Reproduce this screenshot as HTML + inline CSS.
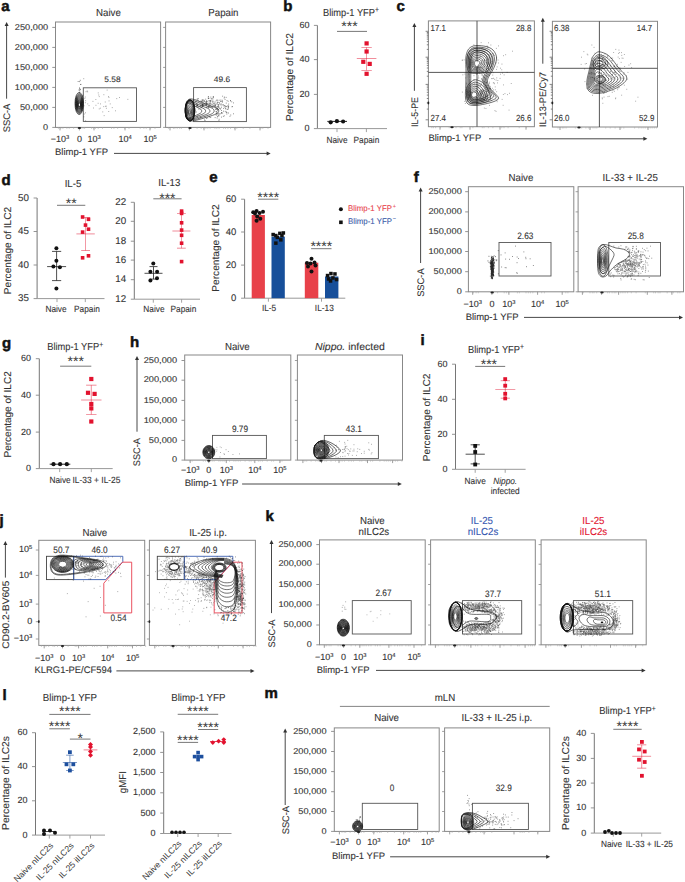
<!DOCTYPE html>
<html><head><meta charset="utf-8"><style>
html,body{margin:0;padding:0;background:#fff;}
svg{display:block;}
text{font-family:"Liberation Sans",sans-serif;text-rendering:geometricPrecision;paint-order:stroke;}
</style></head><body>
<svg width="685" height="882" viewBox="0 0 685 882">
<rect width="685" height="882" fill="#fff"/>
<text x="1.3" y="10.8" font-size="15" font-weight="bold" fill="#111" stroke="#111" stroke-width="0.5">a</text>
<text x="108.4" y="15.9" font-size="10.2" text-anchor="middle" fill="#333" stroke="#333" stroke-width="0.1" textLength="24.8" lengthAdjust="spacingAndGlyphs">Naive</text>
<text x="223.4" y="15.7" font-size="10.2" text-anchor="middle" fill="#333" stroke="#333" stroke-width="0.1" textLength="30.2" lengthAdjust="spacingAndGlyphs">Papain</text>
<rect x="55.5" y="22.0" width="105.1" height="105.4" stroke="#888" stroke-width="1" fill="none"/>
<rect x="165.6" y="22.0" width="105.0" height="105.4" stroke="#888" stroke-width="1" fill="none"/>
<line x1="52.3" y1="27.4" x2="55.5" y2="27.4" stroke="#888" stroke-width="0.9"/>
<text x="48.2" y="29.6" font-size="8.4" text-anchor="end" fill="#333" stroke="#333" stroke-width="0.1" textLength="33.4" lengthAdjust="spacingAndGlyphs">250,000</text>
<line x1="52.3" y1="47.4" x2="55.5" y2="47.4" stroke="#888" stroke-width="0.9"/>
<text x="48.2" y="49.6" font-size="8.4" text-anchor="end" fill="#333" stroke="#333" stroke-width="0.1" textLength="33.4" lengthAdjust="spacingAndGlyphs">200,000</text>
<line x1="52.3" y1="67.4" x2="55.5" y2="67.4" stroke="#888" stroke-width="0.9"/>
<text x="48.2" y="69.6" font-size="8.4" text-anchor="end" fill="#333" stroke="#333" stroke-width="0.1" textLength="33.4" lengthAdjust="spacingAndGlyphs">150,000</text>
<line x1="52.3" y1="87.4" x2="55.5" y2="87.4" stroke="#888" stroke-width="0.9"/>
<text x="48.2" y="89.6" font-size="8.4" text-anchor="end" fill="#333" stroke="#333" stroke-width="0.1" textLength="33.4" lengthAdjust="spacingAndGlyphs">100,000</text>
<line x1="52.3" y1="107.4" x2="55.5" y2="107.4" stroke="#888" stroke-width="0.9"/>
<text x="48.2" y="109.6" font-size="8.4" text-anchor="end" fill="#333" stroke="#333" stroke-width="0.1" textLength="28.3" lengthAdjust="spacingAndGlyphs">50,000</text>
<line x1="52.3" y1="127.4" x2="55.5" y2="127.4" stroke="#888" stroke-width="0.9"/>
<text x="48.2" y="129.6" font-size="8.4" text-anchor="end" fill="#333" stroke="#333" stroke-width="0.1" textLength="5.1" lengthAdjust="spacingAndGlyphs">0</text>
<line x1="163.1" y1="27.4" x2="165.6" y2="27.4" stroke="#888" stroke-width="0.8"/>
<line x1="163.1" y1="47.4" x2="165.6" y2="47.4" stroke="#888" stroke-width="0.8"/>
<line x1="163.1" y1="67.4" x2="165.6" y2="67.4" stroke="#888" stroke-width="0.8"/>
<line x1="163.1" y1="87.4" x2="165.6" y2="87.4" stroke="#888" stroke-width="0.8"/>
<line x1="163.1" y1="107.4" x2="165.6" y2="107.4" stroke="#888" stroke-width="0.8"/>
<line x1="163.1" y1="127.4" x2="165.6" y2="127.4" stroke="#888" stroke-width="0.8"/>
<line x1="60.0" y1="127.4" x2="60.0" y2="130.4" stroke="#888" stroke-width="0.8"/>
<line x1="79.4" y1="127.4" x2="79.4" y2="130.4" stroke="#888" stroke-width="0.8"/>
<line x1="94.0" y1="127.4" x2="94.0" y2="130.4" stroke="#888" stroke-width="0.8"/>
<line x1="125.0" y1="127.4" x2="125.0" y2="130.4" stroke="#888" stroke-width="0.8"/>
<line x1="150.0" y1="127.4" x2="150.0" y2="130.4" stroke="#888" stroke-width="0.8"/>
<line x1="58.4" y1="127.4" x2="58.4" y2="128.9" stroke="#aaa" stroke-width="0.6"/>
<line x1="60.8" y1="127.4" x2="60.8" y2="128.9" stroke="#aaa" stroke-width="0.6"/>
<line x1="62.9" y1="127.4" x2="62.9" y2="128.9" stroke="#aaa" stroke-width="0.6"/>
<line x1="66.9" y1="127.4" x2="66.9" y2="128.9" stroke="#aaa" stroke-width="0.6"/>
<line x1="69.2" y1="127.4" x2="69.2" y2="128.9" stroke="#aaa" stroke-width="0.6"/>
<line x1="73.6" y1="127.4" x2="73.6" y2="128.9" stroke="#aaa" stroke-width="0.6"/>
<line x1="78.4" y1="127.4" x2="78.4" y2="128.9" stroke="#aaa" stroke-width="0.6"/>
<line x1="80.9" y1="127.4" x2="80.9" y2="128.9" stroke="#aaa" stroke-width="0.6"/>
<line x1="83.0" y1="127.4" x2="83.0" y2="128.9" stroke="#aaa" stroke-width="0.6"/>
<line x1="84.6" y1="127.4" x2="84.6" y2="128.9" stroke="#aaa" stroke-width="0.6"/>
<line x1="91.6" y1="127.4" x2="91.6" y2="128.9" stroke="#aaa" stroke-width="0.6"/>
<line x1="93.7" y1="127.4" x2="93.7" y2="128.9" stroke="#aaa" stroke-width="0.6"/>
<line x1="95.5" y1="127.4" x2="95.5" y2="128.9" stroke="#aaa" stroke-width="0.6"/>
<line x1="98.2" y1="127.4" x2="98.2" y2="128.9" stroke="#aaa" stroke-width="0.6"/>
<line x1="102.5" y1="127.4" x2="102.5" y2="128.9" stroke="#aaa" stroke-width="0.6"/>
<line x1="111.5" y1="127.4" x2="111.5" y2="128.9" stroke="#aaa" stroke-width="0.6"/>
<line x1="113.9" y1="127.4" x2="113.9" y2="128.9" stroke="#aaa" stroke-width="0.6"/>
<line x1="117.6" y1="127.4" x2="117.6" y2="128.9" stroke="#aaa" stroke-width="0.6"/>
<line x1="124.8" y1="127.4" x2="124.8" y2="128.9" stroke="#aaa" stroke-width="0.6"/>
<line x1="129.0" y1="127.4" x2="129.0" y2="128.9" stroke="#aaa" stroke-width="0.6"/>
<line x1="140.2" y1="127.4" x2="140.2" y2="128.9" stroke="#aaa" stroke-width="0.6"/>
<line x1="143.9" y1="127.4" x2="143.9" y2="128.9" stroke="#aaa" stroke-width="0.6"/>
<line x1="146.2" y1="127.4" x2="146.2" y2="128.9" stroke="#aaa" stroke-width="0.6"/>
<line x1="150.6" y1="127.4" x2="150.6" y2="128.9" stroke="#aaa" stroke-width="0.6"/>
<line x1="155.0" y1="127.4" x2="155.0" y2="128.9" stroke="#aaa" stroke-width="0.6"/>
<line x1="170.0" y1="127.4" x2="170.0" y2="130.4" stroke="#888" stroke-width="0.8"/>
<line x1="189.4" y1="127.4" x2="189.4" y2="130.4" stroke="#888" stroke-width="0.8"/>
<line x1="204.0" y1="127.4" x2="204.0" y2="130.4" stroke="#888" stroke-width="0.8"/>
<line x1="235.0" y1="127.4" x2="235.0" y2="130.4" stroke="#888" stroke-width="0.8"/>
<line x1="260.0" y1="127.4" x2="260.0" y2="130.4" stroke="#888" stroke-width="0.8"/>
<line x1="168.4" y1="127.4" x2="168.4" y2="128.9" stroke="#aaa" stroke-width="0.6"/>
<line x1="173.4" y1="127.4" x2="173.4" y2="128.9" stroke="#aaa" stroke-width="0.6"/>
<line x1="174.9" y1="127.4" x2="174.9" y2="128.9" stroke="#aaa" stroke-width="0.6"/>
<line x1="177.2" y1="127.4" x2="177.2" y2="128.9" stroke="#aaa" stroke-width="0.6"/>
<line x1="179.7" y1="127.4" x2="179.7" y2="128.9" stroke="#aaa" stroke-width="0.6"/>
<line x1="181.4" y1="127.4" x2="181.4" y2="128.9" stroke="#aaa" stroke-width="0.6"/>
<line x1="190.7" y1="127.4" x2="190.7" y2="128.9" stroke="#aaa" stroke-width="0.6"/>
<line x1="197.1" y1="127.4" x2="197.1" y2="128.9" stroke="#aaa" stroke-width="0.6"/>
<line x1="201.2" y1="127.4" x2="201.2" y2="128.9" stroke="#aaa" stroke-width="0.6"/>
<line x1="203.6" y1="127.4" x2="203.6" y2="128.9" stroke="#aaa" stroke-width="0.6"/>
<line x1="205.9" y1="127.4" x2="205.9" y2="128.9" stroke="#aaa" stroke-width="0.6"/>
<line x1="207.8" y1="127.4" x2="207.8" y2="128.9" stroke="#aaa" stroke-width="0.6"/>
<line x1="210.1" y1="127.4" x2="210.1" y2="128.9" stroke="#aaa" stroke-width="0.6"/>
<line x1="214.9" y1="127.4" x2="214.9" y2="128.9" stroke="#aaa" stroke-width="0.6"/>
<line x1="216.8" y1="127.4" x2="216.8" y2="128.9" stroke="#aaa" stroke-width="0.6"/>
<line x1="219.1" y1="127.4" x2="219.1" y2="128.9" stroke="#aaa" stroke-width="0.6"/>
<line x1="223.6" y1="127.4" x2="223.6" y2="128.9" stroke="#aaa" stroke-width="0.6"/>
<line x1="225.5" y1="127.4" x2="225.5" y2="128.9" stroke="#aaa" stroke-width="0.6"/>
<line x1="227.9" y1="127.4" x2="227.9" y2="128.9" stroke="#aaa" stroke-width="0.6"/>
<line x1="230.5" y1="127.4" x2="230.5" y2="128.9" stroke="#aaa" stroke-width="0.6"/>
<line x1="234.6" y1="127.4" x2="234.6" y2="128.9" stroke="#aaa" stroke-width="0.6"/>
<line x1="236.8" y1="127.4" x2="236.8" y2="128.9" stroke="#aaa" stroke-width="0.6"/>
<line x1="243.2" y1="127.4" x2="243.2" y2="128.9" stroke="#aaa" stroke-width="0.6"/>
<line x1="249.9" y1="127.4" x2="249.9" y2="128.9" stroke="#aaa" stroke-width="0.6"/>
<line x1="260.9" y1="127.4" x2="260.9" y2="128.9" stroke="#aaa" stroke-width="0.6"/>
<line x1="262.8" y1="127.4" x2="262.8" y2="128.9" stroke="#aaa" stroke-width="0.6"/>
<line x1="268.0" y1="127.4" x2="268.0" y2="128.9" stroke="#aaa" stroke-width="0.6"/>
<text x="60.0" y="142.4" font-size="9" text-anchor="middle" fill="#333" stroke="#333" stroke-width="0.1">−10<tspan font-size="5.8" dy="-3.3">3</tspan></text>
<text x="79.4" y="142.4" font-size="9" text-anchor="middle" fill="#333" stroke="#333" stroke-width="0.1">0</text>
<text x="94.0" y="142.4" font-size="9" text-anchor="middle" fill="#333" stroke="#333" stroke-width="0.1">10<tspan font-size="5.8" dy="-3.3">3</tspan></text>
<text x="125.0" y="142.4" font-size="9" text-anchor="middle" fill="#333" stroke="#333" stroke-width="0.1">10<tspan font-size="5.8" dy="-3.3">4</tspan></text>
<text x="150.0" y="142.4" font-size="9" text-anchor="middle" fill="#333" stroke="#333" stroke-width="0.1">10<tspan font-size="5.8" dy="-3.3">5</tspan></text>
<text x="55.0" y="154.6" font-size="9.5" text-anchor="start" fill="#333" stroke="#333" stroke-width="0.1" textLength="53" lengthAdjust="spacingAndGlyphs">Blimp-1 YFP</text>
<line x1="114.0" y1="153.4" x2="267.6" y2="153.4" stroke="#333" stroke-width="0.9"/>
<path d="M266.6,151.4 L270.6,153.4 L266.6,155.4 Z" fill="#333"/>
<text transform="translate(6.7,118.0) rotate(-90)" x="0" y="3.4" font-size="9.5" text-anchor="middle" fill="#333" stroke="#333" stroke-width="0.1" textLength="28.6" lengthAdjust="spacingAndGlyphs">SSC-A</text>
<line x1="6.6" y1="25.0" x2="6.6" y2="98.7" stroke="#333" stroke-width="0.9"/>
<path d="M4.6,26.0 L6.6,22.0 L8.6,26.0 Z" fill="#333"/>
<rect x="83.3" y="87.8" width="53.2" height="33.6" stroke="#555" stroke-width="0.9" fill="none"/>
<rect x="193.6" y="87.6" width="52.8" height="34.0" stroke="#555" stroke-width="0.9" fill="none"/>
<text x="112.4" y="82.0" font-size="8.0" text-anchor="middle" fill="#333" stroke="#333" stroke-width="0.1" textLength="16.3" lengthAdjust="spacingAndGlyphs">5.58</text>
<text x="222.0" y="82.0" font-size="8.0" text-anchor="middle" fill="#333" stroke="#333" stroke-width="0.1" textLength="16.3" lengthAdjust="spacingAndGlyphs">49.6</text>
<text x="283.3" y="10.8" font-size="15" font-weight="bold" fill="#111" stroke="#111" stroke-width="0.5">b</text>
<text x="351.0" y="15.8" font-size="10.2" text-anchor="middle" fill="#333" stroke="#333" stroke-width="0.1" textLength="56" lengthAdjust="spacingAndGlyphs">Blimp-1 YFP<tspan font-size="7.5" dy="-3.6">+</tspan></text>
<line x1="317.4" y1="25.4" x2="317.4" y2="128.6" stroke="#666" stroke-width="0.9"/>
<line x1="317.4" y1="128.6" x2="387.0" y2="128.6" stroke="#999" stroke-width="1"/>
<line x1="313.9" y1="25.4" x2="317.4" y2="25.4" stroke="#888" stroke-width="0.9"/>
<text x="309.6" y="27.8" font-size="9" text-anchor="end" fill="#333" stroke="#333" stroke-width="0.1">60</text>
<line x1="313.9" y1="59.6" x2="317.4" y2="59.6" stroke="#888" stroke-width="0.9"/>
<text x="309.6" y="62.0" font-size="9" text-anchor="end" fill="#333" stroke="#333" stroke-width="0.1">40</text>
<line x1="313.9" y1="94.4" x2="317.4" y2="94.4" stroke="#888" stroke-width="0.9"/>
<text x="309.6" y="96.8" font-size="9" text-anchor="end" fill="#333" stroke="#333" stroke-width="0.1">20</text>
<line x1="313.9" y1="128.6" x2="317.4" y2="128.6" stroke="#888" stroke-width="0.9"/>
<text x="309.6" y="131.0" font-size="9" text-anchor="end" fill="#333" stroke="#333" stroke-width="0.1">0</text>
<line x1="337.0" y1="128.6" x2="337.0" y2="132.1" stroke="#999" stroke-width="0.9"/>
<line x1="366.4" y1="128.6" x2="366.4" y2="132.1" stroke="#999" stroke-width="0.9"/>
<text transform="translate(289.0,77.0) rotate(-90)" x="0" y="3.6" font-size="10" text-anchor="middle" fill="#333" stroke="#333" stroke-width="0.1" textLength="88" lengthAdjust="spacingAndGlyphs">Percentage of ILC2</text>
<text x="337.0" y="143.4" font-size="9.0" text-anchor="middle" fill="#333" stroke="#333" stroke-width="0.1" textLength="21.2" lengthAdjust="spacingAndGlyphs">Naive</text>
<text x="366.4" y="143.4" font-size="9.0" text-anchor="middle" fill="#333" stroke="#333" stroke-width="0.1" textLength="25.8" lengthAdjust="spacingAndGlyphs">Papain</text>
<line x1="337.0" y1="31.4" x2="367.0" y2="31.4" stroke="#555" stroke-width="0.8"/>
<text x="349.5" y="30.9" font-size="14" text-anchor="middle" fill="#333">***</text>
<line x1="327.3" y1="121.4" x2="347.0" y2="121.4" stroke="#111" stroke-width="0.9"/>
<circle cx="330.7" cy="122.3" r="2.1" fill="#111"/>
<circle cx="336.9" cy="121.2" r="2.1" fill="#111"/>
<circle cx="343.1" cy="121.5" r="2.1" fill="#111"/>
<line x1="356.8" y1="58.5" x2="376.4" y2="58.5" stroke="#e2122e" stroke-width="0.8" opacity="0.6"/>
<line x1="366.6" y1="47.4" x2="366.6" y2="70.4" stroke="#e2122e" stroke-width="0.8" opacity="0.6"/>
<line x1="361.4" y1="47.4" x2="371.8" y2="47.4" stroke="#e2122e" stroke-width="0.8" opacity="0.6"/>
<line x1="361.4" y1="70.4" x2="371.8" y2="70.4" stroke="#e2122e" stroke-width="0.8" opacity="0.6"/>
<rect x="364.5" y="41.3" width="4.2" height="4.2" fill="#e2122e"/>
<rect x="364.5" y="49.4" width="4.2" height="4.2" fill="#e2122e"/>
<rect x="361.2" y="59.7" width="4.2" height="4.2" fill="#e2122e"/>
<rect x="367.6" y="61.8" width="4.2" height="4.2" fill="#e2122e"/>
<rect x="364.5" y="71.7" width="4.2" height="4.2" fill="#e2122e"/>
<text x="396.5" y="10.8" font-size="15" font-weight="bold" fill="#111" stroke="#111" stroke-width="0.5">c</text>
<rect x="428.4" y="20.9" width="106.0" height="105.8" stroke="#888" stroke-width="1" fill="none"/>
<rect x="552.4" y="21.3" width="105.1" height="105.7" stroke="#888" stroke-width="1" fill="none"/>
<line x1="477.0" y1="20.9" x2="477.0" y2="126.7" stroke="#444" stroke-width="0.9"/>
<line x1="428.4" y1="72.4" x2="534.4" y2="72.4" stroke="#444" stroke-width="0.9"/>
<line x1="599.4" y1="21.3" x2="599.4" y2="127.0" stroke="#444" stroke-width="0.9"/>
<line x1="552.4" y1="68.3" x2="657.5" y2="68.3" stroke="#444" stroke-width="0.9"/>
<path d="M425.6 119.8H428.4M425.6 84.4H428.4M425.6 57.2H428.4M425.6 31.3H428.4M426.8 109.1H428.4M426.8 102.9H428.4M426.8 98.5H428.4M426.8 95.1H428.4M426.8 92.3H428.4M426.8 89.9H428.4M426.8 87.8H428.4M426.8 86.0H428.4M426.8 76.2H428.4M426.8 71.4H428.4M426.8 68.0H428.4M426.8 65.4H428.4M426.8 63.2H428.4M426.8 61.4H428.4M426.8 59.8H428.4M426.8 58.4H428.4M426.8 49.4H428.4M426.8 44.8H428.4M426.8 41.6H428.4M426.8 39.1H428.4M426.8 37.0H428.4M426.8 35.3H428.4M426.8 33.8H428.4M426.8 32.5H428.4" stroke="#666" stroke-width="0.8"/>
<path d="M549.6 119.8H552.4M549.6 84.4H552.4M549.6 57.2H552.4M549.6 31.3H552.4M550.8 109.1H552.4M550.8 102.9H552.4M550.8 98.5H552.4M550.8 95.1H552.4M550.8 92.3H552.4M550.8 89.9H552.4M550.8 87.8H552.4M550.8 86.0H552.4M550.8 76.2H552.4M550.8 71.4H552.4M550.8 68.0H552.4M550.8 65.4H552.4M550.8 63.2H552.4M550.8 61.4H552.4M550.8 59.8H552.4M550.8 58.4H552.4M550.8 49.4H552.4M550.8 44.8H552.4M550.8 41.6H552.4M550.8 39.1H552.4M550.8 37.0H552.4M550.8 35.3H552.4M550.8 33.8H552.4M550.8 32.5H552.4" stroke="#666" stroke-width="0.8"/>
<line x1="440.0" y1="126.7" x2="440.0" y2="129.7" stroke="#888" stroke-width="0.8"/>
<line x1="470.0" y1="126.7" x2="470.0" y2="129.7" stroke="#888" stroke-width="0.8"/>
<line x1="500.0" y1="126.7" x2="500.0" y2="129.7" stroke="#888" stroke-width="0.8"/>
<line x1="526.0" y1="126.7" x2="526.0" y2="129.7" stroke="#888" stroke-width="0.8"/>
<line x1="431.8" y1="126.7" x2="431.8" y2="128.2" stroke="#aaa" stroke-width="0.6"/>
<line x1="433.4" y1="126.7" x2="433.4" y2="128.2" stroke="#aaa" stroke-width="0.6"/>
<line x1="435.6" y1="126.7" x2="435.6" y2="128.2" stroke="#aaa" stroke-width="0.6"/>
<line x1="440.5" y1="126.7" x2="440.5" y2="128.2" stroke="#aaa" stroke-width="0.6"/>
<line x1="449.2" y1="126.7" x2="449.2" y2="128.2" stroke="#aaa" stroke-width="0.6"/>
<line x1="456.0" y1="126.7" x2="456.0" y2="128.2" stroke="#aaa" stroke-width="0.6"/>
<line x1="460.2" y1="126.7" x2="460.2" y2="128.2" stroke="#aaa" stroke-width="0.6"/>
<line x1="461.9" y1="126.7" x2="461.9" y2="128.2" stroke="#aaa" stroke-width="0.6"/>
<line x1="472.9" y1="126.7" x2="472.9" y2="128.2" stroke="#aaa" stroke-width="0.6"/>
<line x1="482.3" y1="126.7" x2="482.3" y2="128.2" stroke="#aaa" stroke-width="0.6"/>
<line x1="484.0" y1="126.7" x2="484.0" y2="128.2" stroke="#aaa" stroke-width="0.6"/>
<line x1="488.4" y1="126.7" x2="488.4" y2="128.2" stroke="#aaa" stroke-width="0.6"/>
<line x1="492.9" y1="126.7" x2="492.9" y2="128.2" stroke="#aaa" stroke-width="0.6"/>
<line x1="501.8" y1="126.7" x2="501.8" y2="128.2" stroke="#aaa" stroke-width="0.6"/>
<line x1="504.0" y1="126.7" x2="504.0" y2="128.2" stroke="#aaa" stroke-width="0.6"/>
<line x1="508.1" y1="126.7" x2="508.1" y2="128.2" stroke="#aaa" stroke-width="0.6"/>
<line x1="519.2" y1="126.7" x2="519.2" y2="128.2" stroke="#aaa" stroke-width="0.6"/>
<line x1="526.3" y1="126.7" x2="526.3" y2="128.2" stroke="#aaa" stroke-width="0.6"/>
<line x1="560.0" y1="127.0" x2="560.0" y2="130.0" stroke="#888" stroke-width="0.8"/>
<line x1="590.0" y1="127.0" x2="590.0" y2="130.0" stroke="#888" stroke-width="0.8"/>
<line x1="620.0" y1="127.0" x2="620.0" y2="130.0" stroke="#888" stroke-width="0.8"/>
<line x1="648.0" y1="127.0" x2="648.0" y2="130.0" stroke="#888" stroke-width="0.8"/>
<line x1="558.0" y1="127.0" x2="558.0" y2="128.5" stroke="#aaa" stroke-width="0.6"/>
<line x1="562.3" y1="127.0" x2="562.3" y2="128.5" stroke="#aaa" stroke-width="0.6"/>
<line x1="563.9" y1="127.0" x2="563.9" y2="128.5" stroke="#aaa" stroke-width="0.6"/>
<line x1="566.1" y1="127.0" x2="566.1" y2="128.5" stroke="#aaa" stroke-width="0.6"/>
<line x1="575.3" y1="127.0" x2="575.3" y2="128.5" stroke="#aaa" stroke-width="0.6"/>
<line x1="581.7" y1="127.0" x2="581.7" y2="128.5" stroke="#aaa" stroke-width="0.6"/>
<line x1="585.9" y1="127.0" x2="585.9" y2="128.5" stroke="#aaa" stroke-width="0.6"/>
<line x1="588.4" y1="127.0" x2="588.4" y2="128.5" stroke="#aaa" stroke-width="0.6"/>
<line x1="590.4" y1="127.0" x2="590.4" y2="128.5" stroke="#aaa" stroke-width="0.6"/>
<line x1="593.0" y1="127.0" x2="593.0" y2="128.5" stroke="#aaa" stroke-width="0.6"/>
<line x1="595.0" y1="127.0" x2="595.0" y2="128.5" stroke="#aaa" stroke-width="0.6"/>
<line x1="596.8" y1="127.0" x2="596.8" y2="128.5" stroke="#aaa" stroke-width="0.6"/>
<line x1="605.7" y1="127.0" x2="605.7" y2="128.5" stroke="#aaa" stroke-width="0.6"/>
<line x1="610.2" y1="127.0" x2="610.2" y2="128.5" stroke="#aaa" stroke-width="0.6"/>
<line x1="615.1" y1="127.0" x2="615.1" y2="128.5" stroke="#aaa" stroke-width="0.6"/>
<line x1="621.1" y1="127.0" x2="621.1" y2="128.5" stroke="#aaa" stroke-width="0.6"/>
<line x1="623.8" y1="127.0" x2="623.8" y2="128.5" stroke="#aaa" stroke-width="0.6"/>
<line x1="634.6" y1="127.0" x2="634.6" y2="128.5" stroke="#aaa" stroke-width="0.6"/>
<line x1="638.8" y1="127.0" x2="638.8" y2="128.5" stroke="#aaa" stroke-width="0.6"/>
<line x1="641.2" y1="127.0" x2="641.2" y2="128.5" stroke="#aaa" stroke-width="0.6"/>
<line x1="643.1" y1="127.0" x2="643.1" y2="128.5" stroke="#aaa" stroke-width="0.6"/>
<line x1="645.2" y1="127.0" x2="645.2" y2="128.5" stroke="#aaa" stroke-width="0.6"/>
<line x1="647.6" y1="127.0" x2="647.6" y2="128.5" stroke="#aaa" stroke-width="0.6"/>
<line x1="650.2" y1="127.0" x2="650.2" y2="128.5" stroke="#aaa" stroke-width="0.6"/>
<line x1="652.2" y1="127.0" x2="652.2" y2="128.5" stroke="#aaa" stroke-width="0.6"/>
<line x1="654.3" y1="127.0" x2="654.3" y2="128.5" stroke="#aaa" stroke-width="0.6"/>
<line x1="656.4" y1="127.0" x2="656.4" y2="128.5" stroke="#aaa" stroke-width="0.6"/>
<text x="430.5" y="30.6" font-size="8.8" text-anchor="start" fill="#333" stroke="#333" stroke-width="0.1" textLength="15.4" lengthAdjust="spacingAndGlyphs">17.1</text>
<text x="531.3" y="30.6" font-size="8.8" text-anchor="end" fill="#333" stroke="#333" stroke-width="0.1" textLength="15.4" lengthAdjust="spacingAndGlyphs">28.8</text>
<text x="430.5" y="120.8" font-size="8.8" text-anchor="start" fill="#333" stroke="#333" stroke-width="0.1" textLength="15.4" lengthAdjust="spacingAndGlyphs">27.4</text>
<text x="531.3" y="120.8" font-size="8.8" text-anchor="end" fill="#333" stroke="#333" stroke-width="0.1" textLength="15.4" lengthAdjust="spacingAndGlyphs">26.6</text>
<text x="554.0" y="30.6" font-size="8.8" text-anchor="start" fill="#333" stroke="#333" stroke-width="0.1" textLength="15.4" lengthAdjust="spacingAndGlyphs">6.38</text>
<text x="652.2" y="30.6" font-size="8.8" text-anchor="end" fill="#333" stroke="#333" stroke-width="0.1" textLength="15.4" lengthAdjust="spacingAndGlyphs">14.7</text>
<text x="554.0" y="120.8" font-size="8.8" text-anchor="start" fill="#333" stroke="#333" stroke-width="0.1" textLength="15.4" lengthAdjust="spacingAndGlyphs">26.0</text>
<text x="654.3" y="120.8" font-size="8.8" text-anchor="end" fill="#333" stroke="#333" stroke-width="0.1" textLength="15.4" lengthAdjust="spacingAndGlyphs">52.9</text>
<text transform="translate(414.4,112.0) rotate(-90)" x="0" y="3.4" font-size="9.5" text-anchor="middle" fill="#333" stroke="#333" stroke-width="0.1" textLength="30" lengthAdjust="spacingAndGlyphs">IL-5-PE</text>
<line x1="414.4" y1="26.0" x2="414.4" y2="90.8" stroke="#333" stroke-width="0.9"/>
<path d="M412.4,27.0 L414.4,23.0 L416.4,27.0 Z" fill="#333"/>
<text transform="translate(542.8,99.6) rotate(-90)" x="0" y="3.4" font-size="9.5" text-anchor="middle" fill="#333" stroke="#333" stroke-width="0.1" textLength="55" lengthAdjust="spacingAndGlyphs">IL-13-PE/Cy7</text>
<line x1="542.8" y1="20.7" x2="542.8" y2="63.7" stroke="#333" stroke-width="0.9"/>
<path d="M540.8,21.7 L542.8,17.7 L544.8,21.7 Z" fill="#333"/>
<text x="428.4" y="140.8" font-size="9.5" text-anchor="start" fill="#333" stroke="#333" stroke-width="0.1" textLength="52.8" lengthAdjust="spacingAndGlyphs">Blimp-1 YFP</text>
<line x1="489.0" y1="138.8" x2="644.4" y2="138.8" stroke="#333" stroke-width="0.9"/>
<path d="M643.4,136.8 L647.4,138.8 L643.4,140.8 Z" fill="#333"/>
<text x="1.5" y="184.8" font-size="15" font-weight="bold" fill="#111" stroke="#111" stroke-width="0.5">d</text>
<text x="73.0" y="187.4" font-size="10.2" text-anchor="middle" fill="#333" stroke="#333" stroke-width="0.1" textLength="16.7" lengthAdjust="spacingAndGlyphs">IL-5</text>
<text x="169.3" y="185.9" font-size="10.2" text-anchor="middle" fill="#333" stroke="#333" stroke-width="0.1" textLength="22.1" lengthAdjust="spacingAndGlyphs">IL-13</text>
<line x1="37.1" y1="198.0" x2="37.1" y2="298.6" stroke="#666" stroke-width="0.9"/>
<line x1="37.1" y1="298.6" x2="104.5" y2="298.6" stroke="#999" stroke-width="1"/>
<line x1="33.6" y1="198.0" x2="37.1" y2="198.0" stroke="#888" stroke-width="0.9"/>
<text x="28.9" y="200.7" font-size="9.8" text-anchor="end" fill="#333" stroke="#333" stroke-width="0.1">50</text>
<line x1="33.6" y1="231.5" x2="37.1" y2="231.5" stroke="#888" stroke-width="0.9"/>
<text x="28.9" y="234.2" font-size="9.8" text-anchor="end" fill="#333" stroke="#333" stroke-width="0.1">45</text>
<line x1="33.6" y1="265.0" x2="37.1" y2="265.0" stroke="#888" stroke-width="0.9"/>
<text x="28.9" y="267.7" font-size="9.8" text-anchor="end" fill="#333" stroke="#333" stroke-width="0.1">40</text>
<line x1="33.6" y1="298.6" x2="37.1" y2="298.6" stroke="#888" stroke-width="0.9"/>
<text x="28.9" y="301.3" font-size="9.8" text-anchor="end" fill="#333" stroke="#333" stroke-width="0.1">35</text>
<line x1="57.0" y1="298.6" x2="57.0" y2="302.1" stroke="#999" stroke-width="0.9"/>
<line x1="85.3" y1="298.6" x2="85.3" y2="302.1" stroke="#999" stroke-width="0.9"/>
<line x1="134.3" y1="202.3" x2="134.3" y2="299.2" stroke="#666" stroke-width="0.9"/>
<line x1="134.3" y1="299.2" x2="200.0" y2="299.2" stroke="#999" stroke-width="1"/>
<line x1="130.8" y1="202.3" x2="134.3" y2="202.3" stroke="#888" stroke-width="0.9"/>
<text x="126.1" y="205.0" font-size="9.8" text-anchor="end" fill="#333" stroke="#333" stroke-width="0.1">22</text>
<line x1="130.8" y1="221.3" x2="134.3" y2="221.3" stroke="#888" stroke-width="0.9"/>
<text x="126.1" y="224.0" font-size="9.8" text-anchor="end" fill="#333" stroke="#333" stroke-width="0.1">20</text>
<line x1="130.8" y1="241.2" x2="134.3" y2="241.2" stroke="#888" stroke-width="0.9"/>
<text x="126.1" y="243.9" font-size="9.8" text-anchor="end" fill="#333" stroke="#333" stroke-width="0.1">18</text>
<line x1="130.8" y1="260.1" x2="134.3" y2="260.1" stroke="#888" stroke-width="0.9"/>
<text x="126.1" y="262.8" font-size="9.8" text-anchor="end" fill="#333" stroke="#333" stroke-width="0.1">16</text>
<line x1="130.8" y1="279.7" x2="134.3" y2="279.7" stroke="#888" stroke-width="0.9"/>
<text x="126.1" y="282.4" font-size="9.8" text-anchor="end" fill="#333" stroke="#333" stroke-width="0.1">14</text>
<line x1="130.8" y1="299.2" x2="134.3" y2="299.2" stroke="#888" stroke-width="0.9"/>
<text x="126.1" y="301.9" font-size="9.8" text-anchor="end" fill="#333" stroke="#333" stroke-width="0.1">12</text>
<line x1="153.3" y1="299.2" x2="153.3" y2="302.7" stroke="#999" stroke-width="0.9"/>
<line x1="181.6" y1="299.2" x2="181.6" y2="302.7" stroke="#999" stroke-width="0.9"/>
<text transform="translate(7.3,250.5) rotate(-90)" x="0" y="3.6" font-size="10" text-anchor="middle" fill="#333" stroke="#333" stroke-width="0.1" textLength="87.5" lengthAdjust="spacingAndGlyphs">Percentage of ILC2</text>
<text x="56.0" y="311.6" font-size="9.0" text-anchor="middle" fill="#333" stroke="#333" stroke-width="0.1" textLength="21.2" lengthAdjust="spacingAndGlyphs">Naive</text>
<text x="87.0" y="311.6" font-size="9.0" text-anchor="middle" fill="#333" stroke="#333" stroke-width="0.1" textLength="25.8" lengthAdjust="spacingAndGlyphs">Papain</text>
<text x="153.9" y="312.4" font-size="9.0" text-anchor="middle" fill="#333" stroke="#333" stroke-width="0.1" textLength="21.2" lengthAdjust="spacingAndGlyphs">Naive</text>
<text x="183.4" y="312.4" font-size="9.0" text-anchor="middle" fill="#333" stroke="#333" stroke-width="0.1" textLength="25.8" lengthAdjust="spacingAndGlyphs">Papain</text>
<line x1="57.0" y1="205.3" x2="85.3" y2="205.3" stroke="#555" stroke-width="0.8"/>
<text x="71.2" y="208.2" font-size="14" text-anchor="middle" fill="#333">**</text>
<line x1="153.3" y1="198.8" x2="181.6" y2="198.8" stroke="#555" stroke-width="0.8"/>
<text x="167.4" y="202.6" font-size="14" text-anchor="middle" fill="#333">***</text>
<line x1="47.1" y1="266.6" x2="66.1" y2="266.6" stroke="#222" stroke-width="0.8"/>
<line x1="56.6" y1="251.4" x2="56.6" y2="280.6" stroke="#222" stroke-width="0.8"/>
<line x1="52.0" y1="251.4" x2="61.2" y2="251.4" stroke="#222" stroke-width="0.8"/>
<line x1="52.0" y1="280.6" x2="61.2" y2="280.6" stroke="#222" stroke-width="0.8"/>
<circle cx="56.4" cy="248.2" r="2.0" fill="#111"/>
<circle cx="56.4" cy="260.7" r="2.0" fill="#111"/>
<circle cx="53.4" cy="266.6" r="2.0" fill="#111"/>
<circle cx="59.9" cy="267.2" r="2.0" fill="#111"/>
<circle cx="56.4" cy="288.5" r="2.0" fill="#111"/>
<line x1="76.4" y1="233.9" x2="94.8" y2="233.9" stroke="#e2122e" stroke-width="0.8" opacity="0.6"/>
<line x1="85.6" y1="217.5" x2="85.6" y2="250.5" stroke="#e2122e" stroke-width="0.8" opacity="0.6"/>
<line x1="81.2" y1="217.5" x2="90.0" y2="217.5" stroke="#e2122e" stroke-width="0.8" opacity="0.6"/>
<line x1="81.2" y1="250.5" x2="90.0" y2="250.5" stroke="#e2122e" stroke-width="0.8" opacity="0.6"/>
<rect x="80.8" y="215.2" width="3.6" height="3.6" fill="#e2122e"/>
<rect x="86.7" y="217.5" width="3.6" height="3.6" fill="#e2122e"/>
<rect x="83.7" y="223.3" width="3.6" height="3.6" fill="#e2122e"/>
<rect x="86.7" y="227.4" width="3.6" height="3.6" fill="#e2122e"/>
<rect x="80.8" y="230.3" width="3.6" height="3.6" fill="#e2122e"/>
<rect x="86.7" y="254.0" width="3.6" height="3.6" fill="#e2122e"/>
<rect x="80.8" y="256.0" width="3.6" height="3.6" fill="#e2122e"/>
<line x1="144.5" y1="273.3" x2="162.5" y2="273.3" stroke="#222" stroke-width="0.8"/>
<line x1="153.5" y1="266.6" x2="153.5" y2="279.1" stroke="#222" stroke-width="0.8"/>
<line x1="149.5" y1="266.6" x2="157.5" y2="266.6" stroke="#222" stroke-width="0.8"/>
<line x1="149.5" y1="279.1" x2="157.5" y2="279.1" stroke="#222" stroke-width="0.8"/>
<circle cx="153.3" cy="263.6" r="2.0" fill="#111"/>
<circle cx="150.4" cy="271.8" r="2.0" fill="#111"/>
<circle cx="157.1" cy="271.8" r="2.0" fill="#111"/>
<circle cx="157.0" cy="278.2" r="2.0" fill="#111"/>
<circle cx="150.4" cy="280.6" r="2.0" fill="#111"/>
<line x1="172.4" y1="231.0" x2="190.4" y2="231.0" stroke="#e2122e" stroke-width="0.8" opacity="0.6"/>
<line x1="181.4" y1="213.4" x2="181.4" y2="248.2" stroke="#e2122e" stroke-width="0.8" opacity="0.6"/>
<line x1="177.0" y1="213.4" x2="185.8" y2="213.4" stroke="#e2122e" stroke-width="0.8" opacity="0.6"/>
<line x1="177.0" y1="248.2" x2="185.8" y2="248.2" stroke="#e2122e" stroke-width="0.8" opacity="0.6"/>
<rect x="179.8" y="209.3" width="3.6" height="3.6" fill="#e2122e"/>
<rect x="179.8" y="211.6" width="3.6" height="3.6" fill="#e2122e"/>
<rect x="179.8" y="221.0" width="3.6" height="3.6" fill="#e2122e"/>
<rect x="179.8" y="228.3" width="3.6" height="3.6" fill="#e2122e"/>
<rect x="179.8" y="233.5" width="3.6" height="3.6" fill="#e2122e"/>
<rect x="179.8" y="241.4" width="3.6" height="3.6" fill="#e2122e"/>
<rect x="179.8" y="259.8" width="3.6" height="3.6" fill="#e2122e"/>
<text x="209.3" y="181.6" font-size="15" font-weight="bold" fill="#111" stroke="#111" stroke-width="0.5">e</text>
<line x1="244.6" y1="199.2" x2="244.6" y2="298.2" stroke="#666" stroke-width="0.9"/>
<line x1="244.6" y1="298.2" x2="345.3" y2="298.2" stroke="#999" stroke-width="1"/>
<line x1="241.1" y1="199.2" x2="244.6" y2="199.2" stroke="#888" stroke-width="0.9"/>
<text x="236.4" y="201.8" font-size="9.5" text-anchor="end" fill="#333" stroke="#333" stroke-width="0.1">60</text>
<line x1="241.1" y1="232.0" x2="244.6" y2="232.0" stroke="#888" stroke-width="0.9"/>
<text x="236.4" y="234.6" font-size="9.5" text-anchor="end" fill="#333" stroke="#333" stroke-width="0.1">40</text>
<line x1="241.1" y1="265.1" x2="244.6" y2="265.1" stroke="#888" stroke-width="0.9"/>
<text x="236.4" y="267.7" font-size="9.5" text-anchor="end" fill="#333" stroke="#333" stroke-width="0.1">20</text>
<line x1="241.1" y1="298.2" x2="244.6" y2="298.2" stroke="#888" stroke-width="0.9"/>
<text x="236.4" y="300.8" font-size="9.5" text-anchor="end" fill="#333" stroke="#333" stroke-width="0.1">0</text>
<line x1="268.4" y1="298.2" x2="268.4" y2="301.7" stroke="#999" stroke-width="0.9"/>
<line x1="321.5" y1="298.2" x2="321.5" y2="301.7" stroke="#999" stroke-width="0.9"/>
<text transform="translate(215.1,248.0) rotate(-90)" x="0" y="3.6" font-size="10" text-anchor="middle" fill="#333" stroke="#333" stroke-width="0.1" textLength="87.3" lengthAdjust="spacingAndGlyphs">Percentage of ILC2</text>
<text x="269.1" y="310.7" font-size="9.0" text-anchor="middle" fill="#333" stroke="#333" stroke-width="0.1" textLength="14.3" lengthAdjust="spacingAndGlyphs">IL-5</text>
<text x="324.3" y="310.7" font-size="9.0" text-anchor="middle" fill="#333" stroke="#333" stroke-width="0.1" textLength="18.9" lengthAdjust="spacingAndGlyphs">IL-13</text>
<rect x="251.7" y="215" width="13.2" height="83.2" fill="#e8414a"/>
<rect x="271.5" y="236.6" width="13.3" height="61.6" fill="#174f9a"/>
<rect x="304.8" y="262.7" width="13.5" height="35.5" fill="#e8414a"/>
<rect x="325.0" y="276.5" width="13.4" height="21.7" fill="#174f9a"/>
<circle cx="253.2" cy="212.3" r="2.0" fill="#111"/>
<circle cx="256.6" cy="211.0" r="2.0" fill="#111"/>
<circle cx="259.6" cy="213.0" r="2.0" fill="#111"/>
<circle cx="263.0" cy="211.8" r="2.0" fill="#111"/>
<circle cx="257.2" cy="216.5" r="2.0" fill="#111"/>
<circle cx="260.3" cy="218.7" r="2.0" fill="#111"/>
<circle cx="256.6" cy="220.8" r="2.0" fill="#111"/>
<circle cx="255.0" cy="213.5" r="2.0" fill="#111"/>
<rect x="271.4" y="232.8" width="3.5" height="3.5" fill="#111"/>
<rect x="274.1" y="233.8" width="3.5" height="3.5" fill="#111"/>
<rect x="278.1" y="231.6" width="3.5" height="3.5" fill="#111"/>
<rect x="281.6" y="231.2" width="3.5" height="3.5" fill="#111"/>
<rect x="275.6" y="235.6" width="3.5" height="3.5" fill="#111"/>
<rect x="279.1" y="238.1" width="3.5" height="3.5" fill="#111"/>
<rect x="274.1" y="241.4" width="3.5" height="3.5" fill="#111"/>
<rect x="280.2" y="233.8" width="3.5" height="3.5" fill="#111"/>
<circle cx="307.0" cy="263.0" r="2.0" fill="#111"/>
<circle cx="310.5" cy="263.5" r="2.0" fill="#111"/>
<circle cx="314.5" cy="262.5" r="2.0" fill="#111"/>
<circle cx="311.5" cy="258.8" r="2.0" fill="#111"/>
<circle cx="315.5" cy="265.5" r="2.0" fill="#111"/>
<circle cx="308.0" cy="266.5" r="2.0" fill="#111"/>
<circle cx="311.5" cy="271.5" r="2.0" fill="#111"/>
<rect x="325.8" y="273.8" width="3.5" height="3.5" fill="#111"/>
<rect x="329.2" y="271.8" width="3.5" height="3.5" fill="#111"/>
<rect x="333.2" y="272.2" width="3.5" height="3.5" fill="#111"/>
<rect x="326.8" y="277.2" width="3.5" height="3.5" fill="#111"/>
<rect x="331.2" y="276.2" width="3.5" height="3.5" fill="#111"/>
<rect x="334.8" y="277.8" width="3.5" height="3.5" fill="#111"/>
<rect x="328.8" y="279.2" width="3.5" height="3.5" fill="#111"/>
<line x1="258.1" y1="199.2" x2="278.3" y2="199.2" stroke="#555" stroke-width="0.8"/>
<text x="268.2" y="201.5" font-size="14" text-anchor="middle" fill="#333">****</text>
<line x1="311.1" y1="248.7" x2="331.5" y2="248.7" stroke="#555" stroke-width="0.8"/>
<text x="321.3" y="251.0" font-size="14" text-anchor="middle" fill="#333">****</text>
<circle cx="340.9" cy="209.2" r="2.0" fill="#111"/>
<rect x="339.1" y="220.5" width="3.6" height="3.6" fill="#111"/>
<text x="348.1" y="211.4" font-size="8.3" text-anchor="start" fill="#e8414a" stroke="#e8414a" stroke-width="0.1" textLength="43.8" lengthAdjust="spacingAndGlyphs">Blimp-1 YFP</text>
<text x="392.8" y="207.5" font-size="5.5" text-anchor="start" fill="#e8414a" stroke="#e8414a" stroke-width="0.1">+</text>
<text x="348.1" y="224.3" font-size="8.3" text-anchor="start" fill="#3a5ba8" stroke="#3a5ba8" stroke-width="0.1" textLength="43.8" lengthAdjust="spacingAndGlyphs">Blimp-1 YFP</text>
<text x="392.8" y="220.4" font-size="5.5" text-anchor="start" fill="#3a5ba8" stroke="#3a5ba8" stroke-width="0.1">−</text>
<text x="413.8" y="182.0" font-size="15" font-weight="bold" fill="#111" stroke="#111" stroke-width="0.5">f</text>
<text x="520.9" y="181.1" font-size="10.2" text-anchor="middle" fill="#333" stroke="#333" stroke-width="0.1" textLength="24.8" lengthAdjust="spacingAndGlyphs">Naive</text>
<text x="630.2" y="181.1" font-size="10.2" text-anchor="middle" fill="#333" stroke="#333" stroke-width="0.1" textLength="55.2" lengthAdjust="spacingAndGlyphs">IL-33 + IL-25</text>
<rect x="468.4" y="186.7" width="105.4" height="105.1" stroke="#888" stroke-width="1" fill="none"/>
<rect x="578.1" y="186.7" width="105.4" height="105.1" stroke="#888" stroke-width="1" fill="none"/>
<line x1="465.2" y1="191.7" x2="468.4" y2="191.7" stroke="#888" stroke-width="0.9"/>
<text x="461.8" y="193.9" font-size="8.4" text-anchor="end" fill="#333" stroke="#333" stroke-width="0.1" textLength="33.4" lengthAdjust="spacingAndGlyphs">250,000</text>
<line x1="465.2" y1="211.9" x2="468.4" y2="211.9" stroke="#888" stroke-width="0.9"/>
<text x="461.8" y="214.1" font-size="8.4" text-anchor="end" fill="#333" stroke="#333" stroke-width="0.1" textLength="33.4" lengthAdjust="spacingAndGlyphs">200,000</text>
<line x1="465.2" y1="231.6" x2="468.4" y2="231.6" stroke="#888" stroke-width="0.9"/>
<text x="461.8" y="233.8" font-size="8.4" text-anchor="end" fill="#333" stroke="#333" stroke-width="0.1" textLength="33.4" lengthAdjust="spacingAndGlyphs">150,000</text>
<line x1="465.2" y1="251.5" x2="468.4" y2="251.5" stroke="#888" stroke-width="0.9"/>
<text x="461.8" y="253.7" font-size="8.4" text-anchor="end" fill="#333" stroke="#333" stroke-width="0.1" textLength="33.4" lengthAdjust="spacingAndGlyphs">100,000</text>
<line x1="465.2" y1="271.7" x2="468.4" y2="271.7" stroke="#888" stroke-width="0.9"/>
<text x="461.8" y="273.9" font-size="8.4" text-anchor="end" fill="#333" stroke="#333" stroke-width="0.1" textLength="28.3" lengthAdjust="spacingAndGlyphs">50,000</text>
<line x1="465.2" y1="291.8" x2="468.4" y2="291.8" stroke="#888" stroke-width="0.9"/>
<text x="461.8" y="294.0" font-size="8.4" text-anchor="end" fill="#333" stroke="#333" stroke-width="0.1" textLength="5.1" lengthAdjust="spacingAndGlyphs">0</text>
<line x1="575.6" y1="191.7" x2="578.1" y2="191.7" stroke="#888" stroke-width="0.8"/>
<line x1="575.6" y1="211.9" x2="578.1" y2="211.9" stroke="#888" stroke-width="0.8"/>
<line x1="575.6" y1="231.6" x2="578.1" y2="231.6" stroke="#888" stroke-width="0.8"/>
<line x1="575.6" y1="251.5" x2="578.1" y2="251.5" stroke="#888" stroke-width="0.8"/>
<line x1="575.6" y1="271.7" x2="578.1" y2="271.7" stroke="#888" stroke-width="0.8"/>
<line x1="575.6" y1="291.8" x2="578.1" y2="291.8" stroke="#888" stroke-width="0.8"/>
<line x1="472.7" y1="291.8" x2="472.7" y2="294.8" stroke="#888" stroke-width="0.8"/>
<line x1="491.9" y1="291.8" x2="491.9" y2="294.8" stroke="#888" stroke-width="0.8"/>
<line x1="508.9" y1="291.8" x2="508.9" y2="294.8" stroke="#888" stroke-width="0.8"/>
<line x1="537.6" y1="291.8" x2="537.6" y2="294.8" stroke="#888" stroke-width="0.8"/>
<line x1="562.2" y1="291.8" x2="562.2" y2="294.8" stroke="#888" stroke-width="0.8"/>
<line x1="473.4" y1="291.8" x2="473.4" y2="293.3" stroke="#aaa" stroke-width="0.6"/>
<line x1="476.1" y1="291.8" x2="476.1" y2="293.3" stroke="#aaa" stroke-width="0.6"/>
<line x1="478.3" y1="291.8" x2="478.3" y2="293.3" stroke="#aaa" stroke-width="0.6"/>
<line x1="491.1" y1="291.8" x2="491.1" y2="293.3" stroke="#aaa" stroke-width="0.6"/>
<line x1="493.0" y1="291.8" x2="493.0" y2="293.3" stroke="#aaa" stroke-width="0.6"/>
<line x1="497.6" y1="291.8" x2="497.6" y2="293.3" stroke="#aaa" stroke-width="0.6"/>
<line x1="504.2" y1="291.8" x2="504.2" y2="293.3" stroke="#aaa" stroke-width="0.6"/>
<line x1="506.4" y1="291.8" x2="506.4" y2="293.3" stroke="#aaa" stroke-width="0.6"/>
<line x1="508.5" y1="291.8" x2="508.5" y2="293.3" stroke="#aaa" stroke-width="0.6"/>
<line x1="517.4" y1="291.8" x2="517.4" y2="293.3" stroke="#aaa" stroke-width="0.6"/>
<line x1="519.4" y1="291.8" x2="519.4" y2="293.3" stroke="#aaa" stroke-width="0.6"/>
<line x1="526.0" y1="291.8" x2="526.0" y2="293.3" stroke="#aaa" stroke-width="0.6"/>
<line x1="528.3" y1="291.8" x2="528.3" y2="293.3" stroke="#aaa" stroke-width="0.6"/>
<line x1="530.4" y1="291.8" x2="530.4" y2="293.3" stroke="#aaa" stroke-width="0.6"/>
<line x1="532.8" y1="291.8" x2="532.8" y2="293.3" stroke="#aaa" stroke-width="0.6"/>
<line x1="541.7" y1="291.8" x2="541.7" y2="293.3" stroke="#aaa" stroke-width="0.6"/>
<line x1="544.4" y1="291.8" x2="544.4" y2="293.3" stroke="#aaa" stroke-width="0.6"/>
<line x1="565.8" y1="291.8" x2="565.8" y2="293.3" stroke="#aaa" stroke-width="0.6"/>
<line x1="567.9" y1="291.8" x2="567.9" y2="293.3" stroke="#aaa" stroke-width="0.6"/>
<line x1="582.4" y1="291.8" x2="582.4" y2="294.8" stroke="#888" stroke-width="0.8"/>
<line x1="601.6" y1="291.8" x2="601.6" y2="294.8" stroke="#888" stroke-width="0.8"/>
<line x1="618.6" y1="291.8" x2="618.6" y2="294.8" stroke="#888" stroke-width="0.8"/>
<line x1="647.3" y1="291.8" x2="647.3" y2="294.8" stroke="#888" stroke-width="0.8"/>
<line x1="671.9" y1="291.8" x2="671.9" y2="294.8" stroke="#888" stroke-width="0.8"/>
<line x1="583.3" y1="291.8" x2="583.3" y2="293.3" stroke="#aaa" stroke-width="0.6"/>
<line x1="590.0" y1="291.8" x2="590.0" y2="293.3" stroke="#aaa" stroke-width="0.6"/>
<line x1="592.3" y1="291.8" x2="592.3" y2="293.3" stroke="#aaa" stroke-width="0.6"/>
<line x1="594.0" y1="291.8" x2="594.0" y2="293.3" stroke="#aaa" stroke-width="0.6"/>
<line x1="596.7" y1="291.8" x2="596.7" y2="293.3" stroke="#aaa" stroke-width="0.6"/>
<line x1="600.9" y1="291.8" x2="600.9" y2="293.3" stroke="#aaa" stroke-width="0.6"/>
<line x1="607.6" y1="291.8" x2="607.6" y2="293.3" stroke="#aaa" stroke-width="0.6"/>
<line x1="609.4" y1="291.8" x2="609.4" y2="293.3" stroke="#aaa" stroke-width="0.6"/>
<line x1="612.1" y1="291.8" x2="612.1" y2="293.3" stroke="#aaa" stroke-width="0.6"/>
<line x1="614.2" y1="291.8" x2="614.2" y2="293.3" stroke="#aaa" stroke-width="0.6"/>
<line x1="615.9" y1="291.8" x2="615.9" y2="293.3" stroke="#aaa" stroke-width="0.6"/>
<line x1="620.8" y1="291.8" x2="620.8" y2="293.3" stroke="#aaa" stroke-width="0.6"/>
<line x1="622.9" y1="291.8" x2="622.9" y2="293.3" stroke="#aaa" stroke-width="0.6"/>
<line x1="625.1" y1="291.8" x2="625.1" y2="293.3" stroke="#aaa" stroke-width="0.6"/>
<line x1="627.6" y1="291.8" x2="627.6" y2="293.3" stroke="#aaa" stroke-width="0.6"/>
<line x1="631.3" y1="291.8" x2="631.3" y2="293.3" stroke="#aaa" stroke-width="0.6"/>
<line x1="636.1" y1="291.8" x2="636.1" y2="293.3" stroke="#aaa" stroke-width="0.6"/>
<line x1="645.3" y1="291.8" x2="645.3" y2="293.3" stroke="#aaa" stroke-width="0.6"/>
<line x1="653.7" y1="291.8" x2="653.7" y2="293.3" stroke="#aaa" stroke-width="0.6"/>
<line x1="655.5" y1="291.8" x2="655.5" y2="293.3" stroke="#aaa" stroke-width="0.6"/>
<line x1="658.1" y1="291.8" x2="658.1" y2="293.3" stroke="#aaa" stroke-width="0.6"/>
<line x1="660.0" y1="291.8" x2="660.0" y2="293.3" stroke="#aaa" stroke-width="0.6"/>
<line x1="667.2" y1="291.8" x2="667.2" y2="293.3" stroke="#aaa" stroke-width="0.6"/>
<line x1="671.6" y1="291.8" x2="671.6" y2="293.3" stroke="#aaa" stroke-width="0.6"/>
<line x1="673.4" y1="291.8" x2="673.4" y2="293.3" stroke="#aaa" stroke-width="0.6"/>
<line x1="677.8" y1="291.8" x2="677.8" y2="293.3" stroke="#aaa" stroke-width="0.6"/>
<line x1="679.9" y1="291.8" x2="679.9" y2="293.3" stroke="#aaa" stroke-width="0.6"/>
<text x="472.7" y="306.9" font-size="9" text-anchor="middle" fill="#333" stroke="#333" stroke-width="0.1">−10<tspan font-size="5.8" dy="-3.3">3</tspan></text>
<text x="491.9" y="306.9" font-size="9" text-anchor="middle" fill="#333" stroke="#333" stroke-width="0.1">0</text>
<text x="508.9" y="306.9" font-size="9" text-anchor="middle" fill="#333" stroke="#333" stroke-width="0.1">10<tspan font-size="5.8" dy="-3.3">3</tspan></text>
<text x="537.6" y="306.9" font-size="9" text-anchor="middle" fill="#333" stroke="#333" stroke-width="0.1">10<tspan font-size="5.8" dy="-3.3">4</tspan></text>
<text x="562.2" y="306.9" font-size="9" text-anchor="middle" fill="#333" stroke="#333" stroke-width="0.1">10<tspan font-size="5.8" dy="-3.3">5</tspan></text>
<text x="465.7" y="319.6" font-size="9.5" text-anchor="start" fill="#333" stroke="#333" stroke-width="0.1" textLength="53" lengthAdjust="spacingAndGlyphs">Blimp-1 YFP</text>
<line x1="524.0" y1="317.4" x2="680.0" y2="317.4" stroke="#333" stroke-width="0.9"/>
<path d="M679.0,315.4 L683.0,317.4 L679.0,319.4 Z" fill="#333"/>
<text transform="translate(420.6,282.6) rotate(-90)" x="0" y="3.4" font-size="9.5" text-anchor="middle" fill="#333" stroke="#333" stroke-width="0.1" textLength="28.5" lengthAdjust="spacingAndGlyphs">SSC-A</text>
<line x1="420.6" y1="190.4" x2="420.6" y2="263.0" stroke="#333" stroke-width="0.9"/>
<path d="M418.6,191.4 L420.6,187.4 L422.6,191.4 Z" fill="#333"/>
<rect x="499.0" y="242.5" width="52.0" height="33.5" stroke="#555" stroke-width="0.9" fill="none"/>
<rect x="608.8" y="242.5" width="51.7" height="33.5" stroke="#555" stroke-width="0.9" fill="none"/>
<text x="525.3" y="239.3" font-size="9.2" text-anchor="middle" fill="#333" stroke="#333" stroke-width="0.1" textLength="16.1" lengthAdjust="spacingAndGlyphs">2.63</text>
<text x="635.7" y="239.1" font-size="9.2" text-anchor="middle" fill="#333" stroke="#333" stroke-width="0.1" textLength="16.1" lengthAdjust="spacingAndGlyphs">25.8</text>
<text x="2.0" y="347.8" font-size="15" font-weight="bold" fill="#111" stroke="#111" stroke-width="0.5">g</text>
<text x="75.2" y="350.4" font-size="10.2" text-anchor="middle" fill="#333" stroke="#333" stroke-width="0.1" textLength="56" lengthAdjust="spacingAndGlyphs">Blimp-1 YFP<tspan font-size="7.5" dy="-3.6">+</tspan></text>
<line x1="39.3" y1="358.7" x2="39.3" y2="468.6" stroke="#666" stroke-width="0.9"/>
<line x1="39.3" y1="468.6" x2="112.7" y2="468.6" stroke="#999" stroke-width="1"/>
<line x1="35.8" y1="358.7" x2="39.3" y2="358.7" stroke="#888" stroke-width="0.9"/>
<text x="31.0" y="361.1" font-size="9" text-anchor="end" fill="#333" stroke="#333" stroke-width="0.1">60</text>
<line x1="35.8" y1="395.2" x2="39.3" y2="395.2" stroke="#888" stroke-width="0.9"/>
<text x="31.0" y="397.6" font-size="9" text-anchor="end" fill="#333" stroke="#333" stroke-width="0.1">40</text>
<line x1="35.8" y1="432.1" x2="39.3" y2="432.1" stroke="#888" stroke-width="0.9"/>
<text x="31.0" y="434.5" font-size="9" text-anchor="end" fill="#333" stroke="#333" stroke-width="0.1">20</text>
<line x1="35.8" y1="468.6" x2="39.3" y2="468.6" stroke="#888" stroke-width="0.9"/>
<text x="31.0" y="471.0" font-size="9" text-anchor="end" fill="#333" stroke="#333" stroke-width="0.1">0</text>
<line x1="59.7" y1="468.6" x2="59.7" y2="472.1" stroke="#999" stroke-width="0.9"/>
<line x1="91.3" y1="468.6" x2="91.3" y2="472.1" stroke="#999" stroke-width="0.9"/>
<text transform="translate(7.7,414.4) rotate(-90)" x="0" y="3.6" font-size="10" text-anchor="middle" fill="#333" stroke="#333" stroke-width="0.1" textLength="86.2" lengthAdjust="spacingAndGlyphs">Percentage of ILC2</text>
<text x="60.1" y="483.1" font-size="9.0" text-anchor="middle" fill="#333" stroke="#333" stroke-width="0.1" textLength="21.2" lengthAdjust="spacingAndGlyphs">Naive</text>
<text x="96.5" y="483.1" font-size="9" text-anchor="middle" fill="#333" stroke="#333" stroke-width="0.1" textLength="48" lengthAdjust="spacingAndGlyphs">IL-33 + IL-25</text>
<line x1="60.1" y1="366.2" x2="91.3" y2="366.2" stroke="#555" stroke-width="0.8"/>
<text x="75.7" y="365.7" font-size="14" text-anchor="middle" fill="#333">***</text>
<line x1="49.7" y1="464.2" x2="70.3" y2="464.2" stroke="#111" stroke-width="0.9"/>
<circle cx="53.5" cy="464.2" r="2.1" fill="#111"/>
<circle cx="60.1" cy="464.2" r="2.1" fill="#111"/>
<circle cx="66.8" cy="464.2" r="2.1" fill="#111"/>
<line x1="81.1" y1="400.0" x2="101.5" y2="400.0" stroke="#e2122e" stroke-width="0.8" opacity="0.6"/>
<line x1="91.3" y1="385.2" x2="91.3" y2="414.4" stroke="#e2122e" stroke-width="0.8" opacity="0.6"/>
<line x1="86.1" y1="385.2" x2="96.5" y2="385.2" stroke="#e2122e" stroke-width="0.8" opacity="0.6"/>
<line x1="86.1" y1="414.4" x2="96.5" y2="414.4" stroke="#e2122e" stroke-width="0.8" opacity="0.6"/>
<rect x="89.2" y="376.9" width="4.2" height="4.2" fill="#e2122e"/>
<rect x="85.9" y="390.7" width="4.2" height="4.2" fill="#e2122e"/>
<rect x="92.5" y="391.8" width="4.2" height="4.2" fill="#e2122e"/>
<rect x="89.2" y="401.9" width="4.2" height="4.2" fill="#e2122e"/>
<rect x="89.2" y="406.3" width="4.2" height="4.2" fill="#e2122e"/>
<rect x="89.2" y="419.4" width="4.2" height="4.2" fill="#e2122e"/>
<text x="130.0" y="347.0" font-size="15" font-weight="bold" fill="#111" stroke="#111" stroke-width="0.5">h</text>
<text x="237.3" y="350.0" font-size="10.2" text-anchor="middle" fill="#333" stroke="#333" stroke-width="0.1" textLength="24.8" lengthAdjust="spacingAndGlyphs">Naive</text>
<text x="349.9" y="349.5" font-size="10.2" text-anchor="middle" fill="#333" stroke="#333" stroke-width="0.1" textLength="70" lengthAdjust="spacingAndGlyphs"><tspan font-style="italic">Nippo.</tspan> infected</text>
<rect x="184.7" y="355.0" width="106.1" height="105.1" stroke="#888" stroke-width="1" fill="none"/>
<rect x="297.4" y="355.0" width="105.1" height="105.1" stroke="#888" stroke-width="1" fill="none"/>
<line x1="181.5" y1="360.5" x2="184.7" y2="360.5" stroke="#888" stroke-width="0.9"/>
<text x="177.1" y="362.7" font-size="8.4" text-anchor="end" fill="#333" stroke="#333" stroke-width="0.1" textLength="33.4" lengthAdjust="spacingAndGlyphs">250,000</text>
<line x1="181.5" y1="380.2" x2="184.7" y2="380.2" stroke="#888" stroke-width="0.9"/>
<text x="177.1" y="382.4" font-size="8.4" text-anchor="end" fill="#333" stroke="#333" stroke-width="0.1" textLength="33.4" lengthAdjust="spacingAndGlyphs">200,000</text>
<line x1="181.5" y1="400.4" x2="184.7" y2="400.4" stroke="#888" stroke-width="0.9"/>
<text x="177.1" y="402.6" font-size="8.4" text-anchor="end" fill="#333" stroke="#333" stroke-width="0.1" textLength="33.4" lengthAdjust="spacingAndGlyphs">150,000</text>
<line x1="181.5" y1="420.3" x2="184.7" y2="420.3" stroke="#888" stroke-width="0.9"/>
<text x="177.1" y="422.5" font-size="8.4" text-anchor="end" fill="#333" stroke="#333" stroke-width="0.1" textLength="33.4" lengthAdjust="spacingAndGlyphs">100,000</text>
<line x1="181.5" y1="440.4" x2="184.7" y2="440.4" stroke="#888" stroke-width="0.9"/>
<text x="177.1" y="442.6" font-size="8.4" text-anchor="end" fill="#333" stroke="#333" stroke-width="0.1" textLength="28.3" lengthAdjust="spacingAndGlyphs">50,000</text>
<line x1="181.5" y1="460.1" x2="184.7" y2="460.1" stroke="#888" stroke-width="0.9"/>
<text x="177.1" y="462.3" font-size="8.4" text-anchor="end" fill="#333" stroke="#333" stroke-width="0.1" textLength="5.1" lengthAdjust="spacingAndGlyphs">0</text>
<line x1="294.9" y1="360.5" x2="297.4" y2="360.5" stroke="#888" stroke-width="0.8"/>
<line x1="294.9" y1="380.2" x2="297.4" y2="380.2" stroke="#888" stroke-width="0.8"/>
<line x1="294.9" y1="400.4" x2="297.4" y2="400.4" stroke="#888" stroke-width="0.8"/>
<line x1="294.9" y1="420.3" x2="297.4" y2="420.3" stroke="#888" stroke-width="0.8"/>
<line x1="294.9" y1="440.4" x2="297.4" y2="440.4" stroke="#888" stroke-width="0.8"/>
<line x1="294.9" y1="460.1" x2="297.4" y2="460.1" stroke="#888" stroke-width="0.8"/>
<line x1="190.2" y1="460.1" x2="190.2" y2="463.1" stroke="#888" stroke-width="0.8"/>
<line x1="208.8" y1="460.1" x2="208.8" y2="463.1" stroke="#888" stroke-width="0.8"/>
<line x1="226.3" y1="460.1" x2="226.3" y2="463.1" stroke="#888" stroke-width="0.8"/>
<line x1="254.8" y1="460.1" x2="254.8" y2="463.1" stroke="#888" stroke-width="0.8"/>
<line x1="279.9" y1="460.1" x2="279.9" y2="463.1" stroke="#888" stroke-width="0.8"/>
<line x1="189.7" y1="460.1" x2="189.7" y2="461.6" stroke="#aaa" stroke-width="0.6"/>
<line x1="192.1" y1="460.1" x2="192.1" y2="461.6" stroke="#aaa" stroke-width="0.6"/>
<line x1="203.3" y1="460.1" x2="203.3" y2="461.6" stroke="#aaa" stroke-width="0.6"/>
<line x1="205.5" y1="460.1" x2="205.5" y2="461.6" stroke="#aaa" stroke-width="0.6"/>
<line x1="209.5" y1="460.1" x2="209.5" y2="461.6" stroke="#aaa" stroke-width="0.6"/>
<line x1="212.2" y1="460.1" x2="212.2" y2="461.6" stroke="#aaa" stroke-width="0.6"/>
<line x1="214.1" y1="460.1" x2="214.1" y2="461.6" stroke="#aaa" stroke-width="0.6"/>
<line x1="218.9" y1="460.1" x2="218.9" y2="461.6" stroke="#aaa" stroke-width="0.6"/>
<line x1="220.8" y1="460.1" x2="220.8" y2="461.6" stroke="#aaa" stroke-width="0.6"/>
<line x1="222.9" y1="460.1" x2="222.9" y2="461.6" stroke="#aaa" stroke-width="0.6"/>
<line x1="224.8" y1="460.1" x2="224.8" y2="461.6" stroke="#aaa" stroke-width="0.6"/>
<line x1="229.5" y1="460.1" x2="229.5" y2="461.6" stroke="#aaa" stroke-width="0.6"/>
<line x1="233.9" y1="460.1" x2="233.9" y2="461.6" stroke="#aaa" stroke-width="0.6"/>
<line x1="235.9" y1="460.1" x2="235.9" y2="461.6" stroke="#aaa" stroke-width="0.6"/>
<line x1="238.2" y1="460.1" x2="238.2" y2="461.6" stroke="#aaa" stroke-width="0.6"/>
<line x1="240.3" y1="460.1" x2="240.3" y2="461.6" stroke="#aaa" stroke-width="0.6"/>
<line x1="245.1" y1="460.1" x2="245.1" y2="461.6" stroke="#aaa" stroke-width="0.6"/>
<line x1="249.2" y1="460.1" x2="249.2" y2="461.6" stroke="#aaa" stroke-width="0.6"/>
<line x1="251.1" y1="460.1" x2="251.1" y2="461.6" stroke="#aaa" stroke-width="0.6"/>
<line x1="254.1" y1="460.1" x2="254.1" y2="461.6" stroke="#aaa" stroke-width="0.6"/>
<line x1="258.4" y1="460.1" x2="258.4" y2="461.6" stroke="#aaa" stroke-width="0.6"/>
<line x1="260.1" y1="460.1" x2="260.1" y2="461.6" stroke="#aaa" stroke-width="0.6"/>
<line x1="262.4" y1="460.1" x2="262.4" y2="461.6" stroke="#aaa" stroke-width="0.6"/>
<line x1="267.2" y1="460.1" x2="267.2" y2="461.6" stroke="#aaa" stroke-width="0.6"/>
<line x1="271.6" y1="460.1" x2="271.6" y2="461.6" stroke="#aaa" stroke-width="0.6"/>
<line x1="273.6" y1="460.1" x2="273.6" y2="461.6" stroke="#aaa" stroke-width="0.6"/>
<line x1="280.5" y1="460.1" x2="280.5" y2="461.6" stroke="#aaa" stroke-width="0.6"/>
<line x1="282.0" y1="460.1" x2="282.0" y2="461.6" stroke="#aaa" stroke-width="0.6"/>
<line x1="302.9" y1="460.1" x2="302.9" y2="463.1" stroke="#888" stroke-width="0.8"/>
<line x1="321.5" y1="460.1" x2="321.5" y2="463.1" stroke="#888" stroke-width="0.8"/>
<line x1="339.0" y1="460.1" x2="339.0" y2="463.1" stroke="#888" stroke-width="0.8"/>
<line x1="367.5" y1="460.1" x2="367.5" y2="463.1" stroke="#888" stroke-width="0.8"/>
<line x1="392.6" y1="460.1" x2="392.6" y2="463.1" stroke="#888" stroke-width="0.8"/>
<line x1="304.9" y1="460.1" x2="304.9" y2="461.6" stroke="#aaa" stroke-width="0.6"/>
<line x1="306.7" y1="460.1" x2="306.7" y2="461.6" stroke="#aaa" stroke-width="0.6"/>
<line x1="311.1" y1="460.1" x2="311.1" y2="461.6" stroke="#aaa" stroke-width="0.6"/>
<line x1="315.7" y1="460.1" x2="315.7" y2="461.6" stroke="#aaa" stroke-width="0.6"/>
<line x1="318.1" y1="460.1" x2="318.1" y2="461.6" stroke="#aaa" stroke-width="0.6"/>
<line x1="320.0" y1="460.1" x2="320.0" y2="461.6" stroke="#aaa" stroke-width="0.6"/>
<line x1="324.9" y1="460.1" x2="324.9" y2="461.6" stroke="#aaa" stroke-width="0.6"/>
<line x1="326.6" y1="460.1" x2="326.6" y2="461.6" stroke="#aaa" stroke-width="0.6"/>
<line x1="331.0" y1="460.1" x2="331.0" y2="461.6" stroke="#aaa" stroke-width="0.6"/>
<line x1="335.5" y1="460.1" x2="335.5" y2="461.6" stroke="#aaa" stroke-width="0.6"/>
<line x1="339.8" y1="460.1" x2="339.8" y2="461.6" stroke="#aaa" stroke-width="0.6"/>
<line x1="342.1" y1="460.1" x2="342.1" y2="461.6" stroke="#aaa" stroke-width="0.6"/>
<line x1="344.5" y1="460.1" x2="344.5" y2="461.6" stroke="#aaa" stroke-width="0.6"/>
<line x1="348.8" y1="460.1" x2="348.8" y2="461.6" stroke="#aaa" stroke-width="0.6"/>
<line x1="351.4" y1="460.1" x2="351.4" y2="461.6" stroke="#aaa" stroke-width="0.6"/>
<line x1="353.5" y1="460.1" x2="353.5" y2="461.6" stroke="#aaa" stroke-width="0.6"/>
<line x1="359.8" y1="460.1" x2="359.8" y2="461.6" stroke="#aaa" stroke-width="0.6"/>
<line x1="361.8" y1="460.1" x2="361.8" y2="461.6" stroke="#aaa" stroke-width="0.6"/>
<line x1="366.1" y1="460.1" x2="366.1" y2="461.6" stroke="#aaa" stroke-width="0.6"/>
<line x1="370.5" y1="460.1" x2="370.5" y2="461.6" stroke="#aaa" stroke-width="0.6"/>
<line x1="372.6" y1="460.1" x2="372.6" y2="461.6" stroke="#aaa" stroke-width="0.6"/>
<line x1="379.9" y1="460.1" x2="379.9" y2="461.6" stroke="#aaa" stroke-width="0.6"/>
<line x1="384.2" y1="460.1" x2="384.2" y2="461.6" stroke="#aaa" stroke-width="0.6"/>
<line x1="386.3" y1="460.1" x2="386.3" y2="461.6" stroke="#aaa" stroke-width="0.6"/>
<line x1="388.3" y1="460.1" x2="388.3" y2="461.6" stroke="#aaa" stroke-width="0.6"/>
<line x1="390.3" y1="460.1" x2="390.3" y2="461.6" stroke="#aaa" stroke-width="0.6"/>
<line x1="392.6" y1="460.1" x2="392.6" y2="461.6" stroke="#aaa" stroke-width="0.6"/>
<line x1="395.4" y1="460.1" x2="395.4" y2="461.6" stroke="#aaa" stroke-width="0.6"/>
<line x1="397.6" y1="460.1" x2="397.6" y2="461.6" stroke="#aaa" stroke-width="0.6"/>
<line x1="401.9" y1="460.1" x2="401.9" y2="461.6" stroke="#aaa" stroke-width="0.6"/>
<text x="190.2" y="473.4" font-size="9" text-anchor="middle" fill="#333" stroke="#333" stroke-width="0.1">−10<tspan font-size="5.8" dy="-3.3">3</tspan></text>
<text x="208.8" y="473.4" font-size="9" text-anchor="middle" fill="#333" stroke="#333" stroke-width="0.1">0</text>
<text x="226.3" y="473.4" font-size="9" text-anchor="middle" fill="#333" stroke="#333" stroke-width="0.1">10<tspan font-size="5.8" dy="-3.3">3</tspan></text>
<text x="254.8" y="473.4" font-size="9" text-anchor="middle" fill="#333" stroke="#333" stroke-width="0.1">10<tspan font-size="5.8" dy="-3.3">4</tspan></text>
<text x="279.9" y="473.4" font-size="9" text-anchor="middle" fill="#333" stroke="#333" stroke-width="0.1">10<tspan font-size="5.8" dy="-3.3">5</tspan></text>
<text x="184.7" y="485.7" font-size="9.5" text-anchor="start" fill="#333" stroke="#333" stroke-width="0.1" textLength="53.7" lengthAdjust="spacingAndGlyphs">Blimp-1 YFP</text>
<line x1="242.1" y1="484.0" x2="398.8" y2="484.0" stroke="#333" stroke-width="0.9"/>
<path d="M397.8,482.0 L401.8,484.0 L397.8,486.0 Z" fill="#333"/>
<text transform="translate(137.0,452.2) rotate(-90)" x="0" y="3.4" font-size="9.5" text-anchor="middle" fill="#333" stroke="#333" stroke-width="0.1" textLength="28.1" lengthAdjust="spacingAndGlyphs">SSC-A</text>
<line x1="137.0" y1="359.0" x2="137.0" y2="431.7" stroke="#333" stroke-width="0.9"/>
<path d="M135.0,360.0 L137.0,356.0 L139.0,360.0 Z" fill="#333"/>
<rect x="212.5" y="435.4" width="53.9" height="23.2" stroke="#555" stroke-width="0.9" fill="none"/>
<rect x="324.3" y="435.4" width="54.1" height="23.2" stroke="#555" stroke-width="0.9" fill="none"/>
<text x="240.0" y="432.0" font-size="9.2" text-anchor="middle" fill="#333" stroke="#333" stroke-width="0.1" textLength="16.1" lengthAdjust="spacingAndGlyphs">9.79</text>
<text x="353.9" y="431.8" font-size="9.2" text-anchor="middle" fill="#333" stroke="#333" stroke-width="0.1" textLength="16.1" lengthAdjust="spacingAndGlyphs">43.1</text>
<text x="420.5" y="345.2" font-size="15" font-weight="bold" fill="#111" stroke="#111" stroke-width="0.5">i</text>
<text x="496.0" y="353.0" font-size="10.2" text-anchor="middle" fill="#333" stroke="#333" stroke-width="0.1" textLength="56" lengthAdjust="spacingAndGlyphs">Blimp-1 YFP<tspan font-size="7.5" dy="-3.6">+</tspan></text>
<line x1="455.5" y1="364.2" x2="455.5" y2="469.3" stroke="#666" stroke-width="0.9"/>
<line x1="455.5" y1="469.3" x2="525.6" y2="469.3" stroke="#999" stroke-width="1"/>
<line x1="452.0" y1="364.2" x2="455.5" y2="364.2" stroke="#888" stroke-width="0.9"/>
<text x="447.4" y="366.6" font-size="9" text-anchor="end" fill="#333" stroke="#333" stroke-width="0.1">60</text>
<line x1="452.0" y1="399.3" x2="455.5" y2="399.3" stroke="#888" stroke-width="0.9"/>
<text x="447.4" y="401.7" font-size="9" text-anchor="end" fill="#333" stroke="#333" stroke-width="0.1">40</text>
<line x1="452.0" y1="434.3" x2="455.5" y2="434.3" stroke="#888" stroke-width="0.9"/>
<text x="447.4" y="436.7" font-size="9" text-anchor="end" fill="#333" stroke="#333" stroke-width="0.1">20</text>
<line x1="452.0" y1="469.3" x2="455.5" y2="469.3" stroke="#888" stroke-width="0.9"/>
<text x="447.4" y="471.7" font-size="9" text-anchor="end" fill="#333" stroke="#333" stroke-width="0.1">0</text>
<line x1="475.2" y1="469.3" x2="475.2" y2="472.8" stroke="#999" stroke-width="0.9"/>
<line x1="505.2" y1="469.3" x2="505.2" y2="472.8" stroke="#999" stroke-width="0.9"/>
<text transform="translate(426.4,417.4) rotate(-90)" x="0" y="3.6" font-size="10" text-anchor="middle" fill="#333" stroke="#333" stroke-width="0.1" textLength="87.6" lengthAdjust="spacingAndGlyphs">Percentage of ILC2</text>
<text x="475.2" y="484.0" font-size="9.0" text-anchor="middle" fill="#333" stroke="#333" stroke-width="0.1" textLength="21.2" lengthAdjust="spacingAndGlyphs">Naive</text>
<text x="505.2" y="484.0" font-size="9" text-anchor="middle" fill="#333" stroke="#333" stroke-width="0.1" font-style="italic" textLength="23.9" lengthAdjust="spacingAndGlyphs">Nippo.</text>
<text x="505.2" y="493.6" font-size="9.0" text-anchor="middle" fill="#333" stroke="#333" stroke-width="0.1" textLength="29.0" lengthAdjust="spacingAndGlyphs">infected</text>
<line x1="475.2" y1="366.4" x2="505.2" y2="366.4" stroke="#555" stroke-width="0.8"/>
<text x="488.9" y="368.9" font-size="14" text-anchor="middle" fill="#333">***</text>
<line x1="465.6" y1="454.2" x2="484.8" y2="454.2" stroke="#222" stroke-width="0.8"/>
<line x1="475.2" y1="444.8" x2="475.2" y2="463.9" stroke="#222" stroke-width="0.8"/>
<line x1="470.6" y1="444.8" x2="479.8" y2="444.8" stroke="#222" stroke-width="0.8"/>
<line x1="470.6" y1="463.9" x2="479.8" y2="463.9" stroke="#222" stroke-width="0.8"/>
<rect x="473.3" y="444.0" width="3.8" height="3.8" fill="#111"/>
<rect x="473.3" y="450.1" width="3.8" height="3.8" fill="#111"/>
<rect x="473.3" y="462.6" width="3.8" height="3.8" fill="#111"/>
<line x1="495.3" y1="389.4" x2="515.3" y2="389.4" stroke="#e2122e" stroke-width="0.8" opacity="0.6"/>
<line x1="505.3" y1="380.7" x2="505.3" y2="398.2" stroke="#e2122e" stroke-width="0.8" opacity="0.6"/>
<line x1="500.7" y1="380.7" x2="509.9" y2="380.7" stroke="#e2122e" stroke-width="0.8" opacity="0.6"/>
<line x1="500.7" y1="398.2" x2="509.9" y2="398.2" stroke="#e2122e" stroke-width="0.8" opacity="0.6"/>
<rect x="503.3" y="377.2" width="3.8" height="3.8" fill="#e2122e"/>
<rect x="503.3" y="383.8" width="3.8" height="3.8" fill="#e2122e"/>
<rect x="503.3" y="391.9" width="3.8" height="3.8" fill="#e2122e"/>
<rect x="503.3" y="396.5" width="3.8" height="3.8" fill="#e2122e"/>
<text x="-0.5" y="524.8" font-size="15" font-weight="bold" fill="#111" stroke="#111" stroke-width="0.5">j</text>
<text x="94.8" y="536.0" font-size="10.2" text-anchor="middle" fill="#333" stroke="#333" stroke-width="0.1" textLength="24.8" lengthAdjust="spacingAndGlyphs">Naive</text>
<text x="208.0" y="536.0" font-size="10.2" text-anchor="middle" fill="#333" stroke="#333" stroke-width="0.1" textLength="37.7" lengthAdjust="spacingAndGlyphs">IL-25 i.p.</text>
<rect x="38.8" y="540.3" width="105.9" height="105.1" stroke="#888" stroke-width="1" fill="none"/>
<rect x="149.4" y="540.3" width="106.0" height="105.1" stroke="#888" stroke-width="1" fill="none"/>
<line x1="35.8" y1="550.0" x2="38.8" y2="550.0" stroke="#888" stroke-width="0.8"/>
<line x1="35.8" y1="575.4" x2="38.8" y2="575.4" stroke="#888" stroke-width="0.8"/>
<line x1="35.8" y1="604.1" x2="38.8" y2="604.1" stroke="#888" stroke-width="0.8"/>
<line x1="35.8" y1="621.7" x2="38.8" y2="621.7" stroke="#888" stroke-width="0.8"/>
<line x1="35.8" y1="639.0" x2="38.8" y2="639.0" stroke="#888" stroke-width="0.8"/>
<line x1="146.9" y1="550.0" x2="149.4" y2="550.0" stroke="#888" stroke-width="0.8"/>
<line x1="146.9" y1="575.4" x2="149.4" y2="575.4" stroke="#888" stroke-width="0.8"/>
<line x1="146.9" y1="604.1" x2="149.4" y2="604.1" stroke="#888" stroke-width="0.8"/>
<line x1="146.9" y1="621.7" x2="149.4" y2="621.7" stroke="#888" stroke-width="0.8"/>
<line x1="146.9" y1="639.0" x2="149.4" y2="639.0" stroke="#888" stroke-width="0.8"/>
<text x="32.3" y="552.4" font-size="9" text-anchor="end" fill="#333" stroke="#333" stroke-width="0.1">10<tspan font-size="5.8" dy="-3.3">5</tspan></text>
<text x="32.3" y="577.8" font-size="9" text-anchor="end" fill="#333" stroke="#333" stroke-width="0.1">10<tspan font-size="5.8" dy="-3.3">4</tspan></text>
<text x="32.3" y="606.5" font-size="9" text-anchor="end" fill="#333" stroke="#333" stroke-width="0.1">10<tspan font-size="5.8" dy="-3.3">3</tspan></text>
<text x="32.3" y="624.1" font-size="9" text-anchor="end" fill="#333" stroke="#333" stroke-width="0.1">0</text>
<text x="32.3" y="641.4" font-size="9" text-anchor="end" fill="#333" stroke="#333" stroke-width="0.1">−10<tspan font-size="5.8" dy="-3.3">3</tspan></text>
<line x1="44.2" y1="645.4" x2="44.2" y2="648.4" stroke="#888" stroke-width="0.8"/>
<line x1="62.5" y1="645.4" x2="62.5" y2="648.4" stroke="#888" stroke-width="0.8"/>
<line x1="78.6" y1="645.4" x2="78.6" y2="648.4" stroke="#888" stroke-width="0.8"/>
<line x1="107.7" y1="645.4" x2="107.7" y2="648.4" stroke="#888" stroke-width="0.8"/>
<line x1="132.5" y1="645.4" x2="132.5" y2="648.4" stroke="#888" stroke-width="0.8"/>
<line x1="41.4" y1="645.4" x2="41.4" y2="646.9" stroke="#aaa" stroke-width="0.6"/>
<line x1="46.0" y1="645.4" x2="46.0" y2="646.9" stroke="#aaa" stroke-width="0.6"/>
<line x1="48.7" y1="645.4" x2="48.7" y2="646.9" stroke="#aaa" stroke-width="0.6"/>
<line x1="53.0" y1="645.4" x2="53.0" y2="646.9" stroke="#aaa" stroke-width="0.6"/>
<line x1="54.6" y1="645.4" x2="54.6" y2="646.9" stroke="#aaa" stroke-width="0.6"/>
<line x1="57.5" y1="645.4" x2="57.5" y2="646.9" stroke="#aaa" stroke-width="0.6"/>
<line x1="61.5" y1="645.4" x2="61.5" y2="646.9" stroke="#aaa" stroke-width="0.6"/>
<line x1="68.1" y1="645.4" x2="68.1" y2="646.9" stroke="#aaa" stroke-width="0.6"/>
<line x1="75.2" y1="645.4" x2="75.2" y2="646.9" stroke="#aaa" stroke-width="0.6"/>
<line x1="76.8" y1="645.4" x2="76.8" y2="646.9" stroke="#aaa" stroke-width="0.6"/>
<line x1="81.3" y1="645.4" x2="81.3" y2="646.9" stroke="#aaa" stroke-width="0.6"/>
<line x1="83.5" y1="645.4" x2="83.5" y2="646.9" stroke="#aaa" stroke-width="0.6"/>
<line x1="86.1" y1="645.4" x2="86.1" y2="646.9" stroke="#aaa" stroke-width="0.6"/>
<line x1="92.5" y1="645.4" x2="92.5" y2="646.9" stroke="#aaa" stroke-width="0.6"/>
<line x1="94.5" y1="645.4" x2="94.5" y2="646.9" stroke="#aaa" stroke-width="0.6"/>
<line x1="97.0" y1="645.4" x2="97.0" y2="646.9" stroke="#aaa" stroke-width="0.6"/>
<line x1="101.0" y1="645.4" x2="101.0" y2="646.9" stroke="#aaa" stroke-width="0.6"/>
<line x1="109.8" y1="645.4" x2="109.8" y2="646.9" stroke="#aaa" stroke-width="0.6"/>
<line x1="111.9" y1="645.4" x2="111.9" y2="646.9" stroke="#aaa" stroke-width="0.6"/>
<line x1="114.6" y1="645.4" x2="114.6" y2="646.9" stroke="#aaa" stroke-width="0.6"/>
<line x1="116.4" y1="645.4" x2="116.4" y2="646.9" stroke="#aaa" stroke-width="0.6"/>
<line x1="123.3" y1="645.4" x2="123.3" y2="646.9" stroke="#aaa" stroke-width="0.6"/>
<line x1="125.7" y1="645.4" x2="125.7" y2="646.9" stroke="#aaa" stroke-width="0.6"/>
<line x1="127.7" y1="645.4" x2="127.7" y2="646.9" stroke="#aaa" stroke-width="0.6"/>
<line x1="130.0" y1="645.4" x2="130.0" y2="646.9" stroke="#aaa" stroke-width="0.6"/>
<line x1="131.8" y1="645.4" x2="131.8" y2="646.9" stroke="#aaa" stroke-width="0.6"/>
<line x1="136.5" y1="645.4" x2="136.5" y2="646.9" stroke="#aaa" stroke-width="0.6"/>
<line x1="140.8" y1="645.4" x2="140.8" y2="646.9" stroke="#aaa" stroke-width="0.6"/>
<line x1="145.6" y1="645.4" x2="145.6" y2="646.9" stroke="#aaa" stroke-width="0.6"/>
<line x1="154.8" y1="645.4" x2="154.8" y2="648.4" stroke="#888" stroke-width="0.8"/>
<line x1="173.1" y1="645.4" x2="173.1" y2="648.4" stroke="#888" stroke-width="0.8"/>
<line x1="189.2" y1="645.4" x2="189.2" y2="648.4" stroke="#888" stroke-width="0.8"/>
<line x1="218.3" y1="645.4" x2="218.3" y2="648.4" stroke="#888" stroke-width="0.8"/>
<line x1="243.1" y1="645.4" x2="243.1" y2="648.4" stroke="#888" stroke-width="0.8"/>
<line x1="156.4" y1="645.4" x2="156.4" y2="646.9" stroke="#aaa" stroke-width="0.6"/>
<line x1="158.7" y1="645.4" x2="158.7" y2="646.9" stroke="#aaa" stroke-width="0.6"/>
<line x1="163.7" y1="645.4" x2="163.7" y2="646.9" stroke="#aaa" stroke-width="0.6"/>
<line x1="165.9" y1="645.4" x2="165.9" y2="646.9" stroke="#aaa" stroke-width="0.6"/>
<line x1="170.4" y1="645.4" x2="170.4" y2="646.9" stroke="#aaa" stroke-width="0.6"/>
<line x1="174.2" y1="645.4" x2="174.2" y2="646.9" stroke="#aaa" stroke-width="0.6"/>
<line x1="176.3" y1="645.4" x2="176.3" y2="646.9" stroke="#aaa" stroke-width="0.6"/>
<line x1="181.1" y1="645.4" x2="181.1" y2="646.9" stroke="#aaa" stroke-width="0.6"/>
<line x1="182.8" y1="645.4" x2="182.8" y2="646.9" stroke="#aaa" stroke-width="0.6"/>
<line x1="185.5" y1="645.4" x2="185.5" y2="646.9" stroke="#aaa" stroke-width="0.6"/>
<line x1="187.4" y1="645.4" x2="187.4" y2="646.9" stroke="#aaa" stroke-width="0.6"/>
<line x1="191.7" y1="645.4" x2="191.7" y2="646.9" stroke="#aaa" stroke-width="0.6"/>
<line x1="196.5" y1="645.4" x2="196.5" y2="646.9" stroke="#aaa" stroke-width="0.6"/>
<line x1="200.7" y1="645.4" x2="200.7" y2="646.9" stroke="#aaa" stroke-width="0.6"/>
<line x1="207.3" y1="645.4" x2="207.3" y2="646.9" stroke="#aaa" stroke-width="0.6"/>
<line x1="211.7" y1="645.4" x2="211.7" y2="646.9" stroke="#aaa" stroke-width="0.6"/>
<line x1="214.2" y1="645.4" x2="214.2" y2="646.9" stroke="#aaa" stroke-width="0.6"/>
<line x1="222.8" y1="645.4" x2="222.8" y2="646.9" stroke="#aaa" stroke-width="0.6"/>
<line x1="233.5" y1="645.4" x2="233.5" y2="646.9" stroke="#aaa" stroke-width="0.6"/>
<line x1="237.9" y1="645.4" x2="237.9" y2="646.9" stroke="#aaa" stroke-width="0.6"/>
<line x1="242.4" y1="645.4" x2="242.4" y2="646.9" stroke="#aaa" stroke-width="0.6"/>
<line x1="247.0" y1="645.4" x2="247.0" y2="646.9" stroke="#aaa" stroke-width="0.6"/>
<line x1="249.5" y1="645.4" x2="249.5" y2="646.9" stroke="#aaa" stroke-width="0.6"/>
<line x1="253.9" y1="645.4" x2="253.9" y2="646.9" stroke="#aaa" stroke-width="0.6"/>
<line x1="256.0" y1="645.4" x2="256.0" y2="646.9" stroke="#aaa" stroke-width="0.6"/>
<text x="44.2" y="660.8" font-size="9" text-anchor="middle" fill="#333" stroke="#333" stroke-width="0.1">−10<tspan font-size="5.8" dy="-3.3">3</tspan></text>
<text x="62.5" y="660.8" font-size="9" text-anchor="middle" fill="#333" stroke="#333" stroke-width="0.1">0</text>
<text x="78.6" y="660.8" font-size="9" text-anchor="middle" fill="#333" stroke="#333" stroke-width="0.1">10<tspan font-size="5.8" dy="-3.3">3</tspan></text>
<text x="107.7" y="660.8" font-size="9" text-anchor="middle" fill="#333" stroke="#333" stroke-width="0.1">10<tspan font-size="5.8" dy="-3.3">4</tspan></text>
<text x="132.5" y="660.8" font-size="9" text-anchor="middle" fill="#333" stroke="#333" stroke-width="0.1">10<tspan font-size="5.8" dy="-3.3">5</tspan></text>
<text x="34.5" y="673.3" font-size="9.5" text-anchor="start" fill="#333" stroke="#333" stroke-width="0.1" textLength="77.5" lengthAdjust="spacingAndGlyphs">KLRG1-PE/CF594</text>
<line x1="116.4" y1="670.9" x2="251.5" y2="670.9" stroke="#333" stroke-width="0.9"/>
<path d="M250.5,668.9 L254.5,670.9 L250.5,672.9 Z" fill="#333"/>
<text transform="translate(5.4,614.7) rotate(-90)" x="0" y="3.4" font-size="9.5" text-anchor="middle" fill="#333" stroke="#333" stroke-width="0.1" textLength="67.9" lengthAdjust="spacingAndGlyphs">CD90.2-BV605</text>
<line x1="5.4" y1="544.0" x2="5.4" y2="577.6" stroke="#333" stroke-width="0.9"/>
<path d="M3.4,545.0 L5.4,541.0 L7.4,545.0 Z" fill="#333"/>
<rect x="46.5" y="556.3" width="27.2" height="23.3" stroke="#444" stroke-width="0.9" fill="none"/>
<path d="M73.7,556.3 L122.8,556.3 L122.8,561.8 L105.7,579.6 L73.7,579.6 Z" stroke="#3c5fb0" stroke-width="0.9" fill="none"/>
<path d="M122.5,562.2 L131.7,562.2 L131.7,612.9 L103.8,612.9 L103.8,583.2 Z" stroke="#e8404f" stroke-width="0.9" fill="none"/>
<rect x="157.3" y="556.3" width="27.0" height="23.3" stroke="#444" stroke-width="0.9" fill="none"/>
<path d="M184.3,556.3 L232.8,556.3 L232.8,562.1 L216.4,579.6 L184.3,579.6 Z" stroke="#3c5fb0" stroke-width="0.9" fill="none"/>
<path d="M232.5,562.2 L242,562.2 L242,612.9 L214.2,612.9 L214.2,582.7 Z" stroke="#e8404f" stroke-width="0.9" fill="none"/>
<text x="61.4" y="552.9" font-size="9.2" text-anchor="middle" fill="#333" stroke="#333" stroke-width="0.1" textLength="16.1" lengthAdjust="spacingAndGlyphs">50.7</text>
<text x="99.5" y="552.9" font-size="9.2" text-anchor="middle" fill="#333" stroke="#333" stroke-width="0.1" textLength="16.1" lengthAdjust="spacingAndGlyphs">46.0</text>
<text x="118.5" y="621.3" font-size="9.2" text-anchor="middle" fill="#333" stroke="#333" stroke-width="0.1" textLength="16.1" lengthAdjust="spacingAndGlyphs">0.54</text>
<text x="172.0" y="552.9" font-size="9.2" text-anchor="middle" fill="#333" stroke="#333" stroke-width="0.1" textLength="16.1" lengthAdjust="spacingAndGlyphs">6.27</text>
<text x="209.3" y="552.5" font-size="9.2" text-anchor="middle" fill="#333" stroke="#333" stroke-width="0.1" textLength="16.1" lengthAdjust="spacingAndGlyphs">40.9</text>
<text x="228.7" y="621.3" font-size="9.2" text-anchor="middle" fill="#333" stroke="#333" stroke-width="0.1" textLength="16.1" lengthAdjust="spacingAndGlyphs">47.2</text>
<text x="265.5" y="520.5" font-size="15" font-weight="bold" fill="#111" stroke="#111" stroke-width="0.5">k</text>
<text x="372.3" y="523.6" font-size="10.2" text-anchor="middle" fill="#333" stroke="#333" stroke-width="0.1" textLength="24.8" lengthAdjust="spacingAndGlyphs">Naive</text>
<text x="373.8" y="535.0" font-size="10.2" text-anchor="middle" fill="#333" stroke="#333" stroke-width="0.1" textLength="30.7" lengthAdjust="spacingAndGlyphs">nILC2s</text>
<text x="481.9" y="523.6" font-size="10.2" text-anchor="middle" fill="#3557b0" stroke="#3557b0" stroke-width="0.1" textLength="22.1" lengthAdjust="spacingAndGlyphs">IL-25</text>
<text x="483.0" y="535.0" font-size="10.2" text-anchor="middle" fill="#3557b0" stroke="#3557b0" stroke-width="0.1" textLength="30.7" lengthAdjust="spacingAndGlyphs">nILC2s</text>
<text x="593.4" y="523.6" font-size="10.2" text-anchor="middle" fill="#e2122e" stroke="#e2122e" stroke-width="0.1" textLength="22.1" lengthAdjust="spacingAndGlyphs">IL-25</text>
<text x="593.4" y="535.0" font-size="10.2" text-anchor="middle" fill="#e2122e" stroke="#e2122e" stroke-width="0.1" textLength="27.5" lengthAdjust="spacingAndGlyphs">iILC2s</text>
<rect x="319.5" y="539.9" width="105.7" height="104.9" stroke="#888" stroke-width="1" fill="none"/>
<rect x="430.6" y="539.9" width="104.7" height="104.9" stroke="#888" stroke-width="1" fill="none"/>
<rect x="541.1" y="539.9" width="105.1" height="104.9" stroke="#888" stroke-width="1" fill="none"/>
<line x1="316.3" y1="544.6" x2="319.5" y2="544.6" stroke="#888" stroke-width="0.9"/>
<text x="311.8" y="546.8" font-size="8.4" text-anchor="end" fill="#333" stroke="#333" stroke-width="0.1" textLength="33.4" lengthAdjust="spacingAndGlyphs">250,000</text>
<line x1="316.3" y1="564.2" x2="319.5" y2="564.2" stroke="#888" stroke-width="0.9"/>
<text x="311.8" y="566.4" font-size="8.4" text-anchor="end" fill="#333" stroke="#333" stroke-width="0.1" textLength="33.4" lengthAdjust="spacingAndGlyphs">200,000</text>
<line x1="316.3" y1="584.5" x2="319.5" y2="584.5" stroke="#888" stroke-width="0.9"/>
<text x="311.8" y="586.7" font-size="8.4" text-anchor="end" fill="#333" stroke="#333" stroke-width="0.1" textLength="33.4" lengthAdjust="spacingAndGlyphs">150,000</text>
<line x1="316.3" y1="604.9" x2="319.5" y2="604.9" stroke="#888" stroke-width="0.9"/>
<text x="311.8" y="607.1" font-size="8.4" text-anchor="end" fill="#333" stroke="#333" stroke-width="0.1" textLength="33.4" lengthAdjust="spacingAndGlyphs">100,000</text>
<line x1="316.3" y1="625.0" x2="319.5" y2="625.0" stroke="#888" stroke-width="0.9"/>
<text x="311.8" y="627.2" font-size="8.4" text-anchor="end" fill="#333" stroke="#333" stroke-width="0.1" textLength="28.3" lengthAdjust="spacingAndGlyphs">50,000</text>
<line x1="316.3" y1="644.8" x2="319.5" y2="644.8" stroke="#888" stroke-width="0.9"/>
<text x="311.8" y="647.0" font-size="8.4" text-anchor="end" fill="#333" stroke="#333" stroke-width="0.1" textLength="5.1" lengthAdjust="spacingAndGlyphs">0</text>
<line x1="428.1" y1="544.6" x2="430.6" y2="544.6" stroke="#888" stroke-width="0.8"/>
<line x1="428.1" y1="564.2" x2="430.6" y2="564.2" stroke="#888" stroke-width="0.8"/>
<line x1="428.1" y1="584.5" x2="430.6" y2="584.5" stroke="#888" stroke-width="0.8"/>
<line x1="428.1" y1="604.9" x2="430.6" y2="604.9" stroke="#888" stroke-width="0.8"/>
<line x1="428.1" y1="625.0" x2="430.6" y2="625.0" stroke="#888" stroke-width="0.8"/>
<line x1="428.1" y1="644.8" x2="430.6" y2="644.8" stroke="#888" stroke-width="0.8"/>
<line x1="538.6" y1="544.6" x2="541.1" y2="544.6" stroke="#888" stroke-width="0.8"/>
<line x1="538.6" y1="564.2" x2="541.1" y2="564.2" stroke="#888" stroke-width="0.8"/>
<line x1="538.6" y1="584.5" x2="541.1" y2="584.5" stroke="#888" stroke-width="0.8"/>
<line x1="538.6" y1="604.9" x2="541.1" y2="604.9" stroke="#888" stroke-width="0.8"/>
<line x1="538.6" y1="625.0" x2="541.1" y2="625.0" stroke="#888" stroke-width="0.8"/>
<line x1="538.6" y1="644.8" x2="541.1" y2="644.8" stroke="#888" stroke-width="0.8"/>
<line x1="324.3" y1="644.8" x2="324.3" y2="647.8" stroke="#888" stroke-width="0.8"/>
<line x1="343.6" y1="644.8" x2="343.6" y2="647.8" stroke="#888" stroke-width="0.8"/>
<line x1="359.8" y1="644.8" x2="359.8" y2="647.8" stroke="#888" stroke-width="0.8"/>
<line x1="388.9" y1="644.8" x2="388.9" y2="647.8" stroke="#888" stroke-width="0.8"/>
<line x1="414.0" y1="644.8" x2="414.0" y2="647.8" stroke="#888" stroke-width="0.8"/>
<line x1="325.0" y1="644.8" x2="325.0" y2="646.3" stroke="#aaa" stroke-width="0.6"/>
<line x1="326.7" y1="644.8" x2="326.7" y2="646.3" stroke="#aaa" stroke-width="0.6"/>
<line x1="329.1" y1="644.8" x2="329.1" y2="646.3" stroke="#aaa" stroke-width="0.6"/>
<line x1="331.0" y1="644.8" x2="331.0" y2="646.3" stroke="#aaa" stroke-width="0.6"/>
<line x1="338.1" y1="644.8" x2="338.1" y2="646.3" stroke="#aaa" stroke-width="0.6"/>
<line x1="340.4" y1="644.8" x2="340.4" y2="646.3" stroke="#aaa" stroke-width="0.6"/>
<line x1="344.6" y1="644.8" x2="344.6" y2="646.3" stroke="#aaa" stroke-width="0.6"/>
<line x1="351.1" y1="644.8" x2="351.1" y2="646.3" stroke="#aaa" stroke-width="0.6"/>
<line x1="355.5" y1="644.8" x2="355.5" y2="646.3" stroke="#aaa" stroke-width="0.6"/>
<line x1="359.9" y1="644.8" x2="359.9" y2="646.3" stroke="#aaa" stroke-width="0.6"/>
<line x1="362.1" y1="644.8" x2="362.1" y2="646.3" stroke="#aaa" stroke-width="0.6"/>
<line x1="364.0" y1="644.8" x2="364.0" y2="646.3" stroke="#aaa" stroke-width="0.6"/>
<line x1="366.2" y1="644.8" x2="366.2" y2="646.3" stroke="#aaa" stroke-width="0.6"/>
<line x1="368.7" y1="644.8" x2="368.7" y2="646.3" stroke="#aaa" stroke-width="0.6"/>
<line x1="371.0" y1="644.8" x2="371.0" y2="646.3" stroke="#aaa" stroke-width="0.6"/>
<line x1="375.3" y1="644.8" x2="375.3" y2="646.3" stroke="#aaa" stroke-width="0.6"/>
<line x1="377.5" y1="644.8" x2="377.5" y2="646.3" stroke="#aaa" stroke-width="0.6"/>
<line x1="380.1" y1="644.8" x2="380.1" y2="646.3" stroke="#aaa" stroke-width="0.6"/>
<line x1="391.0" y1="644.8" x2="391.0" y2="646.3" stroke="#aaa" stroke-width="0.6"/>
<line x1="394.8" y1="644.8" x2="394.8" y2="646.3" stroke="#aaa" stroke-width="0.6"/>
<line x1="397.5" y1="644.8" x2="397.5" y2="646.3" stroke="#aaa" stroke-width="0.6"/>
<line x1="399.8" y1="644.8" x2="399.8" y2="646.3" stroke="#aaa" stroke-width="0.6"/>
<line x1="402.0" y1="644.8" x2="402.0" y2="646.3" stroke="#aaa" stroke-width="0.6"/>
<line x1="405.9" y1="644.8" x2="405.9" y2="646.3" stroke="#aaa" stroke-width="0.6"/>
<line x1="408.3" y1="644.8" x2="408.3" y2="646.3" stroke="#aaa" stroke-width="0.6"/>
<line x1="410.1" y1="644.8" x2="410.1" y2="646.3" stroke="#aaa" stroke-width="0.6"/>
<line x1="421.6" y1="644.8" x2="421.6" y2="646.3" stroke="#aaa" stroke-width="0.6"/>
<line x1="435.4" y1="644.8" x2="435.4" y2="647.8" stroke="#888" stroke-width="0.8"/>
<line x1="454.7" y1="644.8" x2="454.7" y2="647.8" stroke="#888" stroke-width="0.8"/>
<line x1="470.9" y1="644.8" x2="470.9" y2="647.8" stroke="#888" stroke-width="0.8"/>
<line x1="500.0" y1="644.8" x2="500.0" y2="647.8" stroke="#888" stroke-width="0.8"/>
<line x1="525.1" y1="644.8" x2="525.1" y2="647.8" stroke="#888" stroke-width="0.8"/>
<line x1="435.9" y1="644.8" x2="435.9" y2="646.3" stroke="#aaa" stroke-width="0.6"/>
<line x1="438.2" y1="644.8" x2="438.2" y2="646.3" stroke="#aaa" stroke-width="0.6"/>
<line x1="444.6" y1="644.8" x2="444.6" y2="646.3" stroke="#aaa" stroke-width="0.6"/>
<line x1="447.0" y1="644.8" x2="447.0" y2="646.3" stroke="#aaa" stroke-width="0.6"/>
<line x1="449.3" y1="644.8" x2="449.3" y2="646.3" stroke="#aaa" stroke-width="0.6"/>
<line x1="455.5" y1="644.8" x2="455.5" y2="646.3" stroke="#aaa" stroke-width="0.6"/>
<line x1="457.4" y1="644.8" x2="457.4" y2="646.3" stroke="#aaa" stroke-width="0.6"/>
<line x1="460.1" y1="644.8" x2="460.1" y2="646.3" stroke="#aaa" stroke-width="0.6"/>
<line x1="464.1" y1="644.8" x2="464.1" y2="646.3" stroke="#aaa" stroke-width="0.6"/>
<line x1="466.7" y1="644.8" x2="466.7" y2="646.3" stroke="#aaa" stroke-width="0.6"/>
<line x1="468.4" y1="644.8" x2="468.4" y2="646.3" stroke="#aaa" stroke-width="0.6"/>
<line x1="470.7" y1="644.8" x2="470.7" y2="646.3" stroke="#aaa" stroke-width="0.6"/>
<line x1="475.5" y1="644.8" x2="475.5" y2="646.3" stroke="#aaa" stroke-width="0.6"/>
<line x1="477.7" y1="644.8" x2="477.7" y2="646.3" stroke="#aaa" stroke-width="0.6"/>
<line x1="481.8" y1="644.8" x2="481.8" y2="646.3" stroke="#aaa" stroke-width="0.6"/>
<line x1="488.5" y1="644.8" x2="488.5" y2="646.3" stroke="#aaa" stroke-width="0.6"/>
<line x1="493.0" y1="644.8" x2="493.0" y2="646.3" stroke="#aaa" stroke-width="0.6"/>
<line x1="495.3" y1="644.8" x2="495.3" y2="646.3" stroke="#aaa" stroke-width="0.6"/>
<line x1="503.9" y1="644.8" x2="503.9" y2="646.3" stroke="#aaa" stroke-width="0.6"/>
<line x1="511.0" y1="644.8" x2="511.0" y2="646.3" stroke="#aaa" stroke-width="0.6"/>
<line x1="517.5" y1="644.8" x2="517.5" y2="646.3" stroke="#aaa" stroke-width="0.6"/>
<line x1="519.2" y1="644.8" x2="519.2" y2="646.3" stroke="#aaa" stroke-width="0.6"/>
<line x1="528.4" y1="644.8" x2="528.4" y2="646.3" stroke="#aaa" stroke-width="0.6"/>
<line x1="530.6" y1="644.8" x2="530.6" y2="646.3" stroke="#aaa" stroke-width="0.6"/>
<line x1="532.4" y1="644.8" x2="532.4" y2="646.3" stroke="#aaa" stroke-width="0.6"/>
<line x1="534.6" y1="644.8" x2="534.6" y2="646.3" stroke="#aaa" stroke-width="0.6"/>
<line x1="545.9" y1="644.8" x2="545.9" y2="647.8" stroke="#888" stroke-width="0.8"/>
<line x1="565.2" y1="644.8" x2="565.2" y2="647.8" stroke="#888" stroke-width="0.8"/>
<line x1="581.4" y1="644.8" x2="581.4" y2="647.8" stroke="#888" stroke-width="0.8"/>
<line x1="610.5" y1="644.8" x2="610.5" y2="647.8" stroke="#888" stroke-width="0.8"/>
<line x1="635.6" y1="644.8" x2="635.6" y2="647.8" stroke="#888" stroke-width="0.8"/>
<line x1="548.7" y1="644.8" x2="548.7" y2="646.3" stroke="#aaa" stroke-width="0.6"/>
<line x1="550.7" y1="644.8" x2="550.7" y2="646.3" stroke="#aaa" stroke-width="0.6"/>
<line x1="557.7" y1="644.8" x2="557.7" y2="646.3" stroke="#aaa" stroke-width="0.6"/>
<line x1="559.8" y1="644.8" x2="559.8" y2="646.3" stroke="#aaa" stroke-width="0.6"/>
<line x1="561.5" y1="644.8" x2="561.5" y2="646.3" stroke="#aaa" stroke-width="0.6"/>
<line x1="566.3" y1="644.8" x2="566.3" y2="646.3" stroke="#aaa" stroke-width="0.6"/>
<line x1="568.6" y1="644.8" x2="568.6" y2="646.3" stroke="#aaa" stroke-width="0.6"/>
<line x1="583.8" y1="644.8" x2="583.8" y2="646.3" stroke="#aaa" stroke-width="0.6"/>
<line x1="590.0" y1="644.8" x2="590.0" y2="646.3" stroke="#aaa" stroke-width="0.6"/>
<line x1="594.6" y1="644.8" x2="594.6" y2="646.3" stroke="#aaa" stroke-width="0.6"/>
<line x1="596.5" y1="644.8" x2="596.5" y2="646.3" stroke="#aaa" stroke-width="0.6"/>
<line x1="614.2" y1="644.8" x2="614.2" y2="646.3" stroke="#aaa" stroke-width="0.6"/>
<line x1="616.4" y1="644.8" x2="616.4" y2="646.3" stroke="#aaa" stroke-width="0.6"/>
<line x1="623.4" y1="644.8" x2="623.4" y2="646.3" stroke="#aaa" stroke-width="0.6"/>
<line x1="625.2" y1="644.8" x2="625.2" y2="646.3" stroke="#aaa" stroke-width="0.6"/>
<line x1="627.9" y1="644.8" x2="627.9" y2="646.3" stroke="#aaa" stroke-width="0.6"/>
<line x1="629.8" y1="644.8" x2="629.8" y2="646.3" stroke="#aaa" stroke-width="0.6"/>
<line x1="631.7" y1="644.8" x2="631.7" y2="646.3" stroke="#aaa" stroke-width="0.6"/>
<line x1="636.4" y1="644.8" x2="636.4" y2="646.3" stroke="#aaa" stroke-width="0.6"/>
<line x1="642.7" y1="644.8" x2="642.7" y2="646.3" stroke="#aaa" stroke-width="0.6"/>
<text x="324.3" y="660.3" font-size="9" text-anchor="middle" fill="#333" stroke="#333" stroke-width="0.1">−10<tspan font-size="5.8" dy="-3.3">3</tspan></text>
<text x="343.6" y="660.3" font-size="9" text-anchor="middle" fill="#333" stroke="#333" stroke-width="0.1">0</text>
<text x="359.8" y="660.3" font-size="9" text-anchor="middle" fill="#333" stroke="#333" stroke-width="0.1">10<tspan font-size="5.8" dy="-3.3">3</tspan></text>
<text x="388.9" y="660.3" font-size="9" text-anchor="middle" fill="#333" stroke="#333" stroke-width="0.1">10<tspan font-size="5.8" dy="-3.3">4</tspan></text>
<text x="414.0" y="660.3" font-size="9" text-anchor="middle" fill="#333" stroke="#333" stroke-width="0.1">10<tspan font-size="5.8" dy="-3.3">5</tspan></text>
<text x="316.7" y="672.8" font-size="9.5" text-anchor="start" fill="#333" stroke="#333" stroke-width="0.1" textLength="52.8" lengthAdjust="spacingAndGlyphs">Blimp-1 YFP</text>
<line x1="376.0" y1="670.4" x2="642.6" y2="670.4" stroke="#333" stroke-width="0.9"/>
<path d="M641.6,668.4 L645.6,670.4 L641.6,672.4 Z" fill="#333"/>
<text transform="translate(271.5,633.6) rotate(-90)" x="0" y="3.4" font-size="9.5" text-anchor="middle" fill="#333" stroke="#333" stroke-width="0.1" textLength="28" lengthAdjust="spacingAndGlyphs">SSC-A</text>
<line x1="271.5" y1="542.9" x2="271.5" y2="613.1" stroke="#333" stroke-width="0.9"/>
<path d="M269.5,543.9 L271.5,539.9 L273.5,543.9 Z" fill="#333"/>
<rect x="352.3" y="600.6" width="58.9" height="33.4" stroke="#555" stroke-width="0.9" fill="none"/>
<rect x="462.5" y="600.6" width="59.2" height="33.4" stroke="#555" stroke-width="0.9" fill="none"/>
<rect x="573.4" y="600.6" width="59.3" height="33.4" stroke="#555" stroke-width="0.9" fill="none"/>
<text x="383.5" y="595.9" font-size="9.2" text-anchor="middle" fill="#333" stroke="#333" stroke-width="0.1" textLength="16.1" lengthAdjust="spacingAndGlyphs">2.67</text>
<text x="493.1" y="596.5" font-size="9.2" text-anchor="middle" fill="#333" stroke="#333" stroke-width="0.1" textLength="16.1" lengthAdjust="spacingAndGlyphs">37.7</text>
<text x="602.9" y="596.5" font-size="9.2" text-anchor="middle" fill="#333" stroke="#333" stroke-width="0.1" textLength="16.1" lengthAdjust="spacingAndGlyphs">51.1</text>
<text x="2.5" y="699.5" font-size="15" font-weight="bold" fill="#111" stroke="#111" stroke-width="0.5">l</text>
<text x="69.9" y="701.4" font-size="10.2" text-anchor="middle" fill="#333" stroke="#333" stroke-width="0.1" textLength="54.2" lengthAdjust="spacingAndGlyphs">Blimp-1 YFP</text>
<line x1="35.5" y1="732.7" x2="35.5" y2="835.1" stroke="#666" stroke-width="0.9"/>
<line x1="35.5" y1="835.1" x2="105.0" y2="835.1" stroke="#999" stroke-width="1"/>
<line x1="32.0" y1="732.7" x2="35.5" y2="732.7" stroke="#888" stroke-width="0.9"/>
<text x="27.5" y="735.1" font-size="9" text-anchor="end" fill="#333" stroke="#333" stroke-width="0.1">60</text>
<line x1="32.0" y1="766.6" x2="35.5" y2="766.6" stroke="#888" stroke-width="0.9"/>
<text x="27.5" y="769.0" font-size="9" text-anchor="end" fill="#333" stroke="#333" stroke-width="0.1">40</text>
<line x1="32.0" y1="800.8" x2="35.5" y2="800.8" stroke="#888" stroke-width="0.9"/>
<text x="27.5" y="803.2" font-size="9" text-anchor="end" fill="#333" stroke="#333" stroke-width="0.1">20</text>
<line x1="32.0" y1="835.1" x2="35.5" y2="835.1" stroke="#888" stroke-width="0.9"/>
<text x="27.5" y="837.5" font-size="9" text-anchor="end" fill="#333" stroke="#333" stroke-width="0.1">0</text>
<line x1="49.3" y1="835.1" x2="49.3" y2="838.6" stroke="#999" stroke-width="0.9"/>
<line x1="69.9" y1="835.1" x2="69.9" y2="838.6" stroke="#999" stroke-width="0.9"/>
<line x1="90.5" y1="835.1" x2="90.5" y2="838.6" stroke="#999" stroke-width="0.9"/>
<text transform="translate(5.0,783.0) rotate(-90)" x="0" y="3.6" font-size="10" text-anchor="middle" fill="#333" stroke="#333" stroke-width="0.1" textLength="94" lengthAdjust="spacingAndGlyphs">Percentage of ILC2s</text>
<text transform="translate(51.6,844.0) rotate(-45)" x="0" y="3" font-size="8.6" text-anchor="end" fill="#333">Naive nILC2s</text>
<text transform="translate(72.2,844.0) rotate(-45)" x="0" y="3" font-size="8.6" text-anchor="end" fill="#333">IL-25 nILC2s</text>
<text transform="translate(92.8,844.0) rotate(-45)" x="0" y="3" font-size="8.6" text-anchor="end" fill="#333">IL-25 iILC2s</text>
<line x1="49.3" y1="714.4" x2="90.5" y2="714.4" stroke="#555" stroke-width="0.8"/>
<text x="69.9" y="716.2" font-size="14" text-anchor="middle" fill="#333">****</text>
<line x1="49.3" y1="728.8" x2="69.9" y2="728.8" stroke="#555" stroke-width="0.8"/>
<text x="59.6" y="730.6" font-size="14" text-anchor="middle" fill="#333">****</text>
<line x1="69.9" y1="739.1" x2="90.5" y2="739.1" stroke="#555" stroke-width="0.8"/>
<text x="80.2" y="742.8" font-size="14" text-anchor="middle" fill="#333">*</text>
<line x1="42.4" y1="831.5" x2="56.1" y2="831.5" stroke="#111" stroke-width="0.8"/>
<circle cx="44.0" cy="830.5" r="2.0" fill="#111"/>
<circle cx="50.0" cy="830.5" r="2.0" fill="#111"/>
<circle cx="44.0" cy="834.0" r="2.0" fill="#111"/>
<circle cx="55.0" cy="832.8" r="2.0" fill="#111"/>
<line x1="62.8" y1="762.5" x2="77.0" y2="762.5" stroke="#1d4f9e" stroke-width="0.8" opacity="0.7"/>
<line x1="69.9" y1="755.2" x2="69.9" y2="770.5" stroke="#1d4f9e" stroke-width="0.8" opacity="0.7"/>
<line x1="66.1" y1="755.2" x2="73.7" y2="755.2" stroke="#1d4f9e" stroke-width="0.8" opacity="0.7"/>
<line x1="66.1" y1="770.5" x2="73.7" y2="770.5" stroke="#1d4f9e" stroke-width="0.8" opacity="0.7"/>
<rect x="68.0" y="750.3" width="3.8" height="3.8" fill="#1d4f9e"/>
<rect x="64.6" y="762.4" width="3.8" height="3.8" fill="#1d4f9e"/>
<rect x="71.4" y="762.4" width="3.8" height="3.8" fill="#1d4f9e"/>
<rect x="68.0" y="768.6" width="3.8" height="3.8" fill="#1d4f9e"/>
<line x1="83.6" y1="749.9" x2="97.4" y2="749.9" stroke="#f08090" stroke-width="1.0"/>
<path d="M90.5,742.1 L93.0,744.6 L90.5,747.1 L88.0,744.6Z" fill="#e2122e"/>
<path d="M90.5,744.6 L93.0,747.1 L90.5,749.6 L88.0,747.1Z" fill="#e2122e"/>
<path d="M90.5,749.0 L93.0,751.5 L90.5,754.0 L88.0,751.5Z" fill="#e2122e"/>
<path d="M90.5,752.7 L93.0,755.2 L90.5,757.7 L88.0,755.2Z" fill="#e2122e"/>
<text x="198.3" y="701.3" font-size="10.2" text-anchor="middle" fill="#333" stroke="#333" stroke-width="0.1" textLength="54.2" lengthAdjust="spacingAndGlyphs">Blimp-1 YFP</text>
<line x1="163.7" y1="731.9" x2="163.7" y2="833.5" stroke="#666" stroke-width="0.9"/>
<line x1="163.7" y1="833.5" x2="231.5" y2="833.5" stroke="#999" stroke-width="1"/>
<line x1="160.2" y1="731.9" x2="163.7" y2="731.9" stroke="#888" stroke-width="0.9"/>
<text x="155.5" y="734.3" font-size="9" text-anchor="end" fill="#333" stroke="#333" stroke-width="0.1">2,500</text>
<line x1="160.2" y1="752.4" x2="163.7" y2="752.4" stroke="#888" stroke-width="0.9"/>
<text x="155.5" y="754.8" font-size="9" text-anchor="end" fill="#333" stroke="#333" stroke-width="0.1">2,000</text>
<line x1="160.2" y1="772.5" x2="163.7" y2="772.5" stroke="#888" stroke-width="0.9"/>
<text x="155.5" y="774.9" font-size="9" text-anchor="end" fill="#333" stroke="#333" stroke-width="0.1">1,500</text>
<line x1="160.2" y1="792.8" x2="163.7" y2="792.8" stroke="#888" stroke-width="0.9"/>
<text x="155.5" y="795.2" font-size="9" text-anchor="end" fill="#333" stroke="#333" stroke-width="0.1">1,000</text>
<line x1="160.2" y1="813.1" x2="163.7" y2="813.1" stroke="#888" stroke-width="0.9"/>
<text x="155.5" y="815.5" font-size="9" text-anchor="end" fill="#333" stroke="#333" stroke-width="0.1">500</text>
<line x1="160.2" y1="833.5" x2="163.7" y2="833.5" stroke="#888" stroke-width="0.9"/>
<text x="155.5" y="835.9" font-size="9" text-anchor="end" fill="#333" stroke="#333" stroke-width="0.1">0</text>
<line x1="177.7" y1="833.5" x2="177.7" y2="837.0" stroke="#999" stroke-width="0.9"/>
<line x1="198.1" y1="833.5" x2="198.1" y2="837.0" stroke="#999" stroke-width="0.9"/>
<line x1="218.2" y1="833.5" x2="218.2" y2="837.0" stroke="#999" stroke-width="0.9"/>
<text transform="translate(122.8,782.2) rotate(-90)" x="0" y="3.6" font-size="10" text-anchor="middle" fill="#333" stroke="#333" stroke-width="0.1" textLength="22.2" lengthAdjust="spacingAndGlyphs">gMFI</text>
<text transform="translate(180.0,842.0) rotate(-45)" x="0" y="3" font-size="8.6" text-anchor="end" fill="#333">Naive nILC2s</text>
<text transform="translate(200.4,842.0) rotate(-45)" x="0" y="3" font-size="8.6" text-anchor="end" fill="#333">IL-25 nILC2s</text>
<text transform="translate(220.5,842.0) rotate(-45)" x="0" y="3" font-size="8.6" text-anchor="end" fill="#333">IL-25 iILC2s</text>
<line x1="177.7" y1="714.3" x2="218.2" y2="714.3" stroke="#555" stroke-width="0.8"/>
<text x="197.9" y="716.1" font-size="14" text-anchor="middle" fill="#333">****</text>
<line x1="177.7" y1="742.4" x2="198.1" y2="742.4" stroke="#555" stroke-width="0.8"/>
<text x="187.9" y="745.3" font-size="14" text-anchor="middle" fill="#333">****</text>
<line x1="198.1" y1="729.5" x2="218.2" y2="729.5" stroke="#555" stroke-width="0.8"/>
<text x="208.1" y="731.5" font-size="14" text-anchor="middle" fill="#333">****</text>
<circle cx="172.0" cy="832.3" r="1.8" fill="#111"/>
<circle cx="176.0" cy="832.3" r="1.8" fill="#111"/>
<circle cx="180.0" cy="832.3" r="1.8" fill="#111"/>
<circle cx="184.0" cy="832.3" r="1.8" fill="#111"/>
<rect x="196.3" y="750.8" width="3.6" height="3.6" fill="#1d4f9e"/>
<rect x="192.8" y="754.8" width="3.6" height="3.6" fill="#1d4f9e"/>
<rect x="199.8" y="754.8" width="3.6" height="3.6" fill="#1d4f9e"/>
<rect x="196.3" y="757.8" width="3.6" height="3.6" fill="#1d4f9e"/>
<rect x="196.3" y="754.8" width="3.6" height="3.6" fill="#1d4f9e"/>
<path d="M212.8,740.2 L215.2,742.6 L212.8,745.0 L210.4,742.6Z" fill="#e2122e"/>
<path d="M218.6,738.8 L221.0,741.2 L218.6,743.6 L216.2,741.2Z" fill="#e2122e"/>
<path d="M223.8,737.2 L226.2,739.6 L223.8,742.0 L221.4,739.6Z" fill="#e2122e"/>
<path d="M223.8,740.2 L226.2,742.6 L223.8,745.0 L221.4,742.6Z" fill="#e2122e"/>
<line x1="210.0" y1="741.5" x2="226.0" y2="741.5" stroke="#e2122e" stroke-width="0.8"/>
<text x="264.5" y="698.2" font-size="15" font-weight="bold" fill="#111" stroke="#111" stroke-width="0.5">m</text>
<text x="445.0" y="701.2" font-size="10.2" text-anchor="middle" fill="#333" stroke="#333" stroke-width="0.1" textLength="20.5" lengthAdjust="spacingAndGlyphs">mLN</text>
<line x1="339.9" y1="706.4" x2="549.7" y2="706.4" stroke="#777" stroke-width="0.9"/>
<text x="386.6" y="720.9" font-size="10.2" text-anchor="middle" fill="#333" stroke="#333" stroke-width="0.1" textLength="24.8" lengthAdjust="spacingAndGlyphs">Naive</text>
<text x="496.9" y="720.9" font-size="10.2" text-anchor="middle" fill="#333" stroke="#333" stroke-width="0.1" textLength="70.8" lengthAdjust="spacingAndGlyphs">IL-33 + IL-25 i.p.</text>
<rect x="334.3" y="727.9" width="104.9" height="103.5" stroke="#888" stroke-width="1" fill="none"/>
<rect x="444.6" y="727.9" width="105.1" height="103.5" stroke="#888" stroke-width="1" fill="none"/>
<line x1="331.1" y1="731.4" x2="334.3" y2="731.4" stroke="#888" stroke-width="0.9"/>
<text x="326.6" y="733.6" font-size="8.4" text-anchor="end" fill="#333" stroke="#333" stroke-width="0.1" textLength="33.4" lengthAdjust="spacingAndGlyphs">250,000</text>
<line x1="331.1" y1="751.5" x2="334.3" y2="751.5" stroke="#888" stroke-width="0.9"/>
<text x="326.6" y="753.7" font-size="8.4" text-anchor="end" fill="#333" stroke="#333" stroke-width="0.1" textLength="33.4" lengthAdjust="spacingAndGlyphs">200,000</text>
<line x1="331.1" y1="771.6" x2="334.3" y2="771.6" stroke="#888" stroke-width="0.9"/>
<text x="326.6" y="773.8" font-size="8.4" text-anchor="end" fill="#333" stroke="#333" stroke-width="0.1" textLength="33.4" lengthAdjust="spacingAndGlyphs">150,000</text>
<line x1="331.1" y1="791.7" x2="334.3" y2="791.7" stroke="#888" stroke-width="0.9"/>
<text x="326.6" y="793.9" font-size="8.4" text-anchor="end" fill="#333" stroke="#333" stroke-width="0.1" textLength="33.4" lengthAdjust="spacingAndGlyphs">100,000</text>
<line x1="331.1" y1="811.5" x2="334.3" y2="811.5" stroke="#888" stroke-width="0.9"/>
<text x="326.6" y="813.7" font-size="8.4" text-anchor="end" fill="#333" stroke="#333" stroke-width="0.1" textLength="28.3" lengthAdjust="spacingAndGlyphs">50,000</text>
<line x1="331.1" y1="831.4" x2="334.3" y2="831.4" stroke="#888" stroke-width="0.9"/>
<text x="326.6" y="833.6" font-size="8.4" text-anchor="end" fill="#333" stroke="#333" stroke-width="0.1" textLength="5.1" lengthAdjust="spacingAndGlyphs">0</text>
<line x1="442.1" y1="731.4" x2="444.6" y2="731.4" stroke="#888" stroke-width="0.8"/>
<line x1="442.1" y1="751.5" x2="444.6" y2="751.5" stroke="#888" stroke-width="0.8"/>
<line x1="442.1" y1="771.6" x2="444.6" y2="771.6" stroke="#888" stroke-width="0.8"/>
<line x1="442.1" y1="791.7" x2="444.6" y2="791.7" stroke="#888" stroke-width="0.8"/>
<line x1="442.1" y1="811.5" x2="444.6" y2="811.5" stroke="#888" stroke-width="0.8"/>
<line x1="442.1" y1="831.4" x2="444.6" y2="831.4" stroke="#888" stroke-width="0.8"/>
<line x1="339.4" y1="831.4" x2="339.4" y2="834.4" stroke="#888" stroke-width="0.8"/>
<line x1="358.6" y1="831.4" x2="358.6" y2="834.4" stroke="#888" stroke-width="0.8"/>
<line x1="373.8" y1="831.4" x2="373.8" y2="834.4" stroke="#888" stroke-width="0.8"/>
<line x1="403.7" y1="831.4" x2="403.7" y2="834.4" stroke="#888" stroke-width="0.8"/>
<line x1="427.5" y1="831.4" x2="427.5" y2="834.4" stroke="#888" stroke-width="0.8"/>
<line x1="339.5" y1="831.4" x2="339.5" y2="832.9" stroke="#aaa" stroke-width="0.6"/>
<line x1="342.0" y1="831.4" x2="342.0" y2="832.9" stroke="#aaa" stroke-width="0.6"/>
<line x1="344.2" y1="831.4" x2="344.2" y2="832.9" stroke="#aaa" stroke-width="0.6"/>
<line x1="345.7" y1="831.4" x2="345.7" y2="832.9" stroke="#aaa" stroke-width="0.6"/>
<line x1="350.1" y1="831.4" x2="350.1" y2="832.9" stroke="#aaa" stroke-width="0.6"/>
<line x1="354.6" y1="831.4" x2="354.6" y2="832.9" stroke="#aaa" stroke-width="0.6"/>
<line x1="361.3" y1="831.4" x2="361.3" y2="832.9" stroke="#aaa" stroke-width="0.6"/>
<line x1="363.9" y1="831.4" x2="363.9" y2="832.9" stroke="#aaa" stroke-width="0.6"/>
<line x1="372.6" y1="831.4" x2="372.6" y2="832.9" stroke="#aaa" stroke-width="0.6"/>
<line x1="374.6" y1="831.4" x2="374.6" y2="832.9" stroke="#aaa" stroke-width="0.6"/>
<line x1="377.2" y1="831.4" x2="377.2" y2="832.9" stroke="#aaa" stroke-width="0.6"/>
<line x1="379.4" y1="831.4" x2="379.4" y2="832.9" stroke="#aaa" stroke-width="0.6"/>
<line x1="381.1" y1="831.4" x2="381.1" y2="832.9" stroke="#aaa" stroke-width="0.6"/>
<line x1="387.7" y1="831.4" x2="387.7" y2="832.9" stroke="#aaa" stroke-width="0.6"/>
<line x1="394.4" y1="831.4" x2="394.4" y2="832.9" stroke="#aaa" stroke-width="0.6"/>
<line x1="400.8" y1="831.4" x2="400.8" y2="832.9" stroke="#aaa" stroke-width="0.6"/>
<line x1="405.2" y1="831.4" x2="405.2" y2="832.9" stroke="#aaa" stroke-width="0.6"/>
<line x1="408.0" y1="831.4" x2="408.0" y2="832.9" stroke="#aaa" stroke-width="0.6"/>
<line x1="409.7" y1="831.4" x2="409.7" y2="832.9" stroke="#aaa" stroke-width="0.6"/>
<line x1="414.0" y1="831.4" x2="414.0" y2="832.9" stroke="#aaa" stroke-width="0.6"/>
<line x1="416.3" y1="831.4" x2="416.3" y2="832.9" stroke="#aaa" stroke-width="0.6"/>
<line x1="418.7" y1="831.4" x2="418.7" y2="832.9" stroke="#aaa" stroke-width="0.6"/>
<line x1="420.8" y1="831.4" x2="420.8" y2="832.9" stroke="#aaa" stroke-width="0.6"/>
<line x1="427.2" y1="831.4" x2="427.2" y2="832.9" stroke="#aaa" stroke-width="0.6"/>
<line x1="432.1" y1="831.4" x2="432.1" y2="832.9" stroke="#aaa" stroke-width="0.6"/>
<line x1="436.0" y1="831.4" x2="436.0" y2="832.9" stroke="#aaa" stroke-width="0.6"/>
<line x1="438.4" y1="831.4" x2="438.4" y2="832.9" stroke="#aaa" stroke-width="0.6"/>
<line x1="449.7" y1="831.4" x2="449.7" y2="834.4" stroke="#888" stroke-width="0.8"/>
<line x1="468.9" y1="831.4" x2="468.9" y2="834.4" stroke="#888" stroke-width="0.8"/>
<line x1="484.1" y1="831.4" x2="484.1" y2="834.4" stroke="#888" stroke-width="0.8"/>
<line x1="514.0" y1="831.4" x2="514.0" y2="834.4" stroke="#888" stroke-width="0.8"/>
<line x1="537.8" y1="831.4" x2="537.8" y2="834.4" stroke="#888" stroke-width="0.8"/>
<line x1="452.1" y1="831.4" x2="452.1" y2="832.9" stroke="#aaa" stroke-width="0.6"/>
<line x1="458.9" y1="831.4" x2="458.9" y2="832.9" stroke="#aaa" stroke-width="0.6"/>
<line x1="462.9" y1="831.4" x2="462.9" y2="832.9" stroke="#aaa" stroke-width="0.6"/>
<line x1="471.9" y1="831.4" x2="471.9" y2="832.9" stroke="#aaa" stroke-width="0.6"/>
<line x1="475.9" y1="831.4" x2="475.9" y2="832.9" stroke="#aaa" stroke-width="0.6"/>
<line x1="480.7" y1="831.4" x2="480.7" y2="832.9" stroke="#aaa" stroke-width="0.6"/>
<line x1="482.7" y1="831.4" x2="482.7" y2="832.9" stroke="#aaa" stroke-width="0.6"/>
<line x1="485.1" y1="831.4" x2="485.1" y2="832.9" stroke="#aaa" stroke-width="0.6"/>
<line x1="491.8" y1="831.4" x2="491.8" y2="832.9" stroke="#aaa" stroke-width="0.6"/>
<line x1="520.1" y1="831.4" x2="520.1" y2="832.9" stroke="#aaa" stroke-width="0.6"/>
<line x1="522.2" y1="831.4" x2="522.2" y2="832.9" stroke="#aaa" stroke-width="0.6"/>
<line x1="524.2" y1="831.4" x2="524.2" y2="832.9" stroke="#aaa" stroke-width="0.6"/>
<line x1="528.9" y1="831.4" x2="528.9" y2="832.9" stroke="#aaa" stroke-width="0.6"/>
<line x1="537.7" y1="831.4" x2="537.7" y2="832.9" stroke="#aaa" stroke-width="0.6"/>
<text x="339.4" y="845.4" font-size="9" text-anchor="middle" fill="#333" stroke="#333" stroke-width="0.1">−10<tspan font-size="5.8" dy="-3.3">3</tspan></text>
<text x="358.6" y="845.4" font-size="9" text-anchor="middle" fill="#333" stroke="#333" stroke-width="0.1">0</text>
<text x="373.8" y="845.4" font-size="9" text-anchor="middle" fill="#333" stroke="#333" stroke-width="0.1">10<tspan font-size="5.8" dy="-3.3">3</tspan></text>
<text x="403.7" y="845.4" font-size="9" text-anchor="middle" fill="#333" stroke="#333" stroke-width="0.1">10<tspan font-size="5.8" dy="-3.3">4</tspan></text>
<text x="427.5" y="845.4" font-size="9" text-anchor="middle" fill="#333" stroke="#333" stroke-width="0.1">10<tspan font-size="5.8" dy="-3.3">5</tspan></text>
<text x="332.0" y="859.4" font-size="9.5" text-anchor="start" fill="#333" stroke="#333" stroke-width="0.1" textLength="53" lengthAdjust="spacingAndGlyphs">Blimp-1 YFP</text>
<line x1="390.1" y1="856.8" x2="547.2" y2="856.8" stroke="#333" stroke-width="0.9"/>
<path d="M546.2,854.8 L550.2,856.8 L546.2,858.8 Z" fill="#333"/>
<text transform="translate(285.2,820.1) rotate(-90)" x="0" y="3.4" font-size="9.5" text-anchor="middle" fill="#333" stroke="#333" stroke-width="0.1" textLength="28.2" lengthAdjust="spacingAndGlyphs">SSC-A</text>
<line x1="285.2" y1="731.4" x2="285.2" y2="805.0" stroke="#333" stroke-width="0.9"/>
<path d="M283.2,732.4 L285.2,728.4 L287.2,732.4 Z" fill="#333"/>
<rect x="362.3" y="803.3" width="55.4" height="26.2" stroke="#555" stroke-width="0.9" fill="none"/>
<rect x="472.4" y="803.3" width="56.0" height="26.2" stroke="#555" stroke-width="0.9" fill="none"/>
<text x="392.0" y="790.9" font-size="9.2" text-anchor="middle" fill="#333" stroke="#333" stroke-width="0.1" textLength="4.6" lengthAdjust="spacingAndGlyphs">0</text>
<text x="503.7" y="790.8" font-size="9.2" text-anchor="middle" fill="#333" stroke="#333" stroke-width="0.1" textLength="16.1" lengthAdjust="spacingAndGlyphs">32.9</text>
<text x="627.5" y="714.3" font-size="10.2" text-anchor="middle" fill="#333" stroke="#333" stroke-width="0.1" textLength="56.4" lengthAdjust="spacingAndGlyphs">Blimp-1 YFP<tspan font-size="7.5" dy="-3.6">+</tspan></text>
<line x1="594.3" y1="733.4" x2="594.3" y2="833.1" stroke="#666" stroke-width="0.9"/>
<line x1="594.3" y1="833.1" x2="661.2" y2="833.1" stroke="#999" stroke-width="1"/>
<line x1="590.8" y1="733.4" x2="594.3" y2="733.4" stroke="#888" stroke-width="0.9"/>
<text x="586.2" y="735.8" font-size="9" text-anchor="end" fill="#333" stroke="#333" stroke-width="0.1">40</text>
<line x1="590.8" y1="758.4" x2="594.3" y2="758.4" stroke="#888" stroke-width="0.9"/>
<text x="586.2" y="760.8" font-size="9" text-anchor="end" fill="#333" stroke="#333" stroke-width="0.1">30</text>
<line x1="590.8" y1="783.1" x2="594.3" y2="783.1" stroke="#888" stroke-width="0.9"/>
<text x="586.2" y="785.5" font-size="9" text-anchor="end" fill="#333" stroke="#333" stroke-width="0.1">20</text>
<line x1="590.8" y1="807.9" x2="594.3" y2="807.9" stroke="#888" stroke-width="0.9"/>
<text x="586.2" y="810.3" font-size="9" text-anchor="end" fill="#333" stroke="#333" stroke-width="0.1">10</text>
<line x1="590.8" y1="833.1" x2="594.3" y2="833.1" stroke="#888" stroke-width="0.9"/>
<text x="586.2" y="835.5" font-size="9" text-anchor="end" fill="#333" stroke="#333" stroke-width="0.1">0</text>
<line x1="613.3" y1="833.1" x2="613.3" y2="836.6" stroke="#999" stroke-width="0.9"/>
<line x1="641.7" y1="833.1" x2="641.7" y2="836.6" stroke="#999" stroke-width="0.9"/>
<text transform="translate(565.6,783.1) rotate(-90)" x="0" y="3.6" font-size="10" text-anchor="middle" fill="#333" stroke="#333" stroke-width="0.1" textLength="94" lengthAdjust="spacingAndGlyphs">Percentage of ILC2s</text>
<text x="611.5" y="846.9" font-size="9.0" text-anchor="middle" fill="#333" stroke="#333" stroke-width="0.1" textLength="21.2" lengthAdjust="spacingAndGlyphs">Naive</text>
<text x="649.3" y="846.9" font-size="9.0" text-anchor="middle" fill="#333" stroke="#333" stroke-width="0.1" textLength="47.2" lengthAdjust="spacingAndGlyphs">IL-33 + IL-25</text>
<line x1="613.3" y1="729.3" x2="641.7" y2="729.3" stroke="#555" stroke-width="0.8"/>
<text x="627.5" y="730.6" font-size="14" text-anchor="middle" fill="#333">****</text>
<circle cx="605.0" cy="832.0" r="1.9" fill="#111"/>
<circle cx="608.8" cy="830.8" r="1.9" fill="#111"/>
<circle cx="612.0" cy="833.0" r="1.9" fill="#111"/>
<circle cx="616.0" cy="833.0" r="1.9" fill="#111"/>
<circle cx="620.0" cy="833.0" r="1.9" fill="#111"/>
<line x1="632.3" y1="756.3" x2="651.1" y2="756.3" stroke="#e2122e" stroke-width="0.8" opacity="0.6"/>
<line x1="641.7" y1="744.8" x2="641.7" y2="768.2" stroke="#e2122e" stroke-width="0.8" opacity="0.6"/>
<line x1="637.1" y1="744.8" x2="646.3" y2="744.8" stroke="#e2122e" stroke-width="0.8" opacity="0.6"/>
<line x1="637.1" y1="768.2" x2="646.3" y2="768.2" stroke="#e2122e" stroke-width="0.8" opacity="0.6"/>
<rect x="640.0" y="740.0" width="3.8" height="3.8" fill="#e2122e"/>
<rect x="637.1" y="747.5" width="3.8" height="3.8" fill="#e2122e"/>
<rect x="642.8" y="749.6" width="3.8" height="3.8" fill="#e2122e"/>
<rect x="637.1" y="757.8" width="3.8" height="3.8" fill="#e2122e"/>
<rect x="642.8" y="760.1" width="3.8" height="3.8" fill="#e2122e"/>
<rect x="640.0" y="773.9" width="3.8" height="3.8" fill="#e2122e"/>
<path d="M108.9 97.4h.1M102.7 111.9h.1M105.5 106.3h.1M115.4 110.8h.1M95.8 99.5h.1M127.8 99.4h.1M87.6 91.8h.1M98.1 103.3h.1M92.9 101.4h.1M100.3 108.2h.1M110.2 103.9h.1M87.7 103.9h.1M107.1 90.1h.1M93.5 108.0h.1M95.9 105.3h.1M98.2 92.9h.1M103.8 94.7h.1M119.5 97.5h.1M105.2 102.0h.1M108.4 96.6h.1M109.0 100.9h.1M112.2 107.6h.1M98.7 95.0h.1M106.2 106.2h.1M116.7 98.6h.1M103.7 106.6h.1M100.4 103.9h.1M99.2 96.6h.1M84.8 98.4h.1M104.1 115.6h.1M108.7 111.5h.1M106.3 108.3h.1M99.2 108.9h.1" stroke="#222" stroke-width="0.80" stroke-linecap="round" opacity="0.5"/>
<path d="M80.9 84.4h.1M79.7 90.9h.1M80.2 80.3h.1M79.6 89.8h.1M79.6 81.6h.1M79.4 87.9h.1M80.4 89.5h.1M79.5 92.8h.1M78.9 90.0h.1M80.4 84.5h.1M78.1 81.5h.1M79.7 88.6h.1" stroke="#222" stroke-width="0.80" stroke-linecap="round" opacity="0.7"/>
<path d="M87.1 91.0h.1M84.0 105.8h.1M83.7 78.7h.1M85.6 120.8h.1M86.0 91.7h.1M83.2 102.0h.1M89.0 105.6h.1M84.2 114.0h.1M83.8 116.8h.1M82.6 95.7h.1M85.4 112.8h.1M85.3 102.7h.1M82.8 95.2h.1M85.2 97.0h.1M85.6 100.7h.1" stroke="#222" stroke-width="0.70" stroke-linecap="round" opacity="0.6"/>
<path d="M83.4 103.5C83.4 104.9 83.3 106.4 83.1 107.7C82.9 109.0 82.5 110.3 82.2 111.3C81.8 112.3 81.3 113.1 80.8 113.7C80.3 114.2 79.7 114.5 79.2 114.5C78.7 114.5 78.1 114.2 77.6 113.7C77.1 113.1 76.6 112.3 76.2 111.3C75.9 110.3 75.5 109.0 75.3 107.7C75.1 106.4 75.0 104.9 75.0 103.5C75.0 102.1 75.1 100.6 75.3 99.3C75.5 98.0 75.9 96.7 76.2 95.7C76.6 94.7 77.1 93.9 77.6 93.3C78.1 92.8 78.7 92.5 79.2 92.5C79.7 92.5 80.3 92.8 80.8 93.3C81.3 93.9 81.8 94.7 82.2 95.7C82.5 96.7 82.9 98.0 83.1 99.3C83.3 100.6 83.4 102.1 83.4 103.5Z" stroke="#111" stroke-width="0.7" fill="none"/>
<path d="M83.0 103.6C83.0 104.9 82.9 106.2 82.7 107.4C82.5 108.6 82.2 109.7 81.9 110.6C81.5 111.5 81.1 112.2 80.7 112.7C80.2 113.2 79.7 113.5 79.2 113.5C78.7 113.5 78.2 113.2 77.8 112.7C77.3 112.2 76.9 111.5 76.6 110.6C76.2 109.7 75.9 108.6 75.7 107.4C75.6 106.2 75.5 104.9 75.5 103.6C75.5 102.4 75.6 101.0 75.7 99.9C75.9 98.7 76.2 97.5 76.6 96.7C76.9 95.8 77.3 95.0 77.8 94.5C78.2 94.0 78.7 93.8 79.2 93.8C79.7 93.8 80.2 94.0 80.7 94.5C81.1 95.0 81.5 95.8 81.9 96.7C82.2 97.5 82.5 98.7 82.7 99.9C82.9 101.0 83.0 102.4 83.0 103.6Z" stroke="#111" stroke-width="0.7" fill="none"/>
<path d="M82.6 103.7C82.6 104.9 82.5 106.1 82.4 107.1C82.2 108.2 81.9 109.2 81.6 110.0C81.3 110.8 80.9 111.5 80.5 111.9C80.1 112.4 79.7 112.6 79.2 112.6C78.8 112.6 78.3 112.4 77.9 111.9C77.5 111.5 77.2 110.8 76.8 110.0C76.5 109.2 76.3 108.2 76.1 107.1C75.9 106.1 75.9 104.9 75.9 103.7C75.9 102.6 75.9 101.4 76.1 100.3C76.3 99.3 76.5 98.3 76.8 97.5C77.2 96.7 77.5 96.0 77.9 95.5C78.3 95.1 78.8 94.9 79.2 94.9C79.7 94.9 80.1 95.1 80.5 95.5C80.9 96.0 81.3 96.7 81.6 97.5C81.9 98.3 82.2 99.3 82.4 100.3C82.5 101.4 82.6 102.6 82.6 103.7Z" stroke="#111" stroke-width="0.7" fill="none"/>
<path d="M82.3 103.8C82.3 104.8 82.2 105.9 82.1 106.9C81.9 107.8 81.7 108.7 81.4 109.4C81.1 110.2 80.8 110.8 80.4 111.2C80.1 111.5 79.6 111.8 79.3 111.8C78.9 111.8 78.5 111.5 78.1 111.2C77.7 110.8 77.4 110.2 77.1 109.4C76.8 108.7 76.6 107.8 76.5 106.9C76.3 105.9 76.2 104.8 76.2 103.8C76.2 102.8 76.3 101.7 76.5 100.8C76.6 99.9 76.8 98.9 77.1 98.2C77.4 97.5 77.7 96.9 78.1 96.5C78.5 96.1 78.9 95.9 79.3 95.9C79.6 95.9 80.1 96.1 80.4 96.5C80.8 96.9 81.1 97.5 81.4 98.2C81.7 98.9 81.9 99.9 82.1 100.8C82.2 101.7 82.3 102.8 82.3 103.8Z" stroke="#111" stroke-width="0.7" fill="none"/>
<path d="M82.0 103.9C82.0 104.8 81.9 105.8 81.7 106.6C81.6 107.4 81.4 108.3 81.2 108.9C80.9 109.5 80.6 110.1 80.3 110.4C80.0 110.8 79.6 111.0 79.3 111.0C78.9 111.0 78.6 110.8 78.2 110.4C77.9 110.1 77.6 109.5 77.4 108.9C77.1 108.3 76.9 107.4 76.8 106.6C76.7 105.8 76.6 104.8 76.6 103.9C76.6 103.0 76.7 102.1 76.8 101.2C76.9 100.4 77.1 99.6 77.4 99.0C77.6 98.3 77.9 97.8 78.2 97.5C78.6 97.1 78.9 96.9 79.3 96.9C79.6 96.9 80.0 97.1 80.3 97.5C80.6 97.8 80.9 98.3 81.2 99.0C81.4 99.6 81.6 100.4 81.7 101.2C81.9 102.1 82.0 103.0 82.0 103.9Z" stroke="#111" stroke-width="0.7" fill="none"/>
<path d="M81.6 104.0C81.6 104.8 81.6 105.7 81.5 106.4C81.3 107.1 81.2 107.8 80.9 108.4C80.7 108.9 80.5 109.4 80.2 109.7C79.9 110.0 79.6 110.2 79.3 110.2C79.0 110.2 78.7 110.0 78.4 109.7C78.1 109.4 77.8 108.9 77.6 108.4C77.4 107.8 77.2 107.1 77.1 106.4C77.0 105.7 76.9 104.8 76.9 104.0C76.9 103.2 77.0 102.4 77.1 101.7C77.2 101.0 77.4 100.2 77.6 99.7C77.8 99.1 78.1 98.7 78.4 98.4C78.7 98.1 79.0 97.9 79.3 97.9C79.6 97.9 79.9 98.1 80.2 98.4C80.5 98.7 80.7 99.1 80.9 99.7C81.2 100.2 81.3 101.0 81.5 101.7C81.6 102.4 81.6 103.2 81.6 104.0Z" stroke="#111" stroke-width="0.7" fill="none"/>
<path d="M81.3 104.1C81.3 104.8 81.3 105.5 81.2 106.1C81.1 106.8 80.9 107.4 80.7 107.8C80.5 108.3 80.3 108.7 80.1 109.0C79.8 109.2 79.6 109.4 79.3 109.4C79.0 109.4 78.8 109.2 78.5 109.0C78.3 108.7 78.1 108.3 77.9 107.8C77.7 107.4 77.5 106.8 77.4 106.1C77.3 105.5 77.3 104.8 77.3 104.1C77.3 103.5 77.3 102.7 77.4 102.1C77.5 101.5 77.7 100.9 77.9 100.4C78.1 99.9 78.3 99.5 78.5 99.3C78.8 99.0 79.0 98.9 79.3 98.9C79.6 98.9 79.8 99.0 80.1 99.3C80.3 99.5 80.5 99.9 80.7 100.4C80.9 100.9 81.1 101.5 81.2 102.1C81.3 102.7 81.3 103.5 81.3 104.1Z" stroke="#111" stroke-width="0.7" fill="none"/>
<path d="M81.0 104.2C81.0 104.8 81.0 105.4 80.9 105.9C80.8 106.4 80.7 106.9 80.5 107.3C80.4 107.7 80.2 108.1 80.0 108.3C79.8 108.5 79.5 108.6 79.3 108.6C79.1 108.6 78.9 108.5 78.7 108.3C78.5 108.1 78.3 107.7 78.1 107.3C78.0 106.9 77.8 106.4 77.8 105.9C77.7 105.4 77.6 104.8 77.6 104.2C77.6 103.7 77.7 103.1 77.8 102.5C77.8 102.0 78.0 101.5 78.1 101.1C78.3 100.7 78.5 100.4 78.7 100.1C78.9 99.9 79.1 99.8 79.3 99.8C79.5 99.8 79.8 99.9 80.0 100.1C80.2 100.4 80.4 100.7 80.5 101.1C80.7 101.5 80.8 102.0 80.9 102.5C81.0 103.1 81.0 103.7 81.0 104.2Z" stroke="#111" stroke-width="0.7" fill="none"/>
<path d="M80.7 104.3C80.7 104.8 80.7 105.3 80.6 105.7C80.5 106.1 80.4 106.5 80.3 106.8C80.2 107.2 80.0 107.4 79.9 107.6C79.7 107.8 79.5 107.9 79.3 107.9C79.2 107.9 79.0 107.8 78.8 107.6C78.7 107.4 78.5 107.2 78.4 106.8C78.2 106.5 78.1 106.1 78.1 105.7C78.0 105.3 78.0 104.8 78.0 104.3C78.0 103.9 78.0 103.4 78.1 102.9C78.1 102.5 78.2 102.1 78.4 101.8C78.5 101.5 78.7 101.2 78.8 101.0C79.0 100.8 79.2 100.7 79.3 100.7C79.5 100.7 79.7 100.8 79.9 101.0C80.0 101.2 80.2 101.5 80.3 101.8C80.4 102.1 80.5 102.5 80.6 102.9C80.7 103.4 80.7 103.9 80.7 104.3Z" stroke="#111" stroke-width="0.7" fill="none"/>
<path d="M80.4 104.4C80.4 104.8 80.4 105.1 80.3 105.4C80.3 105.8 80.2 106.1 80.1 106.3C80.0 106.6 79.9 106.8 79.8 106.9C79.6 107.1 79.5 107.1 79.4 107.1C79.2 107.1 79.1 107.1 79.0 106.9C78.8 106.8 78.7 106.6 78.6 106.3C78.5 106.1 78.4 105.8 78.4 105.4C78.3 105.1 78.3 104.8 78.3 104.4C78.3 104.1 78.3 103.7 78.4 103.4C78.4 103.0 78.5 102.7 78.6 102.5C78.7 102.2 78.8 102.0 79.0 101.9C79.1 101.7 79.2 101.7 79.4 101.7C79.5 101.7 79.6 101.7 79.8 101.9C79.9 102.0 80.0 102.2 80.1 102.5C80.2 102.7 80.3 103.0 80.3 103.4C80.4 103.7 80.4 104.1 80.4 104.4Z" stroke="#111" stroke-width="0.7" fill="none"/>
<path d="M80.1 104.5C80.1 104.7 80.1 105.0 80.0 105.2C80.0 105.4 79.9 105.7 79.9 105.8C79.8 106.0 79.7 106.2 79.6 106.3C79.6 106.4 79.5 106.4 79.4 106.4C79.3 106.4 79.2 106.4 79.1 106.3C79.0 106.2 78.9 106.0 78.8 105.8C78.8 105.7 78.7 105.4 78.7 105.2C78.7 105.0 78.6 104.7 78.6 104.5C78.6 104.2 78.7 104.0 78.7 103.8C78.7 103.5 78.8 103.3 78.8 103.1C78.9 103.0 79.0 102.8 79.1 102.7C79.2 102.6 79.3 102.6 79.4 102.6C79.5 102.6 79.6 102.6 79.6 102.7C79.7 102.8 79.8 103.0 79.9 103.1C79.9 103.3 80.0 103.5 80.0 103.8C80.1 104.0 80.1 104.2 80.1 104.5Z" stroke="#111" stroke-width="0.7" fill="none"/>
<path d="M79.8 104.6C79.8 104.7 79.8 104.9 79.8 105.0C79.7 105.1 79.7 105.3 79.7 105.4C79.6 105.5 79.6 105.5 79.5 105.6C79.5 105.6 79.4 105.7 79.4 105.7C79.3 105.7 79.3 105.6 79.2 105.6C79.2 105.5 79.1 105.5 79.1 105.4C79.0 105.3 79.0 105.1 79.0 105.0C79.0 104.9 79.0 104.7 79.0 104.6C79.0 104.4 79.0 104.3 79.0 104.2C79.0 104.0 79.0 103.9 79.1 103.8C79.1 103.7 79.2 103.6 79.2 103.6C79.3 103.5 79.3 103.5 79.4 103.5C79.4 103.5 79.5 103.5 79.5 103.6C79.6 103.6 79.6 103.7 79.7 103.8C79.7 103.9 79.7 104.0 79.8 104.2C79.8 104.3 79.8 104.4 79.8 104.6Z" stroke="#111" stroke-width="0.7" fill="none"/>
<ellipse cx="79.4" cy="104.7" rx="0.6" ry="1.2" fill="#fff"/>
<ellipse cx="79.4" cy="128.0" rx="1.7" ry="1.0" fill="#222"/>
<path d="M218.3 113.1h.1M209.2 106.6h.1M200.4 117.6h.1M228.5 106.9h.1M209.2 100.6h.1M215.7 109.2h.1M228.1 109.1h.1M225.2 111.4h.1M212.7 98.7h.1M230.4 100.9h.1M222.5 102.1h.1M207.1 103.8h.1M202.1 103.9h.1M226.5 112.1h.1M212.6 102.1h.1M212.8 100.1h.1M228.4 113.0h.1M227.3 109.5h.1M210.3 101.3h.1M197.1 99.1h.1M209.3 116.6h.1M226.2 103.1h.1M217.4 114.0h.1M221.2 104.0h.1M206.4 105.4h.1M221.7 113.3h.1M224.1 98.0h.1M216.3 114.0h.1M205.8 103.0h.1M206.4 118.5h.1M224.9 107.3h.1M216.3 108.7h.1M216.0 106.7h.1M210.7 100.5h.1M207.6 117.9h.1M219.4 108.4h.1M217.5 104.1h.1M216.0 109.4h.1M206.5 103.3h.1M204.0 101.6h.1M211.3 104.3h.1M225.3 108.5h.1M212.6 104.3h.1M210.1 101.1h.1M201.4 101.4h.1M217.6 106.6h.1M228.6 104.1h.1M221.5 112.8h.1M198.5 98.7h.1M227.0 100.6h.1M224.5 105.7h.1M210.1 104.7h.1M210.8 97.1h.1M204.0 100.6h.1M218.9 120.5h.1M196.8 105.6h.1M204.6 119.9h.1M219.7 103.6h.1M223.4 111.2h.1M197.7 104.8h.1M215.3 106.0h.1M215.9 104.5h.1M205.0 117.1h.1M217.6 110.6h.1M198.1 107.0h.1M222.2 100.3h.1M225.0 105.7h.1M218.0 107.2h.1M216.2 115.2h.1M210.0 117.4h.1M206.2 102.4h.1M221.1 101.6h.1M226.1 97.4h.1M219.1 119.3h.1M225.9 106.6h.1M208.0 106.2h.1M202.5 106.4h.1M212.1 107.1h.1M225.8 106.6h.1M203.3 105.3h.1M212.7 105.9h.1M221.4 112.6h.1M222.6 96.2h.1M219.0 115.8h.1M218.7 106.6h.1M214.4 106.7h.1M216.5 112.0h.1M210.6 103.1h.1M226.8 114.0h.1M222.6 113.0h.1M218.0 116.1h.1M206.1 102.4h.1M222.2 101.4h.1M218.5 104.6h.1M212.9 97.1h.1M221.1 105.0h.1M205.0 120.5h.1M218.1 105.9h.1M215.1 117.6h.1M219.2 102.5h.1M215.3 105.0h.1M220.7 108.4h.1M218.9 107.4h.1M216.2 109.0h.1M202.6 105.7h.1M208.9 106.6h.1M216.7 111.7h.1M218.0 106.8h.1M212.7 107.4h.1M208.2 97.0h.1M218.6 114.0h.1M213.3 101.9h.1M216.0 111.4h.1M228.1 101.3h.1M208.4 96.6h.1M207.0 103.6h.1M204.4 103.8h.1M232.0 106.8h.1M213.4 97.6h.1M218.0 102.4h.1M230.4 100.5h.1M208.2 98.4h.1M215.0 101.9h.1M213.3 105.7h.1M223.4 108.4h.1M205.0 101.6h.1M209.4 103.3h.1M207.0 101.4h.1M228.3 108.0h.1M208.9 98.3h.1M216.1 107.8h.1M201.7 101.5h.1M220.3 109.2h.1M202.7 105.8h.1M226.7 106.4h.1M228.2 107.7h.1M215.5 105.8h.1M200.2 102.2h.1M220.1 113.7h.1M219.7 114.1h.1M211.3 106.7h.1M223.8 105.9h.1M200.7 106.6h.1M206.8 101.6h.1M210.7 117.3h.1M223.3 116.4h.1M197.6 116.2h.1M214.0 106.1h.1M233.4 113.8h.1M221.4 107.2h.1M212.1 101.4h.1M232.3 106.5h.1M210.1 106.2h.1M206.2 103.3h.1M204.9 104.9h.1M216.2 100.7h.1M213.3 103.6h.1M229.9 116.3h.1M217.0 99.8h.1M208.9 100.9h.1M202.1 103.4h.1M214.1 104.1h.1M231.7 101.8h.1M217.4 108.5h.1M210.7 106.0h.1M226.9 112.7h.1M200.6 105.3h.1M216.2 113.3h.1M213.4 96.5h.1M218.5 109.4h.1M219.1 100.2h.1M214.8 103.9h.1M217.5 102.6h.1M230.7 115.0h.1M217.7 109.2h.1M203.4 105.3h.1M210.7 103.4h.1M214.6 105.6h.1M217.4 116.6h.1M221.4 110.5h.1M211.6 98.9h.1M210.7 100.5h.1M223.2 104.7h.1M216.8 103.2h.1M233.5 102.9h.1M218.4 115.3h.1M217.6 100.8h.1M220.6 101.4h.1M221.5 117.1h.1M220.0 104.7h.1M225.9 109.0h.1M201.5 105.9h.1M228.2 106.2h.1M215.2 105.9h.1M197.1 104.9h.1M217.6 109.2h.1M226.2 112.3h.1M224.2 115.8h.1M209.6 104.4h.1M217.1 118.0h.1M197.1 106.6h.1M228.6 106.2h.1M211.1 98.7h.1M222.8 104.9h.1M220.8 100.1h.1M225.0 99.4h.1M224.5 97.1h.1M227.8 105.8h.1" stroke="#222" stroke-width="0.70" stroke-linecap="round" opacity="0.75"/>
<path d="M202.7 100.0h.1M196.1 103.8h.1M196.6 104.3h.1M202.4 106.0h.1M194.5 110.7h.1M206.4 103.9h.1M208.7 105.9h.1M200.8 101.1h.1M208.2 104.3h.1M203.7 103.3h.1M202.2 104.9h.1M201.2 107.7h.1M195.3 101.8h.1M202.6 105.2h.1M206.3 107.5h.1M196.2 106.5h.1M203.7 99.9h.1M198.9 109.3h.1M206.3 101.6h.1M194.4 103.2h.1M218.5 105.2h.1M202.5 100.2h.1M196.3 112.0h.1M196.8 101.2h.1M209.0 103.2h.1M197.5 99.0h.1M202.6 104.5h.1M197.3 105.1h.1M206.6 100.4h.1M199.0 106.7h.1M208.0 107.2h.1M214.8 103.0h.1M208.4 98.4h.1M205.5 104.2h.1M199.2 101.7h.1M210.2 101.9h.1M204.2 101.0h.1M202.0 100.0h.1M203.0 102.3h.1M202.5 101.2h.1M208.3 107.7h.1M197.4 105.4h.1M206.1 104.2h.1M192.2 106.5h.1M206.3 104.9h.1M205.6 99.2h.1M207.8 103.2h.1M198.5 100.9h.1" stroke="#222" stroke-width="0.70" stroke-linecap="round" opacity="0.7"/>
<path d="M190.0 99.0C191.6 98.7 193.8 99.3 196.0 100.0C198.2 100.7 200.5 102.0 203.0 103.0C205.5 104.0 208.7 105.1 211.0 106.0C213.3 106.9 215.7 107.4 217.0 108.3C218.3 109.2 218.9 110.3 218.7 111.3C218.5 112.2 217.8 113.1 216.0 114.0C214.2 114.9 210.8 115.9 208.0 116.8C205.2 117.7 201.8 118.8 199.0 119.5C196.2 120.2 193.1 121.2 191.0 121.0C188.9 120.8 187.5 120.3 186.5 118.5C185.5 116.7 185.2 112.8 185.2 110.0C185.2 107.2 185.7 103.8 186.5 102.0C187.3 100.2 188.4 99.3 190.0 99.0Z" stroke="#111" stroke-width="0.6" fill="none"/>
<path d="M189.4 100.0C190.8 99.7 192.7 100.3 194.6 100.9C196.5 101.5 198.5 102.8 200.6 103.7C202.8 104.6 205.5 105.6 207.5 106.4C209.5 107.3 211.6 107.7 212.7 108.6C213.8 109.4 214.3 110.4 214.1 111.3C214.0 112.2 213.3 113.0 211.8 113.8C210.3 114.6 207.4 115.5 204.9 116.4C202.5 117.2 199.6 118.2 197.2 118.9C194.7 119.5 192.1 120.4 190.3 120.2C188.5 120.1 187.3 119.6 186.4 117.9C185.6 116.3 185.3 112.7 185.3 110.1C185.3 107.6 185.7 104.4 186.4 102.8C187.1 101.1 188.1 100.3 189.4 100.0Z" stroke="#111" stroke-width="0.6" fill="none"/>
<path d="M188.9 101.0C190.1 100.7 191.7 101.3 193.3 101.8C194.9 102.4 196.6 103.5 198.4 104.4C200.2 105.2 202.5 106.1 204.2 106.9C206.0 107.6 207.7 108.1 208.6 108.8C209.6 109.6 210.0 110.5 209.9 111.3C209.7 112.1 209.2 112.8 207.9 113.6C206.6 114.4 204.1 115.2 202.1 116.0C200.0 116.7 197.6 117.6 195.5 118.2C193.4 118.8 191.2 119.6 189.7 119.5C188.1 119.3 187.1 118.9 186.4 117.4C185.7 115.8 185.4 112.5 185.4 110.2C185.4 107.9 185.8 105.1 186.4 103.5C186.9 102.0 187.8 101.3 188.9 101.0Z" stroke="#111" stroke-width="0.6" fill="none"/>
<path d="M188.4 102.0C189.3 101.7 190.7 102.3 192.0 102.8C193.3 103.3 194.7 104.3 196.2 105.0C197.7 105.8 199.6 106.6 201.0 107.3C202.4 108.0 203.8 108.4 204.6 109.1C205.4 109.7 205.7 110.6 205.6 111.3C205.5 112.1 205.1 112.7 204.0 113.4C202.9 114.1 200.9 114.8 199.2 115.5C197.5 116.2 195.5 117.0 193.8 117.6C192.1 118.1 190.2 118.8 189.0 118.7C187.8 118.6 186.9 118.2 186.3 116.8C185.7 115.4 185.5 112.5 185.5 110.4C185.5 108.3 185.8 105.7 186.3 104.3C186.8 102.9 187.5 102.3 188.4 102.0Z" stroke="#111" stroke-width="0.6" fill="none"/>
<path d="M187.9 103.0C188.7 102.8 189.8 103.2 190.8 103.7C191.8 104.1 193.0 105.0 194.2 105.7C195.4 106.4 196.9 107.2 198.0 107.8C199.1 108.4 200.3 108.7 200.9 109.3C201.5 109.9 201.8 110.7 201.7 111.4C201.6 112.0 201.3 112.6 200.4 113.2C199.5 113.8 197.9 114.5 196.6 115.1C195.2 115.7 193.6 116.5 192.2 116.9C190.9 117.4 189.4 118.1 188.4 118.0C187.4 117.8 186.7 117.5 186.2 116.3C185.8 115.0 185.6 112.4 185.6 110.5C185.6 108.6 185.9 106.3 186.2 105.0C186.6 103.8 187.2 103.2 187.9 103.0Z" stroke="#111" stroke-width="0.6" fill="none"/>
<path d="M194.8 110.5C194.8 111.8 194.7 113.3 194.4 114.5C194.2 115.8 193.8 117.0 193.4 117.9C193.0 118.9 192.4 119.7 191.8 120.2C191.3 120.7 190.6 121.0 190.0 121.0C189.4 121.0 188.7 120.7 188.2 120.2C187.6 119.7 187.0 118.9 186.6 117.9C186.2 117.0 185.8 115.8 185.6 114.5C185.3 113.3 185.2 111.8 185.2 110.5C185.2 109.2 185.3 107.7 185.6 106.5C185.8 105.2 186.2 104.0 186.6 103.1C187.0 102.1 187.6 101.3 188.2 100.8C188.7 100.3 189.4 100.0 190.0 100.0C190.6 100.0 191.3 100.3 191.8 100.8C192.4 101.3 193.0 102.1 193.4 103.1C193.8 104.0 194.2 105.2 194.4 106.5C194.7 107.7 194.8 109.2 194.8 110.5Z" stroke="#111" stroke-width="0.6" fill="none"/>
<path d="M194.2 110.7C194.2 111.9 194.0 113.2 193.8 114.3C193.6 115.4 193.3 116.4 192.9 117.3C192.5 118.1 192.1 118.8 191.6 119.3C191.1 119.7 190.5 120.0 189.9 120.0C189.4 120.0 188.8 119.7 188.3 119.3C187.8 118.8 187.3 118.1 187.0 117.3C186.6 116.4 186.2 115.4 186.0 114.3C185.8 113.2 185.7 111.9 185.7 110.7C185.7 109.6 185.8 108.3 186.0 107.2C186.2 106.1 186.6 105.1 187.0 104.2C187.3 103.4 187.8 102.7 188.3 102.2C188.8 101.8 189.4 101.5 189.9 101.5C190.5 101.5 191.1 101.8 191.6 102.2C192.1 102.7 192.5 103.4 192.9 104.2C193.3 105.1 193.6 106.1 193.8 107.2C194.0 108.3 194.2 109.6 194.2 110.7Z" stroke="#111" stroke-width="0.6" fill="none"/>
<path d="M193.5 111.0C193.5 112.0 193.4 113.1 193.2 114.0C193.1 115.0 192.8 115.9 192.4 116.6C192.1 117.3 191.7 117.9 191.3 118.3C190.8 118.7 190.3 118.9 189.9 118.9C189.4 118.9 188.9 118.7 188.5 118.3C188.1 117.9 187.6 117.3 187.3 116.6C187.0 115.9 186.7 115.0 186.5 114.0C186.3 113.1 186.2 112.0 186.2 111.0C186.2 110.0 186.3 108.9 186.5 107.9C186.7 107.0 187.0 106.1 187.3 105.4C187.6 104.6 188.1 104.0 188.5 103.6C188.9 103.3 189.4 103.0 189.9 103.0C190.3 103.0 190.8 103.3 191.3 103.6C191.7 104.0 192.1 104.6 192.4 105.4C192.8 106.1 193.1 107.0 193.2 107.9C193.4 108.9 193.5 110.0 193.5 111.0Z" stroke="#111" stroke-width="0.6" fill="none"/>
<path d="M192.9 111.2C192.9 112.1 192.8 113.0 192.6 113.8C192.5 114.6 192.3 115.3 192.0 115.9C191.7 116.6 191.3 117.1 191.0 117.4C190.6 117.7 190.2 117.9 189.8 117.9C189.4 117.9 189.0 117.7 188.7 117.4C188.3 117.1 187.9 116.6 187.7 115.9C187.4 115.3 187.1 114.6 187.0 113.8C186.8 113.0 186.8 112.1 186.8 111.2C186.8 110.4 186.8 109.5 187.0 108.7C187.1 107.9 187.4 107.1 187.7 106.5C187.9 105.9 188.3 105.4 188.7 105.1C189.0 104.7 189.4 104.6 189.8 104.6C190.2 104.6 190.6 104.7 191.0 105.1C191.3 105.4 191.7 105.9 192.0 106.5C192.3 107.1 192.5 107.9 192.6 108.7C192.8 109.5 192.9 110.4 192.9 111.2Z" stroke="#111" stroke-width="0.6" fill="none"/>
<path d="M192.2 111.5C192.2 112.2 192.2 112.9 192.0 113.5C191.9 114.2 191.7 114.8 191.5 115.3C191.3 115.8 191.0 116.2 190.7 116.5C190.4 116.7 190.1 116.9 189.8 116.9C189.4 116.9 189.1 116.7 188.8 116.5C188.5 116.2 188.2 115.8 188.0 115.3C187.8 114.8 187.6 114.2 187.5 113.5C187.4 112.9 187.3 112.2 187.3 111.5C187.3 110.8 187.4 110.0 187.5 109.4C187.6 108.8 187.8 108.1 188.0 107.7C188.2 107.2 188.5 106.7 188.8 106.5C189.1 106.2 189.4 106.1 189.8 106.1C190.1 106.1 190.4 106.2 190.7 106.5C191.0 106.7 191.3 107.2 191.5 107.7C191.7 108.1 191.9 108.8 192.0 109.4C192.2 110.0 192.2 110.8 192.2 111.5Z" stroke="#111" stroke-width="0.6" fill="none"/>
<path d="M191.6 111.7C191.6 112.2 191.5 112.8 191.4 113.3C191.3 113.8 191.2 114.3 191.0 114.6C190.9 115.0 190.6 115.3 190.4 115.5C190.2 115.7 189.9 115.8 189.7 115.8C189.5 115.8 189.2 115.7 189.0 115.5C188.8 115.3 188.5 115.0 188.4 114.6C188.2 114.3 188.0 113.8 188.0 113.3C187.9 112.8 187.8 112.2 187.8 111.7C187.8 111.2 187.9 110.6 188.0 110.1C188.0 109.6 188.2 109.2 188.4 108.8C188.5 108.4 188.8 108.1 189.0 107.9C189.2 107.7 189.5 107.6 189.7 107.6C189.9 107.6 190.2 107.7 190.4 107.9C190.6 108.1 190.9 108.4 191.0 108.8C191.2 109.2 191.3 109.6 191.4 110.1C191.5 110.6 191.6 111.2 191.6 111.7Z" stroke="#111" stroke-width="0.6" fill="none"/>
<path d="M190.9 112.0C190.9 112.3 190.9 112.7 190.8 113.0C190.8 113.4 190.7 113.7 190.6 114.0C190.4 114.2 190.3 114.5 190.1 114.6C190.0 114.7 189.8 114.8 189.6 114.8C189.5 114.8 189.3 114.7 189.1 114.6C189.0 114.5 188.8 114.2 188.7 114.0C188.6 113.7 188.5 113.4 188.4 113.0C188.4 112.7 188.3 112.3 188.3 112.0C188.3 111.6 188.4 111.2 188.4 110.9C188.5 110.5 188.6 110.2 188.7 109.9C188.8 109.7 189.0 109.5 189.1 109.3C189.3 109.2 189.5 109.1 189.6 109.1C189.8 109.1 190.0 109.2 190.1 109.3C190.3 109.5 190.4 109.7 190.6 109.9C190.7 110.2 190.8 110.5 190.8 110.9C190.9 111.2 190.9 111.6 190.9 112.0Z" stroke="#111" stroke-width="0.6" fill="none"/>
<path d="M190.3 112.2C190.3 112.4 190.3 112.6 190.2 112.8C190.2 113.0 190.1 113.2 190.1 113.3C190.0 113.5 189.9 113.6 189.9 113.7C189.8 113.7 189.7 113.8 189.6 113.8C189.5 113.8 189.4 113.7 189.3 113.7C189.2 113.6 189.1 113.5 189.1 113.3C189.0 113.2 188.9 113.0 188.9 112.8C188.9 112.6 188.9 112.4 188.9 112.2C188.9 112.0 188.9 111.8 188.9 111.6C188.9 111.4 189.0 111.2 189.1 111.1C189.1 110.9 189.2 110.8 189.3 110.7C189.4 110.7 189.5 110.6 189.6 110.6C189.7 110.6 189.8 110.7 189.9 110.7C189.9 110.8 190.0 110.9 190.1 111.1C190.1 111.2 190.2 111.4 190.2 111.6C190.3 111.8 190.3 112.0 190.3 112.2Z" stroke="#111" stroke-width="0.6" fill="none"/>
<path d="M194.8 110.5C194.8 111.8 194.7 113.3 194.4 114.5C194.2 115.8 193.8 117.0 193.4 117.9C193.0 118.9 192.4 119.7 191.8 120.2C191.3 120.7 190.6 121.0 190.0 121.0C189.4 121.0 188.7 120.7 188.2 120.2C187.6 119.7 187.0 118.9 186.6 117.9C186.2 117.0 185.8 115.8 185.6 114.5C185.3 113.3 185.2 111.8 185.2 110.5C185.2 109.2 185.3 107.7 185.6 106.5C185.8 105.2 186.2 104.0 186.6 103.1C187.0 102.1 187.6 101.3 188.2 100.8C188.7 100.3 189.4 100.0 190.0 100.0C190.6 100.0 191.3 100.3 191.8 100.8C192.4 101.3 193.0 102.1 193.4 103.1C193.8 104.0 194.2 105.2 194.4 106.5C194.7 107.7 194.8 109.2 194.8 110.5Z" stroke="#111" stroke-width="0.9" fill="none"/>
<path d="M194.6 110.5C194.6 111.8 194.5 113.2 194.3 114.4C194.0 115.7 193.7 116.9 193.3 117.8C192.9 118.7 192.4 119.5 191.8 120.0C191.3 120.5 190.7 120.8 190.1 120.8C189.6 120.8 189.0 120.5 188.4 120.0C187.9 119.5 187.4 118.7 187.0 117.8C186.6 116.9 186.2 115.7 186.0 114.4C185.8 113.2 185.7 111.8 185.7 110.5C185.7 109.2 185.8 107.8 186.0 106.6C186.2 105.4 186.6 104.2 187.0 103.2C187.4 102.3 187.9 101.5 188.4 101.0C189.0 100.5 189.6 100.2 190.1 100.2C190.7 100.2 191.3 100.5 191.8 101.0C192.4 101.5 192.9 102.3 193.3 103.2C193.7 104.2 194.0 105.4 194.3 106.6C194.5 107.8 194.6 109.2 194.6 110.5Z" stroke="#111" stroke-width="0.9" fill="none"/>
<ellipse cx="190.0" cy="128.0" rx="1.7" ry="1.0" fill="#222"/>
<path d="M488.5 64.3h.1M478.6 66.1h.1M475.4 91.8h.1M482.8 91.6h.1M472.1 92.7h.1M485.7 88.0h.1M484.8 60.0h.1M500.5 68.2h.1M484.2 60.1h.1M488.5 69.0h.1M489.4 82.2h.1M477.7 50.6h.1M491.2 92.5h.1M494.4 55.4h.1M493.3 82.9h.1M489.4 83.7h.1M482.1 79.9h.1M497.1 66.9h.1M468.7 74.1h.1M488.4 42.8h.1M477.9 86.6h.1M484.2 77.7h.1M470.9 92.3h.1M507.1 72.4h.1M477.2 55.2h.1M496.7 77.9h.1M476.5 97.8h.1M495.2 86.9h.1M464.9 74.1h.1M493.5 54.0h.1M497.1 101.7h.1M498.4 63.0h.1M477.5 93.0h.1M497.9 98.1h.1M500.4 74.2h.1M481.1 42.6h.1M480.4 67.4h.1M493.8 82.7h.1M469.6 63.1h.1M477.4 91.4h.1M509.0 110.1h.1M503.1 105.3h.1M471.2 69.8h.1M477.3 70.8h.1M492.7 53.7h.1M502.1 99.4h.1M486.9 99.5h.1M489.7 65.9h.1M481.4 73.9h.1M493.4 78.3h.1M480.4 63.1h.1M476.7 50.1h.1M474.2 92.3h.1M486.7 72.9h.1M490.2 95.2h.1M493.4 89.9h.1M479.3 71.3h.1M476.7 74.3h.1M476.2 69.3h.1M483.9 72.1h.1M482.8 67.1h.1M501.7 69.8h.1M473.9 79.5h.1M472.9 56.7h.1M487.0 46.0h.1M498.4 45.9h.1M475.2 86.4h.1M462.2 60.3h.1M471.6 72.4h.1M462.3 92.1h.1M484.3 81.5h.1M484.2 51.9h.1M486.1 60.7h.1M482.2 72.2h.1M495.3 89.8h.1M473.9 75.7h.1M503.5 84.9h.1M477.2 73.8h.1M481.8 92.9h.1M486.4 82.8h.1M512.5 51.2h.1M473.8 44.8h.1M466.9 91.4h.1M489.5 105.4h.1M462.3 60.1h.1M503.3 94.5h.1M496.6 91.7h.1M486.4 75.8h.1M486.4 91.2h.1M484.0 81.8h.1M503.4 55.7h.1M477.0 86.2h.1M482.8 73.2h.1M511.2 83.5h.1M481.0 95.8h.1M478.0 78.1h.1M492.3 68.8h.1M491.9 61.7h.1M478.7 77.9h.1M491.0 100.3h.1M494.9 110.6h.1M491.4 78.6h.1M484.4 60.6h.1M505.6 54.7h.1M484.5 66.6h.1M481.4 78.5h.1M487.7 91.2h.1M484.1 64.5h.1M489.7 88.0h.1M475.2 48.6h.1M473.7 95.0h.1M498.0 60.0h.1M487.3 91.1h.1M501.9 64.1h.1M483.1 101.4h.1M472.3 84.1h.1M482.4 74.9h.1M478.0 67.4h.1M485.9 108.5h.1M494.4 83.7h.1M486.3 62.5h.1M483.2 98.3h.1M496.0 111.4h.1M489.1 75.6h.1M466.6 83.2h.1M465.3 103.5h.1M478.4 76.0h.1M469.8 67.1h.1M474.8 96.4h.1M489.0 54.8h.1M462.8 74.8h.1M480.2 56.0h.1M493.1 72.7h.1M487.3 65.4h.1M479.2 67.7h.1M466.8 87.3h.1M490.8 45.0h.1M487.2 96.8h.1M488.8 99.3h.1M482.8 76.0h.1M470.4 59.7h.1M464.1 59.9h.1M488.9 85.3h.1M500.0 78.4h.1M474.1 83.8h.1M484.3 108.1h.1M509.5 93.3h.1M472.4 66.5h.1M488.3 63.2h.1M492.3 88.3h.1M496.1 80.1h.1M475.4 60.8h.1M484.5 99.9h.1M504.9 93.6h.1M490.4 88.2h.1M495.9 99.3h.1M496.3 48.4h.1M497.4 82.9h.1M480.5 85.5h.1M489.5 75.0h.1M465.7 78.0h.1M492.7 75.1h.1M466.9 84.2h.1M494.6 79.3h.1M491.1 69.7h.1M478.1 85.4h.1M481.7 79.3h.1M487.6 46.8h.1M487.2 89.6h.1M477.5 71.7h.1M478.9 88.3h.1M502.4 73.1h.1M497.8 80.5h.1M483.5 70.9h.1M475.8 99.1h.1M496.6 57.9h.1M496.1 62.9h.1M467.9 97.6h.1M470.6 97.3h.1M488.4 92.2h.1M492.1 96.8h.1M490.2 86.4h.1M489.0 95.7h.1M481.3 94.3h.1M504.1 74.9h.1M491.3 66.8h.1M482.5 80.7h.1M481.9 60.1h.1M485.6 79.4h.1M489.9 88.8h.1M464.7 101.4h.1M483.9 62.1h.1M481.5 84.0h.1M496.4 69.4h.1M487.9 47.3h.1M488.0 74.0h.1M480.8 91.9h.1M507.5 94.6h.1M476.6 103.5h.1M482.0 75.3h.1M479.0 84.2h.1M492.6 78.6h.1M483.5 73.4h.1M481.2 93.5h.1M479.8 73.3h.1" stroke="#222" stroke-width="0.80" stroke-linecap="round" opacity="0.5"/>
<path d="M477.0 45.5C479.3 45.5 483.3 45.8 486.0 46.5C488.7 47.2 491.2 48.2 493.0 50.0C494.8 51.8 496.2 54.5 496.5 57.0C496.8 59.5 495.8 62.6 495.0 65.0C494.2 67.4 493.1 69.5 492.0 71.5C490.9 73.5 489.2 75.2 488.5 77.0C487.8 78.8 487.2 80.2 487.5 82.0C487.8 83.8 488.7 86.0 490.0 88.0C491.3 90.0 494.1 92.3 495.5 94.0C496.9 95.7 498.9 97.2 498.6 98.4C498.4 99.7 496.3 100.6 494.0 101.5C491.7 102.4 488.2 103.3 485.0 104.0C481.8 104.7 477.8 105.5 475.0 105.5C472.2 105.5 469.6 105.2 468.0 104.0C466.4 102.8 465.9 101.2 465.5 98.0C465.1 94.8 465.7 89.3 465.8 85.0C465.9 80.7 466.0 76.5 466.0 72.0C466.0 67.5 465.5 61.7 465.8 58.0C466.1 54.3 467.0 51.9 468.0 50.0C469.0 48.1 470.5 47.2 472.0 46.5C473.5 45.8 474.7 45.5 477.0 45.5Z" stroke="#111" stroke-width="0.6" fill="none"/>
<path d="M477.0 47.1C479.1 47.1 482.6 47.3 485.0 48.0C487.4 48.7 489.7 49.7 491.2 51.4C492.8 53.0 494.1 55.6 494.4 58.0C494.7 60.4 493.7 63.3 493.0 65.6C492.4 67.9 491.3 69.9 490.4 71.8C489.4 73.7 487.9 75.3 487.2 77.0C486.6 78.7 486.1 80.0 486.3 81.8C486.6 83.5 487.4 85.5 488.6 87.5C489.8 89.4 492.2 91.5 493.5 93.2C494.7 94.8 496.4 96.1 496.2 97.3C496.0 98.5 494.1 99.4 492.1 100.3C490.1 101.2 486.9 102.0 484.1 102.7C481.3 103.3 477.7 104.1 475.2 104.1C472.7 104.1 470.4 103.8 469.0 102.7C467.6 101.5 467.1 100.0 466.8 97.0C466.4 93.9 467.0 88.7 467.0 84.6C467.1 80.5 467.2 76.5 467.2 72.2C467.2 68.0 466.7 62.4 467.0 59.0C467.3 55.5 468.1 53.2 469.0 51.4C469.9 49.5 471.2 48.7 472.6 48.0C473.9 47.3 474.9 47.1 477.0 47.1Z" stroke="#111" stroke-width="0.6" fill="none"/>
<path d="M477.0 48.6C478.8 48.6 481.9 48.9 484.0 49.5C486.1 50.2 488.1 51.1 489.5 52.7C490.8 54.3 491.9 56.8 492.2 59.0C492.5 61.2 491.6 64.0 491.0 66.2C490.5 68.4 489.5 70.2 488.7 72.0C487.9 73.8 486.6 75.4 486.0 77.0C485.4 78.6 485.0 79.8 485.2 81.5C485.4 83.2 486.1 85.1 487.1 86.9C488.2 88.7 490.3 90.7 491.4 92.3C492.5 93.9 494.0 95.1 493.8 96.3C493.7 97.4 492.0 98.2 490.3 99.0C488.5 99.9 485.7 100.7 483.2 101.3C480.8 101.9 477.6 102.7 475.4 102.7C473.2 102.7 471.2 102.4 470.0 101.3C468.7 100.2 468.3 98.8 468.0 95.9C467.7 93.1 468.2 88.1 468.3 84.2C468.3 80.3 468.4 76.5 468.4 72.5C468.4 68.5 468.0 63.2 468.3 59.9C468.5 56.6 469.2 54.4 470.0 52.7C470.8 51.0 471.9 50.2 473.1 49.5C474.3 48.9 475.2 48.6 477.0 48.6Z" stroke="#111" stroke-width="0.6" fill="none"/>
<path d="M477.0 50.2C478.6 50.2 481.2 50.4 483.0 51.1C484.8 51.7 486.5 52.6 487.7 54.0C488.9 55.5 489.8 57.9 490.1 60.0C490.3 62.1 489.6 64.7 489.1 66.8C488.6 68.9 487.8 70.6 487.1 72.3C486.3 74.0 485.2 75.5 484.7 77.0C484.2 78.5 483.9 79.7 484.0 81.2C484.2 82.8 484.8 84.6 485.7 86.3C486.6 88.0 488.4 90.0 489.4 91.5C490.4 92.9 491.6 94.1 491.5 95.2C491.3 96.3 489.9 97.0 488.4 97.8C486.9 98.6 484.5 99.4 482.4 100.0C480.2 100.5 477.6 101.2 475.7 101.2C473.8 101.2 472.0 101.0 471.0 100.0C469.9 98.9 469.5 97.5 469.3 94.8C469.0 92.2 469.4 87.5 469.5 83.8C469.6 80.1 469.6 76.6 469.6 72.8C469.6 68.9 469.3 64.0 469.5 60.9C469.7 57.7 470.3 55.7 471.0 54.0C471.7 52.4 472.6 51.7 473.6 51.1C474.7 50.4 475.4 50.2 477.0 50.2Z" stroke="#111" stroke-width="0.6" fill="none"/>
<path d="M477.0 51.8C478.3 51.8 480.5 52.0 482.0 52.6C483.5 53.2 485.0 54.0 486.0 55.4C486.9 56.8 487.7 59.0 487.9 61.0C488.1 63.0 487.5 65.5 487.1 67.4C486.7 69.3 486.0 71.0 485.4 72.6C484.8 74.2 483.9 75.6 483.4 77.0C483.0 78.4 482.7 79.5 482.9 81.0C483.0 82.5 483.5 84.2 484.3 85.8C485.0 87.4 486.6 89.2 487.4 90.6C488.2 92.0 489.2 93.1 489.1 94.1C489.0 95.1 487.8 95.9 486.5 96.6C485.3 97.3 483.3 98.1 481.5 98.6C479.7 99.1 477.5 99.8 475.9 99.8C474.3 99.8 472.8 99.6 472.0 98.6C471.1 97.6 470.8 96.3 470.6 93.8C470.4 91.3 470.7 86.9 470.7 83.4C470.8 79.9 470.8 76.6 470.8 73.0C470.8 69.4 470.5 64.7 470.7 61.8C470.9 58.9 471.4 56.9 472.0 55.4C472.5 53.9 473.4 53.2 474.2 52.6C475.0 52.0 475.7 51.8 477.0 51.8Z" stroke="#111" stroke-width="0.6" fill="none"/>
<path d="M477.0 48.0C479.3 47.9 482.7 48.5 485.0 49.5C487.3 50.5 489.7 52.1 491.0 54.0C492.3 55.9 493.2 58.6 493.0 61.0C492.8 63.4 491.5 66.6 490.0 68.5C488.5 70.4 486.3 71.7 484.0 72.5C481.7 73.3 478.5 73.6 476.0 73.5C473.5 73.4 470.5 73.6 469.0 72.0C467.5 70.4 467.1 66.8 466.8 64.0C466.6 61.2 466.8 57.3 467.5 55.0C468.2 52.7 469.4 51.2 471.0 50.0C472.6 48.8 474.7 48.1 477.0 48.0Z" stroke="#111" stroke-width="0.6" fill="none"/>
<path d="M476.9 50.2C478.9 50.1 481.8 50.6 483.8 51.4C485.8 52.3 487.8 53.7 489.0 55.3C490.1 57.0 490.9 59.3 490.7 61.3C490.6 63.4 489.4 66.2 488.1 67.8C486.8 69.5 485.0 70.5 483.0 71.3C480.9 72.0 478.2 72.2 476.1 72.1C473.9 72.0 471.4 72.2 470.0 70.8C468.7 69.5 468.4 66.4 468.1 63.9C467.9 61.5 468.1 58.2 468.7 56.2C469.4 54.2 470.4 52.9 471.8 51.9C473.1 50.9 474.9 50.2 476.9 50.2Z" stroke="#111" stroke-width="0.6" fill="none"/>
<path d="M476.9 52.0C478.6 52.0 481.1 52.4 482.8 53.1C484.5 53.9 486.3 55.0 487.2 56.5C488.2 57.9 488.8 59.9 488.7 61.6C488.6 63.4 487.6 65.8 486.5 67.2C485.4 68.6 483.8 69.6 482.1 70.2C480.3 70.8 478.0 71.0 476.1 70.9C474.3 70.8 472.1 71.0 470.9 69.8C469.8 68.6 469.5 66.0 469.3 63.9C469.1 61.8 469.3 58.9 469.8 57.2C470.4 55.5 471.3 54.4 472.4 53.5C473.6 52.6 475.1 52.1 476.9 52.0Z" stroke="#111" stroke-width="0.6" fill="none"/>
<path d="M476.8 53.8C478.3 53.7 480.4 54.1 481.8 54.7C483.3 55.4 484.8 56.3 485.6 57.5C486.4 58.7 486.9 60.4 486.8 61.9C486.7 63.4 485.9 65.4 485.0 66.6C484.0 67.8 482.7 68.6 481.2 69.1C479.7 69.7 477.8 69.8 476.2 69.8C474.6 69.7 472.8 69.8 471.8 68.8C470.8 67.8 470.6 65.6 470.4 63.8C470.3 62.0 470.4 59.6 470.9 58.2C471.3 56.7 472.1 55.8 473.1 55.0C474.0 54.3 475.4 53.8 476.8 53.8Z" stroke="#111" stroke-width="0.6" fill="none"/>
<path d="M476.8 55.5C478.0 55.5 479.7 55.8 480.9 56.3C482.1 56.8 483.3 57.6 484.0 58.6C484.7 59.6 485.1 61.0 485.0 62.2C484.9 63.5 484.2 65.1 483.5 66.1C482.7 67.1 481.6 67.7 480.4 68.1C479.2 68.6 477.5 68.7 476.2 68.7C475.0 68.6 473.4 68.7 472.6 67.9C471.8 67.1 471.6 65.2 471.5 63.8C471.4 62.3 471.5 60.3 471.9 59.1C472.2 57.9 472.8 57.1 473.7 56.5C474.5 55.9 475.6 55.5 476.8 55.5Z" stroke="#111" stroke-width="0.6" fill="none"/>
<path d="M476.7 57.2C477.7 57.1 479.0 57.4 480.0 57.8C480.9 58.2 481.9 58.8 482.4 59.6C483.0 60.4 483.3 61.5 483.2 62.5C483.2 63.5 482.6 64.8 482.0 65.5C481.4 66.3 480.5 66.8 479.6 67.2C478.6 67.5 477.3 67.6 476.3 67.6C475.3 67.6 474.1 67.6 473.4 67.0C472.8 66.3 472.6 64.9 472.5 63.7C472.4 62.5 472.5 61.0 472.8 60.0C473.1 59.1 473.6 58.5 474.3 58.0C474.9 57.5 475.8 57.2 476.7 57.2Z" stroke="#111" stroke-width="0.6" fill="none"/>
<path d="M476.7 58.8C477.4 58.8 478.4 58.9 479.1 59.2C479.8 59.6 480.5 60.0 480.9 60.6C481.3 61.2 481.6 62.0 481.5 62.7C481.5 63.5 481.1 64.4 480.6 65.0C480.1 65.6 479.5 66.0 478.8 66.2C478.1 66.5 477.1 66.6 476.3 66.5C475.6 66.5 474.7 66.6 474.2 66.1C473.8 65.6 473.6 64.5 473.6 63.7C473.5 62.8 473.6 61.6 473.8 60.9C474.0 60.2 474.3 59.8 474.8 59.4C475.3 59.0 475.9 58.8 476.7 58.8Z" stroke="#111" stroke-width="0.6" fill="none"/>
<path d="M476.6 60.4C477.1 60.4 477.7 60.5 478.2 60.7C478.7 60.9 479.1 61.2 479.4 61.6C479.7 62.0 479.8 62.5 479.8 63.0C479.8 63.5 479.5 64.1 479.2 64.5C478.9 64.9 478.5 65.1 478.0 65.3C477.5 65.5 476.9 65.5 476.4 65.5C475.9 65.5 475.3 65.5 475.0 65.2C474.7 64.9 474.6 64.2 474.6 63.6C474.5 63.0 474.6 62.3 474.7 61.8C474.8 61.3 475.1 61.0 475.4 60.8C475.7 60.6 476.1 60.4 476.6 60.4Z" stroke="#111" stroke-width="0.6" fill="none"/>
<ellipse cx="476.8" cy="63.8" rx="1.3" ry="2.6" fill="#fff"/>
<path d="M474.0 80.0C476.2 79.2 479.0 80.5 481.0 81.5C483.0 82.5 484.6 84.1 486.0 86.0C487.4 87.9 488.8 90.8 489.5 93.0C490.2 95.2 490.9 97.9 490.0 99.5C489.1 101.1 486.5 101.8 484.0 102.5C481.5 103.2 477.6 104.1 475.0 104.0C472.4 103.9 469.9 103.5 468.5 102.0C467.1 100.5 466.7 97.7 466.5 95.0C466.3 92.3 466.2 88.5 467.5 86.0C468.8 83.5 471.8 80.8 474.0 80.0Z" stroke="#111" stroke-width="0.6" fill="none"/>
<path d="M473.9 82.3C475.8 81.7 478.1 82.8 479.8 83.6C481.5 84.4 482.9 85.8 484.1 87.4C485.3 89.0 486.4 91.4 487.0 93.3C487.6 95.2 488.2 97.5 487.4 98.8C486.7 100.1 484.5 100.7 482.4 101.3C480.3 102.0 476.9 102.7 474.8 102.6C472.6 102.5 470.5 102.2 469.3 100.9C468.1 99.6 467.7 97.3 467.6 95.0C467.4 92.7 467.4 89.5 468.4 87.4C469.5 85.3 472.0 83.0 473.9 82.3Z" stroke="#111" stroke-width="0.6" fill="none"/>
<path d="M473.9 84.4C475.5 83.8 477.4 84.7 478.8 85.4C480.2 86.1 481.4 87.3 482.4 88.6C483.4 90.0 484.4 92.0 484.9 93.6C485.3 95.2 485.9 97.1 485.2 98.2C484.6 99.3 482.7 99.8 481.0 100.3C479.2 100.9 476.4 101.4 474.6 101.4C472.7 101.3 471.0 101.0 470.0 100.0C468.9 98.9 468.6 96.9 468.5 95.0C468.4 93.1 468.4 90.4 469.2 88.6C470.1 86.8 472.3 84.9 473.9 84.4Z" stroke="#111" stroke-width="0.6" fill="none"/>
<path d="M473.8 86.3C475.1 85.8 476.7 86.6 477.9 87.1C479.0 87.7 480.0 88.6 480.8 89.8C481.6 90.9 482.4 92.5 482.8 93.8C483.2 95.1 483.6 96.7 483.1 97.6C482.6 98.5 481.1 98.9 479.6 99.4C478.2 99.8 475.9 100.3 474.4 100.2C472.9 100.2 471.4 99.9 470.6 99.1C469.8 98.2 469.5 96.6 469.4 95.0C469.3 93.4 469.3 91.2 470.0 89.8C470.7 88.3 472.5 86.7 473.8 86.3Z" stroke="#111" stroke-width="0.6" fill="none"/>
<path d="M473.7 88.1C474.8 87.8 476.0 88.4 476.9 88.8C477.9 89.3 478.6 90.0 479.2 90.9C479.9 91.8 480.5 93.1 480.8 94.1C481.1 95.1 481.5 96.3 481.1 97.1C480.6 97.8 479.5 98.1 478.3 98.4C477.2 98.8 475.4 99.2 474.2 99.1C473.0 99.1 471.9 98.9 471.2 98.2C470.6 97.5 470.4 96.2 470.3 95.0C470.2 93.8 470.2 92.0 470.7 90.9C471.3 89.7 472.7 88.5 473.7 88.1Z" stroke="#111" stroke-width="0.6" fill="none"/>
<path d="M473.7 89.9C474.4 89.7 475.4 90.1 476.0 90.4C476.7 90.8 477.2 91.3 477.7 92.0C478.2 92.6 478.7 93.6 478.9 94.3C479.1 95.1 479.4 96.0 479.1 96.5C478.8 97.1 477.9 97.3 477.0 97.5C476.2 97.8 474.9 98.1 474.0 98.0C473.1 98.0 472.3 97.9 471.8 97.4C471.3 96.9 471.2 95.9 471.1 95.0C471.1 94.1 471.0 92.8 471.5 92.0C471.9 91.1 472.9 90.2 473.7 89.9Z" stroke="#111" stroke-width="0.6" fill="none"/>
<path d="M473.6 91.7C474.1 91.5 474.7 91.8 475.1 92.0C475.6 92.2 475.9 92.6 476.2 93.0C476.6 93.4 476.9 94.1 477.0 94.6C477.2 95.1 477.3 95.6 477.1 96.0C476.9 96.3 476.4 96.5 475.8 96.7C475.3 96.8 474.4 97.0 473.8 97.0C473.3 97.0 472.7 96.9 472.4 96.5C472.1 96.2 472.0 95.6 472.0 95.0C471.9 94.4 471.9 93.6 472.2 93.0C472.5 92.5 473.1 91.9 473.6 91.7Z" stroke="#111" stroke-width="0.6" fill="none"/>
<ellipse cx="473.9" cy="95" rx="1.8" ry="1.8" fill="#fff"/>
<path d="M486.7 95.0C486.7 95.6 486.6 96.3 486.4 96.9C486.2 97.5 485.9 98.1 485.5 98.5C485.2 99.0 484.7 99.4 484.2 99.6C483.8 99.9 483.2 100.0 482.7 100.0C482.2 100.0 481.6 99.9 481.2 99.6C480.7 99.4 480.2 99.0 479.9 98.5C479.5 98.1 479.2 97.5 479.0 96.9C478.8 96.3 478.7 95.6 478.7 95.0C478.7 94.4 478.8 93.7 479.0 93.1C479.2 92.5 479.5 91.9 479.9 91.5C480.2 91.0 480.7 90.6 481.2 90.4C481.6 90.1 482.2 90.0 482.7 90.0C483.2 90.0 483.8 90.1 484.2 90.4C484.7 90.6 485.2 91.0 485.5 91.5C485.9 91.9 486.2 92.5 486.4 93.1C486.6 93.7 486.7 94.4 486.7 95.0Z" stroke="#111" stroke-width="0.5" fill="none"/>
<path d="M485.3 95.0C485.3 95.4 485.2 95.9 485.1 96.2C485.0 96.6 484.8 97.0 484.5 97.3C484.3 97.6 484.0 97.8 483.7 98.0C483.4 98.2 483.0 98.2 482.7 98.2C482.4 98.2 482.0 98.2 481.7 98.0C481.4 97.8 481.1 97.6 480.9 97.3C480.6 97.0 480.4 96.6 480.3 96.2C480.2 95.9 480.1 95.4 480.1 95.0C480.1 94.6 480.2 94.1 480.3 93.8C480.4 93.4 480.6 93.0 480.9 92.7C481.1 92.4 481.4 92.2 481.7 92.0C482.0 91.8 482.4 91.8 482.7 91.8C483.0 91.8 483.4 91.8 483.7 92.0C484.0 92.2 484.3 92.4 484.5 92.7C484.8 93.0 485.0 93.4 485.1 93.8C485.2 94.1 485.3 94.6 485.3 95.0Z" stroke="#111" stroke-width="0.5" fill="none"/>
<path d="M483.9 95.0C483.9 95.2 483.9 95.4 483.8 95.6C483.8 95.8 483.7 95.9 483.5 96.1C483.4 96.2 483.3 96.3 483.2 96.4C483.0 96.5 482.9 96.5 482.7 96.5C482.5 96.5 482.4 96.5 482.2 96.4C482.1 96.3 482.0 96.2 481.9 96.1C481.7 95.9 481.6 95.8 481.6 95.6C481.5 95.4 481.5 95.2 481.5 95.0C481.5 94.8 481.5 94.6 481.6 94.4C481.6 94.2 481.7 94.1 481.9 93.9C482.0 93.8 482.1 93.7 482.2 93.6C482.4 93.5 482.5 93.5 482.7 93.5C482.9 93.5 483.0 93.5 483.2 93.6C483.3 93.7 483.4 93.8 483.5 93.9C483.7 94.1 483.8 94.2 483.8 94.4C483.9 94.6 483.9 94.8 483.9 95.0Z" stroke="#111" stroke-width="0.5" fill="none"/>
<ellipse cx="452.0" cy="127.3" rx="1.7" ry="1.0" fill="#222"/>
<ellipse cx="428.4" cy="103" rx="0.9" ry="1.4" fill="#222"/>
<path d="M605.3 63.3h.1M605.0 54.0h.1M613.3 80.0h.1M604.1 93.2h.1M597.4 80.2h.1M614.2 66.1h.1M604.9 84.5h.1M608.8 76.7h.1M626.1 75.8h.1M586.4 63.5h.1M618.8 71.3h.1M594.0 47.4h.1M612.2 92.4h.1M591.8 45.0h.1M614.4 66.0h.1M604.2 68.8h.1M596.3 78.7h.1M619.9 77.7h.1M600.8 86.4h.1M606.6 80.5h.1M595.9 81.5h.1M617.6 89.7h.1M608.4 78.7h.1M600.6 84.4h.1M618.0 87.0h.1M603.0 57.3h.1M607.1 70.3h.1M598.4 80.8h.1M620.2 78.1h.1M622.3 78.1h.1M595.5 65.5h.1M603.5 81.8h.1M619.9 74.8h.1M621.1 62.4h.1M606.6 92.3h.1M613.7 86.5h.1M583.8 51.6h.1M596.9 85.9h.1M628.9 65.1h.1M595.4 60.0h.1M596.6 80.2h.1M604.0 97.1h.1M617.3 64.3h.1M611.1 71.1h.1M618.2 84.7h.1M603.6 84.5h.1M615.3 71.9h.1M611.3 81.8h.1M604.0 64.4h.1M624.3 73.1h.1M600.4 78.9h.1M589.2 73.8h.1M590.6 67.6h.1M585.2 63.9h.1M619.5 70.7h.1M592.5 95.3h.1M600.0 92.0h.1M601.3 54.4h.1M631.6 67.5h.1M617.8 88.3h.1M591.3 74.0h.1M600.7 80.8h.1M607.9 56.9h.1M608.8 82.8h.1M604.3 80.2h.1M601.3 72.4h.1M612.5 74.9h.1M624.3 85.2h.1M618.8 82.3h.1M610.1 58.3h.1M621.6 95.2h.1M610.9 69.9h.1M607.6 88.5h.1M611.7 60.6h.1M605.9 63.3h.1M605.5 61.7h.1M597.0 92.0h.1M621.4 52.6h.1M595.6 67.4h.1M603.1 55.5h.1M619.4 52.6h.1M616.9 82.0h.1M603.4 64.8h.1M608.9 75.0h.1M581.4 57.2h.1M614.8 71.7h.1M602.8 60.5h.1M599.1 63.4h.1M627.6 79.2h.1M610.8 75.6h.1M603.3 93.5h.1M614.6 72.7h.1M606.5 75.6h.1M593.6 69.1h.1M600.2 81.0h.1M615.7 49.4h.1M605.3 85.7h.1M591.7 58.1h.1M620.8 71.5h.1M602.4 57.7h.1M610.3 66.0h.1M610.8 78.5h.1M617.0 69.0h.1M601.4 73.5h.1M606.9 75.3h.1M601.4 70.1h.1M600.7 65.6h.1M610.1 87.8h.1M601.3 80.5h.1M612.5 74.5h.1M616.7 66.0h.1M615.3 76.9h.1M615.7 98.0h.1M594.6 74.3h.1M612.6 60.8h.1M623.4 78.8h.1M598.0 57.9h.1M602.8 103.3h.1M584.9 81.6h.1M606.7 65.0h.1M615.8 74.3h.1M611.8 76.5h.1M594.2 89.9h.1M602.2 87.5h.1M616.9 73.6h.1M609.9 72.5h.1M584.6 69.0h.1M613.6 52.5h.1M589.1 86.9h.1M618.4 53.4h.1M614.0 72.5h.1M620.6 69.0h.1M605.3 63.5h.1M610.4 71.5h.1M599.7 68.7h.1M598.5 81.1h.1M594.9 53.2h.1M595.8 86.9h.1M601.6 81.4h.1M617.5 66.6h.1M617.7 79.5h.1M607.5 64.1h.1M607.3 56.7h.1M604.6 65.6h.1M613.7 77.5h.1M599.9 84.1h.1M623.3 73.9h.1M598.6 79.5h.1M615.5 98.7h.1M598.6 92.7h.1M637.9 97.2h.1M610.5 86.1h.1M605.8 65.2h.1M605.1 92.3h.1M618.9 69.3h.1M613.0 84.2h.1M615.3 72.5h.1M599.6 63.5h.1M602.4 65.9h.1M587.8 54.9h.1M619.3 58.6h.1M591.2 72.5h.1M626.7 89.3h.1M602.7 59.7h.1M601.1 61.3h.1M601.0 79.2h.1M594.3 63.0h.1M604.7 72.7h.1M598.1 62.9h.1M593.5 63.3h.1M614.8 69.9h.1M607.2 61.8h.1M586.7 88.1h.1M635.6 101.2h.1M598.5 73.5h.1M618.1 57.1h.1M630.6 63.7h.1M612.6 58.1h.1M612.8 72.8h.1M622.0 58.1h.1M607.9 96.6h.1M592.5 77.6h.1M613.7 66.6h.1M604.5 91.4h.1M622.8 80.4h.1M611.5 58.3h.1M609.2 96.3h.1M621.7 55.4h.1M581.1 64.4h.1M610.2 65.9h.1M604.0 77.5h.1M619.7 75.7h.1M624.3 54.5h.1M614.1 78.5h.1M588.7 89.3h.1M587.2 54.2h.1M612.9 90.6h.1M623.0 58.3h.1M614.3 91.3h.1M605.9 74.0h.1M602.0 82.6h.1M600.8 65.4h.1M592.0 60.9h.1M610.9 79.2h.1M603.0 59.3h.1M612.4 77.7h.1M624.6 66.5h.1M602.6 79.7h.1M627.9 72.4h.1M606.9 60.8h.1M603.1 85.4h.1M619.1 87.6h.1M586.6 84.0h.1M595.9 80.8h.1M596.5 89.7h.1M609.6 90.0h.1M602.3 98.8h.1M602.2 97.9h.1M601.6 60.2h.1M619.8 67.8h.1M607.3 55.4h.1M603.5 74.5h.1M598.8 78.1h.1M602.7 92.3h.1M603.4 64.4h.1M602.1 76.7h.1M615.8 67.0h.1M597.6 78.7h.1M618.9 50.1h.1M594.2 64.2h.1" stroke="#222" stroke-width="0.80" stroke-linecap="round" opacity="0.5"/>
<path d="M599.5 51.8C601.4 51.9 604.8 53.2 606.9 54.4C609.0 55.6 610.2 57.0 612.0 59.0C613.8 61.0 615.7 64.2 617.4 66.3C619.1 68.4 620.5 69.8 622.0 71.5C623.5 73.2 626.1 75.1 626.6 76.8C627.1 78.5 626.6 79.9 625.3 81.5C624.0 83.1 621.0 85.2 619.0 86.5C617.0 87.8 615.5 88.5 613.0 89.5C610.5 90.5 606.7 91.8 604.0 92.5C601.3 93.2 599.1 93.5 597.0 93.5C594.9 93.5 592.7 93.2 591.1 92.5C589.5 91.8 588.2 90.6 587.5 89.0C586.8 87.4 586.8 85.0 586.8 83.0C586.8 81.0 587.1 79.0 587.5 77.0C587.9 75.0 588.5 73.0 589.0 71.0C589.5 69.0 589.7 67.2 590.3 65.0C590.9 62.8 591.5 59.4 592.4 57.5C593.3 55.6 594.3 54.5 595.5 53.5C596.7 52.5 597.6 51.6 599.5 51.8Z" stroke="#111" stroke-width="0.6" fill="none"/>
<path d="M599.2 54.7C601.0 54.8 604.0 55.9 605.9 57.0C607.8 58.1 608.9 59.4 610.5 61.1C612.1 62.9 613.9 65.8 615.4 67.7C616.9 69.6 618.1 70.8 619.5 72.4C620.9 74.0 623.1 75.7 623.6 77.2C624.1 78.7 623.6 79.9 622.5 81.4C621.3 82.9 618.6 84.7 616.8 85.9C615.0 87.1 613.6 87.7 611.4 88.6C609.1 89.5 605.7 90.7 603.3 91.3C600.9 91.9 598.9 92.2 597.0 92.2C595.1 92.2 593.1 92.0 591.7 91.3C590.3 90.6 589.1 89.6 588.5 88.2C587.8 86.7 587.8 84.5 587.8 82.8C587.8 81.0 588.1 79.1 588.5 77.3C588.8 75.5 589.4 73.8 589.8 72.0C590.2 70.2 590.5 68.6 591.0 66.5C591.5 64.5 592.1 61.5 592.9 59.8C593.6 58.1 594.6 57.1 595.6 56.2C596.7 55.3 597.5 54.5 599.2 54.7Z" stroke="#111" stroke-width="0.6" fill="none"/>
<path d="M599.0 57.5C600.5 57.7 603.3 58.7 604.9 59.6C606.6 60.6 607.6 61.7 609.0 63.3C610.4 64.9 612.0 67.5 613.3 69.1C614.7 70.8 615.8 71.9 617.0 73.3C618.2 74.7 620.2 76.2 620.7 77.5C621.1 78.9 620.7 80.0 619.6 81.3C618.6 82.6 616.2 84.2 614.6 85.3C613.0 86.4 611.8 86.9 609.8 87.7C607.8 88.5 604.7 89.6 602.6 90.1C600.5 90.6 598.7 90.9 597.0 90.9C595.3 90.9 593.5 90.7 592.3 90.1C591.0 89.5 590.0 88.6 589.4 87.3C588.8 86.0 588.8 84.1 588.8 82.5C588.8 80.9 589.1 79.3 589.4 77.7C589.7 76.1 590.2 74.5 590.6 72.9C591.0 71.3 591.2 69.9 591.6 68.1C592.1 66.3 592.6 63.6 593.3 62.1C594.0 60.6 594.9 59.7 595.8 58.9C596.7 58.1 597.5 57.4 599.0 57.5Z" stroke="#111" stroke-width="0.6" fill="none"/>
<path d="M598.8 60.4C600.1 60.5 602.5 61.4 603.9 62.2C605.4 63.1 606.3 64.1 607.5 65.5C608.7 66.8 610.1 69.1 611.3 70.6C612.4 72.0 613.4 73.0 614.5 74.2C615.6 75.4 617.3 76.7 617.7 77.9C618.1 79.1 617.7 80.1 616.8 81.2C615.9 82.3 613.8 83.8 612.4 84.7C611.0 85.6 610.0 86.1 608.2 86.8C606.5 87.5 603.8 88.4 601.9 88.9C600.0 89.4 598.5 89.6 597.0 89.6C595.5 89.6 594.0 89.4 592.9 88.9C591.8 88.4 590.9 87.6 590.4 86.5C589.8 85.3 589.9 83.7 589.9 82.2C589.9 80.8 590.1 79.5 590.4 78.0C590.6 76.6 591.1 75.2 591.4 73.8C591.7 72.4 591.9 71.2 592.3 69.7C592.7 68.1 593.2 65.7 593.8 64.4C594.4 63.1 595.1 62.3 596.0 61.6C596.8 60.9 597.4 60.3 598.8 60.4Z" stroke="#111" stroke-width="0.6" fill="none"/>
<path d="M598.5 63.3C599.6 63.4 601.7 64.1 602.9 64.8C604.2 65.6 605.0 66.4 606.0 67.6C607.0 68.8 608.2 70.7 609.2 72.0C610.2 73.2 611.1 74.0 612.0 75.1C612.9 76.1 614.4 77.3 614.8 78.3C615.1 79.3 614.7 80.1 614.0 81.1C613.2 82.1 611.4 83.3 610.2 84.1C609.0 84.9 608.1 85.3 606.6 85.9C605.1 86.5 602.8 87.3 601.2 87.7C599.6 88.1 598.3 88.3 597.0 88.3C595.7 88.3 594.4 88.2 593.5 87.7C592.5 87.2 591.7 86.5 591.3 85.6C590.9 84.6 590.9 83.2 590.9 82.0C590.9 80.8 591.1 79.6 591.3 78.4C591.5 77.2 591.9 76.0 592.2 74.8C592.5 73.6 592.6 72.5 593.0 71.2C593.3 69.9 593.7 67.9 594.2 66.7C594.8 65.5 595.4 64.9 596.1 64.3C596.8 63.7 597.4 63.2 598.5 63.3Z" stroke="#111" stroke-width="0.6" fill="none"/>
<path d="M598.2 66.2C599.2 66.2 600.9 66.9 602.0 67.5C603.0 68.0 603.6 68.8 604.5 69.8C605.4 70.7 606.4 72.4 607.2 73.4C608.0 74.4 608.7 75.1 609.5 76.0C610.3 76.9 611.5 77.8 611.8 78.7C612.1 79.5 611.8 80.2 611.1 81.0C610.5 81.8 609.0 82.8 608.0 83.5C607.0 84.2 606.2 84.5 605.0 85.0C603.8 85.5 601.8 86.2 600.5 86.5C599.2 86.8 598.1 87.0 597.0 87.0C595.9 87.0 594.8 86.9 594.0 86.5C593.3 86.1 592.6 85.5 592.2 84.8C591.9 84.0 591.9 82.8 591.9 81.8C591.9 80.8 592.1 79.8 592.2 78.8C592.4 77.8 592.8 76.8 593.0 75.8C593.2 74.8 593.4 73.9 593.6 72.8C593.9 71.6 594.3 70.0 594.7 69.0C595.1 68.0 595.7 67.5 596.2 67.0C596.8 66.5 597.3 66.1 598.2 66.2Z" stroke="#111" stroke-width="0.6" fill="none"/>
<path d="M598.0 69.0C598.8 69.1 600.1 69.6 601.0 70.1C601.8 70.5 602.3 71.1 603.0 71.9C603.7 72.7 604.5 74.0 605.2 74.8C605.8 75.7 606.4 76.2 607.0 76.9C607.6 77.6 608.6 78.4 608.8 79.0C609.1 79.7 608.8 80.3 608.3 80.9C607.8 81.5 606.6 82.4 605.8 82.9C605.0 83.4 604.4 83.7 603.4 84.1C602.4 84.5 600.9 85.0 599.8 85.3C598.7 85.6 597.9 85.7 597.0 85.7C596.1 85.7 595.3 85.6 594.6 85.3C594.0 85.0 593.5 84.5 593.2 83.9C592.9 83.3 592.9 82.3 592.9 81.5C592.9 80.7 593.1 79.9 593.2 79.1C593.3 78.3 593.6 77.5 593.8 76.7C594.0 75.9 594.1 75.2 594.3 74.3C594.5 73.4 594.8 72.1 595.2 71.3C595.5 70.5 595.9 70.1 596.4 69.7C596.9 69.3 597.2 69.0 598.0 69.0Z" stroke="#111" stroke-width="0.6" fill="none"/>
<path d="M597.8 71.9C598.3 71.9 599.3 72.3 600.0 72.7C600.6 73.0 601.0 73.5 601.5 74.0C602.0 74.6 602.6 75.6 603.1 76.2C603.6 76.9 604.0 77.3 604.5 77.8C605.0 78.3 605.7 78.9 605.9 79.4C606.0 79.9 605.9 80.3 605.5 80.8C605.1 81.3 604.2 81.9 603.6 82.3C603.0 82.7 602.5 82.9 601.8 83.2C601.0 83.5 599.9 83.9 599.1 84.1C598.3 84.3 597.6 84.4 597.0 84.4C596.4 84.4 595.7 84.3 595.2 84.1C594.8 83.9 594.4 83.5 594.1 83.0C593.9 82.6 593.9 81.8 593.9 81.2C593.9 80.7 594.0 80.0 594.1 79.5C594.3 78.9 594.5 78.2 594.6 77.7C594.7 77.1 594.8 76.5 595.0 75.8C595.2 75.2 595.4 74.2 595.6 73.6C595.9 73.0 596.2 72.7 596.5 72.4C596.9 72.1 597.2 71.8 597.8 71.9Z" stroke="#111" stroke-width="0.6" fill="none"/>
<path d="M605.5 79.5C605.5 80.0 605.3 80.6 605.1 81.1C604.8 81.6 604.4 82.1 603.9 82.5C603.4 82.8 602.8 83.2 602.1 83.4C601.5 83.6 600.7 83.7 600.0 83.7C599.3 83.7 598.5 83.6 597.9 83.4C597.2 83.2 596.6 82.8 596.1 82.5C595.6 82.1 595.2 81.6 594.9 81.1C594.7 80.6 594.5 80.0 594.5 79.5C594.5 79.0 594.7 78.4 594.9 77.9C595.2 77.4 595.6 76.9 596.1 76.5C596.6 76.2 597.2 75.8 597.9 75.6C598.5 75.4 599.3 75.3 600.0 75.3C600.7 75.3 601.5 75.4 602.1 75.6C602.8 75.8 603.4 76.2 603.9 76.5C604.4 76.9 604.8 77.4 605.1 77.9C605.3 78.4 605.5 79.0 605.5 79.5Z" stroke="#111" stroke-width="0.6" fill="none"/>
<path d="M604.3 79.5C604.3 79.9 604.1 80.4 603.9 80.7C603.7 81.1 603.4 81.5 603.0 81.8C602.6 82.1 602.1 82.3 601.6 82.5C601.1 82.7 600.5 82.8 600.0 82.8C599.5 82.8 598.9 82.7 598.4 82.5C597.9 82.3 597.4 82.1 597.0 81.8C596.6 81.5 596.3 81.1 596.1 80.7C595.9 80.4 595.7 79.9 595.7 79.5C595.7 79.1 595.9 78.6 596.1 78.3C596.3 77.9 596.6 77.5 597.0 77.2C597.4 76.9 597.9 76.7 598.4 76.5C598.9 76.3 599.5 76.2 600.0 76.2C600.5 76.2 601.1 76.3 601.6 76.5C602.1 76.7 602.6 76.9 603.0 77.2C603.4 77.5 603.7 77.9 603.9 78.3C604.1 78.6 604.3 79.1 604.3 79.5Z" stroke="#111" stroke-width="0.6" fill="none"/>
<path d="M603.0 79.5C603.0 79.8 602.9 80.1 602.8 80.4C602.6 80.7 602.4 80.9 602.1 81.1C601.9 81.3 601.5 81.5 601.2 81.6C600.8 81.7 600.4 81.8 600.0 81.8C599.6 81.8 599.2 81.7 598.8 81.6C598.5 81.5 598.1 81.3 597.9 81.1C597.6 80.9 597.4 80.7 597.2 80.4C597.1 80.1 597.0 79.8 597.0 79.5C597.0 79.2 597.1 78.9 597.2 78.6C597.4 78.3 597.6 78.1 597.9 77.9C598.1 77.7 598.5 77.5 598.8 77.4C599.2 77.3 599.6 77.2 600.0 77.2C600.4 77.2 600.8 77.3 601.2 77.4C601.5 77.5 601.9 77.7 602.1 77.9C602.4 78.1 602.6 78.3 602.8 78.6C602.9 78.9 603.0 79.2 603.0 79.5Z" stroke="#111" stroke-width="0.6" fill="none"/>
<path d="M599.5 56.0C601.1 56.1 603.6 57.3 605.0 58.5C606.4 59.7 607.8 61.5 608.0 63.0C608.2 64.5 607.4 66.5 606.0 67.5C604.6 68.5 601.5 69.0 599.5 69.0C597.5 69.0 595.0 68.7 594.0 67.5C593.0 66.3 593.2 63.6 593.5 62.0C593.8 60.4 594.5 59.0 595.5 58.0C596.5 57.0 597.9 55.9 599.5 56.0Z" stroke="#111" stroke-width="0.6" fill="none"/>
<path d="M599.5 58.2C600.6 58.3 602.4 59.2 603.4 60.0C604.3 60.8 605.3 62.1 605.5 63.1C605.6 64.2 605.0 65.6 604.0 66.3C603.1 67.0 600.9 67.3 599.5 67.3C598.1 67.3 596.4 67.1 595.6 66.3C594.9 65.5 595.1 63.6 595.3 62.5C595.5 61.3 596.0 60.4 596.7 59.6C597.4 58.9 598.4 58.2 599.5 58.2Z" stroke="#111" stroke-width="0.6" fill="none"/>
<path d="M599.5 60.5C600.1 60.5 601.1 61.0 601.7 61.5C602.3 62.0 602.8 62.7 602.9 63.3C603.0 63.9 602.7 64.7 602.1 65.1C601.5 65.5 600.3 65.7 599.5 65.7C598.7 65.7 597.7 65.6 597.3 65.1C596.9 64.6 597.0 63.5 597.1 62.9C597.2 62.3 597.5 61.7 597.9 61.3C598.3 60.9 598.9 60.5 599.5 60.5Z" stroke="#111" stroke-width="0.6" fill="none"/>
<ellipse cx="579.0" cy="127.6" rx="1.7" ry="1.0" fill="#222"/>
<ellipse cx="552.4" cy="103" rx="0.9" ry="1.4" fill="#222"/>
<path d="M493.3 274.5h.1M492.7 270.6h.1M491.3 273.9h.1M491.8 263.8h.1M493.5 260.4h.1M493.1 269.1h.1M491.4 268.9h.1M491.5 269.0h.1M491.6 261.8h.1M494.0 265.4h.1M492.8 267.8h.1M492.6 261.4h.1M492.8 270.4h.1M491.3 272.4h.1M492.3 272.8h.1M492.5 272.1h.1M492.1 265.8h.1M492.6 274.5h.1M491.3 262.0h.1M492.1 277.5h.1M492.0 259.1h.1M492.7 272.0h.1M493.5 269.0h.1M493.5 264.2h.1M492.7 268.7h.1M491.3 266.6h.1M493.0 273.9h.1M491.8 273.9h.1M492.7 272.8h.1M492.3 269.6h.1M491.5 267.7h.1M492.2 264.1h.1M491.9 268.9h.1M492.3 273.6h.1M491.4 265.9h.1M492.3 266.0h.1M492.3 265.6h.1M492.9 266.8h.1M491.3 272.0h.1M493.3 257.9h.1M492.0 268.4h.1M492.8 275.9h.1M492.0 259.8h.1M492.6 273.3h.1M492.4 268.4h.1M491.3 260.1h.1M492.8 269.5h.1M492.6 269.9h.1M493.3 275.5h.1M491.7 273.3h.1M491.3 259.1h.1M493.0 265.8h.1M490.6 267.9h.1M491.6 270.7h.1M492.1 264.0h.1M491.6 272.1h.1M491.4 268.7h.1M491.4 270.4h.1M493.4 271.0h.1M492.9 270.4h.1M491.4 266.5h.1M492.2 270.3h.1M491.7 271.3h.1M491.6 268.4h.1M492.1 262.0h.1M492.8 268.3h.1M492.2 267.9h.1M490.6 260.7h.1M491.5 273.2h.1M491.7 271.2h.1M491.4 263.6h.1M491.8 273.6h.1M490.9 267.1h.1M492.4 268.8h.1M492.1 272.1h.1M492.3 262.7h.1M492.6 263.9h.1M491.9 275.7h.1M493.8 275.7h.1M492.4 264.0h.1M491.6 276.8h.1M492.3 260.8h.1M493.2 271.1h.1M493.0 270.2h.1M490.6 264.2h.1M492.0 267.2h.1M493.2 264.5h.1M492.0 267.7h.1M492.0 262.6h.1M492.3 267.0h.1M492.2 262.5h.1M492.1 262.9h.1M491.4 269.8h.1M492.6 271.1h.1M492.1 266.0h.1M493.1 274.6h.1M491.7 262.3h.1M492.4 269.7h.1M490.6 263.7h.1M492.3 273.2h.1M490.8 265.8h.1M493.1 275.4h.1M491.9 268.2h.1M491.5 270.1h.1M491.4 257.4h.1M491.0 268.3h.1M491.2 273.8h.1M493.0 273.3h.1M492.6 274.0h.1M492.3 272.6h.1M492.4 272.1h.1M491.4 264.6h.1M491.4 272.4h.1M492.5 263.9h.1M491.4 265.0h.1M492.7 267.4h.1M491.9 264.4h.1M492.0 276.4h.1M491.6 266.2h.1M493.3 271.8h.1M491.3 273.7h.1M491.2 271.0h.1M490.3 262.8h.1M492.8 264.9h.1M491.6 268.3h.1M492.1 265.6h.1M491.6 277.5h.1M493.2 269.8h.1M491.3 265.3h.1M491.9 270.6h.1M493.2 265.3h.1M492.2 265.8h.1M492.2 264.4h.1M492.4 274.1h.1M491.8 266.3h.1M492.2 261.2h.1M493.4 261.0h.1M491.9 263.4h.1M493.2 265.5h.1M491.7 277.9h.1M492.0 264.0h.1M492.1 269.1h.1M491.6 267.1h.1M492.0 271.8h.1M492.6 272.4h.1M492.0 272.2h.1M492.0 274.1h.1M492.4 265.8h.1M493.0 260.1h.1M491.4 263.9h.1M492.0 261.6h.1M491.3 258.2h.1M492.2 264.0h.1M493.6 272.1h.1M491.3 275.0h.1M492.2 273.7h.1M491.3 274.1h.1M492.9 265.9h.1M491.5 266.1h.1M493.4 275.9h.1M492.0 266.3h.1M492.4 266.6h.1M491.8 267.0h.1M492.7 267.7h.1M492.3 266.7h.1M492.0 266.3h.1M493.0 269.3h.1M493.2 267.1h.1M492.9 260.8h.1M491.8 267.7h.1M491.7 267.4h.1M491.5 267.2h.1M491.6 268.0h.1M491.9 262.8h.1M491.8 268.2h.1M491.2 268.5h.1M493.0 266.9h.1M492.5 271.3h.1M491.5 274.9h.1M493.9 262.7h.1M493.6 264.3h.1M493.1 258.6h.1M492.9 268.8h.1M491.2 263.7h.1M491.4 263.3h.1M492.4 267.1h.1M490.3 266.4h.1M492.4 268.5h.1M493.3 258.4h.1M492.3 268.2h.1M492.6 261.0h.1M491.2 267.2h.1M492.2 258.6h.1M492.4 268.0h.1M492.5 263.4h.1M491.8 272.1h.1M493.3 268.8h.1M492.0 274.9h.1M491.5 267.2h.1M491.7 262.9h.1M492.2 278.7h.1M492.3 270.6h.1M492.1 273.9h.1M492.2 263.4h.1M492.2 275.6h.1M492.0 274.3h.1M492.1 278.6h.1M492.3 271.5h.1M491.9 272.4h.1M491.9 260.3h.1M492.3 261.7h.1M493.1 272.2h.1M492.1 271.6h.1M490.3 276.1h.1M491.6 271.5h.1M493.9 259.6h.1M491.8 269.8h.1M492.4 259.2h.1M491.4 275.8h.1M491.7 270.9h.1M491.1 263.3h.1M490.8 269.5h.1M492.9 268.5h.1M491.9 269.3h.1M492.4 266.5h.1M492.5 278.3h.1M493.7 265.0h.1M491.2 278.1h.1M492.8 274.4h.1M492.5 266.9h.1M492.8 273.9h.1M492.9 262.4h.1M492.8 266.2h.1M491.9 269.9h.1M492.5 269.4h.1M492.0 269.4h.1M491.9 271.1h.1M492.7 272.4h.1M491.2 266.3h.1M492.2 261.7h.1M492.4 267.3h.1M492.1 270.0h.1M491.7 276.2h.1M492.8 265.2h.1M492.4 271.9h.1M491.6 266.2h.1M491.2 269.8h.1M492.5 263.2h.1M492.3 267.8h.1M492.2 262.8h.1" stroke="#222" stroke-width="0.90" stroke-linecap="round" opacity="0.95"/>
<path d="M493.4 263.3h.1M493.7 272.1h.1M492.6 263.4h.1M493.0 274.3h.1M490.2 262.1h.1M491.5 263.0h.1M493.9 262.6h.1M493.7 263.4h.1M491.4 257.4h.1M490.3 263.7h.1M491.9 268.0h.1M494.1 255.8h.1M490.8 266.3h.1M491.1 263.6h.1M493.5 259.4h.1M495.4 256.6h.1M493.2 259.2h.1M487.9 260.9h.1M492.3 266.2h.1M492.3 256.9h.1M491.7 259.9h.1M493.7 260.1h.1M494.5 268.1h.1M491.3 269.3h.1M488.9 262.3h.1M490.9 261.4h.1M494.4 262.1h.1M492.2 271.1h.1M491.3 256.3h.1M494.1 266.4h.1M490.2 263.1h.1M493.8 260.9h.1M491.9 263.0h.1M492.9 257.1h.1M492.4 277.1h.1M490.8 261.8h.1M488.9 256.3h.1M490.7 262.5h.1M491.7 275.0h.1M491.0 261.9h.1M492.9 266.6h.1M496.0 259.9h.1M492.8 257.9h.1M493.0 256.5h.1M492.6 277.7h.1M494.4 263.2h.1" stroke="#222" stroke-width="0.80" stroke-linecap="round" opacity="0.8"/>
<path d="M498.3 273.8h.1M525.7 257.3h.1M526.4 266.7h.1M517.1 257.0h.1M517.2 273.3h.1M505.6 259.1h.1M509.4 259.3h.1M523.8 251.9h.1M515.4 246.1h.1M501.0 254.9h.1M501.6 267.0h.1M517.0 262.7h.1M512.4 256.5h.1M498.2 250.6h.1M505.1 252.9h.1M506.1 267.8h.1M516.7 272.7h.1M518.4 258.5h.1M525.9 258.7h.1M530.1 258.8h.1M505.1 267.6h.1M496.3 260.7h.1M533.3 265.5h.1M496.8 260.0h.1" stroke="#222" stroke-width="0.80" stroke-linecap="round" opacity="0.7"/>
<ellipse cx="492.2" cy="292.4" rx="1.7" ry="1.0" fill="#222"/>
<path d="M627.7 256.9h.1M632.1 273.0h.1M628.5 270.1h.1M631.0 264.1h.1M620.5 270.7h.1M641.6 259.4h.1M619.2 267.2h.1M629.0 272.0h.1M632.9 262.0h.1M614.1 268.0h.1M629.0 252.8h.1M634.2 259.5h.1M621.6 262.1h.1M628.3 260.3h.1M635.4 271.2h.1M625.7 275.6h.1M629.5 251.5h.1M623.7 264.6h.1M630.6 261.2h.1M635.1 265.7h.1M635.3 269.1h.1M616.1 269.6h.1M643.1 266.6h.1M630.3 264.9h.1M626.2 263.2h.1M636.9 266.5h.1M623.4 263.7h.1M646.7 258.5h.1M634.2 267.7h.1M631.6 278.8h.1M611.2 272.9h.1M627.2 277.1h.1M620.9 269.4h.1M619.7 265.0h.1M622.3 276.0h.1M617.1 265.5h.1M636.0 257.0h.1M612.8 275.0h.1M645.4 260.9h.1M615.9 269.9h.1M614.6 267.6h.1M630.6 276.6h.1M619.4 273.6h.1M638.3 263.9h.1M628.8 256.8h.1M635.3 279.7h.1M640.3 266.9h.1M636.3 249.3h.1M617.6 269.7h.1M627.8 275.5h.1M633.4 262.6h.1M629.7 256.0h.1M626.0 273.2h.1M635.0 272.7h.1M639.6 255.7h.1M623.6 277.1h.1M623.1 265.2h.1M617.9 273.8h.1M635.5 266.1h.1M632.6 256.1h.1M626.6 270.5h.1M625.8 262.6h.1M617.7 271.3h.1M633.1 268.6h.1M644.2 249.6h.1M628.0 268.0h.1M631.1 265.3h.1M632.5 250.4h.1M627.0 272.2h.1M627.2 261.2h.1M636.3 248.6h.1M631.8 275.1h.1M633.1 259.1h.1M619.4 264.1h.1M635.1 262.5h.1M630.4 274.0h.1M643.1 279.7h.1M622.2 270.2h.1M641.0 256.9h.1M632.4 269.6h.1M643.0 252.1h.1M629.4 270.5h.1M630.1 275.6h.1M642.8 266.6h.1M645.7 268.9h.1M630.5 264.4h.1M632.3 264.4h.1M643.3 264.6h.1M631.6 268.7h.1M623.1 271.1h.1M624.9 273.0h.1M622.2 268.9h.1M628.1 269.7h.1M627.9 264.4h.1M623.0 273.0h.1M627.4 266.9h.1M634.4 255.6h.1M640.7 254.3h.1M619.5 267.1h.1M633.1 246.6h.1M628.3 264.7h.1M627.2 264.9h.1M632.0 252.3h.1M626.6 268.1h.1M640.9 251.8h.1M617.9 269.1h.1M650.5 246.2h.1M644.5 255.4h.1M634.7 265.7h.1M640.3 261.2h.1M635.8 255.6h.1M632.0 262.8h.1M629.6 262.9h.1M633.9 269.4h.1M624.9 260.0h.1M633.2 270.9h.1M640.1 256.0h.1M630.3 271.5h.1M635.0 263.6h.1M643.2 269.0h.1M623.7 261.7h.1M634.3 251.2h.1M628.2 260.3h.1M645.5 266.1h.1M632.3 267.1h.1M633.9 263.9h.1M624.6 268.6h.1M631.0 258.5h.1M630.7 262.1h.1M631.4 257.5h.1M628.5 269.5h.1M641.0 257.1h.1M633.9 265.1h.1M628.7 269.6h.1M636.7 252.7h.1M642.8 261.5h.1M638.9 266.4h.1M618.8 269.6h.1M630.3 263.6h.1M637.6 262.2h.1M625.3 267.0h.1M633.0 271.5h.1M633.9 274.9h.1M645.6 270.5h.1M634.3 264.1h.1M629.1 250.2h.1M645.7 267.8h.1M631.6 266.8h.1M630.3 263.4h.1M635.0 257.5h.1M630.6 264.3h.1M635.7 254.1h.1M630.4 261.9h.1M634.2 267.3h.1M629.8 266.6h.1M632.4 273.9h.1M631.0 267.2h.1M635.6 271.4h.1M625.2 263.4h.1M627.3 263.9h.1M638.1 256.1h.1M618.3 269.3h.1M632.9 261.4h.1M616.3 271.4h.1M617.1 272.0h.1M630.4 261.7h.1M626.2 269.5h.1M628.0 249.0h.1M620.9 245.7h.1M631.9 270.4h.1M638.3 252.1h.1M649.2 277.5h.1M626.8 247.0h.1M619.2 271.3h.1M648.7 258.6h.1M647.1 262.9h.1M613.8 246.1h.1M634.3 269.4h.1M623.1 261.3h.1M628.7 260.2h.1M622.0 272.8h.1M631.9 271.1h.1M627.2 270.6h.1M631.9 258.7h.1M628.5 263.0h.1M636.9 263.1h.1M625.6 260.8h.1M642.5 248.3h.1M620.3 266.3h.1M621.1 267.2h.1M632.0 273.6h.1M629.4 264.8h.1M622.5 265.6h.1M632.2 264.3h.1M638.8 265.0h.1M634.8 252.2h.1M624.6 265.8h.1M626.6 261.6h.1M628.3 265.0h.1M629.9 265.5h.1M622.9 262.2h.1M625.2 266.4h.1M637.5 256.2h.1M624.0 276.4h.1M639.4 263.6h.1M626.9 273.8h.1M633.0 264.5h.1M645.7 262.2h.1M625.3 271.5h.1M610.3 274.1h.1M618.0 263.8h.1M618.7 264.0h.1M631.1 263.0h.1M624.7 264.9h.1M634.2 269.8h.1M620.1 265.3h.1M613.9 275.4h.1M628.3 264.2h.1M636.7 257.0h.1M631.6 266.2h.1M640.8 254.5h.1M641.8 267.7h.1M630.4 271.5h.1M625.4 261.4h.1M636.3 260.1h.1M638.8 273.9h.1M630.1 264.4h.1M642.3 254.7h.1M628.8 265.3h.1M621.0 279.9h.1M631.7 274.1h.1M648.3 271.1h.1M641.2 259.5h.1M621.1 274.6h.1M642.6 254.9h.1M639.5 265.4h.1M636.0 270.7h.1M647.0 258.1h.1M628.1 273.1h.1M625.5 267.4h.1M627.3 249.5h.1M622.6 270.1h.1M623.1 263.9h.1M633.0 265.8h.1M633.4 254.7h.1M623.8 266.7h.1M641.5 261.3h.1M638.8 272.0h.1M629.7 252.1h.1M646.9 248.2h.1M616.0 269.4h.1M620.8 268.8h.1M618.4 271.6h.1M622.4 269.0h.1M638.2 251.2h.1M617.2 270.5h.1M627.9 270.0h.1M642.4 271.5h.1M635.5 259.8h.1M624.4 265.8h.1M636.9 271.9h.1M631.3 260.9h.1M627.5 276.5h.1M631.1 279.2h.1M621.2 270.2h.1M630.5 269.3h.1M620.8 265.9h.1M627.7 261.0h.1M625.0 267.6h.1M630.9 265.2h.1M631.6 252.5h.1M638.9 263.8h.1M638.2 264.8h.1M613.6 277.0h.1M636.8 255.3h.1M640.8 273.3h.1M638.8 268.5h.1M631.6 265.0h.1M623.1 265.5h.1M641.1 262.5h.1M648.0 250.9h.1M628.7 251.5h.1M632.5 248.5h.1M632.7 265.5h.1M633.7 264.4h.1M636.3 261.2h.1M617.6 266.3h.1M629.6 255.9h.1M638.2 251.1h.1M640.6 263.1h.1M645.3 272.2h.1M635.1 265.7h.1M629.6 252.4h.1M621.3 262.3h.1M620.5 264.4h.1M625.9 259.6h.1M632.3 267.0h.1M633.0 256.3h.1M638.1 275.6h.1M634.2 262.3h.1M628.7 248.2h.1M634.3 260.9h.1M632.4 266.3h.1M637.6 258.1h.1M634.5 268.4h.1M628.8 274.5h.1M624.8 249.4h.1M617.8 266.4h.1M618.6 264.5h.1M622.9 261.2h.1M637.5 265.2h.1M626.4 264.6h.1M637.2 267.0h.1M645.8 257.6h.1M636.6 264.3h.1M622.1 268.1h.1M636.7 271.1h.1M633.2 256.4h.1M630.1 266.4h.1M644.9 264.3h.1M629.9 275.7h.1M629.1 259.8h.1M631.3 269.5h.1M629.9 250.0h.1M624.4 271.3h.1M621.1 270.1h.1M630.1 257.0h.1M636.3 246.3h.1M633.7 261.1h.1M634.7 262.7h.1M629.7 259.2h.1M624.5 271.2h.1M636.0 252.8h.1M634.1 279.4h.1M635.9 255.8h.1M635.8 265.1h.1M625.3 271.0h.1M640.6 259.2h.1M629.6 260.2h.1M628.5 276.0h.1M624.1 267.8h.1M631.0 264.0h.1M617.3 268.3h.1M617.6 269.1h.1M627.5 264.4h.1M627.6 265.6h.1M625.6 269.4h.1M629.8 264.3h.1M626.0 263.2h.1M634.8 257.8h.1M616.5 266.4h.1M632.6 263.6h.1M630.8 253.0h.1M618.8 263.3h.1M633.0 248.3h.1M640.6 255.0h.1M630.1 261.0h.1M628.2 251.9h.1M638.8 265.8h.1M610.7 276.7h.1M634.6 271.8h.1M638.3 273.6h.1M620.7 278.5h.1M635.1 263.3h.1M625.9 246.7h.1M629.4 256.7h.1M641.7 269.1h.1M627.6 260.2h.1M639.2 259.1h.1M639.2 264.9h.1M625.5 266.2h.1M645.6 250.7h.1M635.7 269.1h.1M625.8 274.8h.1M634.9 267.6h.1M618.4 267.8h.1M615.6 267.3h.1M649.5 256.2h.1M643.7 254.7h.1M629.0 268.9h.1M636.6 262.6h.1M632.3 263.4h.1M632.1 275.5h.1M629.6 261.0h.1M628.6 268.9h.1M632.9 246.4h.1M627.6 266.7h.1M627.7 249.3h.1M620.1 262.6h.1M621.6 273.2h.1M644.1 279.9h.1M629.7 268.6h.1M651.7 258.2h.1M645.1 256.1h.1M638.8 250.9h.1M624.4 261.7h.1M625.8 247.9h.1M629.6 261.0h.1M643.0 267.9h.1M638.9 262.5h.1M625.6 260.7h.1M641.0 255.5h.1M631.6 254.6h.1M631.0 271.4h.1M628.7 263.4h.1M622.0 266.6h.1M629.0 268.6h.1M614.7 269.2h.1M640.8 256.8h.1M647.9 265.1h.1M626.0 265.6h.1M626.3 260.7h.1M618.8 247.0h.1M626.3 263.3h.1M637.0 254.7h.1M627.4 263.6h.1M634.8 253.2h.1M641.4 262.0h.1M638.3 252.0h.1M639.1 262.5h.1M636.0 258.2h.1M636.9 263.5h.1" stroke="#222" stroke-width="0.70" stroke-linecap="round" opacity="0.7"/>
<path d="M604.0 244.5C605.5 244.4 607.0 244.9 609.0 245.5C611.0 246.1 613.5 247.4 616.0 248.0C618.5 248.6 621.5 248.4 623.7 249.3C625.9 250.2 628.8 251.9 629.3 253.4C629.8 254.9 628.9 256.6 626.8 258.5C624.7 260.4 619.4 262.5 616.6 264.6C613.8 266.7 611.8 269.1 610.0 271.0C608.2 272.9 607.5 275.1 606.0 276.0C604.5 276.9 602.4 277.5 601.0 276.5C599.6 275.5 598.4 274.1 597.9 270.0C597.4 265.9 597.4 256.0 597.8 252.0C598.1 248.0 599.0 247.2 600.0 246.0C601.0 244.8 602.5 244.6 604.0 244.5Z" stroke="#111" stroke-width="0.6" fill="none"/>
<path d="M604.0 246.5C605.5 245.8 607.0 247.1 608.5 248.0C610.0 248.9 612.1 250.8 613.0 252.0C613.9 253.2 614.2 254.1 614.0 255.4C613.8 256.7 612.8 258.2 612.0 260.0C611.2 261.8 610.0 263.9 609.0 266.0C608.0 268.1 607.2 271.3 606.0 272.5C604.8 273.7 602.6 274.1 601.5 273.0C600.4 271.9 599.8 269.5 599.5 266.0C599.2 262.5 598.8 255.2 599.5 252.0C600.2 248.8 602.5 247.2 604.0 246.5Z" stroke="#111" stroke-width="0.6" fill="none"/>
<path d="M608.2 260.5C608.2 262.5 608.1 264.7 607.8 266.5C607.6 268.4 607.1 270.2 606.7 271.7C606.2 273.1 605.6 274.3 605.0 275.1C604.4 275.9 603.7 276.3 603.0 276.3C602.3 276.3 601.6 275.9 601.0 275.1C600.4 274.3 599.8 273.1 599.3 271.7C598.9 270.2 598.4 268.4 598.2 266.5C597.9 264.7 597.8 262.5 597.8 260.5C597.8 258.5 597.9 256.3 598.2 254.5C598.4 252.6 598.9 250.8 599.3 249.3C599.8 247.9 600.4 246.7 601.0 245.9C601.6 245.1 602.3 244.7 603.0 244.7C603.7 244.7 604.4 245.1 605.0 245.9C605.6 246.7 606.2 247.9 606.7 249.3C607.1 250.8 607.6 252.6 607.8 254.5C608.1 256.3 608.2 258.5 608.2 260.5Z" stroke="#111" stroke-width="0.6" fill="none"/>
<path d="M607.2 260.6C607.2 262.2 607.1 264.0 606.9 265.6C606.6 267.1 606.3 268.6 605.9 269.8C605.5 270.9 605.0 271.9 604.5 272.6C604.0 273.2 603.5 273.6 602.9 273.6C602.4 273.6 601.8 273.2 601.3 272.6C600.8 271.9 600.3 270.9 599.9 269.8C599.5 268.6 599.2 267.1 599.0 265.6C598.8 264.0 598.6 262.2 598.6 260.6C598.6 258.9 598.8 257.2 599.0 255.6C599.2 254.1 599.5 252.6 599.9 251.4C600.3 250.2 600.8 249.2 601.3 248.6C601.8 248.0 602.4 247.6 602.9 247.6C603.5 247.6 604.0 248.0 604.5 248.6C605.0 249.2 605.5 250.2 605.9 251.4C606.3 252.6 606.6 254.1 606.9 255.6C607.1 257.2 607.2 258.9 607.2 260.6Z" stroke="#111" stroke-width="0.6" fill="none"/>
<path d="M606.4 260.7C606.4 262.0 606.3 263.5 606.1 264.8C606.0 266.1 605.7 267.4 605.4 268.3C605.1 269.3 604.6 270.2 604.2 270.7C603.8 271.2 603.3 271.5 602.8 271.5C602.4 271.5 601.9 271.2 601.5 270.7C601.1 270.2 600.6 269.3 600.3 268.3C600.0 267.4 599.7 266.1 599.5 264.8C599.4 263.5 599.3 262.0 599.3 260.7C599.3 259.3 599.4 257.8 599.5 256.5C599.7 255.2 600.0 254.0 600.3 253.0C600.6 252.0 601.1 251.1 601.5 250.6C601.9 250.1 602.4 249.8 602.8 249.8C603.3 249.8 603.8 250.1 604.2 250.6C604.6 251.1 605.1 252.0 605.4 253.0C605.7 254.0 606.0 255.2 606.1 256.5C606.3 257.8 606.4 259.3 606.4 260.7Z" stroke="#111" stroke-width="0.6" fill="none"/>
<path d="M605.7 260.7C605.7 261.9 605.7 263.1 605.5 264.2C605.4 265.2 605.1 266.3 604.9 267.1C604.6 267.9 604.3 268.6 603.9 269.0C603.6 269.5 603.2 269.7 602.8 269.7C602.4 269.7 602.0 269.5 601.7 269.0C601.3 268.6 601.0 267.9 600.7 267.1C600.4 266.3 600.2 265.2 600.1 264.2C599.9 263.1 599.8 261.9 599.8 260.7C599.8 259.6 599.9 258.3 600.1 257.3C600.2 256.2 600.4 255.2 600.7 254.4C601.0 253.6 601.3 252.9 601.7 252.4C602.0 252.0 602.4 251.7 602.8 251.7C603.2 251.7 603.6 252.0 603.9 252.4C604.3 252.9 604.6 253.6 604.9 254.4C605.1 255.2 605.4 256.2 605.5 257.3C605.7 258.3 605.7 259.6 605.7 260.7Z" stroke="#111" stroke-width="0.6" fill="none"/>
<path d="M605.1 260.8C605.1 261.7 605.0 262.7 604.9 263.5C604.8 264.4 604.6 265.2 604.4 265.9C604.2 266.5 603.9 267.1 603.6 267.4C603.4 267.8 603.0 268.0 602.7 268.0C602.4 268.0 602.1 267.8 601.8 267.4C601.5 267.1 601.3 266.5 601.0 265.9C600.8 265.2 600.6 264.4 600.5 263.5C600.4 262.7 600.4 261.7 600.4 260.8C600.4 259.9 600.4 258.9 600.5 258.0C600.6 257.2 600.8 256.3 601.0 255.7C601.3 255.0 601.5 254.5 601.8 254.1C602.1 253.8 602.4 253.6 602.7 253.6C603.0 253.6 603.4 253.8 603.6 254.1C603.9 254.5 604.2 255.0 604.4 255.7C604.6 256.3 604.8 257.2 604.9 258.0C605.0 258.9 605.1 259.9 605.1 260.8Z" stroke="#111" stroke-width="0.6" fill="none"/>
<path d="M604.5 260.8C604.5 261.5 604.4 262.3 604.4 262.9C604.3 263.6 604.1 264.2 604.0 264.7C603.8 265.2 603.6 265.7 603.4 265.9C603.2 266.2 602.9 266.4 602.7 266.4C602.4 266.4 602.2 266.2 602.0 265.9C601.8 265.7 601.6 265.2 601.4 264.7C601.2 264.2 601.1 263.6 601.0 262.9C600.9 262.3 600.9 261.5 600.9 260.8C600.9 260.1 600.9 259.4 601.0 258.7C601.1 258.1 601.2 257.4 601.4 256.9C601.6 256.4 601.8 256.0 602.0 255.7C602.2 255.4 602.4 255.3 602.7 255.3C602.9 255.3 603.2 255.4 603.4 255.7C603.6 256.0 603.8 256.4 604.0 256.9C604.1 257.4 604.3 258.1 604.4 258.7C604.4 259.4 604.5 260.1 604.5 260.8Z" stroke="#111" stroke-width="0.6" fill="none"/>
<path d="M603.9 260.9C603.9 261.4 603.9 261.9 603.8 262.4C603.8 262.8 603.7 263.3 603.5 263.7C603.4 264.0 603.3 264.3 603.1 264.5C603.0 264.7 602.8 264.8 602.6 264.8C602.5 264.8 602.3 264.7 602.1 264.5C602.0 264.3 601.8 264.0 601.7 263.7C601.6 263.3 601.5 262.8 601.4 262.4C601.4 261.9 601.3 261.4 601.3 260.9C601.3 260.4 601.4 259.8 601.4 259.4C601.5 258.9 601.6 258.5 601.7 258.1C601.8 257.7 602.0 257.4 602.1 257.2C602.3 257.1 602.5 256.9 602.6 256.9C602.8 256.9 603.0 257.1 603.1 257.2C603.3 257.4 603.4 257.7 603.5 258.1C603.7 258.5 603.8 258.9 603.8 259.4C603.9 259.8 603.9 260.4 603.9 260.9Z" stroke="#111" stroke-width="0.6" fill="none"/>
<path d="M603.4 260.9C603.4 261.2 603.3 261.6 603.3 261.8C603.3 262.1 603.2 262.4 603.1 262.6C603.1 262.8 603.0 263.0 602.9 263.1C602.8 263.2 602.7 263.3 602.6 263.3C602.5 263.3 602.4 263.2 602.3 263.1C602.2 263.0 602.1 262.8 602.0 262.6C602.0 262.4 601.9 262.1 601.9 261.8C601.8 261.6 601.8 261.2 601.8 260.9C601.8 260.6 601.8 260.3 601.9 260.0C601.9 259.7 602.0 259.5 602.0 259.2C602.1 259.0 602.2 258.9 602.3 258.7C602.4 258.6 602.5 258.6 602.6 258.6C602.7 258.6 602.8 258.6 602.9 258.7C603.0 258.9 603.1 259.0 603.1 259.2C603.2 259.5 603.3 259.7 603.3 260.0C603.3 260.3 603.4 260.6 603.4 260.9Z" stroke="#111" stroke-width="0.6" fill="none"/>
<ellipse cx="602.0" cy="292.4" rx="1.7" ry="1.0" fill="#222"/>
<path d="M220.4 452.5h.1M226.0 449.7h.1M223.9 453.8h.1M239.5 453.9h.1M232.9 454.5h.1M228.3 451.5h.1M219.9 457.0h.1M224.4 454.4h.1" stroke="#222" stroke-width="0.80" stroke-linecap="round" opacity="0.5"/>
<path d="M215.7 449.8h.1M216.9 449.8h.1M216.6 451.3h.1M220.1 446.9h.1M216.8 447.4h.1M221.3 447.6h.1" stroke="#222" stroke-width="0.80" stroke-linecap="round" opacity="0.4"/>
<path d="M214.7 452.2C214.7 453.0 214.5 453.9 214.3 454.7C214.0 455.5 213.5 456.3 213.0 456.9C212.4 457.5 211.8 458.0 211.1 458.3C210.4 458.6 209.6 458.8 208.8 458.8C208.0 458.8 207.2 458.6 206.5 458.3C205.8 458.0 205.2 457.5 204.6 456.9C204.1 456.3 203.6 455.5 203.3 454.7C203.1 453.9 202.9 453.0 202.9 452.2C202.9 451.4 203.1 450.5 203.3 449.7C203.6 448.9 204.1 448.1 204.6 447.5C205.2 446.9 205.8 446.4 206.5 446.1C207.2 445.8 208.0 445.6 208.8 445.6C209.6 445.6 210.4 445.8 211.1 446.1C211.8 446.4 212.4 446.9 213.0 447.5C213.5 448.1 214.0 448.9 214.3 449.7C214.5 450.5 214.7 451.4 214.7 452.2Z" stroke="#111" stroke-width="0.8" fill="none"/>
<path d="M214.2 452.2C214.2 453.0 214.0 453.8 213.8 454.5C213.5 455.2 213.1 455.9 212.6 456.5C212.1 457.0 211.5 457.5 210.9 457.8C210.2 458.1 209.5 458.2 208.8 458.2C208.1 458.2 207.4 458.1 206.7 457.8C206.1 457.5 205.5 457.0 205.0 456.5C204.5 455.9 204.1 455.2 203.8 454.5C203.6 453.8 203.4 453.0 203.4 452.2C203.4 451.4 203.6 450.6 203.8 449.9C204.1 449.2 204.5 448.5 205.0 447.9C205.5 447.4 206.1 446.9 206.7 446.6C207.4 446.3 208.1 446.2 208.8 446.2C209.5 446.2 210.2 446.3 210.9 446.6C211.5 446.9 212.1 447.4 212.6 447.9C213.1 448.5 213.5 449.2 213.8 449.9C214.0 450.6 214.2 451.4 214.2 452.2Z" stroke="#111" stroke-width="0.8" fill="none"/>
<path d="M213.7 452.2C213.7 452.9 213.5 453.6 213.3 454.3C213.1 454.9 212.7 455.6 212.2 456.0C211.8 456.5 211.2 457.0 210.7 457.2C210.1 457.5 209.4 457.6 208.8 457.6C208.2 457.6 207.5 457.5 206.9 457.2C206.4 457.0 205.8 456.5 205.4 456.0C204.9 455.6 204.5 454.9 204.3 454.3C204.1 453.6 203.9 452.9 203.9 452.2C203.9 451.5 204.1 450.8 204.3 450.1C204.5 449.5 204.9 448.8 205.4 448.4C205.8 447.9 206.4 447.4 206.9 447.2C207.5 446.9 208.2 446.8 208.8 446.8C209.4 446.8 210.1 446.9 210.7 447.2C211.2 447.4 211.8 447.9 212.2 448.4C212.7 448.8 213.1 449.5 213.3 450.1C213.5 450.8 213.7 451.5 213.7 452.2Z" stroke="#111" stroke-width="0.8" fill="none"/>
<path d="M213.1 452.2C213.1 452.8 213.0 453.5 212.8 454.1C212.6 454.6 212.3 455.2 211.9 455.6C211.5 456.1 211.0 456.5 210.5 456.7C210.0 456.9 209.4 457.1 208.8 457.1C208.2 457.1 207.6 456.9 207.1 456.7C206.6 456.5 206.1 456.1 205.7 455.6C205.3 455.2 205.0 454.6 204.8 454.1C204.6 453.5 204.5 452.8 204.5 452.2C204.5 451.6 204.6 450.9 204.8 450.3C205.0 449.8 205.3 449.2 205.7 448.8C206.1 448.3 206.6 447.9 207.1 447.7C207.6 447.5 208.2 447.3 208.8 447.3C209.4 447.3 210.0 447.5 210.5 447.7C211.0 447.9 211.5 448.3 211.9 448.8C212.3 449.2 212.6 449.8 212.8 450.3C213.0 450.9 213.1 451.6 213.1 452.2Z" stroke="#111" stroke-width="0.8" fill="none"/>
<path d="M212.6 452.2C212.6 452.7 212.5 453.3 212.3 453.8C212.1 454.3 211.8 454.8 211.5 455.2C211.2 455.6 210.7 455.9 210.3 456.2C209.8 456.4 209.3 456.5 208.8 456.5C208.3 456.5 207.8 456.4 207.3 456.2C206.9 455.9 206.4 455.6 206.1 455.2C205.8 454.8 205.5 454.3 205.3 453.8C205.1 453.3 205.0 452.7 205.0 452.2C205.0 451.7 205.1 451.1 205.3 450.6C205.5 450.1 205.8 449.6 206.1 449.2C206.4 448.8 206.9 448.5 207.3 448.2C207.8 448.0 208.3 447.9 208.8 447.9C209.3 447.9 209.8 448.0 210.3 448.2C210.7 448.5 211.2 448.8 211.5 449.2C211.8 449.6 212.1 450.1 212.3 450.6C212.5 451.1 212.6 451.7 212.6 452.2Z" stroke="#111" stroke-width="0.8" fill="none"/>
<path d="M212.1 452.2C212.1 452.7 212.0 453.2 211.9 453.6C211.7 454.0 211.4 454.5 211.1 454.8C210.8 455.1 210.5 455.4 210.1 455.6C209.7 455.8 209.2 455.9 208.8 455.9C208.4 455.9 207.9 455.8 207.5 455.6C207.1 455.4 206.8 455.1 206.5 454.8C206.2 454.5 205.9 454.0 205.7 453.6C205.6 453.2 205.5 452.7 205.5 452.2C205.5 451.7 205.6 451.2 205.7 450.8C205.9 450.4 206.2 449.9 206.5 449.6C206.8 449.3 207.1 449.0 207.5 448.8C207.9 448.6 208.4 448.5 208.8 448.5C209.2 448.5 209.7 448.6 210.1 448.8C210.5 449.0 210.8 449.3 211.1 449.6C211.4 449.9 211.7 450.4 211.9 450.8C212.0 451.2 212.1 451.7 212.1 452.2Z" stroke="#111" stroke-width="0.8" fill="none"/>
<path d="M211.6 452.2C211.6 452.6 211.5 453.0 211.4 453.4C211.2 453.8 211.0 454.1 210.8 454.4C210.5 454.7 210.2 454.9 209.9 455.1C209.5 455.2 209.2 455.3 208.8 455.3C208.4 455.3 208.1 455.2 207.7 455.1C207.4 454.9 207.1 454.7 206.8 454.4C206.6 454.1 206.4 453.8 206.2 453.4C206.1 453.0 206.0 452.6 206.0 452.2C206.0 451.8 206.1 451.4 206.2 451.0C206.4 450.6 206.6 450.3 206.8 450.0C207.1 449.7 207.4 449.5 207.7 449.3C208.1 449.2 208.4 449.1 208.8 449.1C209.2 449.1 209.5 449.2 209.9 449.3C210.2 449.5 210.5 449.7 210.8 450.0C211.0 450.3 211.2 450.6 211.4 451.0C211.5 451.4 211.6 451.8 211.6 452.2Z" stroke="#111" stroke-width="0.8" fill="none"/>
<path d="M211.1 452.2C211.1 452.5 211.0 452.9 210.9 453.2C210.8 453.5 210.6 453.8 210.4 454.0C210.2 454.2 209.9 454.4 209.7 454.5C209.4 454.7 209.1 454.7 208.8 454.7C208.5 454.7 208.2 454.7 207.9 454.5C207.7 454.4 207.4 454.2 207.2 454.0C207.0 453.8 206.8 453.5 206.7 453.2C206.6 452.9 206.5 452.5 206.5 452.2C206.5 451.9 206.6 451.5 206.7 451.2C206.8 450.9 207.0 450.6 207.2 450.4C207.4 450.2 207.7 450.0 207.9 449.9C208.2 449.7 208.5 449.7 208.8 449.7C209.1 449.7 209.4 449.7 209.7 449.9C209.9 450.0 210.2 450.2 210.4 450.4C210.6 450.6 210.8 450.9 210.9 451.2C211.0 451.5 211.1 451.9 211.1 452.2Z" stroke="#111" stroke-width="0.8" fill="none"/>
<path d="M210.5 452.2C210.5 452.4 210.5 452.7 210.4 452.9C210.3 453.2 210.2 453.4 210.0 453.6C209.9 453.8 209.7 453.9 209.5 454.0C209.3 454.1 209.0 454.2 208.8 454.2C208.6 454.2 208.3 454.1 208.1 454.0C207.9 453.9 207.7 453.8 207.6 453.6C207.4 453.4 207.3 453.2 207.2 452.9C207.1 452.7 207.1 452.4 207.1 452.2C207.1 452.0 207.1 451.7 207.2 451.5C207.3 451.2 207.4 451.0 207.6 450.8C207.7 450.6 207.9 450.5 208.1 450.4C208.3 450.3 208.6 450.2 208.8 450.2C209.0 450.2 209.3 450.3 209.5 450.4C209.7 450.5 209.9 450.6 210.0 450.8C210.2 451.0 210.3 451.2 210.4 451.5C210.5 451.7 210.5 452.0 210.5 452.2Z" stroke="#111" stroke-width="0.8" fill="none"/>
<path d="M210.0 452.2C210.0 452.4 210.0 452.6 209.9 452.7C209.9 452.9 209.8 453.0 209.7 453.2C209.6 453.3 209.4 453.4 209.3 453.5C209.1 453.5 209.0 453.6 208.8 453.6C208.6 453.6 208.5 453.5 208.3 453.5C208.2 453.4 208.0 453.3 207.9 453.2C207.8 453.0 207.7 452.9 207.7 452.7C207.6 452.6 207.6 452.4 207.6 452.2C207.6 452.0 207.6 451.8 207.7 451.7C207.7 451.5 207.8 451.4 207.9 451.2C208.0 451.1 208.2 451.0 208.3 450.9C208.5 450.9 208.6 450.8 208.8 450.8C209.0 450.8 209.1 450.9 209.3 450.9C209.4 451.0 209.6 451.1 209.7 451.2C209.8 451.4 209.9 451.5 209.9 451.7C210.0 451.8 210.0 452.0 210.0 452.2Z" stroke="#111" stroke-width="0.8" fill="none"/>
<path d="M209.5 452.2C209.5 452.3 209.5 452.4 209.5 452.5C209.4 452.6 209.4 452.7 209.3 452.8C209.2 452.8 209.2 452.9 209.1 452.9C209.0 453.0 208.9 453.0 208.8 453.0C208.7 453.0 208.6 453.0 208.5 452.9C208.4 452.9 208.4 452.8 208.3 452.8C208.2 452.7 208.2 452.6 208.1 452.5C208.1 452.4 208.1 452.3 208.1 452.2C208.1 452.1 208.1 452.0 208.1 451.9C208.2 451.8 208.2 451.7 208.3 451.6C208.4 451.6 208.4 451.5 208.5 451.5C208.6 451.4 208.7 451.4 208.8 451.4C208.9 451.4 209.0 451.4 209.1 451.5C209.2 451.5 209.2 451.6 209.3 451.6C209.4 451.7 209.4 451.8 209.5 451.9C209.5 452.0 209.5 452.1 209.5 452.2Z" stroke="#111" stroke-width="0.8" fill="none"/>
<circle cx="208.8" cy="452.2" r="0.7" fill="#fff"/>
<ellipse cx="208.8" cy="460.7" rx="1.7" ry="1.0" fill="#222"/>
<path d="M354.0 450.9h.1M347.7 440.4h.1M368.7 449.4h.1M356.5 455.4h.1M336.4 445.2h.1M338.5 449.7h.1M359.7 449.4h.1M364.2 453.2h.1M347.5 453.5h.1M342.7 456.5h.1M340.5 456.7h.1M368.7 442.8h.1M361.4 453.5h.1M352.9 451.0h.1M353.9 449.2h.1M345.0 444.0h.1M369.3 450.1h.1M371.2 453.9h.1M353.9 444.7h.1M345.3 450.4h.1M347.0 448.7h.1M345.4 447.8h.1M344.6 442.4h.1M338.1 457.5h.1M337.1 447.5h.1M338.5 449.4h.1M335.9 457.0h.1M342.8 452.4h.1M344.3 449.0h.1M350.0 451.4h.1M335.3 445.5h.1M357.7 448.8h.1M348.9 453.5h.1M349.7 451.0h.1M335.5 450.2h.1M342.5 449.5h.1M364.2 451.3h.1M350.7 448.9h.1M345.4 446.5h.1M339.3 441.3h.1M346.7 446.3h.1M371.5 444.3h.1M344.2 449.6h.1M357.2 451.7h.1M371.9 452.7h.1M345.0 451.6h.1M343.0 452.7h.1M332.8 452.8h.1M345.0 448.1h.1M344.0 449.6h.1M327.7 453.3h.1M348.4 455.0h.1M348.3 449.6h.1M334.0 447.9h.1M345.1 446.7h.1M352.3 455.4h.1M345.0 456.2h.1" stroke="#222" stroke-width="0.80" stroke-linecap="round" opacity="0.5"/>
<path d="M321.9 440.5C324.0 440.0 326.0 440.8 328.0 441.5C330.0 442.2 331.9 443.1 334.0 444.5C336.1 445.9 339.6 448.5 340.3 450.0C341.0 451.5 339.4 452.4 338.0 453.5C336.6 454.6 334.2 455.7 332.0 456.5C329.8 457.3 327.3 458.1 325.0 458.5C322.7 458.9 319.8 459.4 318.0 458.8C316.2 458.2 315.2 456.5 314.5 455.0C313.8 453.5 313.8 451.8 314.0 450.0C314.2 448.2 314.2 446.1 315.5 444.5C316.8 442.9 319.8 441.0 321.9 440.5Z" stroke="#111" stroke-width="0.65" fill="none"/>
<path d="M320.7 441.0C322.5 440.5 324.2 441.3 325.9 441.9C327.6 442.6 329.3 443.4 331.0 444.8C332.7 446.1 335.8 448.6 336.4 450.0C336.9 451.4 335.6 452.3 334.4 453.3C333.2 454.4 331.1 455.4 329.3 456.2C327.5 457.0 325.3 457.7 323.4 458.1C321.4 458.4 318.9 458.9 317.4 458.4C315.9 457.8 315.0 456.1 314.4 454.8C313.9 453.4 313.9 451.7 314.0 450.0C314.1 448.3 314.2 446.3 315.3 444.8C316.4 443.3 318.9 441.5 320.7 441.0Z" stroke="#111" stroke-width="0.65" fill="none"/>
<path d="M319.7 441.4C321.2 441.0 322.6 441.8 324.1 442.4C325.5 443.0 326.9 443.8 328.4 445.1C329.9 446.3 332.5 448.6 332.9 450.0C333.4 451.4 332.3 452.2 331.3 453.1C330.3 454.1 328.5 455.1 327.0 455.9C325.4 456.6 323.6 457.3 321.9 457.6C320.2 458.0 318.1 458.4 316.9 457.9C315.6 457.4 314.8 455.8 314.4 454.5C313.9 453.2 313.9 451.6 314.0 450.0C314.1 448.4 314.1 446.5 315.1 445.1C316.0 443.6 318.2 441.9 319.7 441.4Z" stroke="#111" stroke-width="0.65" fill="none"/>
<path d="M318.7 441.9C320.0 441.5 321.2 442.2 322.4 442.8C323.6 443.3 324.8 444.1 326.0 445.3C327.2 446.5 329.4 448.7 329.8 450.0C330.2 451.3 329.2 452.1 328.4 453.0C327.6 453.9 326.1 454.8 324.8 455.5C323.5 456.2 322.0 456.9 320.6 457.2C319.2 457.6 317.4 458.0 316.4 457.5C315.3 457.0 314.7 455.5 314.3 454.2C313.9 453.0 313.9 451.5 314.0 450.0C314.1 448.5 314.1 446.7 314.9 445.3C315.7 444.0 317.5 442.4 318.7 441.9Z" stroke="#111" stroke-width="0.65" fill="none"/>
<path d="M328.8 450.1C328.8 451.2 328.6 452.4 328.3 453.4C327.9 454.4 327.3 455.4 326.7 456.2C326.0 457.0 325.2 457.6 324.4 458.0C323.5 458.5 322.5 458.7 321.6 458.7C320.7 458.7 319.7 458.5 318.8 458.0C318.0 457.6 317.2 457.0 316.5 456.2C315.9 455.4 315.3 454.4 314.9 453.4C314.6 452.4 314.4 451.2 314.4 450.1C314.4 449.0 314.6 447.8 314.9 446.8C315.3 445.8 315.9 444.8 316.5 444.0C317.2 443.2 318.0 442.6 318.8 442.2C319.7 441.7 320.7 441.5 321.6 441.5C322.5 441.5 323.5 441.7 324.4 442.2C325.2 442.6 326.0 443.2 326.7 444.0C327.3 444.8 327.9 445.8 328.3 446.8C328.6 447.8 328.8 449.0 328.8 450.1Z" stroke="#111" stroke-width="0.75" fill="none"/>
<path d="M328.0 450.1C328.0 451.1 327.8 452.1 327.5 453.0C327.2 453.9 326.7 454.8 326.1 455.5C325.5 456.2 324.8 456.8 324.0 457.2C323.3 457.5 322.4 457.7 321.6 457.7C320.8 457.7 319.9 457.5 319.1 457.2C318.4 456.8 317.6 456.2 317.1 455.5C316.5 454.8 316.0 453.9 315.7 453.0C315.4 452.1 315.2 451.1 315.2 450.1C315.2 449.1 315.4 448.1 315.7 447.2C316.0 446.3 316.5 445.4 317.1 444.7C317.6 444.0 318.4 443.4 319.1 443.1C319.9 442.7 320.8 442.5 321.6 442.5C322.4 442.5 323.3 442.7 324.0 443.1C324.8 443.4 325.5 444.0 326.1 444.7C326.7 445.4 327.2 446.3 327.5 447.2C327.8 448.1 328.0 449.1 328.0 450.1Z" stroke="#111" stroke-width="0.75" fill="none"/>
<path d="M327.2 450.1C327.2 451.0 327.1 451.9 326.8 452.7C326.5 453.5 326.1 454.3 325.6 454.9C325.1 455.5 324.4 456.1 323.7 456.4C323.1 456.7 322.3 456.9 321.6 456.9C320.8 456.9 320.1 456.7 319.4 456.4C318.7 456.1 318.1 455.5 317.5 454.9C317.0 454.3 316.6 453.5 316.3 452.7C316.0 451.9 315.9 451.0 315.9 450.1C315.9 449.3 316.0 448.3 316.3 447.5C316.6 446.7 317.0 445.9 317.5 445.3C318.1 444.7 318.7 444.2 319.4 443.9C320.1 443.5 320.8 443.3 321.6 443.3C322.3 443.3 323.1 443.5 323.7 443.9C324.4 444.2 325.1 444.7 325.6 445.3C326.1 445.9 326.5 446.7 326.8 447.5C327.1 448.3 327.2 449.3 327.2 450.1Z" stroke="#111" stroke-width="0.75" fill="none"/>
<path d="M326.5 450.1C326.5 450.9 326.4 451.7 326.2 452.4C325.9 453.1 325.5 453.8 325.1 454.4C324.6 454.9 324.0 455.4 323.5 455.7C322.9 455.9 322.2 456.1 321.5 456.1C320.9 456.1 320.2 455.9 319.6 455.7C319.0 455.4 318.5 454.9 318.0 454.4C317.5 453.8 317.2 453.1 316.9 452.4C316.7 451.7 316.5 450.9 316.5 450.1C316.5 449.4 316.7 448.5 316.9 447.8C317.2 447.1 317.5 446.4 318.0 445.9C318.5 445.4 319.0 444.9 319.6 444.6C320.2 444.3 320.9 444.1 321.5 444.1C322.2 444.1 322.9 444.3 323.5 444.6C324.0 444.9 324.6 445.4 325.1 445.9C325.5 446.4 325.9 447.1 326.2 447.8C326.4 448.5 326.5 449.4 326.5 450.1Z" stroke="#111" stroke-width="0.75" fill="none"/>
<path d="M325.9 450.1C325.9 450.8 325.8 451.5 325.5 452.1C325.3 452.7 325.0 453.4 324.6 453.8C324.2 454.3 323.7 454.7 323.2 455.0C322.7 455.2 322.1 455.3 321.5 455.3C321.0 455.3 320.4 455.2 319.9 455.0C319.3 454.7 318.8 454.3 318.4 453.8C318.0 453.4 317.7 452.7 317.5 452.1C317.3 451.5 317.2 450.8 317.2 450.1C317.2 449.5 317.3 448.8 317.5 448.1C317.7 447.5 318.0 446.9 318.4 446.5C318.8 446.0 319.3 445.6 319.9 445.3C320.4 445.1 321.0 444.9 321.5 444.9C322.1 444.9 322.7 445.1 323.2 445.3C323.7 445.6 324.2 446.0 324.6 446.5C325.0 446.9 325.3 447.5 325.5 448.1C325.8 448.8 325.9 449.5 325.9 450.1Z" stroke="#111" stroke-width="0.75" fill="none"/>
<path d="M325.2 450.1C325.2 450.7 325.1 451.3 324.9 451.9C324.8 452.4 324.5 452.9 324.1 453.3C323.8 453.7 323.4 454.0 322.9 454.3C322.5 454.5 322.0 454.6 321.5 454.6C321.0 454.6 320.5 454.5 320.1 454.3C319.6 454.0 319.2 453.7 318.9 453.3C318.5 452.9 318.2 452.4 318.1 451.9C317.9 451.3 317.8 450.7 317.8 450.1C317.8 449.6 317.9 449.0 318.1 448.4C318.2 447.9 318.5 447.4 318.9 447.0C319.2 446.6 319.6 446.3 320.1 446.0C320.5 445.8 321.0 445.7 321.5 445.7C322.0 445.7 322.5 445.8 322.9 446.0C323.4 446.3 323.8 446.6 324.1 447.0C324.5 447.4 324.8 447.9 324.9 448.4C325.1 449.0 325.2 449.6 325.2 450.1Z" stroke="#111" stroke-width="0.75" fill="none"/>
<path d="M324.6 450.2C324.6 450.6 324.5 451.1 324.4 451.6C324.2 452.0 324.0 452.4 323.7 452.8C323.4 453.1 323.0 453.4 322.7 453.6C322.3 453.8 321.9 453.9 321.5 453.9C321.1 453.9 320.7 453.8 320.3 453.6C319.9 453.4 319.6 453.1 319.3 452.8C319.0 452.4 318.8 452.0 318.6 451.6C318.5 451.1 318.4 450.6 318.4 450.2C318.4 449.7 318.5 449.2 318.6 448.7C318.8 448.3 319.0 447.9 319.3 447.5C319.6 447.2 319.9 446.9 320.3 446.7C320.7 446.5 321.1 446.4 321.5 446.4C321.9 446.4 322.3 446.5 322.7 446.7C323.0 446.9 323.4 447.2 323.7 447.5C324.0 447.9 324.2 448.3 324.4 448.7C324.5 449.2 324.6 449.7 324.6 450.2Z" stroke="#111" stroke-width="0.75" fill="none"/>
<path d="M324.0 450.2C324.0 450.5 323.9 451.0 323.8 451.3C323.7 451.7 323.5 452.0 323.2 452.3C323.0 452.5 322.7 452.8 322.4 452.9C322.1 453.1 321.8 453.2 321.5 453.2C321.2 453.2 320.8 453.1 320.5 452.9C320.2 452.8 319.9 452.5 319.7 452.3C319.5 452.0 319.3 451.7 319.2 451.3C319.0 451.0 319.0 450.5 319.0 450.2C319.0 449.8 319.0 449.4 319.2 449.0C319.3 448.7 319.5 448.3 319.7 448.1C319.9 447.8 320.2 447.6 320.5 447.4C320.8 447.3 321.2 447.2 321.5 447.2C321.8 447.2 322.1 447.3 322.4 447.4C322.7 447.6 323.0 447.8 323.2 448.1C323.5 448.3 323.7 448.7 323.8 449.0C323.9 449.4 324.0 449.8 324.0 450.2Z" stroke="#111" stroke-width="0.75" fill="none"/>
<path d="M323.4 450.2C323.4 450.5 323.3 450.8 323.2 451.0C323.1 451.3 323.0 451.6 322.8 451.8C322.6 452.0 322.4 452.2 322.2 452.3C322.0 452.4 321.7 452.4 321.5 452.4C321.2 452.4 320.9 452.4 320.7 452.3C320.5 452.2 320.3 452.0 320.1 451.8C319.9 451.6 319.8 451.3 319.7 451.0C319.6 450.8 319.6 450.5 319.6 450.2C319.6 449.9 319.6 449.6 319.7 449.3C319.8 449.0 319.9 448.8 320.1 448.6C320.3 448.4 320.5 448.2 320.7 448.1C320.9 448.0 321.2 447.9 321.5 447.9C321.7 447.9 322.0 448.0 322.2 448.1C322.4 448.2 322.6 448.4 322.8 448.6C323.0 448.8 323.1 449.0 323.2 449.3C323.3 449.6 323.4 449.9 323.4 450.2Z" stroke="#111" stroke-width="0.75" fill="none"/>
<path d="M322.7 450.2C322.7 450.4 322.7 450.6 322.6 450.8C322.6 451.0 322.5 451.1 322.4 451.3C322.2 451.4 322.1 451.5 321.9 451.6C321.8 451.7 321.6 451.7 321.4 451.7C321.3 451.7 321.1 451.7 320.9 451.6C320.8 451.5 320.6 451.4 320.5 451.3C320.4 451.1 320.3 451.0 320.2 450.8C320.2 450.6 320.1 450.4 320.1 450.2C320.1 450.0 320.2 449.8 320.2 449.6C320.3 449.4 320.4 449.2 320.5 449.1C320.6 448.9 320.8 448.8 320.9 448.7C321.1 448.7 321.3 448.6 321.4 448.6C321.6 448.6 321.8 448.7 321.9 448.7C322.1 448.8 322.2 448.9 322.4 449.1C322.5 449.2 322.6 449.4 322.6 449.6C322.7 449.8 322.7 450.0 322.7 450.2Z" stroke="#111" stroke-width="0.75" fill="none"/>
<path d="M322.1 450.2C322.1 450.3 322.1 450.4 322.1 450.5C322.1 450.6 322.0 450.7 321.9 450.8C321.9 450.9 321.8 450.9 321.7 451.0C321.6 451.0 321.5 451.1 321.4 451.1C321.3 451.1 321.2 451.0 321.1 451.0C321.1 450.9 321.0 450.9 320.9 450.8C320.8 450.7 320.8 450.6 320.8 450.5C320.7 450.4 320.7 450.3 320.7 450.2C320.7 450.1 320.7 450.0 320.8 449.9C320.8 449.8 320.8 449.7 320.9 449.6C321.0 449.5 321.1 449.4 321.1 449.4C321.2 449.4 321.3 449.3 321.4 449.3C321.5 449.3 321.6 449.4 321.7 449.4C321.8 449.4 321.9 449.5 321.9 449.6C322.0 449.7 322.1 449.8 322.1 449.9C322.1 450.0 322.1 450.1 322.1 450.2Z" stroke="#111" stroke-width="0.75" fill="none"/>
<circle cx="321.4" cy="450.3" r="0.7" fill="#fff"/>
<ellipse cx="321.0" cy="460.7" rx="1.7" ry="1.0" fill="#222"/>
<path d="M114.1 571.9h.1M87.3 568.0h.1M120.9 576.6h.1M112.5 556.9h.1M54.3 578.1h.1M105.2 575.5h.1M102.9 565.5h.1M100.8 567.1h.1M118.5 572.4h.1M76.8 562.8h.1M110.3 572.7h.1M97.9 569.4h.1M71.7 562.2h.1M102.0 556.3h.1M101.4 570.9h.1M104.2 572.5h.1M79.1 557.1h.1M54.6 568.0h.1M108.2 557.3h.1M96.1 563.1h.1M88.7 568.7h.1M93.7 560.2h.1M106.0 566.6h.1M61.0 572.0h.1M120.0 565.0h.1M120.5 557.8h.1M88.8 575.2h.1M115.5 570.5h.1M111.3 564.9h.1M105.4 573.2h.1M109.3 569.7h.1M107.5 570.0h.1M103.5 558.0h.1M103.4 561.7h.1M86.7 567.7h.1M97.4 559.4h.1M84.0 568.8h.1M86.1 567.6h.1M97.0 568.7h.1M83.8 568.5h.1M102.9 559.7h.1M106.5 561.3h.1M99.4 571.1h.1M104.0 560.3h.1M77.4 560.3h.1M102.8 568.2h.1M62.2 571.8h.1M113.3 564.2h.1M91.7 568.8h.1M75.7 564.8h.1M102.5 565.3h.1M92.9 568.0h.1M98.8 564.5h.1M114.2 567.8h.1M92.5 575.3h.1M116.0 561.8h.1M87.7 575.1h.1M84.9 576.8h.1M90.2 579.1h.1M76.4 555.6h.1M68.1 579.3h.1M80.6 564.7h.1M83.2 562.9h.1M95.7 568.1h.1M82.3 564.1h.1M115.8 573.1h.1M109.9 574.8h.1M89.7 572.6h.1M60.4 558.5h.1M75.9 561.5h.1M84.6 572.2h.1M80.4 565.1h.1M70.7 557.7h.1M89.8 562.8h.1M108.0 568.0h.1M61.9 571.7h.1M72.4 564.9h.1M75.0 562.3h.1M82.5 560.1h.1M80.2 565.6h.1M105.1 571.5h.1M86.0 574.6h.1M73.4 566.2h.1M105.1 576.5h.1M102.5 569.2h.1M89.9 571.0h.1M94.4 569.3h.1M81.7 566.5h.1M77.6 560.7h.1M78.2 562.2h.1M81.2 563.7h.1M66.7 569.1h.1M98.0 576.5h.1M52.4 558.7h.1M76.0 561.9h.1M93.6 562.1h.1M79.4 571.6h.1M89.4 557.5h.1M108.7 580.7h.1M111.8 566.2h.1M115.7 566.8h.1M86.6 568.7h.1M114.6 567.9h.1M87.4 558.9h.1M95.7 560.7h.1M90.8 558.8h.1M77.7 561.4h.1M81.2 560.3h.1M113.5 571.8h.1M86.8 560.9h.1M111.1 565.7h.1M102.2 573.2h.1M85.6 569.8h.1M100.1 564.6h.1M89.6 563.4h.1M120.5 573.3h.1M107.6 563.4h.1M79.8 561.9h.1M100.2 571.8h.1M60.0 571.4h.1M108.0 571.9h.1M70.8 568.4h.1M98.0 559.2h.1M73.2 580.4h.1M81.0 564.2h.1M59.3 563.5h.1M115.5 569.5h.1M78.0 567.4h.1M98.7 570.7h.1M75.6 569.4h.1M81.2 564.2h.1M78.0 562.3h.1M100.7 556.6h.1M77.3 565.4h.1M91.2 576.5h.1M68.2 570.5h.1M90.7 578.9h.1M88.9 579.1h.1M76.1 569.3h.1M73.7 563.6h.1M71.2 564.7h.1M118.6 563.9h.1M97.6 567.2h.1M97.7 562.6h.1M102.4 567.7h.1M59.3 567.3h.1M102.1 567.4h.1M97.6 567.2h.1M84.1 573.4h.1M116.1 565.3h.1M105.9 560.7h.1M113.5 562.2h.1M93.0 572.8h.1M83.9 567.4h.1M109.3 563.8h.1M98.1 573.6h.1M96.6 562.5h.1M85.6 565.6h.1M92.6 570.9h.1M66.1 566.7h.1M95.7 576.1h.1M67.7 561.9h.1M107.3 566.9h.1M110.7 566.8h.1M81.4 566.8h.1M113.1 571.4h.1M95.6 568.0h.1M110.4 570.8h.1M96.4 571.4h.1M94.0 560.5h.1M107.4 574.2h.1M115.7 566.7h.1M72.1 569.5h.1M82.5 556.0h.1M94.9 562.6h.1M93.5 564.2h.1M106.0 572.2h.1M100.7 574.1h.1M83.4 581.1h.1M63.4 571.5h.1M109.5 564.8h.1M94.3 560.1h.1M84.9 568.8h.1M71.2 555.6h.1M86.3 562.2h.1M76.2 566.1h.1M69.3 573.5h.1M111.5 567.3h.1M82.4 566.7h.1M90.5 562.4h.1M81.5 569.6h.1M77.2 563.3h.1M84.8 561.2h.1M96.5 559.6h.1M107.6 571.3h.1M91.7 572.0h.1M110.4 564.8h.1M91.3 563.5h.1M86.1 564.8h.1M93.6 570.1h.1M107.9 565.7h.1M119.6 567.8h.1M89.3 565.4h.1M92.7 564.8h.1M95.1 577.4h.1M93.3 562.6h.1M61.5 566.4h.1M75.5 562.6h.1M94.5 569.1h.1M99.9 573.8h.1M76.5 563.2h.1M77.6 561.2h.1M81.3 562.1h.1M103.4 560.8h.1M105.7 557.9h.1M84.1 559.9h.1M92.1 569.8h.1M85.2 563.2h.1M75.7 562.1h.1M77.9 563.0h.1M93.0 572.1h.1M80.4 555.2h.1M85.8 571.7h.1M75.0 569.0h.1M72.8 559.6h.1M95.4 556.1h.1M74.5 569.1h.1M83.4 562.8h.1" stroke="#222" stroke-width="0.70" stroke-linecap="round" opacity="0.6"/>
<path d="M100.0 586.3h.1M67.3 593.6h.1M88.1 601.6h.1M86.0 616.8h.1M100.4 597.5h.1M94.1 588.3h.1M105.3 605.3h.1M117.7 591.6h.1M100.3 616.0h.1" stroke="#222" stroke-width="0.80" stroke-linecap="round" opacity="0.5"/>
<path d="M60.0 555.2C63.2 554.8 67.8 555.5 72.0 556.0C76.2 556.5 80.7 557.3 85.0 558.0C89.3 558.7 94.8 559.3 98.0 560.0C101.2 560.7 102.6 561.2 104.0 562.0C105.4 562.8 106.4 563.6 106.4 564.5C106.4 565.4 105.7 566.6 104.0 567.5C102.3 568.4 99.3 569.2 96.0 570.0C92.7 570.8 88.3 571.8 84.0 572.5C79.7 573.2 74.3 574.1 70.0 574.5C65.7 574.9 61.0 575.4 58.0 575.0C55.0 574.6 53.3 573.7 52.0 572.0C50.7 570.3 50.2 567.2 50.3 565.0C50.4 562.8 50.9 560.1 52.5 558.5C54.1 556.9 56.8 555.6 60.0 555.2Z" stroke="#111" stroke-width="0.6" fill="none"/>
<path d="M60.0 555.9C63.0 555.5 67.3 556.2 71.2 556.6C75.0 557.1 79.2 557.9 83.2 558.5C87.3 559.1 92.4 559.7 95.3 560.4C98.3 561.0 99.6 561.5 100.9 562.2C102.2 562.9 103.2 563.7 103.2 564.5C103.2 565.4 102.5 566.5 100.9 567.3C99.3 568.2 96.6 568.9 93.5 569.6C90.4 570.4 86.3 571.3 82.3 572.0C78.3 572.7 73.3 573.4 69.3 573.8C65.3 574.2 60.9 574.7 58.1 574.3C55.4 573.9 53.8 573.1 52.6 571.5C51.4 570.0 50.9 567.1 51.0 565.0C51.1 562.9 51.5 560.5 53.0 559.0C54.5 557.4 57.0 556.3 60.0 555.9Z" stroke="#111" stroke-width="0.6" fill="none"/>
<path d="M80.0 558.5C83.1 558.2 88.7 559.0 92.0 559.5C95.3 560.0 98.2 560.7 100.0 561.5C101.8 562.3 103.0 563.5 103.0 564.5C103.0 565.5 101.8 566.7 100.0 567.5C98.2 568.3 95.3 569.0 92.0 569.5C88.7 570.0 83.0 570.8 80.0 570.5C77.0 570.2 75.1 569.6 74.0 568.0C72.9 566.4 72.5 562.6 73.5 561.0C74.5 559.4 76.9 558.8 80.0 558.5Z" stroke="#111" stroke-width="0.6" fill="none"/>
<path d="M81.7 559.4C84.3 559.2 89.0 559.8 91.8 560.2C94.7 560.7 97.1 561.2 98.7 562.0C100.2 562.7 101.2 563.6 101.2 564.5C101.2 565.4 100.2 566.3 98.7 567.0C97.1 567.8 94.7 568.3 91.8 568.8C89.0 569.2 84.2 569.8 81.7 569.6C79.1 569.4 77.5 568.8 76.5 567.5C75.6 566.1 75.3 562.9 76.1 561.5C77.0 560.2 79.0 559.6 81.7 559.4Z" stroke="#111" stroke-width="0.6" fill="none"/>
<path d="M83.3 560.3C85.5 560.1 89.4 560.6 91.7 561.0C94.0 561.4 96.0 561.8 97.3 562.4C98.6 563.0 99.4 563.8 99.4 564.5C99.4 565.2 98.6 566.0 97.3 566.6C96.0 567.2 94.0 567.6 91.7 568.0C89.4 568.4 85.4 568.9 83.3 568.7C81.2 568.5 79.9 568.1 79.1 567.0C78.3 565.8 78.0 563.2 78.8 562.0C79.5 560.9 81.1 560.5 83.3 560.3Z" stroke="#111" stroke-width="0.6" fill="none"/>
<path d="M85.0 561.2C86.6 561.1 89.7 561.5 91.5 561.8C93.4 562.0 94.9 562.4 96.0 562.9C97.0 563.3 97.6 564.0 97.6 564.5C97.6 565.0 97.0 565.7 96.0 566.1C94.9 566.6 93.4 567.0 91.5 567.2C89.7 567.5 86.6 567.9 85.0 567.8C83.3 567.7 82.2 567.3 81.7 566.4C81.1 565.6 80.8 563.4 81.4 562.6C81.9 561.7 83.3 561.3 85.0 561.2Z" stroke="#111" stroke-width="0.6" fill="none"/>
<path d="M86.6 562.1C87.8 562.0 90.1 562.3 91.4 562.5C92.7 562.7 93.9 563.0 94.6 563.3C95.3 563.6 95.8 564.1 95.8 564.5C95.8 564.9 95.3 565.4 94.6 565.7C93.9 566.0 92.7 566.3 91.4 566.5C90.1 566.7 87.8 567.0 86.6 566.9C85.4 566.8 84.6 566.5 84.2 565.9C83.8 565.3 83.6 563.7 84.0 563.1C84.4 562.5 85.4 562.2 86.6 562.1Z" stroke="#111" stroke-width="0.6" fill="none"/>
<path d="M88.2 563.0C89.0 562.9 90.4 563.1 91.2 563.2C92.1 563.4 92.8 563.5 93.2 563.8C93.7 564.0 94.0 564.2 94.0 564.5C94.0 564.8 93.7 565.0 93.2 565.2C92.8 565.5 92.1 565.6 91.2 565.8C90.4 565.9 89.0 566.1 88.2 566.0C87.5 565.9 87.0 565.8 86.8 565.4C86.5 565.0 86.4 564.0 86.6 563.6C86.9 563.2 87.5 563.1 88.2 563.0Z" stroke="#111" stroke-width="0.6" fill="none"/>
<path d="M89.9 563.9C90.2 563.9 90.8 564.0 91.1 564.0C91.4 564.0 91.7 564.1 91.9 564.2C92.1 564.3 92.2 564.4 92.2 564.5C92.2 564.6 92.1 564.7 91.9 564.8C91.7 564.9 91.4 565.0 91.1 565.0C90.8 565.0 90.2 565.1 89.9 565.1C89.6 565.1 89.4 565.0 89.3 564.9C89.2 564.7 89.2 564.3 89.2 564.1C89.3 564.0 89.6 563.9 89.9 563.9Z" stroke="#111" stroke-width="0.6" fill="none"/>
<path d="M73.6 564.2C73.6 565.2 73.3 566.4 72.8 567.3C72.2 568.3 71.4 569.3 70.4 570.0C69.4 570.7 68.1 571.4 66.8 571.8C65.5 572.2 64.0 572.4 62.6 572.4C61.2 572.4 59.7 572.2 58.4 571.8C57.1 571.4 55.8 570.7 54.8 570.0C53.8 569.3 53.0 568.3 52.4 567.3C51.9 566.4 51.6 565.2 51.6 564.2C51.6 563.2 51.9 562.0 52.4 561.1C53.0 560.1 53.8 559.1 54.8 558.4C55.8 557.7 57.1 557.0 58.4 556.6C59.7 556.2 61.2 556.0 62.6 556.0C64.0 556.0 65.5 556.2 66.8 556.6C68.1 557.0 69.4 557.7 70.4 558.4C71.4 559.1 72.2 560.1 72.8 561.1C73.3 562.0 73.6 563.2 73.6 564.2Z" stroke="#111" stroke-width="0.65" fill="none"/>
<path d="M73.1 564.2C73.1 565.2 72.8 566.3 72.3 567.2C71.8 568.1 71.0 569.0 70.0 569.7C69.1 570.4 67.8 571.0 66.6 571.4C65.4 571.8 63.9 572.0 62.6 572.0C61.3 572.0 59.8 571.8 58.6 571.4C57.4 571.0 56.1 570.4 55.2 569.7C54.2 569.0 53.4 568.1 52.9 567.2C52.4 566.3 52.1 565.2 52.1 564.2C52.1 563.2 52.4 562.1 52.9 561.2C53.4 560.3 54.2 559.4 55.2 558.7C56.1 558.0 57.4 557.4 58.6 557.0C59.8 556.6 61.3 556.4 62.6 556.4C63.9 556.4 65.4 556.6 66.6 557.0C67.8 557.4 69.1 558.0 70.0 558.7C71.0 559.4 71.8 560.3 72.3 561.2C72.8 562.1 73.1 563.2 73.1 564.2Z" stroke="#111" stroke-width="0.65" fill="none"/>
<path d="M72.4 564.2C72.4 565.1 72.2 566.1 71.7 567.0C71.2 567.9 70.4 568.7 69.5 569.4C68.7 570.0 67.5 570.6 66.4 571.0C65.2 571.3 63.9 571.5 62.6 571.5C61.3 571.5 60.0 571.3 58.8 571.0C57.7 570.6 56.5 570.0 55.7 569.4C54.8 568.7 54.0 567.9 53.5 567.0C53.0 566.1 52.8 565.1 52.8 564.2C52.8 563.3 53.0 562.3 53.5 561.4C54.0 560.5 54.8 559.7 55.7 559.0C56.5 558.4 57.7 557.8 58.8 557.4C60.0 557.1 61.3 556.9 62.6 556.9C63.9 556.9 65.2 557.1 66.4 557.4C67.5 557.8 68.7 558.4 69.5 559.0C70.4 559.7 71.2 560.5 71.7 561.4C72.2 562.3 72.4 563.3 72.4 564.2Z" stroke="#111" stroke-width="0.65" fill="none"/>
<path d="M71.7 564.2C71.7 565.1 71.4 566.0 71.0 566.8C70.6 567.6 69.8 568.4 69.0 569.0C68.2 569.6 67.1 570.1 66.1 570.5C65.0 570.8 63.8 571.0 62.6 571.0C61.4 571.0 60.2 570.8 59.1 570.5C58.1 570.1 57.0 569.6 56.2 569.0C55.4 568.4 54.6 567.6 54.2 566.8C53.8 566.0 53.5 565.1 53.5 564.2C53.5 563.3 53.8 562.4 54.2 561.6C54.6 560.8 55.4 560.0 56.2 559.4C57.0 558.8 58.1 558.3 59.1 557.9C60.2 557.6 61.4 557.4 62.6 557.4C63.8 557.4 65.0 557.6 66.1 557.9C67.1 558.3 68.2 558.8 69.0 559.4C69.8 560.0 70.6 560.8 71.0 561.6C71.4 562.4 71.7 563.3 71.7 564.2Z" stroke="#111" stroke-width="0.65" fill="none"/>
<path d="M70.9 564.2C70.9 565.0 70.7 565.8 70.3 566.6C69.9 567.3 69.2 568.0 68.5 568.6C67.7 569.1 66.8 569.6 65.8 569.9C64.8 570.2 63.7 570.4 62.6 570.4C61.5 570.4 60.4 570.2 59.4 569.9C58.4 569.6 57.5 569.1 56.7 568.6C56.0 568.0 55.3 567.3 54.9 566.6C54.5 565.8 54.3 565.0 54.3 564.2C54.3 563.4 54.5 562.6 54.9 561.8C55.3 561.1 56.0 560.4 56.7 559.8C57.5 559.3 58.4 558.8 59.4 558.5C60.4 558.2 61.5 558.0 62.6 558.0C63.7 558.0 64.8 558.2 65.8 558.5C66.8 558.8 67.7 559.3 68.5 559.8C69.2 560.4 69.9 561.1 70.3 561.8C70.7 562.6 70.9 563.4 70.9 564.2Z" stroke="#111" stroke-width="0.65" fill="none"/>
<path d="M70.1 564.2C70.1 564.9 69.9 565.7 69.5 566.3C69.1 567.0 68.6 567.6 67.9 568.1C67.2 568.6 66.3 569.1 65.5 569.3C64.6 569.6 63.6 569.8 62.6 569.8C61.6 569.8 60.6 569.6 59.7 569.3C58.9 569.1 58.0 568.6 57.3 568.1C56.6 567.6 56.1 567.0 55.7 566.3C55.3 565.7 55.1 564.9 55.1 564.2C55.1 563.5 55.3 562.7 55.7 562.1C56.1 561.4 56.6 560.8 57.3 560.3C58.0 559.8 58.9 559.3 59.7 559.1C60.6 558.8 61.6 558.6 62.6 558.6C63.6 558.6 64.6 558.8 65.5 559.1C66.3 559.3 67.2 559.8 67.9 560.3C68.6 560.8 69.1 561.4 69.5 562.1C69.9 562.7 70.1 563.5 70.1 564.2Z" stroke="#111" stroke-width="0.65" fill="none"/>
<path d="M69.2 564.2C69.2 564.8 69.0 565.5 68.7 566.1C68.4 566.7 67.9 567.2 67.3 567.7C66.7 568.1 65.9 568.5 65.1 568.7C64.3 569.0 63.4 569.1 62.6 569.1C61.8 569.1 60.9 569.0 60.1 568.7C59.3 568.5 58.5 568.1 57.9 567.7C57.3 567.2 56.8 566.7 56.5 566.1C56.2 565.5 56.0 564.8 56.0 564.2C56.0 563.6 56.2 562.9 56.5 562.3C56.8 561.7 57.3 561.2 57.9 560.7C58.5 560.3 59.3 559.9 60.1 559.7C60.9 559.4 61.8 559.3 62.6 559.3C63.4 559.3 64.3 559.4 65.1 559.7C65.9 559.9 66.7 560.3 67.3 560.7C67.9 561.2 68.4 561.7 68.7 562.3C69.0 562.9 69.2 563.6 69.2 564.2Z" stroke="#111" stroke-width="0.65" fill="none"/>
<path d="M68.3 564.2C68.3 564.7 68.2 565.3 67.9 565.8C67.6 566.3 67.2 566.8 66.6 567.2C66.1 567.6 65.5 567.9 64.8 568.1C64.1 568.3 63.3 568.5 62.6 568.5C61.9 568.5 61.1 568.3 60.4 568.1C59.7 567.9 59.1 567.6 58.6 567.2C58.0 566.8 57.6 566.3 57.3 565.8C57.0 565.3 56.9 564.7 56.9 564.2C56.9 563.7 57.0 563.1 57.3 562.6C57.6 562.1 58.0 561.6 58.6 561.2C59.1 560.8 59.7 560.5 60.4 560.3C61.1 560.1 61.9 559.9 62.6 559.9C63.3 559.9 64.1 560.1 64.8 560.3C65.5 560.5 66.1 560.8 66.6 561.2C67.2 561.6 67.6 562.1 67.9 562.6C68.2 563.1 68.3 563.7 68.3 564.2Z" stroke="#111" stroke-width="0.65" fill="none"/>
<path d="M67.4 564.2C67.4 564.7 67.3 565.1 67.0 565.6C66.8 566.0 66.4 566.4 66.0 566.7C65.6 567.0 65.0 567.3 64.4 567.5C63.9 567.7 63.2 567.8 62.6 567.8C62.0 567.8 61.3 567.7 60.8 567.5C60.2 567.3 59.6 567.0 59.2 566.7C58.8 566.4 58.4 566.0 58.2 565.6C57.9 565.1 57.8 564.7 57.8 564.2C57.8 563.7 57.9 563.3 58.2 562.8C58.4 562.4 58.8 562.0 59.2 561.7C59.6 561.4 60.2 561.1 60.8 560.9C61.3 560.7 62.0 560.6 62.6 560.6C63.2 560.6 63.9 560.7 64.4 560.9C65.0 561.1 65.6 561.4 66.0 561.7C66.4 562.0 66.8 562.4 67.0 562.8C67.3 563.3 67.4 563.7 67.4 564.2Z" stroke="#111" stroke-width="0.65" fill="none"/>
<path d="M66.5 564.2C66.5 564.6 66.3 565.0 66.2 565.3C66.0 565.6 65.7 566.0 65.3 566.2C65.0 566.5 64.5 566.7 64.1 566.9C63.6 567.0 63.1 567.1 62.6 567.1C62.1 567.1 61.6 567.0 61.1 566.9C60.7 566.7 60.2 566.5 59.9 566.2C59.5 566.0 59.2 565.6 59.0 565.3C58.9 565.0 58.8 564.6 58.8 564.2C58.8 563.8 58.9 563.4 59.0 563.1C59.2 562.8 59.5 562.4 59.9 562.2C60.2 561.9 60.7 561.7 61.1 561.5C61.6 561.4 62.1 561.3 62.6 561.3C63.1 561.3 63.6 561.4 64.1 561.5C64.5 561.7 65.0 561.9 65.3 562.2C65.7 562.4 66.0 562.8 66.2 563.1C66.3 563.4 66.5 563.8 66.5 564.2Z" stroke="#111" stroke-width="0.65" fill="none"/>
<ellipse cx="62.6" cy="564.2" rx="3.2" ry="2.2" fill="#fff"/>
<ellipse cx="62.5" cy="646.0" rx="1.7" ry="1.0" fill="#222"/>
<ellipse cx="38.8" cy="621.7" rx="0.9" ry="1.4" fill="#222"/>
<path d="M159.5 592.7h.1M192.0 612.1h.1M210.7 600.3h.1M170.2 580.6h.1M154.7 607.9h.1M195.1 574.1h.1M209.7 585.7h.1M192.7 609.1h.1M155.5 571.6h.1M197.1 588.1h.1M210.3 614.8h.1M170.1 572.2h.1M184.0 588.6h.1M175.8 594.9h.1M182.7 606.8h.1M209.9 600.6h.1M203.8 594.2h.1M164.5 588.4h.1M161.2 609.3h.1M174.9 579.1h.1M189.4 621.2h.1M175.5 614.1h.1M194.4 584.0h.1M198.5 583.9h.1M183.9 601.0h.1M189.4 603.4h.1M211.8 604.0h.1M232.6 605.8h.1M178.9 609.6h.1M193.1 589.1h.1M187.1 601.4h.1M198.1 590.8h.1M200.2 586.5h.1M177.6 599.5h.1M219.5 608.6h.1M202.8 611.3h.1M153.0 610.1h.1M183.4 595.5h.1M179.6 624.7h.1M190.5 600.5h.1M168.0 587.4h.1M208.3 589.9h.1M183.1 611.7h.1M166.3 592.6h.1M195.6 586.5h.1M213.1 594.7h.1M195.4 600.4h.1M197.5 598.7h.1M200.6 583.8h.1M210.6 595.7h.1M181.6 592.7h.1M205.7 575.8h.1M178.9 590.0h.1M240.2 596.5h.1M168.3 608.8h.1M187.6 590.0h.1M246.0 606.7h.1M165.6 585.7h.1M179.8 582.5h.1M214.9 609.7h.1M168.9 599.4h.1M228.3 607.5h.1M182.1 593.5h.1M205.2 575.4h.1M194.5 605.5h.1M207.8 592.1h.1M195.7 586.0h.1M172.2 599.5h.1M173.1 603.0h.1M182.2 609.0h.1M206.6 607.7h.1M175.8 599.5h.1M215.4 595.5h.1M197.2 583.8h.1M172.4 577.5h.1M183.2 601.1h.1M200.2 588.8h.1M182.8 594.2h.1M166.5 584.1h.1M196.8 586.7h.1M172.7 564.8h.1M180.9 581.2h.1M177.4 591.0h.1M206.3 600.4h.1M207.3 575.8h.1M223.0 623.2h.1M210.9 607.2h.1M187.2 594.1h.1M198.5 600.9h.1M203.2 595.5h.1M180.1 575.6h.1M178.5 599.2h.1M164.4 596.9h.1M198.9 580.0h.1M199.6 573.0h.1M226.9 607.5h.1M217.8 614.3h.1M177.4 578.2h.1M198.9 585.2h.1M201.1 597.7h.1M195.5 582.9h.1" stroke="#222" stroke-width="0.70" stroke-linecap="round" opacity="0.5"/>
<path d="M234.9 600.9h.1M238.1 609.3h.1M244.2 602.7h.1M237.8 569.4h.1M212.8 589.3h.1M236.7 581.1h.1M241.3 593.4h.1M243.6 598.4h.1M232.3 563.4h.1M228.2 615.0h.1M241.4 593.4h.1M240.1 597.7h.1M230.4 608.9h.1M231.4 613.1h.1M234.7 608.0h.1M244.4 587.8h.1M243.2 578.0h.1M242.9 608.2h.1M238.8 588.3h.1M226.4 607.9h.1M242.6 602.8h.1M244.6 609.1h.1M233.8 608.5h.1M238.5 596.7h.1M222.2 615.9h.1M237.4 602.7h.1M236.2 577.2h.1M234.7 600.3h.1M236.2 584.8h.1M214.8 599.7h.1M235.1 597.7h.1M242.6 593.7h.1M240.6 571.3h.1M228.5 607.6h.1M240.6 596.5h.1M244.3 604.8h.1M235.8 588.0h.1M241.6 585.8h.1M238.9 590.5h.1M236.8 594.3h.1M239.6 591.7h.1M245.0 576.6h.1M224.9 608.6h.1M235.4 602.9h.1M240.4 604.6h.1M231.9 606.4h.1M241.5 577.8h.1M237.5 585.7h.1M235.0 605.4h.1M227.8 610.5h.1M234.5 608.8h.1M240.1 600.6h.1M238.6 561.1h.1M233.2 606.0h.1M240.6 575.7h.1M237.7 587.5h.1M242.3 576.1h.1M242.8 583.9h.1M234.5 599.6h.1M238.0 601.8h.1M238.6 588.4h.1M240.7 599.9h.1M235.8 587.7h.1M234.9 604.4h.1M234.9 607.7h.1M237.1 596.6h.1M238.8 603.9h.1M223.0 610.4h.1M236.9 601.4h.1M239.7 599.2h.1M233.8 611.4h.1M231.0 606.9h.1M243.3 598.5h.1M237.7 584.4h.1M234.9 607.4h.1M237.0 592.6h.1M237.4 571.6h.1M234.3 601.2h.1M239.0 566.1h.1M238.5 590.5h.1M241.9 610.5h.1M238.2 614.2h.1M237.7 599.8h.1M243.1 589.2h.1M240.4 595.3h.1M244.9 589.7h.1M235.3 567.9h.1M237.4 585.4h.1M243.6 577.0h.1M221.2 606.9h.1M234.9 601.6h.1M244.7 585.0h.1M231.0 614.0h.1M236.8 599.7h.1M214.0 613.8h.1M231.6 613.3h.1M237.8 563.4h.1M241.9 611.1h.1M238.3 586.6h.1M234.8 568.4h.1M227.0 613.8h.1M235.4 556.9h.1M240.3 597.6h.1M215.2 598.0h.1M234.5 603.5h.1M243.6 575.4h.1M243.3 586.5h.1M243.9 608.5h.1M239.6 598.5h.1M219.1 606.2h.1M236.8 593.5h.1M228.6 612.7h.1M239.4 600.1h.1M240.5 594.0h.1M234.5 608.8h.1M240.8 598.8h.1M240.9 573.7h.1M218.1 615.7h.1M241.4 582.9h.1M237.3 596.8h.1M233.2 609.6h.1M221.4 612.6h.1M234.7 602.0h.1M241.3 589.9h.1M233.5 611.3h.1M210.8 588.1h.1M244.4 613.7h.1M235.1 597.1h.1M238.0 606.3h.1M230.3 557.3h.1M242.8 580.5h.1M233.8 611.5h.1M238.9 584.3h.1M234.1 610.1h.1M235.0 567.9h.1M242.8 594.1h.1M239.0 571.0h.1M240.2 615.8h.1M234.9 615.9h.1M238.5 582.3h.1M229.2 556.2h.1M236.3 576.2h.1M234.6 598.6h.1M238.8 591.9h.1M221.7 607.7h.1M239.1 596.7h.1M236.9 571.3h.1M221.1 608.7h.1M242.6 585.2h.1M214.7 589.6h.1M236.0 606.3h.1M239.9 586.1h.1M214.8 601.2h.1M234.8 562.9h.1M212.8 595.0h.1M236.6 609.1h.1M239.8 594.9h.1M232.0 608.5h.1M243.2 584.9h.1M240.6 604.8h.1M234.2 602.9h.1M237.7 576.7h.1M239.9 569.6h.1M243.0 575.4h.1M238.2 579.8h.1M230.3 607.8h.1M238.5 574.8h.1M232.3 558.5h.1M236.3 585.0h.1M238.6 604.2h.1M238.7 597.5h.1M237.6 587.1h.1M236.0 588.5h.1M231.9 609.9h.1M242.6 613.0h.1M240.5 603.4h.1M239.9 596.9h.1M237.0 591.9h.1M238.7 588.9h.1M237.3 592.6h.1M235.5 605.4h.1M236.4 598.0h.1M242.1 563.7h.1M237.9 600.1h.1M239.7 584.4h.1M236.3 576.0h.1M239.4 571.6h.1M242.9 574.1h.1M236.0 583.6h.1M236.1 596.5h.1M223.2 613.1h.1M234.6 598.6h.1M240.1 578.5h.1M234.2 607.5h.1M231.6 614.0h.1M240.0 580.1h.1M240.9 574.0h.1M238.6 580.9h.1M238.7 578.6h.1M240.4 583.6h.1M237.9 596.2h.1M242.2 593.5h.1M244.6 607.1h.1M237.6 578.6h.1M242.5 566.0h.1M241.0 586.4h.1M243.2 608.0h.1M234.9 612.0h.1M237.5 576.5h.1M239.0 591.2h.1M240.5 575.5h.1M231.1 610.2h.1M235.9 597.0h.1M220.4 612.8h.1M238.2 567.0h.1M235.8 605.8h.1M237.5 583.3h.1M239.8 612.0h.1M236.7 592.4h.1M239.3 591.6h.1M221.5 609.9h.1M242.9 604.8h.1M235.7 590.8h.1M237.3 589.6h.1M218.8 606.3h.1M238.4 581.6h.1M225.4 608.1h.1M238.6 571.9h.1M238.2 601.7h.1" stroke="#222" stroke-width="0.70" stroke-linecap="round" opacity="0.7"/>
<path d="M197.1 575.6h.1M203.1 574.4h.1M197.9 562.4h.1M190.1 568.8h.1M188.3 579.7h.1M202.8 574.8h.1M198.6 576.0h.1M204.1 583.5h.1M202.6 576.1h.1M208.3 576.6h.1M200.9 574.7h.1M200.5 575.6h.1M212.5 578.9h.1M188.1 583.7h.1M203.5 560.2h.1M198.0 577.6h.1M188.6 568.2h.1M190.9 570.0h.1M199.6 575.8h.1M195.3 575.6h.1M206.6 577.5h.1M194.5 576.2h.1M188.5 569.3h.1M207.3 579.2h.1M197.9 558.9h.1M202.7 574.3h.1M198.6 579.0h.1M188.6 570.9h.1M190.6 563.9h.1M234.7 560.5h.1M194.7 561.2h.1M185.4 567.5h.1M205.8 581.4h.1M201.8 576.0h.1M202.1 578.5h.1M201.1 579.7h.1M192.8 577.7h.1M210.2 582.1h.1M201.0 584.7h.1M200.7 574.7h.1M209.1 577.8h.1M210.2 579.8h.1M186.3 581.8h.1M189.8 568.4h.1M196.8 572.1h.1M191.3 563.4h.1M201.8 581.2h.1M186.3 567.5h.1M187.0 562.1h.1M204.1 574.6h.1M197.7 572.7h.1M204.1 577.9h.1M195.3 564.5h.1M194.0 570.3h.1M203.4 575.3h.1M211.1 581.1h.1M185.1 584.2h.1M199.8 575.8h.1M201.2 576.1h.1M202.4 574.4h.1M196.3 579.4h.1M198.9 574.5h.1M201.7 575.5h.1M226.3 558.1h.1M187.0 557.9h.1M187.5 578.6h.1M186.1 568.7h.1M198.5 574.9h.1M189.0 572.7h.1M195.2 580.6h.1M209.8 581.6h.1M217.2 556.8h.1M206.4 579.9h.1M206.4 558.9h.1M191.4 578.2h.1M202.9 577.4h.1M213.8 580.8h.1M209.2 580.2h.1M191.6 571.2h.1M190.5 575.5h.1M192.6 563.1h.1M194.4 574.7h.1M193.1 580.2h.1M188.0 573.1h.1M189.7 572.7h.1M190.8 573.5h.1M189.6 571.6h.1M202.0 575.6h.1M190.5 571.7h.1M192.4 566.5h.1M199.8 581.6h.1M204.0 576.1h.1M203.7 576.6h.1M193.0 570.7h.1M199.7 572.9h.1M187.9 572.0h.1M197.4 582.2h.1M204.0 557.3h.1M190.6 569.5h.1M194.1 574.4h.1M196.5 579.1h.1M195.1 563.8h.1M197.1 561.9h.1M186.1 563.4h.1M208.5 578.3h.1M210.0 559.3h.1M188.4 576.2h.1M199.7 577.4h.1M208.1 580.8h.1M200.6 576.9h.1M207.6 581.8h.1M187.1 571.9h.1M192.2 562.8h.1M187.3 570.9h.1M209.6 577.5h.1M196.9 578.1h.1M192.0 575.3h.1M208.5 579.6h.1M196.9 577.4h.1M192.1 573.8h.1M209.0 577.1h.1M193.6 570.4h.1M187.1 568.6h.1M185.4 578.0h.1M185.6 572.6h.1M233.1 561.0h.1M192.7 564.8h.1M190.1 572.0h.1M189.5 573.9h.1M198.2 560.0h.1M194.8 576.3h.1M193.3 571.8h.1M200.8 574.2h.1M185.7 556.8h.1M190.0 570.2h.1M210.5 578.0h.1M206.2 576.9h.1M208.6 578.5h.1M188.2 582.0h.1M188.9 571.4h.1M202.8 574.5h.1M197.2 574.2h.1M190.5 565.9h.1M197.1 557.5h.1M185.0 567.5h.1M191.3 574.4h.1M202.9 575.5h.1M194.2 562.2h.1M191.0 563.6h.1M212.9 559.3h.1M190.7 579.6h.1M186.6 575.8h.1M199.1 574.6h.1M212.4 578.6h.1M189.6 567.8h.1M233.6 560.5h.1M185.5 571.4h.1M196.5 578.2h.1M190.0 567.3h.1M193.8 565.3h.1M186.2 571.3h.1M192.2 573.0h.1M188.6 570.8h.1M212.6 558.3h.1M231.1 559.0h.1M195.0 577.9h.1M194.6 574.9h.1M191.0 564.0h.1M189.7 571.2h.1M186.1 566.6h.1M194.9 577.1h.1M198.6 573.1h.1M193.6 565.3h.1M193.0 569.7h.1M188.6 563.0h.1M199.8 575.6h.1M187.0 572.6h.1M193.6 571.5h.1M204.7 574.9h.1M185.4 576.5h.1M185.6 566.5h.1M201.6 581.4h.1M198.0 577.6h.1M211.6 577.9h.1M193.3 563.3h.1M196.3 562.2h.1M194.1 569.7h.1M196.1 583.4h.1M189.2 558.8h.1M188.1 572.5h.1M193.4 581.7h.1M197.0 576.5h.1M212.0 578.2h.1M194.3 562.9h.1M201.5 573.8h.1M189.1 572.7h.1M185.0 575.4h.1M209.0 578.0h.1M207.3 579.5h.1M201.7 576.5h.1M193.4 575.5h.1M205.7 575.4h.1M193.6 579.6h.1M208.0 581.0h.1M203.8 577.3h.1M189.6 570.0h.1" stroke="#222" stroke-width="0.70" stroke-linecap="round" opacity="0.65"/>
<path d="M207.9 592.1h.1M217.2 598.5h.1M202.6 580.8h.1M199.5 575.2h.1M202.5 583.9h.1M204.9 587.4h.1M207.4 585.1h.1M208.8 583.2h.1M205.9 586.0h.1M206.7 588.6h.1M211.0 593.5h.1M213.3 589.2h.1M209.5 581.4h.1M212.4 598.4h.1M205.9 590.4h.1M213.8 585.0h.1M202.6 589.2h.1M212.9 587.4h.1M205.0 599.5h.1M208.3 593.4h.1M206.7 607.3h.1M211.2 591.1h.1M202.3 584.1h.1M203.5 582.8h.1M210.8 579.0h.1M201.7 589.8h.1M213.6 581.1h.1M205.9 592.1h.1M209.2 594.5h.1M214.1 582.9h.1M204.4 585.5h.1M215.6 591.8h.1M213.3 578.5h.1M209.7 600.0h.1M214.2 593.6h.1M207.8 595.4h.1M205.4 595.2h.1M210.5 580.9h.1M208.9 596.8h.1M208.0 586.0h.1M211.7 586.1h.1M204.8 583.3h.1M215.1 587.9h.1M213.0 605.1h.1M199.4 589.8h.1M202.4 590.4h.1M212.0 584.2h.1M202.7 580.6h.1M209.8 589.4h.1M206.6 583.4h.1M201.0 601.3h.1M211.7 589.9h.1M206.6 576.7h.1M212.0 592.2h.1M203.3 586.5h.1M202.3 578.3h.1M215.1 594.3h.1M209.4 591.1h.1M207.6 582.5h.1M211.2 591.6h.1M206.7 583.8h.1M208.7 587.2h.1M212.4 579.9h.1M209.5 589.4h.1M203.0 592.9h.1M205.0 582.7h.1M213.3 589.6h.1M210.5 580.0h.1M210.2 585.5h.1M210.8 582.9h.1M206.6 576.7h.1M203.3 590.5h.1M210.9 583.1h.1M207.7 600.0h.1M211.1 589.2h.1M213.9 584.6h.1M210.6 585.9h.1M213.9 589.8h.1M212.5 592.3h.1M206.6 583.6h.1M213.7 586.8h.1M209.5 587.1h.1M203.7 586.5h.1M199.3 580.0h.1M198.6 594.6h.1M214.7 583.3h.1M196.8 575.6h.1M203.8 608.4h.1M201.1 584.9h.1M215.0 589.5h.1M207.7 580.5h.1M200.5 579.3h.1M206.4 596.5h.1M207.7 591.6h.1M204.3 580.7h.1M202.4 586.8h.1M210.2 580.6h.1M210.7 589.0h.1M205.9 584.4h.1M213.7 582.7h.1M200.3 589.4h.1M209.5 588.2h.1M211.1 597.4h.1M201.5 600.7h.1M212.9 590.6h.1M204.6 585.2h.1M209.2 588.6h.1M200.0 584.5h.1M198.2 601.9h.1M205.9 579.7h.1M206.8 589.8h.1M215.6 590.1h.1M199.6 582.0h.1M211.3 585.9h.1M209.3 589.9h.1M211.0 578.3h.1M209.7 585.0h.1M204.4 580.7h.1M211.0 590.1h.1M208.0 591.5h.1M207.1 591.2h.1M198.7 598.6h.1M215.7 585.8h.1M202.1 581.7h.1M205.2 596.1h.1M206.9 587.0h.1M213.5 582.1h.1M214.9 596.8h.1M211.0 577.7h.1M212.8 582.8h.1M193.5 582.4h.1M197.9 582.4h.1M202.9 591.7h.1M200.6 586.1h.1M210.3 579.5h.1M209.9 580.0h.1M209.0 584.6h.1M210.2 595.9h.1M207.1 594.4h.1M203.0 582.7h.1M210.9 586.7h.1M211.9 580.5h.1M207.2 581.3h.1M205.3 597.7h.1M210.9 584.5h.1M208.9 580.7h.1M204.1 595.7h.1M211.0 589.7h.1M206.4 585.7h.1M209.7 589.7h.1M210.7 588.6h.1M205.4 588.8h.1M212.4 588.9h.1M208.1 586.8h.1M209.5 587.3h.1M209.8 580.9h.1M206.8 585.8h.1M209.3 581.8h.1M211.2 589.5h.1M211.9 582.8h.1M205.1 588.7h.1M206.0 577.5h.1M208.2 576.7h.1M209.2 593.3h.1M211.5 602.7h.1M215.8 587.4h.1M202.6 589.7h.1M213.2 589.8h.1M209.1 587.9h.1M212.1 585.0h.1M203.8 582.4h.1M204.9 582.8h.1M213.5 594.5h.1M212.2 594.8h.1M216.2 598.5h.1M210.2 577.2h.1M204.4 600.0h.1M207.8 586.3h.1M206.9 577.7h.1M211.0 590.0h.1M205.5 583.9h.1M206.7 592.6h.1M199.7 591.3h.1M213.7 602.8h.1M211.2 579.3h.1M206.2 583.9h.1M210.8 596.2h.1M210.5 585.8h.1M203.9 577.5h.1M211.2 584.0h.1M208.9 588.8h.1M213.9 592.4h.1M202.6 586.1h.1M210.5 587.8h.1M213.9 593.0h.1M209.7 586.2h.1M204.6 575.6h.1M209.1 593.4h.1M212.3 595.9h.1M204.9 590.8h.1M207.5 588.7h.1M201.8 578.1h.1M208.2 588.4h.1M203.7 577.6h.1M199.3 580.5h.1M198.5 574.0h.1M203.3 581.3h.1M211.4 591.8h.1M206.9 589.7h.1M209.4 590.0h.1M216.1 591.2h.1M200.0 590.6h.1M212.4 582.9h.1M212.8 587.2h.1M213.7 585.6h.1M210.4 585.6h.1M206.5 594.3h.1M206.0 591.5h.1M215.8 588.3h.1M206.6 580.3h.1M214.3 586.0h.1M198.2 578.7h.1M203.1 579.3h.1M202.6 593.9h.1M205.4 577.3h.1M209.7 602.4h.1M215.6 588.8h.1M206.8 588.5h.1M203.1 594.5h.1M208.2 595.9h.1" stroke="#222" stroke-width="0.70" stroke-linecap="round" opacity="0.6"/>
<path d="M243.5 592.4h.1M240.1 608.1h.1M241.1 568.9h.1M240.9 600.8h.1M242.6 608.8h.1M239.1 575.3h.1M236.1 584.1h.1M238.5 592.2h.1M244.1 584.1h.1M236.8 590.4h.1M240.5 598.4h.1M243.5 595.9h.1M240.8 581.4h.1M240.9 602.0h.1M239.1 609.7h.1M240.0 599.3h.1M235.9 603.4h.1M239.7 584.2h.1M240.5 593.0h.1M238.2 574.7h.1M241.0 598.5h.1M240.5 586.9h.1M239.5 567.6h.1M238.8 581.3h.1M239.6 562.9h.1M236.7 584.0h.1M243.6 587.1h.1M238.7 590.5h.1M237.4 591.0h.1M238.8 577.5h.1M240.1 598.0h.1M240.0 574.4h.1M240.2 582.2h.1M238.8 592.0h.1M241.1 599.8h.1M242.4 598.9h.1M244.3 603.8h.1M243.9 604.3h.1M239.1 600.4h.1M242.9 599.7h.1M243.3 597.8h.1M238.0 588.0h.1M237.7 574.8h.1M245.1 600.6h.1M243.2 574.9h.1M242.0 584.9h.1M241.8 599.2h.1M243.3 581.0h.1M243.2 602.7h.1M241.0 577.5h.1M237.0 570.5h.1M236.1 599.8h.1M236.0 581.0h.1M240.8 584.4h.1M241.3 604.8h.1M238.8 598.2h.1M242.7 590.0h.1M242.6 589.8h.1M240.5 601.3h.1M239.5 588.4h.1M241.5 602.8h.1M237.5 603.9h.1M240.6 593.1h.1M243.6 579.5h.1M237.9 577.2h.1M240.5 596.4h.1M236.4 596.2h.1M237.1 593.3h.1M245.3 604.0h.1M240.2 601.9h.1M242.1 562.7h.1M238.2 599.7h.1M241.5 578.2h.1M241.3 595.7h.1M239.9 590.8h.1M244.9 599.9h.1M242.4 570.5h.1M239.2 600.5h.1M240.8 588.5h.1M237.8 594.7h.1M239.8 571.8h.1M238.6 585.3h.1M238.0 589.5h.1M243.8 578.4h.1M242.9 600.4h.1M237.3 573.8h.1M242.0 602.6h.1M242.0 598.0h.1M238.5 598.6h.1M237.5 597.8h.1M242.3 599.4h.1M243.5 598.5h.1M242.8 593.1h.1M244.4 590.5h.1M243.9 583.0h.1M237.3 593.7h.1M240.0 585.2h.1M238.2 600.8h.1M241.3 601.8h.1M239.2 595.3h.1M237.7 583.2h.1M242.2 600.5h.1M240.5 605.4h.1M238.3 607.3h.1M239.9 589.5h.1M237.8 607.3h.1M237.8 607.6h.1M243.7 569.1h.1M240.0 577.4h.1M238.9 590.6h.1M239.5 599.0h.1M241.3 569.9h.1M237.1 575.1h.1M236.8 597.3h.1M239.7 591.6h.1M238.6 596.0h.1M241.4 600.7h.1M239.6 595.4h.1M240.5 577.7h.1M240.3 604.0h.1M238.3 604.5h.1M239.3 606.4h.1M240.2 580.3h.1M240.6 605.3h.1M241.1 577.7h.1M235.6 590.8h.1M238.9 587.2h.1M239.1 594.0h.1M237.9 571.7h.1M239.4 587.0h.1M239.6 591.3h.1M238.3 571.7h.1M241.2 608.1h.1M241.3 592.1h.1M241.6 586.3h.1M236.5 567.5h.1M240.3 576.8h.1M237.7 595.3h.1M242.5 607.4h.1M235.8 587.4h.1M238.2 591.1h.1M239.9 596.0h.1M239.4 576.1h.1M234.9 611.6h.1M238.5 598.5h.1M240.3 599.5h.1M240.0 604.4h.1M237.5 596.5h.1M241.2 580.4h.1M237.7 581.1h.1M243.2 584.8h.1M242.1 585.2h.1M240.6 597.7h.1M240.5 584.6h.1M238.8 612.5h.1M243.6 597.2h.1M238.6 595.3h.1M244.7 582.1h.1M240.3 596.2h.1M239.1 588.4h.1M242.1 586.4h.1M239.7 593.7h.1M236.8 591.1h.1M242.7 603.3h.1M244.4 578.3h.1M237.9 594.2h.1M238.3 580.7h.1M238.2 592.5h.1M240.7 594.5h.1M236.3 570.3h.1M242.0 588.9h.1M240.3 594.9h.1M243.7 603.6h.1M238.6 599.5h.1M241.3 607.6h.1M245.7 594.0h.1M237.7 597.0h.1M238.2 589.9h.1M242.6 582.7h.1M237.5 570.6h.1M241.5 596.9h.1M240.7 604.0h.1M240.6 601.5h.1M238.2 595.9h.1M239.3 576.5h.1M240.7 579.3h.1M242.4 570.5h.1M235.2 606.1h.1M241.6 586.2h.1M240.7 613.9h.1M238.5 611.0h.1M235.7 610.1h.1M241.7 581.8h.1M243.5 591.3h.1M238.1 585.9h.1M242.2 583.7h.1M238.2 588.4h.1M239.6 575.2h.1M243.6 612.6h.1M239.8 596.4h.1M239.6 577.7h.1M240.9 578.1h.1M236.2 583.6h.1M241.1 584.9h.1M242.2 598.9h.1M242.5 607.5h.1M238.7 599.5h.1M241.7 594.9h.1M238.7 597.2h.1M240.5 599.5h.1M239.8 583.9h.1M236.4 589.5h.1M244.6 593.0h.1M240.1 581.0h.1M240.9 591.7h.1M240.5 587.5h.1M237.4 580.0h.1M238.5 579.0h.1M237.3 594.1h.1M240.1 584.5h.1M239.7 603.9h.1M237.0 598.3h.1M234.9 609.6h.1M244.6 592.3h.1M241.6 595.9h.1M235.1 602.0h.1M242.0 600.6h.1M240.7 576.6h.1M240.6 581.4h.1M238.6 603.5h.1M242.5 572.9h.1M237.0 578.0h.1M243.1 574.4h.1M240.8 597.6h.1" stroke="#222" stroke-width="0.70" stroke-linecap="round" opacity="0.65"/>
<path d="M161.1 574.1h.1M169.7 575.4h.1M171.4 574.5h.1M186.5 556.2h.1M166.7 564.1h.1M179.7 575.5h.1M178.7 562.3h.1M182.1 563.5h.1M177.9 563.3h.1M166.9 567.7h.1M169.3 564.4h.1M179.6 559.9h.1M170.2 561.3h.1M174.4 573.6h.1M171.7 563.7h.1M171.0 562.3h.1M175.9 574.7h.1M175.3 563.7h.1M181.9 567.3h.1M176.7 560.5h.1M172.1 560.5h.1M179.9 566.5h.1M186.0 572.6h.1M176.4 572.6h.1M172.5 559.0h.1M165.4 569.8h.1M176.0 564.1h.1M168.1 571.3h.1M171.2 560.9h.1M166.5 574.8h.1M170.5 564.3h.1M169.4 565.3h.1M183.0 565.4h.1M178.3 563.6h.1M181.2 573.5h.1M178.9 575.9h.1M175.3 557.1h.1M166.3 563.9h.1M178.8 567.7h.1M178.1 575.3h.1M182.5 566.4h.1M162.8 571.8h.1M179.3 569.1h.1M174.2 570.5h.1M179.7 573.6h.1M164.8 579.3h.1M169.9 574.1h.1M167.2 573.5h.1M174.1 575.2h.1M174.8 563.6h.1M181.1 568.9h.1M166.6 563.3h.1M183.0 561.9h.1M173.0 570.3h.1M177.5 564.3h.1M170.7 569.1h.1M164.2 568.8h.1M171.2 569.7h.1M172.4 557.9h.1M182.7 556.9h.1M167.9 563.6h.1M169.2 564.5h.1M166.0 565.3h.1M176.9 563.6h.1M177.9 571.3h.1M178.9 568.3h.1M162.2 566.4h.1M159.0 559.2h.1M178.0 564.0h.1M178.0 574.0h.1M173.6 561.9h.1M177.7 560.5h.1M180.6 558.3h.1M175.2 576.5h.1M173.0 576.7h.1M179.7 558.8h.1M169.8 565.9h.1M162.9 575.7h.1M179.1 574.6h.1M184.7 572.3h.1M161.3 561.5h.1M187.1 566.7h.1M181.5 557.0h.1M166.4 571.7h.1M180.8 559.7h.1M164.6 561.5h.1M184.2 561.4h.1M176.2 571.2h.1M171.5 576.9h.1M180.9 566.1h.1M160.4 564.3h.1M170.8 573.8h.1M176.7 562.0h.1M165.4 570.3h.1M176.4 571.1h.1M174.5 576.4h.1M174.0 561.9h.1M179.4 570.9h.1M172.1 573.9h.1M177.5 563.3h.1M168.8 575.3h.1M179.7 561.0h.1M167.0 576.8h.1M179.2 574.8h.1M165.3 560.3h.1M167.1 557.1h.1M184.9 572.4h.1M174.3 577.2h.1M179.7 565.7h.1M174.4 563.6h.1M182.2 566.0h.1M171.7 570.0h.1M175.5 561.3h.1M169.5 571.2h.1M176.2 564.1h.1M181.1 568.9h.1M179.3 570.6h.1M169.8 568.7h.1M172.1 572.6h.1M170.5 571.7h.1M180.9 565.1h.1M174.7 572.7h.1M185.3 566.5h.1M178.5 565.1h.1M179.5 569.5h.1M174.5 562.2h.1M168.2 557.9h.1M172.0 563.6h.1M178.6 557.0h.1M164.8 568.7h.1M181.5 569.0h.1M166.8 557.6h.1M174.6 560.1h.1M158.8 571.1h.1M184.9 571.4h.1M177.4 569.4h.1M174.5 562.7h.1M176.3 560.5h.1M173.6 575.8h.1M183.2 562.7h.1M179.4 570.0h.1M180.0 569.2h.1M172.5 573.0h.1M180.7 560.9h.1M167.8 567.5h.1M172.1 556.7h.1M185.9 567.5h.1M168.6 562.8h.1M184.5 564.8h.1M163.8 568.7h.1M179.6 563.2h.1M170.4 573.6h.1M179.6 560.6h.1M172.9 560.3h.1M172.9 561.5h.1M178.5 567.9h.1M171.2 571.6h.1M177.0 570.2h.1M161.4 570.4h.1M165.5 572.7h.1M183.4 567.0h.1M173.1 563.3h.1M179.1 567.4h.1M169.8 573.5h.1M169.2 564.3h.1M170.9 571.4h.1M168.2 574.5h.1M180.7 563.7h.1M169.4 558.2h.1M179.2 570.5h.1M183.9 568.4h.1M166.6 570.3h.1M169.4 569.5h.1M163.9 560.7h.1M180.6 570.0h.1M168.2 568.2h.1M176.3 572.1h.1M180.6 572.1h.1M170.6 576.7h.1M174.2 570.4h.1M177.7 574.5h.1M180.5 558.5h.1M165.5 566.3h.1M169.4 571.9h.1M183.2 573.6h.1M167.9 569.6h.1M179.7 570.6h.1M179.0 569.1h.1M168.6 562.0h.1M174.6 562.5h.1M170.4 563.6h.1M177.9 573.8h.1M175.3 563.4h.1M180.8 568.8h.1M165.8 566.5h.1M174.4 562.5h.1M177.3 559.6h.1M174.1 570.6h.1M162.7 569.9h.1M179.2 562.6h.1M167.1 565.9h.1M172.1 561.2h.1M163.1 563.2h.1M179.6 570.8h.1M170.4 564.3h.1M175.0 559.9h.1M170.3 571.4h.1M160.1 570.1h.1M179.7 569.5h.1M173.1 574.2h.1M176.8 572.6h.1M163.8 571.6h.1M176.0 574.1h.1M170.5 569.5h.1M174.2 563.2h.1M171.6 573.9h.1M169.5 573.4h.1M177.5 561.0h.1M172.3 573.3h.1M179.7 566.5h.1M160.0 570.6h.1M182.6 564.2h.1M174.7 571.8h.1M175.5 572.2h.1M166.2 561.0h.1M174.5 562.4h.1M171.2 561.7h.1M181.9 572.0h.1M166.0 558.0h.1M166.6 569.7h.1M162.9 571.4h.1M172.0 572.6h.1M175.4 562.3h.1M180.9 565.6h.1M169.3 569.5h.1M176.2 571.4h.1M168.8 572.7h.1M164.6 569.3h.1M186.2 569.7h.1M167.0 578.8h.1M171.9 575.0h.1M168.7 567.6h.1M168.7 563.5h.1M178.1 560.0h.1M168.2 571.7h.1M165.2 570.8h.1M182.7 565.9h.1M178.6 572.1h.1M161.5 564.9h.1M171.4 571.5h.1M171.2 560.6h.1M165.9 567.3h.1M167.2 569.4h.1M173.2 562.0h.1M166.3 577.8h.1M177.4 563.4h.1M184.1 569.8h.1M160.3 565.1h.1M166.8 571.9h.1M174.9 574.3h.1M175.2 574.4h.1M183.4 567.6h.1M175.7 571.7h.1M177.0 561.0h.1M167.4 566.1h.1M167.2 559.8h.1M177.7 570.6h.1M180.7 571.5h.1M185.0 566.1h.1M171.8 571.1h.1M185.1 566.3h.1M180.8 573.1h.1M168.1 572.4h.1M178.7 573.5h.1M177.1 569.7h.1M168.1 570.9h.1M176.5 572.8h.1M167.8 566.8h.1M169.8 562.1h.1M179.8 569.4h.1" stroke="#222" stroke-width="0.70" stroke-linecap="round" opacity="0.6"/>
<path d="M179.3 566.9C179.3 567.4 179.2 567.9 178.9 568.3C178.7 568.7 178.2 569.1 177.8 569.4C177.3 569.8 176.7 570.1 176.1 570.2C175.5 570.4 174.8 570.5 174.1 570.5C173.4 570.5 172.7 570.4 172.1 570.2C171.5 570.1 170.9 569.8 170.4 569.4C170.0 569.1 169.5 568.7 169.3 568.3C169.0 567.9 168.9 567.4 168.9 566.9C168.9 566.4 169.0 565.9 169.3 565.5C169.5 565.1 170.0 564.7 170.4 564.4C170.9 564.0 171.5 563.7 172.1 563.6C172.7 563.4 173.4 563.3 174.1 563.3C174.8 563.3 175.5 563.4 176.1 563.6C176.7 563.7 177.3 564.0 177.8 564.4C178.2 564.7 178.7 565.1 178.9 565.5C179.2 565.9 179.3 566.4 179.3 566.9Z" stroke="#111" stroke-width="0.8" fill="none"/>
<path d="M178.5 566.9C178.5 567.3 178.4 567.7 178.2 568.1C178.0 568.4 177.6 568.8 177.2 569.1C176.8 569.3 176.3 569.6 175.8 569.7C175.3 569.9 174.7 570.0 174.1 570.0C173.5 570.0 172.9 569.9 172.4 569.7C171.9 569.6 171.4 569.3 171.0 569.1C170.6 568.8 170.2 568.4 170.0 568.1C169.8 567.7 169.7 567.3 169.7 566.9C169.7 566.5 169.8 566.1 170.0 565.7C170.2 565.4 170.6 565.0 171.0 564.7C171.4 564.5 171.9 564.2 172.4 564.1C172.9 563.9 173.5 563.8 174.1 563.8C174.7 563.8 175.3 563.9 175.8 564.1C176.3 564.2 176.8 564.5 177.2 564.7C177.6 565.0 178.0 565.4 178.2 565.7C178.4 566.1 178.5 566.5 178.5 566.9Z" stroke="#111" stroke-width="0.8" fill="none"/>
<ellipse cx="174.1" cy="566.9" rx="3.8" ry="2.4" fill="#fff"/>
<path d="M224.0 558.3C222.3 558.3 217.2 558.2 214.0 558.4C210.8 558.6 207.8 559.0 205.0 559.6C202.2 560.2 199.6 561.1 197.0 562.3C194.4 563.5 189.7 565.4 189.4 566.9C189.1 568.4 192.7 570.2 195.0 571.5C197.3 572.8 200.2 573.7 203.0 574.5C205.8 575.3 208.8 576.0 212.0 576.5C215.2 577.0 220.3 577.3 222.0 577.5" stroke="#111" stroke-width="0.6" fill="none"/>
<path d="M224.0 558.7C222.6 558.7 218.1 558.6 215.3 558.8C212.5 559.0 209.9 559.3 207.5 559.9C205.0 560.5 202.8 561.3 200.5 562.5C198.2 563.7 194.2 565.5 193.9 566.9C193.6 568.4 196.8 570.1 198.8 571.3C200.7 572.6 203.3 573.4 205.7 574.2C208.2 575.0 210.8 575.7 213.6 576.1C216.3 576.6 220.8 576.9 222.3 577.1" stroke="#111" stroke-width="0.6" fill="none"/>
<path d="M224.0 559.0C222.8 559.1 218.9 558.9 216.5 559.1C214.1 559.3 211.9 559.6 209.8 560.2C207.6 560.8 205.7 561.6 203.8 562.7C201.8 563.8 198.3 565.5 198.1 567.0C197.8 568.4 200.6 570.0 202.2 571.2C203.9 572.4 206.1 573.2 208.2 573.9C210.4 574.7 212.6 575.3 215.0 575.8C217.4 576.2 221.2 576.6 222.5 576.7" stroke="#111" stroke-width="0.6" fill="none"/>
<path d="M224.0 559.4C222.9 559.4 219.6 559.3 217.6 559.5C215.6 559.7 213.7 560.0 211.8 560.6C210.0 561.1 208.4 561.9 206.7 562.9C205.1 564.0 202.1 565.6 201.9 567.0C201.6 568.3 204.0 569.9 205.4 571.0C206.9 572.1 208.7 572.9 210.6 573.7C212.4 574.4 214.3 575.0 216.3 575.4C218.3 575.9 221.7 576.2 222.7 576.3" stroke="#111" stroke-width="0.6" fill="none"/>
<path d="M224.0 559.8C223.1 559.8 220.3 559.7 218.6 559.9C216.9 560.1 215.3 560.3 213.7 560.9C212.2 561.4 210.8 562.1 209.4 563.1C208.0 564.2 205.5 565.7 205.3 567.0C205.1 568.3 207.1 569.8 208.3 570.9C209.6 571.9 211.1 572.7 212.7 573.4C214.2 574.1 215.8 574.7 217.5 575.1C219.2 575.5 222.0 575.8 222.9 575.9" stroke="#111" stroke-width="0.6" fill="none"/>
<path d="M224.0 560.2C223.2 560.2 220.9 560.1 219.5 560.2C218.1 560.4 216.7 560.7 215.4 561.2C214.2 561.7 213.0 562.4 211.8 563.4C210.7 564.3 208.6 565.8 208.4 567.0C208.3 568.3 209.9 569.7 210.9 570.7C212.0 571.7 213.3 572.5 214.6 573.1C215.8 573.8 217.2 574.3 218.6 574.7C220.0 575.1 222.3 575.4 223.1 575.5" stroke="#111" stroke-width="0.6" fill="none"/>
<path d="M224.0 560.5C223.4 560.5 221.5 560.4 220.3 560.6C219.1 560.8 218.0 561.0 217.0 561.5C215.9 562.0 215.0 562.6 214.0 563.6C213.0 564.5 211.3 565.9 211.2 567.1C211.1 568.2 212.4 569.6 213.3 570.6C214.1 571.5 215.2 572.2 216.2 572.8C217.3 573.5 218.4 574.0 219.6 574.4C220.7 574.7 222.6 575.0 223.3 575.1" stroke="#111" stroke-width="0.6" fill="none"/>
<path d="M214.0 575.0C214.3 577.3 215.4 585.0 215.8 588.8C216.2 592.6 216.2 595.0 216.6 598.0C217.0 601.0 217.2 604.2 218.5 606.5C219.8 608.8 222.2 611.0 224.5 611.8C226.8 612.5 230.2 612.1 232.0 611.0C233.8 609.9 234.6 608.2 235.5 605.0C236.4 601.8 237.0 596.5 237.3 592.0C237.7 587.5 237.9 582.3 237.6 578.0C237.3 573.7 236.7 569.0 235.5 566.0C234.3 563.0 232.4 561.3 230.5 560.0C228.6 558.7 225.1 558.6 224.0 558.3" stroke="#111" stroke-width="0.6" fill="none"/>
<path d="M214.3 574.0C214.6 576.1 215.7 582.8 216.1 586.2C216.5 589.6 216.4 591.7 216.9 594.3C217.3 596.9 217.4 599.7 218.7 601.8C220.0 603.8 222.3 605.8 224.5 606.4C226.7 607.1 230.0 606.7 231.8 605.7C233.6 604.7 234.3 603.2 235.2 600.4C236.0 597.7 236.6 593.0 236.9 589.0C237.3 585.0 237.5 580.5 237.2 576.7C236.9 572.9 236.3 568.8 235.2 566.1C234.0 563.5 232.2 562.0 230.3 560.8C228.5 559.7 225.1 559.6 224.0 559.3" stroke="#111" stroke-width="0.6" fill="none"/>
<path d="M214.7 573.2C214.9 574.9 215.9 580.8 216.4 583.8C216.8 586.7 216.7 588.6 217.1 590.9C217.5 593.1 217.7 595.6 218.9 597.4C220.1 599.2 222.4 600.9 224.5 601.5C226.6 602.1 229.9 601.8 231.6 600.9C233.3 600.0 234.0 598.7 234.9 596.3C235.7 593.8 236.2 589.7 236.6 586.2C236.9 582.8 237.1 578.8 236.8 575.5C236.6 572.1 236.0 568.5 234.9 566.2C233.8 563.9 232.0 562.6 230.2 561.6C228.4 560.6 225.1 560.5 224.1 560.3" stroke="#111" stroke-width="0.6" fill="none"/>
<path d="M215.0 572.4C215.3 573.9 216.2 579.0 216.6 581.6C217.0 584.2 216.9 585.8 217.4 587.8C217.8 589.7 217.9 591.9 219.1 593.5C220.3 595.0 222.5 596.5 224.5 597.0C226.6 597.5 229.7 597.2 231.4 596.5C233.0 595.7 233.8 594.6 234.6 592.5C235.4 590.3 235.9 586.8 236.2 583.8C236.5 580.7 236.7 577.3 236.5 574.4C236.2 571.5 235.6 568.3 234.6 566.3C233.5 564.3 231.7 563.2 230.0 562.3C228.3 561.5 225.1 561.4 224.1 561.2" stroke="#111" stroke-width="0.6" fill="none"/>
<path d="M215.3 571.6C215.6 573.0 216.5 577.4 216.9 579.6C217.3 581.9 217.2 583.3 217.6 585.0C218.0 586.7 218.1 588.6 219.3 589.9C220.4 591.2 222.6 592.5 224.6 593.0C226.5 593.4 229.5 593.2 231.2 592.5C232.8 591.9 233.5 590.9 234.2 589.0C235.0 587.2 235.5 584.1 235.8 581.5C236.1 578.9 236.4 575.9 236.1 573.4C235.8 570.9 235.3 568.2 234.2 566.4C233.2 564.7 231.5 563.7 229.8 562.9C228.2 562.2 225.1 562.1 224.1 562.0" stroke="#111" stroke-width="0.6" fill="none"/>
<path d="M215.7 571.0C215.9 572.1 216.8 576.0 217.2 577.9C217.5 579.8 217.5 581.0 217.9 582.5C218.2 584.0 218.4 585.6 219.5 586.8C220.6 587.9 222.7 589.0 224.6 589.4C226.5 589.8 229.4 589.6 230.9 589.0C232.5 588.4 233.2 587.6 233.9 586.0C234.7 584.4 235.2 581.8 235.5 579.5C235.8 577.2 236.0 574.7 235.7 572.5C235.5 570.3 234.9 568.0 233.9 566.5C232.9 565.0 231.3 564.1 229.7 563.5C228.0 562.9 225.1 562.8 224.2 562.6" stroke="#111" stroke-width="0.6" fill="none"/>
<path d="M216.0 570.4C216.2 571.3 217.1 574.5 217.5 576.2C217.8 577.8 217.7 578.8 218.1 580.0C218.5 581.3 218.6 582.6 219.7 583.6C220.7 584.6 222.7 585.5 224.6 585.8C226.4 586.1 229.2 586.0 230.7 585.5C232.2 585.0 232.9 584.3 233.6 583.0C234.3 581.6 234.8 579.4 235.1 577.5C235.4 575.6 235.6 573.4 235.3 571.6C235.1 569.8 234.6 567.8 233.6 566.6C232.6 565.3 231.1 564.6 229.5 564.1C227.9 563.5 225.1 563.5 224.2 563.3" stroke="#111" stroke-width="0.6" fill="none"/>
<path d="M216.2 569.8C216.4 570.6 217.3 573.3 217.6 574.6C218.0 576.0 217.9 576.8 218.3 577.9C218.6 578.9 218.7 580.0 219.8 580.8C220.9 581.6 222.8 582.4 224.6 582.7C226.4 582.9 229.1 582.8 230.6 582.4C232.1 582.0 232.7 581.4 233.4 580.3C234.1 579.2 234.6 577.3 234.8 575.8C235.1 574.2 235.3 572.4 235.1 570.9C234.8 569.3 234.3 567.7 233.4 566.6C232.5 565.6 230.9 565.0 229.4 564.5C227.9 564.1 225.1 564.1 224.2 564.0" stroke="#111" stroke-width="0.6" fill="none"/>
<path d="M226.1 567.6C226.1 568.2 225.9 568.8 225.6 569.4C225.3 569.9 224.7 570.4 224.1 570.9C223.5 571.3 222.7 571.6 221.9 571.8C221.1 572.1 220.2 572.2 219.3 572.2C218.4 572.2 217.5 572.1 216.7 571.8C215.9 571.6 215.1 571.3 214.5 570.9C213.9 570.4 213.3 569.9 213.0 569.4C212.7 568.8 212.5 568.2 212.5 567.6C212.5 567.0 212.7 566.4 213.0 565.8C213.3 565.3 213.9 564.8 214.5 564.3C215.1 563.9 215.9 563.6 216.7 563.4C217.5 563.1 218.4 563.0 219.3 563.0C220.2 563.0 221.1 563.1 221.9 563.4C222.7 563.6 223.5 563.9 224.1 564.3C224.7 564.8 225.3 565.3 225.6 565.8C225.9 566.4 226.1 567.0 226.1 567.6Z" stroke="#111" stroke-width="0.7" fill="none"/>
<path d="M225.5 567.6C225.5 568.1 225.3 568.7 225.0 569.2C224.7 569.7 224.2 570.2 223.7 570.5C223.1 570.9 222.4 571.2 221.7 571.4C220.9 571.6 220.1 571.8 219.3 571.8C218.5 571.8 217.7 571.6 216.9 571.4C216.2 571.2 215.5 570.9 214.9 570.5C214.4 570.2 213.9 569.7 213.6 569.2C213.3 568.7 213.1 568.1 213.1 567.6C213.1 567.1 213.3 566.5 213.6 566.0C213.9 565.5 214.4 565.0 214.9 564.7C215.5 564.3 216.2 564.0 216.9 563.8C217.7 563.6 218.5 563.4 219.3 563.4C220.1 563.4 220.9 563.6 221.7 563.8C222.4 564.0 223.1 564.3 223.7 564.7C224.2 565.0 224.7 565.5 225.0 566.0C225.3 566.5 225.5 567.1 225.5 567.6Z" stroke="#111" stroke-width="0.7" fill="none"/>
<path d="M224.8 567.6C224.8 568.1 224.7 568.6 224.4 569.0C224.1 569.5 223.7 569.9 223.2 570.2C222.7 570.6 222.1 570.9 221.4 571.0C220.8 571.2 220.0 571.3 219.3 571.3C218.6 571.3 217.8 571.2 217.2 571.0C216.5 570.9 215.9 570.6 215.4 570.2C214.9 569.9 214.5 569.5 214.2 569.0C213.9 568.6 213.8 568.1 213.8 567.6C213.8 567.1 213.9 566.6 214.2 566.2C214.5 565.7 214.9 565.3 215.4 565.0C215.9 564.6 216.5 564.3 217.2 564.2C217.8 564.0 218.6 563.9 219.3 563.9C220.0 563.9 220.8 564.0 221.4 564.2C222.1 564.3 222.7 564.6 223.2 565.0C223.7 565.3 224.1 565.7 224.4 566.2C224.7 566.6 224.8 567.1 224.8 567.6Z" stroke="#111" stroke-width="0.7" fill="none"/>
<path d="M224.2 567.6C224.2 568.0 224.0 568.5 223.8 568.9C223.6 569.2 223.2 569.6 222.7 569.9C222.3 570.2 221.7 570.5 221.2 570.6C220.6 570.8 219.9 570.9 219.3 570.9C218.7 570.9 218.0 570.8 217.4 570.6C216.9 570.5 216.3 570.2 215.9 569.9C215.4 569.6 215.0 569.2 214.8 568.9C214.6 568.5 214.4 568.0 214.4 567.6C214.4 567.2 214.6 566.7 214.8 566.3C215.0 566.0 215.4 565.6 215.9 565.3C216.3 565.0 216.9 564.7 217.4 564.6C218.0 564.4 218.7 564.3 219.3 564.3C219.9 564.3 220.6 564.4 221.2 564.6C221.7 564.7 222.3 565.0 222.7 565.3C223.2 565.6 223.6 566.0 223.8 566.3C224.0 566.7 224.2 567.2 224.2 567.6Z" stroke="#111" stroke-width="0.7" fill="none"/>
<path d="M223.5 567.6C223.5 568.0 223.4 568.4 223.2 568.7C223.0 569.0 222.7 569.4 222.3 569.6C221.9 569.9 221.4 570.1 220.9 570.2C220.4 570.4 219.8 570.5 219.3 570.5C218.8 570.5 218.2 570.4 217.7 570.2C217.2 570.1 216.7 569.9 216.3 569.6C215.9 569.4 215.6 569.0 215.4 568.7C215.2 568.4 215.1 568.0 215.1 567.6C215.1 567.2 215.2 566.8 215.4 566.5C215.6 566.2 215.9 565.8 216.3 565.6C216.7 565.3 217.2 565.1 217.7 565.0C218.2 564.8 218.8 564.7 219.3 564.7C219.8 564.7 220.4 564.8 220.9 565.0C221.4 565.1 221.9 565.3 222.3 565.6C222.7 565.8 223.0 566.2 223.2 566.5C223.4 566.8 223.5 567.2 223.5 567.6Z" stroke="#111" stroke-width="0.7" fill="none"/>
<ellipse cx="219.3" cy="567.6" rx="3.9" ry="2.5" fill="#fff"/>
<ellipse cx="173.0" cy="646.0" rx="1.7" ry="1.0" fill="#222"/>
<ellipse cx="149.4" cy="621.7" rx="0.9" ry="1.4" fill="#222"/>
<path d="M345.6 601.8h.1M345.8 609.4h.1M342.2 607.4h.1M342.2 611.2h.1M344.7 607.2h.1M344.7 609.1h.1M343.5 620.6h.1M343.0 605.4h.1" stroke="#222" stroke-width="0.80" stroke-linecap="round" opacity="0.5"/>
<path d="M373.1 621.3h.1M366.9 614.8h.1M380.8 610.7h.1M370.2 611.7h.1M380.7 614.7h.1M377.1 617.8h.1M371.0 611.3h.1M389.7 613.9h.1" stroke="#222" stroke-width="0.80" stroke-linecap="round" opacity="0.4"/>
<path d="M349.3 627.7C349.3 628.8 349.1 629.9 348.8 630.9C348.6 631.9 348.1 632.9 347.5 633.6C347.0 634.4 346.3 635.1 345.6 635.5C344.9 635.9 344.1 636.1 343.3 636.1C342.5 636.1 341.7 635.9 341.0 635.5C340.3 635.1 339.6 634.4 339.1 633.6C338.5 632.9 338.0 631.9 337.8 630.9C337.5 629.9 337.3 628.8 337.3 627.7C337.3 626.6 337.5 625.5 337.8 624.5C338.0 623.5 338.5 622.5 339.1 621.8C339.6 621.0 340.3 620.3 341.0 619.9C341.7 619.5 342.5 619.3 343.3 619.3C344.1 619.3 344.9 619.5 345.6 619.9C346.3 620.3 347.0 621.0 347.5 621.8C348.1 622.5 348.6 623.5 348.8 624.5C349.1 625.5 349.3 626.6 349.3 627.7Z" stroke="#111" stroke-width="0.8" fill="none"/>
<path d="M348.9 627.7C348.9 628.7 348.7 629.8 348.4 630.7C348.2 631.6 347.7 632.5 347.2 633.2C346.7 633.9 346.1 634.5 345.4 634.9C344.8 635.3 344.0 635.5 343.3 635.5C342.6 635.5 341.8 635.3 341.2 634.9C340.5 634.5 339.9 633.9 339.4 633.2C338.9 632.5 338.4 631.6 338.2 630.7C337.9 629.8 337.8 628.7 337.8 627.7C337.8 626.7 337.9 625.7 338.2 624.8C338.4 623.8 338.9 622.9 339.4 622.2C339.9 621.5 340.5 620.9 341.2 620.6C341.8 620.2 342.6 620.0 343.3 620.0C344.0 620.0 344.8 620.2 345.4 620.6C346.1 620.9 346.7 621.5 347.2 622.2C347.7 622.9 348.2 623.8 348.4 624.8C348.7 625.7 348.9 626.7 348.9 627.7Z" stroke="#111" stroke-width="0.8" fill="none"/>
<path d="M348.4 627.8C348.4 628.7 348.3 629.7 348.0 630.5C347.8 631.3 347.4 632.2 346.9 632.8C346.4 633.5 345.9 634.0 345.3 634.4C344.7 634.7 344.0 634.9 343.3 634.9C342.6 634.9 341.9 634.7 341.3 634.4C340.7 634.0 340.2 633.5 339.7 632.8C339.2 632.2 338.8 631.3 338.6 630.5C338.3 629.7 338.2 628.7 338.2 627.8C338.2 626.9 338.3 625.9 338.6 625.0C338.8 624.2 339.2 623.4 339.7 622.7C340.2 622.1 340.7 621.5 341.3 621.2C341.9 620.8 342.6 620.6 343.3 620.6C344.0 620.6 344.7 620.8 345.3 621.2C345.9 621.5 346.4 622.1 346.9 622.7C347.4 623.4 347.8 624.2 348.0 625.0C348.3 625.9 348.4 626.9 348.4 627.8Z" stroke="#111" stroke-width="0.8" fill="none"/>
<path d="M347.9 627.8C347.9 628.6 347.8 629.5 347.6 630.3C347.4 631.1 347.0 631.8 346.6 632.4C346.2 633.0 345.6 633.5 345.1 633.8C344.5 634.1 343.9 634.3 343.3 634.3C342.7 634.3 342.1 634.1 341.5 633.8C341.0 633.5 340.4 633.0 340.0 632.4C339.6 631.8 339.2 631.1 339.0 630.3C338.8 629.5 338.7 628.6 338.7 627.8C338.7 627.0 338.8 626.1 339.0 625.3C339.2 624.6 339.6 623.8 340.0 623.2C340.4 622.6 341.0 622.1 341.5 621.8C342.1 621.5 342.7 621.3 343.3 621.3C343.9 621.3 344.5 621.5 345.1 621.8C345.6 622.1 346.2 622.6 346.6 623.2C347.0 623.8 347.4 624.6 347.6 625.3C347.8 626.1 347.9 627.0 347.9 627.8Z" stroke="#111" stroke-width="0.8" fill="none"/>
<path d="M347.5 627.9C347.5 628.6 347.4 629.4 347.2 630.1C347.0 630.8 346.6 631.5 346.3 632.0C345.9 632.5 345.4 633.0 344.9 633.3C344.4 633.6 343.8 633.7 343.3 633.7C342.8 633.7 342.2 633.6 341.7 633.3C341.2 633.0 340.7 632.5 340.3 632.0C340.0 631.5 339.6 630.8 339.4 630.1C339.2 629.4 339.1 628.6 339.1 627.9C339.1 627.1 339.2 626.3 339.4 625.6C339.6 624.9 340.0 624.2 340.3 623.7C340.7 623.2 341.2 622.7 341.7 622.4C342.2 622.1 342.8 622.0 343.3 622.0C343.8 622.0 344.4 622.1 344.9 622.4C345.4 622.7 345.9 623.2 346.3 623.7C346.6 624.2 347.0 624.9 347.2 625.6C347.4 626.3 347.5 627.1 347.5 627.9Z" stroke="#111" stroke-width="0.8" fill="none"/>
<path d="M347.1 627.9C347.1 628.6 346.9 629.3 346.8 629.9C346.6 630.5 346.3 631.1 346.0 631.6C345.6 632.1 345.2 632.5 344.7 632.7C344.3 633.0 343.8 633.1 343.3 633.1C342.8 633.1 342.3 633.0 341.9 632.7C341.4 632.5 341.0 632.1 340.6 631.6C340.3 631.1 340.0 630.5 339.8 629.9C339.7 629.3 339.6 628.6 339.6 627.9C339.6 627.2 339.7 626.5 339.8 625.9C340.0 625.3 340.3 624.6 340.6 624.2C341.0 623.7 341.4 623.3 341.9 623.0C342.3 622.8 342.8 622.6 343.3 622.6C343.8 622.6 344.3 622.8 344.7 623.0C345.2 623.3 345.6 623.7 346.0 624.2C346.3 624.6 346.6 625.3 346.8 625.9C346.9 626.5 347.1 627.2 347.1 627.9Z" stroke="#111" stroke-width="0.8" fill="none"/>
<path d="M346.6 627.9C346.6 628.5 346.5 629.1 346.3 629.7C346.2 630.2 345.9 630.8 345.6 631.2C345.3 631.6 345.0 632.0 344.6 632.2C344.2 632.4 343.7 632.5 343.3 632.5C342.9 632.5 342.4 632.4 342.0 632.2C341.6 632.0 341.3 631.6 341.0 631.2C340.7 630.8 340.4 630.2 340.3 629.7C340.1 629.1 340.0 628.5 340.0 627.9C340.0 627.3 340.1 626.7 340.3 626.2C340.4 625.6 340.7 625.1 341.0 624.7C341.3 624.2 341.6 623.9 342.0 623.7C342.4 623.4 342.9 623.3 343.3 623.3C343.7 623.3 344.2 623.4 344.6 623.7C345.0 623.9 345.3 624.2 345.6 624.7C345.9 625.1 346.2 625.6 346.3 626.2C346.5 626.7 346.6 627.3 346.6 627.9Z" stroke="#111" stroke-width="0.8" fill="none"/>
<path d="M346.2 628.0C346.2 628.5 346.1 629.0 345.9 629.5C345.8 630.0 345.6 630.4 345.3 630.8C345.1 631.1 344.7 631.5 344.4 631.6C344.1 631.8 343.7 632.0 343.3 632.0C342.9 632.0 342.5 631.8 342.2 631.6C341.9 631.5 341.5 631.1 341.3 630.8C341.0 630.4 340.8 630.0 340.7 629.5C340.5 629.0 340.4 628.5 340.4 628.0C340.4 627.5 340.5 626.9 340.7 626.4C340.8 626.0 341.0 625.5 341.3 625.1C341.5 624.8 341.9 624.5 342.2 624.3C342.5 624.1 342.9 624.0 343.3 624.0C343.7 624.0 344.1 624.1 344.4 624.3C344.7 624.5 345.1 624.8 345.3 625.1C345.6 625.5 345.8 626.0 345.9 626.4C346.1 626.9 346.2 627.5 346.2 628.0Z" stroke="#111" stroke-width="0.8" fill="none"/>
<path d="M345.7 628.0C345.7 628.4 345.6 628.9 345.5 629.3C345.4 629.7 345.2 630.1 345.0 630.4C344.8 630.7 344.5 630.9 344.2 631.1C343.9 631.3 343.6 631.4 343.3 631.4C343.0 631.4 342.7 631.3 342.4 631.1C342.1 630.9 341.8 630.7 341.6 630.4C341.4 630.1 341.2 629.7 341.1 629.3C341.0 628.9 340.9 628.4 340.9 628.0C340.9 627.6 341.0 627.1 341.1 626.7C341.2 626.3 341.4 625.9 341.6 625.6C341.8 625.3 342.1 625.1 342.4 624.9C342.7 624.7 343.0 624.6 343.3 624.6C343.6 624.6 343.9 624.7 344.2 624.9C344.5 625.1 344.8 625.3 345.0 625.6C345.2 625.9 345.4 626.3 345.5 626.7C345.6 627.1 345.7 627.6 345.7 628.0Z" stroke="#111" stroke-width="0.8" fill="none"/>
<path d="M345.2 628.0C345.2 628.4 345.2 628.8 345.1 629.1C345.0 629.4 344.9 629.7 344.7 630.0C344.5 630.2 344.3 630.4 344.0 630.6C343.8 630.7 343.5 630.8 343.3 630.8C343.1 630.8 342.8 630.7 342.6 630.6C342.3 630.4 342.1 630.2 341.9 630.0C341.7 629.7 341.6 629.4 341.5 629.1C341.4 628.8 341.4 628.4 341.4 628.0C341.4 627.7 341.4 627.3 341.5 627.0C341.6 626.7 341.7 626.4 341.9 626.1C342.1 625.9 342.3 625.6 342.6 625.5C342.8 625.4 343.1 625.3 343.3 625.3C343.5 625.3 343.8 625.4 344.0 625.5C344.3 625.6 344.5 625.9 344.7 626.1C344.9 626.4 345.0 626.7 345.1 627.0C345.2 627.3 345.2 627.7 345.2 628.0Z" stroke="#111" stroke-width="0.8" fill="none"/>
<path d="M344.8 628.1C344.8 628.3 344.8 628.6 344.7 628.9C344.6 629.1 344.5 629.4 344.4 629.6C344.2 629.7 344.1 629.9 343.9 630.0C343.7 630.1 343.5 630.2 343.3 630.2C343.1 630.2 342.9 630.1 342.7 630.0C342.5 629.9 342.4 629.7 342.2 629.6C342.1 629.4 342.0 629.1 341.9 628.9C341.8 628.6 341.8 628.3 341.8 628.1C341.8 627.8 341.8 627.5 341.9 627.3C342.0 627.0 342.1 626.8 342.2 626.6C342.4 626.4 342.5 626.2 342.7 626.1C342.9 626.0 343.1 626.0 343.3 626.0C343.5 626.0 343.7 626.0 343.9 626.1C344.1 626.2 344.2 626.4 344.4 626.6C344.5 626.8 344.6 627.0 344.7 627.3C344.8 627.5 344.8 627.8 344.8 628.1Z" stroke="#111" stroke-width="0.8" fill="none"/>
<path d="M344.4 628.1C344.4 628.3 344.3 628.5 344.3 628.7C344.2 628.8 344.1 629.0 344.0 629.2C343.9 629.3 343.8 629.4 343.7 629.5C343.6 629.5 343.4 629.6 343.3 629.6C343.2 629.6 343.0 629.5 342.9 629.5C342.8 629.4 342.7 629.3 342.6 629.2C342.5 629.0 342.4 628.8 342.3 628.7C342.3 628.5 342.2 628.3 342.2 628.1C342.2 627.9 342.3 627.7 342.3 627.5C342.4 627.4 342.5 627.2 342.6 627.1C342.7 626.9 342.8 626.8 342.9 626.8C343.0 626.7 343.2 626.6 343.3 626.6C343.4 626.6 343.6 626.7 343.7 626.8C343.8 626.8 343.9 626.9 344.0 627.1C344.1 627.2 344.2 627.4 344.3 627.5C344.3 627.7 344.4 627.9 344.4 628.1Z" stroke="#111" stroke-width="0.8" fill="none"/>
<path d="M343.9 628.2C343.9 628.3 343.9 628.4 343.9 628.5C343.8 628.6 343.8 628.7 343.7 628.7C343.7 628.8 343.6 628.9 343.5 628.9C343.5 629.0 343.4 629.0 343.3 629.0C343.2 629.0 343.1 629.0 343.1 628.9C343.0 628.9 342.9 628.8 342.9 628.7C342.8 628.7 342.8 628.6 342.7 628.5C342.7 628.4 342.7 628.3 342.7 628.2C342.7 628.0 342.7 627.9 342.7 627.8C342.8 627.7 342.8 627.6 342.9 627.6C342.9 627.5 343.0 627.4 343.1 627.4C343.1 627.3 343.2 627.3 343.3 627.3C343.4 627.3 343.5 627.3 343.5 627.4C343.6 627.4 343.7 627.5 343.7 627.6C343.8 627.6 343.8 627.7 343.9 627.8C343.9 627.9 343.9 628.0 343.9 628.2Z" stroke="#111" stroke-width="0.8" fill="none"/>
<circle cx="343.3" cy="628.4" r="0.7" fill="#fff"/>
<ellipse cx="343.4" cy="645.4" rx="1.7" ry="1.0" fill="#222"/>
<path d="M480.9 608.1h.1M482.7 611.4h.1M472.4 625.2h.1M471.2 611.2h.1M500.2 605.8h.1M465.2 622.8h.1M481.6 629.9h.1M481.9 624.0h.1M494.8 629.4h.1M483.7 625.1h.1M467.8 634.9h.1M495.2 621.2h.1M485.0 627.7h.1M497.0 618.4h.1M499.6 615.0h.1M478.3 625.5h.1M487.0 610.8h.1M497.4 625.4h.1M498.5 621.4h.1M495.2 609.7h.1M485.7 632.1h.1M471.4 633.4h.1M481.5 624.1h.1M491.5 613.9h.1M479.1 607.4h.1M482.5 633.8h.1M495.8 621.1h.1M492.6 629.7h.1M480.2 626.9h.1M464.2 614.2h.1M476.9 610.2h.1M484.0 624.5h.1M485.1 609.5h.1M499.1 608.4h.1M471.9 625.1h.1M484.0 601.5h.1M469.5 608.3h.1M485.1 622.4h.1M474.8 606.7h.1M473.4 608.7h.1M488.5 623.8h.1M479.9 607.2h.1M460.2 630.2h.1M491.8 609.4h.1M499.2 624.9h.1M490.5 602.5h.1M493.3 602.9h.1M477.5 627.5h.1M485.0 603.6h.1M467.1 608.1h.1M477.3 611.3h.1M497.8 627.6h.1M470.9 627.1h.1M493.9 608.9h.1M479.0 611.3h.1M484.8 611.4h.1M467.6 622.3h.1M494.0 626.1h.1M491.6 610.8h.1M484.6 624.4h.1M478.1 623.0h.1M483.5 610.3h.1M493.3 610.6h.1M489.2 612.2h.1M475.8 625.9h.1M475.0 604.8h.1M491.0 613.5h.1M490.2 623.8h.1M479.8 623.7h.1M497.0 607.3h.1M470.3 612.5h.1M477.0 610.5h.1M483.4 607.3h.1M498.2 616.9h.1M488.7 611.4h.1M466.2 612.6h.1M484.2 602.5h.1M492.5 626.3h.1M482.4 610.1h.1M484.9 603.6h.1M489.1 624.1h.1M483.5 623.3h.1M469.0 623.4h.1M480.2 604.1h.1M483.6 611.2h.1M482.3 626.4h.1M481.5 611.6h.1M483.0 624.9h.1M472.9 611.9h.1M491.2 627.2h.1M489.9 611.6h.1M488.3 621.8h.1M492.7 630.4h.1M483.3 623.9h.1M490.4 623.2h.1M498.1 607.1h.1M493.0 614.3h.1M482.1 610.5h.1M477.7 626.2h.1M476.2 608.5h.1M499.1 618.6h.1M472.4 604.6h.1M475.6 607.9h.1M480.9 624.4h.1M475.0 610.5h.1M489.9 624.6h.1M500.5 610.2h.1M490.8 631.3h.1M489.7 625.6h.1M487.3 612.9h.1M483.6 606.9h.1M491.8 625.9h.1M491.4 611.1h.1M475.0 623.7h.1M489.2 627.2h.1M486.1 610.1h.1M491.6 608.9h.1M492.3 619.7h.1M464.1 634.8h.1M463.3 610.0h.1M489.6 630.3h.1M469.2 612.2h.1M493.4 627.6h.1M498.8 632.4h.1M475.6 627.4h.1M487.9 612.9h.1M482.9 610.2h.1M475.7 603.1h.1M467.5 629.9h.1M480.1 624.1h.1M475.3 609.0h.1M487.7 623.3h.1M484.0 603.4h.1M486.6 628.7h.1M485.7 625.1h.1M487.6 606.5h.1M485.2 622.9h.1M481.2 626.9h.1M475.8 625.7h.1M475.2 628.0h.1M491.0 610.3h.1M487.1 610.3h.1M498.5 625.6h.1M491.4 620.1h.1M492.5 625.1h.1M487.1 611.0h.1M462.6 606.1h.1M483.1 627.6h.1M502.0 618.9h.1M474.4 624.5h.1M482.3 624.1h.1M495.5 627.8h.1M491.0 612.9h.1M471.4 611.6h.1M475.0 625.0h.1M472.2 608.7h.1M477.7 610.5h.1M504.3 614.6h.1M494.1 608.7h.1M497.2 621.8h.1M496.9 627.9h.1M465.3 621.4h.1M497.2 612.4h.1M493.5 619.2h.1M495.3 605.1h.1M490.6 613.2h.1M500.9 614.7h.1M488.3 622.2h.1M493.9 615.8h.1M472.0 623.6h.1M491.9 622.8h.1M478.5 624.7h.1M468.1 609.3h.1M492.5 624.3h.1M467.9 626.1h.1M490.5 621.5h.1M484.3 610.2h.1M478.9 610.7h.1M483.9 626.8h.1M501.2 618.0h.1M487.2 610.7h.1M489.1 621.8h.1M477.2 623.3h.1M489.2 625.4h.1M478.9 608.6h.1M486.8 631.9h.1M475.3 632.1h.1M473.8 623.0h.1M495.7 605.6h.1M484.9 612.4h.1M500.1 616.2h.1M467.9 624.8h.1M479.2 610.6h.1M489.0 604.3h.1M471.3 631.6h.1M494.4 609.0h.1M484.0 626.5h.1M490.5 628.3h.1M489.1 613.5h.1M490.4 613.1h.1M466.7 607.3h.1M477.7 626.1h.1M484.3 625.5h.1M460.8 627.4h.1M495.3 621.8h.1M486.0 624.5h.1M500.2 613.0h.1M468.4 612.5h.1M478.6 625.3h.1M484.9 627.3h.1M484.4 608.1h.1M485.5 606.1h.1M489.6 610.4h.1M479.0 624.4h.1M480.5 611.4h.1M495.8 615.6h.1M497.5 605.6h.1M492.7 624.3h.1M487.2 631.3h.1M501.9 621.6h.1M488.4 623.6h.1M477.6 626.3h.1M491.0 612.6h.1M488.0 611.6h.1M474.5 623.6h.1M497.0 616.2h.1M480.6 606.9h.1M502.0 614.4h.1M499.1 624.5h.1M498.1 614.2h.1M489.0 629.7h.1M485.3 611.2h.1M489.2 612.9h.1M469.1 610.1h.1M482.6 607.9h.1M462.2 627.1h.1M500.4 616.8h.1M473.0 611.5h.1M476.0 610.3h.1M462.9 626.6h.1M472.8 624.6h.1M491.6 612.0h.1M467.6 602.6h.1M479.3 625.0h.1M501.0 613.6h.1M483.9 611.6h.1M490.5 623.7h.1M493.9 628.7h.1M490.0 630.4h.1M484.8 612.6h.1M482.5 624.6h.1M494.0 619.2h.1M467.0 624.7h.1M488.1 610.1h.1M464.9 606.3h.1M468.3 631.0h.1M489.1 628.8h.1M491.7 627.7h.1M473.0 624.3h.1M463.3 609.0h.1M477.6 624.7h.1M495.9 610.8h.1M482.2 604.1h.1M463.4 621.1h.1M491.5 634.5h.1M470.8 624.9h.1M475.2 606.0h.1M482.2 611.9h.1M477.1 611.7h.1M471.6 622.8h.1M488.7 611.2h.1M484.7 630.6h.1M477.4 623.3h.1M472.4 626.9h.1M499.6 615.8h.1M493.2 621.1h.1M485.5 604.4h.1M483.3 604.2h.1M496.0 618.8h.1M486.7 612.2h.1M498.6 620.7h.1M479.5 609.1h.1M492.1 606.3h.1M486.0 627.1h.1M478.6 610.3h.1M497.9 607.2h.1M486.1 609.7h.1M487.2 622.6h.1M480.6 634.6h.1M504.4 608.3h.1M495.1 619.4h.1M491.8 622.8h.1M469.4 624.7h.1M479.5 606.8h.1M486.7 610.3h.1M469.3 623.7h.1M495.8 614.7h.1M484.2 623.0h.1M486.6 606.5h.1M479.7 626.3h.1M477.8 606.9h.1M486.3 610.7h.1M493.6 613.1h.1M490.4 611.8h.1M486.6 623.9h.1M467.1 610.3h.1M492.3 611.4h.1M485.1 633.8h.1M467.9 610.3h.1M490.9 609.8h.1M490.2 612.7h.1M493.9 619.8h.1M476.5 608.9h.1M489.5 623.2h.1M476.3 604.0h.1M483.0 626.6h.1M472.2 626.2h.1M482.9 611.5h.1M469.5 625.3h.1M489.5 629.8h.1M481.5 623.4h.1M482.2 610.1h.1M465.9 626.8h.1M475.7 626.1h.1M485.4 612.2h.1M478.2 610.7h.1M473.1 612.1h.1M478.4 606.3h.1M484.8 608.6h.1M466.6 607.5h.1M463.1 626.7h.1M479.7 625.0h.1M470.0 627.3h.1M482.1 630.0h.1M496.6 621.1h.1M479.9 625.9h.1M489.9 605.7h.1M493.6 629.2h.1M490.2 606.8h.1M468.2 622.4h.1M484.4 611.8h.1M485.9 626.0h.1M495.6 621.7h.1M476.8 623.9h.1M495.5 628.1h.1M501.9 618.7h.1M483.3 611.7h.1M470.2 630.6h.1M491.3 613.7h.1M494.8 617.1h.1M486.4 622.2h.1M499.1 611.0h.1M476.0 623.1h.1M473.5 610.7h.1M486.4 624.5h.1M502.5 632.0h.1M486.6 631.8h.1M469.1 628.1h.1M475.3 629.7h.1M465.1 604.5h.1M467.6 626.8h.1M487.7 625.6h.1M500.6 608.2h.1M464.4 607.4h.1M479.7 624.1h.1M478.7 627.7h.1M486.5 625.8h.1M499.5 614.8h.1M498.0 607.1h.1M497.8 609.6h.1M476.2 623.8h.1M479.8 610.2h.1M489.9 621.4h.1M476.6 608.4h.1M472.3 628.0h.1M486.1 612.4h.1" stroke="#222" stroke-width="0.70" stroke-linecap="round" opacity="0.6"/>
<path d="M479.8 602.4h.1M483.0 608.3h.1M468.8 607.9h.1M476.5 607.1h.1M469.3 608.5h.1M478.5 606.4h.1M481.1 604.1h.1M482.5 610.8h.1M484.2 606.6h.1M470.5 607.1h.1M478.0 605.9h.1M473.9 606.4h.1M484.2 606.8h.1M481.7 607.3h.1M484.8 606.3h.1M478.5 609.0h.1M483.3 610.4h.1M465.6 607.0h.1M472.3 607.2h.1M481.4 607.6h.1M470.1 608.3h.1M487.2 607.0h.1M479.6 610.3h.1M486.9 605.5h.1M488.8 607.8h.1M470.2 605.1h.1M462.2 604.7h.1M478.6 608.9h.1M477.9 605.6h.1M475.9 605.1h.1M474.6 610.9h.1M479.3 603.9h.1M477.7 604.9h.1M468.9 604.5h.1M494.3 604.5h.1M471.4 606.2h.1M488.0 612.0h.1M483.7 607.7h.1M475.3 606.2h.1M490.6 605.0h.1M484.2 604.4h.1M477.4 606.2h.1M486.1 602.1h.1M464.8 606.6h.1M479.5 608.5h.1M465.7 609.0h.1M483.5 606.1h.1M490.6 605.2h.1M488.1 609.9h.1M477.4 607.1h.1M474.5 607.2h.1M482.7 605.5h.1M478.2 607.5h.1M467.3 606.8h.1M479.7 610.4h.1M482.7 605.9h.1M477.6 608.2h.1M469.6 607.8h.1M471.2 609.1h.1M487.8 604.7h.1M485.6 608.6h.1M467.7 605.8h.1M477.7 608.9h.1M472.5 609.4h.1M487.7 606.3h.1M476.0 607.2h.1M482.3 607.9h.1M466.0 605.3h.1M465.3 609.5h.1M486.4 606.3h.1M484.3 604.0h.1M478.5 607.9h.1M464.5 606.8h.1M468.2 609.0h.1M477.5 605.8h.1M469.2 609.1h.1M479.6 605.3h.1M473.4 604.7h.1M488.8 605.6h.1M493.9 605.7h.1M470.3 606.0h.1M477.3 608.5h.1M499.9 611.1h.1M484.2 603.3h.1M492.0 611.1h.1M465.5 606.1h.1M482.1 611.9h.1M487.0 607.1h.1M467.5 605.3h.1M465.8 608.0h.1M496.0 607.2h.1M486.4 605.0h.1M467.6 607.4h.1M463.4 604.6h.1M479.3 604.2h.1M486.0 610.0h.1M471.2 606.1h.1M478.0 607.9h.1M468.3 604.9h.1M487.5 608.2h.1M494.2 610.7h.1M482.1 605.1h.1M472.6 604.3h.1M486.3 609.1h.1M491.5 605.4h.1M489.6 605.3h.1M478.8 605.3h.1M482.5 607.1h.1M482.3 609.0h.1M486.8 603.6h.1M478.5 605.7h.1M468.8 604.9h.1M468.3 604.8h.1M482.3 602.3h.1M493.5 609.7h.1M462.6 607.1h.1M479.8 608.8h.1M491.4 605.2h.1M474.6 608.9h.1M481.3 610.9h.1M467.5 603.5h.1M476.5 606.8h.1M473.7 608.1h.1M472.1 608.0h.1M467.9 610.6h.1M485.9 607.0h.1M470.9 605.7h.1M469.8 603.1h.1M469.4 609.5h.1M475.0 609.0h.1M479.6 605.4h.1M467.8 605.7h.1M478.5 604.7h.1M471.8 603.9h.1M490.6 602.8h.1M482.4 603.6h.1M474.7 611.1h.1M471.3 607.7h.1M468.1 611.0h.1M489.6 610.3h.1M471.3 602.7h.1M466.9 602.8h.1M488.5 607.2h.1M476.1 604.5h.1M481.9 605.8h.1M473.2 607.2h.1M468.6 602.9h.1M487.5 610.9h.1M464.3 605.0h.1M474.5 608.9h.1M462.4 610.2h.1M477.8 610.7h.1M484.9 603.9h.1M487.3 603.9h.1M476.8 607.1h.1M461.3 603.0h.1M479.4 607.8h.1M473.5 611.5h.1M490.9 601.7h.1M472.3 603.6h.1M467.9 605.3h.1M489.4 609.9h.1M462.5 607.2h.1M482.4 605.4h.1M493.8 608.2h.1M489.7 606.8h.1M483.6 608.5h.1M468.8 602.2h.1M478.2 604.0h.1M486.4 603.8h.1M482.3 603.2h.1M495.9 607.1h.1M466.9 606.5h.1M467.5 607.4h.1M470.0 605.6h.1M491.0 609.6h.1M479.4 607.6h.1M492.5 607.5h.1M464.1 607.1h.1M466.4 604.5h.1M478.2 606.4h.1M476.9 608.4h.1M475.5 607.1h.1M484.4 605.2h.1M475.4 605.7h.1M467.3 604.4h.1M481.9 606.8h.1M464.4 608.3h.1M484.5 608.8h.1M489.0 606.8h.1M483.1 606.0h.1M468.4 606.3h.1M481.9 607.2h.1M472.0 604.7h.1M472.1 605.5h.1M475.0 607.8h.1M484.4 605.3h.1M495.5 611.1h.1M486.9 606.0h.1M477.0 602.9h.1M491.0 605.3h.1M487.0 607.5h.1M495.0 607.0h.1M478.1 605.3h.1M462.6 607.6h.1M471.4 609.0h.1M488.8 607.2h.1M498.7 607.5h.1M485.4 604.7h.1M484.1 606.3h.1M491.1 606.4h.1M488.3 603.5h.1M477.6 607.5h.1M485.2 604.2h.1M470.6 605.3h.1M473.5 605.0h.1M479.7 603.1h.1M481.5 604.1h.1M473.0 604.9h.1M485.1 606.9h.1M473.0 607.4h.1M468.6 607.1h.1M479.5 606.6h.1M466.2 607.4h.1M482.9 607.5h.1M473.6 609.1h.1M494.4 609.5h.1M480.5 610.7h.1M471.0 602.2h.1M470.1 604.8h.1M472.2 606.2h.1M480.7 605.7h.1M468.6 605.7h.1M482.2 604.0h.1M464.8 605.4h.1M480.4 605.0h.1M474.9 604.9h.1M484.5 611.9h.1M481.9 605.1h.1M469.8 604.9h.1M473.4 605.4h.1M475.2 608.4h.1M468.7 603.7h.1M474.8 603.2h.1M481.0 605.4h.1M481.7 607.8h.1M484.9 605.9h.1M482.5 605.1h.1M479.6 608.6h.1M493.4 607.6h.1M473.6 605.1h.1M467.4 608.4h.1M489.0 604.6h.1M473.8 606.1h.1M464.5 603.5h.1M482.6 604.8h.1M483.1 607.4h.1M490.4 604.8h.1M490.7 605.4h.1M478.1 609.7h.1M473.4 603.7h.1M484.1 605.7h.1M463.7 609.7h.1M471.7 608.5h.1M477.2 604.5h.1M478.8 603.1h.1M488.0 604.0h.1M475.7 606.5h.1M465.8 610.4h.1M480.0 607.0h.1M464.8 605.5h.1M476.5 605.4h.1M468.0 611.8h.1M481.1 608.6h.1M466.8 609.7h.1M473.3 605.6h.1M479.4 606.2h.1M483.7 603.8h.1M478.8 603.6h.1M499.0 602.6h.1M490.2 609.5h.1" stroke="#222" stroke-width="0.70" stroke-linecap="round" opacity="0.65"/>
<path d="M475.8 628.1h.1M476.5 629.7h.1M483.0 629.6h.1M484.8 629.3h.1M469.9 630.0h.1M472.6 625.9h.1M481.1 628.0h.1M477.9 629.6h.1M466.2 627.9h.1M472.2 628.3h.1M487.9 626.2h.1M474.4 627.5h.1M480.9 624.6h.1M483.7 627.0h.1M490.5 631.5h.1M475.0 626.9h.1M473.9 626.7h.1M486.5 633.3h.1M466.5 626.5h.1M479.1 629.0h.1M481.7 625.3h.1M485.0 627.6h.1M483.4 627.9h.1M465.2 630.7h.1M475.9 627.0h.1M465.5 627.5h.1M488.8 631.5h.1M484.2 627.1h.1M479.2 629.1h.1M472.5 627.6h.1M479.8 626.1h.1M475.5 625.7h.1M472.1 627.2h.1M481.3 629.9h.1M471.5 628.8h.1M491.0 623.1h.1M476.6 624.8h.1M488.9 629.7h.1M482.3 629.3h.1M463.0 631.4h.1M475.3 628.1h.1M464.5 628.7h.1M462.8 624.6h.1M499.0 627.9h.1M498.4 632.1h.1M489.5 623.5h.1M492.9 628.7h.1M472.6 633.7h.1M485.7 630.6h.1M468.2 627.7h.1M483.7 628.3h.1M477.4 627.7h.1M480.8 627.2h.1M490.1 624.2h.1M471.3 629.9h.1M486.7 632.5h.1M487.2 625.5h.1M485.9 627.6h.1M490.6 630.9h.1M470.0 627.8h.1M479.5 625.5h.1M464.1 627.5h.1M484.5 632.0h.1M482.2 629.0h.1M474.2 631.9h.1M465.4 629.8h.1M487.6 632.0h.1M470.5 626.1h.1M474.5 630.5h.1M482.1 628.4h.1M486.2 628.4h.1M476.3 632.8h.1M474.6 629.3h.1M471.5 629.7h.1M472.5 630.3h.1M475.9 628.4h.1M498.8 630.2h.1M486.6 627.6h.1M475.0 630.5h.1M485.6 629.5h.1M488.1 623.1h.1M478.7 631.3h.1M483.8 631.4h.1M469.5 629.8h.1M470.8 624.6h.1M493.7 630.3h.1M491.9 626.8h.1M477.3 626.8h.1M489.2 627.1h.1M472.7 627.5h.1M473.5 626.9h.1M494.5 625.7h.1M470.0 625.1h.1M488.4 626.3h.1M484.7 632.1h.1M481.6 633.1h.1M472.6 634.7h.1M485.9 624.9h.1M483.6 627.6h.1M491.3 625.3h.1M486.6 624.7h.1M483.1 624.2h.1M466.9 631.4h.1M478.9 626.9h.1M487.5 633.2h.1M474.1 626.8h.1M478.4 625.6h.1M474.4 625.9h.1M491.8 625.7h.1M490.2 631.2h.1M475.1 628.3h.1M469.2 632.4h.1M472.9 629.0h.1M473.8 628.5h.1M483.4 629.7h.1M487.9 628.6h.1M483.2 624.5h.1M474.4 623.9h.1M486.0 628.5h.1M466.1 626.9h.1M481.4 632.1h.1M473.1 629.4h.1M466.6 634.4h.1M467.2 630.5h.1M476.7 626.5h.1M489.1 633.5h.1M486.9 628.7h.1M487.2 627.0h.1M474.4 625.6h.1M473.9 627.7h.1M479.6 626.6h.1M492.0 630.7h.1M482.6 628.9h.1M466.4 625.3h.1M474.4 627.2h.1M481.5 627.0h.1M472.7 629.6h.1M476.4 630.2h.1M484.0 627.2h.1M480.2 628.6h.1M478.2 625.1h.1M471.9 628.4h.1M475.0 623.3h.1M484.9 628.5h.1M475.3 626.2h.1M470.9 628.5h.1M490.3 631.5h.1M478.0 628.7h.1M479.8 630.4h.1M487.5 630.6h.1M477.6 631.0h.1M482.0 630.5h.1M470.8 630.8h.1M475.8 628.1h.1M477.2 627.3h.1M487.2 627.4h.1M471.5 630.4h.1M467.5 628.4h.1M470.5 628.1h.1M463.9 627.4h.1M462.7 629.0h.1M479.3 626.0h.1M464.8 626.3h.1M469.7 632.1h.1M484.5 626.6h.1M484.7 629.2h.1M466.8 624.4h.1M471.2 625.2h.1M470.7 627.0h.1M480.7 623.9h.1M495.3 627.2h.1M468.5 626.4h.1M468.6 631.2h.1M470.5 629.8h.1M467.3 628.2h.1M489.8 630.5h.1M467.1 630.4h.1M477.7 627.5h.1M495.7 626.6h.1M484.0 627.3h.1M471.1 624.9h.1M482.1 629.0h.1M493.1 626.3h.1M489.5 627.2h.1M466.1 629.0h.1M485.7 627.7h.1M488.7 632.7h.1M491.9 629.0h.1M470.2 632.7h.1M480.5 627.4h.1M467.3 629.7h.1M494.4 629.8h.1M469.4 628.9h.1M474.4 629.6h.1M494.0 624.2h.1M480.5 627.5h.1M480.5 627.6h.1M469.2 631.9h.1M475.0 627.4h.1M487.6 630.4h.1M487.2 626.7h.1M475.1 630.2h.1M471.9 625.8h.1M468.9 626.9h.1M464.7 626.9h.1M473.1 630.6h.1M468.2 627.9h.1M473.5 626.3h.1M467.6 628.2h.1M483.5 628.4h.1M465.2 631.1h.1M478.3 628.1h.1M464.6 627.4h.1M494.3 629.1h.1M477.0 633.5h.1M488.6 627.7h.1M469.4 626.0h.1M476.3 626.8h.1M483.3 626.4h.1M486.9 625.3h.1M463.0 631.3h.1M468.9 629.0h.1M483.1 628.8h.1M488.6 630.1h.1M478.0 628.4h.1M490.0 628.4h.1M486.2 630.3h.1M472.3 629.8h.1M485.9 623.4h.1M475.5 627.4h.1M482.5 628.9h.1M466.0 625.4h.1M476.9 626.7h.1M475.7 628.8h.1M477.7 632.0h.1M480.7 629.3h.1M470.7 631.9h.1M488.1 628.9h.1M476.3 629.5h.1M488.1 630.9h.1M472.2 630.6h.1M477.9 626.7h.1M475.1 630.4h.1M494.5 627.6h.1M473.3 628.7h.1M474.1 625.2h.1M489.0 626.0h.1M474.9 628.6h.1M475.9 630.3h.1M468.1 625.2h.1M480.3 628.2h.1M467.5 630.3h.1M480.0 624.4h.1M480.0 629.8h.1M484.3 626.6h.1M476.1 628.2h.1M482.4 626.6h.1M476.9 627.5h.1M476.6 626.5h.1M481.2 630.8h.1M490.0 628.2h.1M481.1 628.5h.1M481.3 625.8h.1M462.5 632.0h.1M486.1 629.1h.1M489.8 625.8h.1M479.6 633.6h.1M498.0 625.7h.1M478.4 627.7h.1M495.7 630.6h.1M471.0 629.8h.1M476.9 625.2h.1M473.6 630.7h.1M484.3 630.6h.1M470.2 624.6h.1M470.9 629.2h.1M488.4 632.1h.1M484.3 629.1h.1M478.9 634.9h.1M475.0 625.6h.1M482.3 628.3h.1M478.5 625.2h.1M470.9 628.1h.1M474.5 629.3h.1M490.9 629.4h.1M481.9 627.6h.1M465.6 629.3h.1M478.1 626.8h.1" stroke="#222" stroke-width="0.70" stroke-linecap="round" opacity="0.65"/>
<path d="M494.7 621.2h.1M498.8 617.0h.1M499.4 609.8h.1M496.7 624.3h.1M496.0 618.7h.1M496.3 619.2h.1M494.0 610.2h.1M499.7 619.8h.1M499.9 612.8h.1M497.7 616.6h.1M490.7 610.6h.1M498.4 625.7h.1M495.5 625.8h.1M493.8 620.5h.1M496.0 611.7h.1M499.6 614.1h.1M498.4 621.9h.1M495.0 614.0h.1M496.6 617.0h.1M502.4 620.6h.1M495.1 618.2h.1M496.4 616.9h.1M499.8 620.2h.1M496.0 621.3h.1M500.0 620.2h.1M495.3 625.0h.1M501.5 613.3h.1M499.6 621.3h.1M498.6 621.1h.1M496.3 616.3h.1M492.9 628.5h.1M499.3 617.9h.1M499.8 624.3h.1M497.4 619.9h.1M501.2 613.0h.1M492.7 620.0h.1M501.6 615.6h.1M498.3 615.3h.1M496.9 616.9h.1M503.5 609.3h.1M495.2 610.9h.1M498.0 627.9h.1M498.9 616.9h.1M496.7 617.7h.1M497.0 615.8h.1M495.8 617.9h.1M495.3 615.4h.1M499.0 620.9h.1M500.0 623.1h.1M498.0 626.8h.1M498.6 618.6h.1M490.7 623.0h.1M498.3 616.8h.1M494.0 616.9h.1M497.9 617.0h.1M496.5 616.7h.1M503.2 612.6h.1M498.8 613.1h.1M496.1 623.2h.1M493.6 624.7h.1M498.0 621.2h.1M496.7 622.8h.1M493.2 620.3h.1M490.5 623.7h.1M495.2 615.2h.1M501.0 617.3h.1M498.7 615.0h.1M495.7 622.4h.1M495.0 614.8h.1M498.8 615.9h.1M502.0 613.8h.1M492.4 621.8h.1M495.5 614.6h.1M503.3 618.2h.1M493.7 620.4h.1M498.2 615.8h.1M495.6 617.0h.1M494.9 621.2h.1M503.0 608.0h.1M497.0 620.3h.1M497.0 622.7h.1M500.0 618.1h.1M495.1 622.5h.1M495.0 614.3h.1M496.3 618.5h.1M495.4 616.1h.1M497.7 623.1h.1M494.9 613.0h.1M497.5 620.4h.1M495.7 611.2h.1M493.2 622.3h.1M499.0 621.4h.1M499.8 617.8h.1M495.5 612.2h.1M497.1 616.1h.1M493.6 614.4h.1M493.1 620.1h.1M497.4 624.2h.1M497.2 616.3h.1M499.2 619.0h.1M492.8 610.8h.1M493.8 623.3h.1M502.2 615.4h.1M498.7 621.5h.1M497.9 627.1h.1M496.5 614.7h.1M492.9 613.0h.1M496.8 607.6h.1M500.1 608.8h.1M492.9 614.5h.1M495.6 615.4h.1M496.0 626.3h.1" stroke="#222" stroke-width="0.70" stroke-linecap="round" opacity="0.65"/>
<path d="M462.0 603.5C464.6 604.7 466.7 608.0 470.7 609.3C474.7 610.6 482.3 610.7 486.0 611.3C489.7 611.9 491.2 612.1 493.0 613.0C494.8 613.9 496.5 615.2 496.7 616.5C496.9 617.8 495.3 619.7 494.0 621.0C492.7 622.3 492.9 623.5 489.0 624.1C485.1 624.7 475.2 623.7 470.7 624.6C466.2 625.5 464.5 628.4 462.0 629.5C459.5 630.6 457.6 632.2 455.5 631.3C453.4 630.4 450.6 627.5 449.5 624.0C448.4 620.5 448.1 613.7 449.0 610.0C449.9 606.3 452.8 603.1 455.0 602.0C457.2 600.9 459.4 602.3 462.0 603.5Z" stroke="#111" stroke-width="0.65" fill="none"/>
<path d="M462.0 608.0C464.3 609.1 465.3 612.8 469.6 613.9C473.9 615.0 484.5 613.9 488.0 614.4C491.5 614.9 490.6 615.8 490.6 617.0C490.6 618.2 491.5 620.9 488.0 621.6C484.5 622.3 473.9 620.5 469.6 621.1C465.3 621.8 464.3 624.5 462.0 625.5C459.7 626.5 457.7 628.4 456.0 627.0C454.3 625.6 452.0 620.3 452.0 617.0C452.0 613.7 454.3 608.5 456.0 607.0C457.7 605.5 459.7 606.9 462.0 608.0Z" stroke="#111" stroke-width="0.6" fill="none"/>
<path d="M477.9 618.5C477.9 618.6 477.9 618.8 477.8 618.9C477.7 619.0 477.6 619.1 477.4 619.2C477.3 619.3 477.1 619.4 476.9 619.4C476.7 619.5 476.5 619.5 476.3 619.5C476.1 619.5 475.9 619.5 475.7 619.4C475.5 619.4 475.3 619.3 475.2 619.2C475.0 619.1 474.9 619.0 474.8 618.9C474.7 618.8 474.7 618.6 474.7 618.5C474.7 618.4 474.7 618.2 474.8 618.1C474.9 618.0 475.0 617.9 475.2 617.8C475.3 617.7 475.5 617.6 475.7 617.6C475.9 617.5 476.1 617.5 476.3 617.5C476.5 617.5 476.7 617.5 476.9 617.6C477.1 617.6 477.3 617.7 477.4 617.8C477.6 617.9 477.7 618.0 477.8 618.1C477.9 618.2 477.9 618.4 477.9 618.5Z" stroke="#111" stroke-width="0.6" fill="none"/>
<path d="M477.1 618.5C477.1 618.6 477.1 618.6 477.0 618.7C477.0 618.8 476.9 618.8 476.9 618.9C476.8 618.9 476.7 618.9 476.6 619.0C476.5 619.0 476.4 619.0 476.3 619.0C476.2 619.0 476.1 619.0 476.0 619.0C475.9 618.9 475.8 618.9 475.7 618.9C475.7 618.8 475.6 618.8 475.6 618.7C475.5 618.6 475.5 618.6 475.5 618.5C475.5 618.4 475.5 618.4 475.6 618.3C475.6 618.2 475.7 618.2 475.7 618.1C475.8 618.1 475.9 618.1 476.0 618.0C476.1 618.0 476.2 618.0 476.3 618.0C476.4 618.0 476.5 618.0 476.6 618.0C476.7 618.1 476.8 618.1 476.9 618.1C476.9 618.2 477.0 618.2 477.0 618.3C477.1 618.4 477.1 618.4 477.1 618.5Z" stroke="#111" stroke-width="0.6" fill="none"/>
<path d="M462.0 616.5C462.0 618.3 461.8 620.3 461.5 622.0C461.2 623.7 460.7 625.3 460.1 626.6C459.5 627.9 458.8 629.0 458.0 629.7C457.3 630.4 456.4 630.8 455.6 630.8C454.8 630.8 453.9 630.4 453.2 629.7C452.4 629.0 451.7 627.9 451.1 626.6C450.5 625.3 450.0 623.7 449.7 622.0C449.4 620.3 449.2 618.3 449.2 616.5C449.2 614.7 449.4 612.7 449.7 611.0C450.0 609.3 450.5 607.7 451.1 606.4C451.7 605.1 452.4 604.0 453.2 603.3C453.9 602.6 454.8 602.2 455.6 602.2C456.4 602.2 457.3 602.6 458.0 603.3C458.8 604.0 459.5 605.1 460.1 606.4C460.7 607.7 461.2 609.3 461.5 611.0C461.8 612.7 462.0 614.7 462.0 616.5Z" stroke="#111" stroke-width="0.6" fill="none"/>
<path d="M460.7 616.5C460.7 618.0 460.6 619.6 460.3 620.9C460.1 622.3 459.7 623.6 459.2 624.7C458.7 625.7 458.1 626.6 457.5 627.2C456.9 627.7 456.2 628.1 455.5 628.1C454.9 628.1 454.2 627.7 453.6 627.2C453.0 626.6 452.4 625.7 451.9 624.7C451.4 623.6 451.0 622.3 450.8 620.9C450.5 619.6 450.4 618.0 450.4 616.5C450.4 615.0 450.5 613.4 450.8 612.1C451.0 610.7 451.4 609.4 451.9 608.3C452.4 607.3 453.0 606.4 453.6 605.8C454.2 605.3 454.9 604.9 455.5 604.9C456.2 604.9 456.9 605.3 457.5 605.8C458.1 606.4 458.7 607.3 459.2 608.3C459.7 609.4 460.1 610.7 460.3 612.1C460.6 613.4 460.7 615.0 460.7 616.5Z" stroke="#111" stroke-width="0.6" fill="none"/>
<path d="M459.9 616.5C459.9 617.8 459.8 619.1 459.6 620.3C459.4 621.4 459.0 622.6 458.6 623.5C458.2 624.3 457.7 625.1 457.2 625.6C456.7 626.1 456.1 626.3 455.5 626.3C454.9 626.3 454.3 626.1 453.8 625.6C453.3 625.1 452.8 624.3 452.4 623.5C452.0 622.6 451.7 621.4 451.4 620.3C451.2 619.1 451.1 617.8 451.1 616.5C451.1 615.2 451.2 613.9 451.4 612.7C451.7 611.6 452.0 610.4 452.4 609.5C452.8 608.7 453.3 607.9 453.8 607.4C454.3 606.9 454.9 606.7 455.5 606.7C456.1 606.7 456.7 606.9 457.2 607.4C457.7 607.9 458.2 608.7 458.6 609.5C459.0 610.4 459.4 611.6 459.6 612.7C459.8 613.9 459.9 615.2 459.9 616.5Z" stroke="#111" stroke-width="0.6" fill="none"/>
<path d="M459.2 616.5C459.2 617.6 459.1 618.7 458.9 619.7C458.8 620.7 458.5 621.7 458.1 622.4C457.8 623.2 457.4 623.8 456.9 624.2C456.5 624.6 456.0 624.9 455.5 624.9C455.0 624.9 454.5 624.6 454.0 624.2C453.6 623.8 453.2 623.2 452.8 622.4C452.5 621.7 452.2 620.7 452.0 619.7C451.8 618.7 451.7 617.6 451.7 616.5C451.7 615.4 451.8 614.3 452.0 613.3C452.2 612.3 452.5 611.3 452.8 610.6C453.2 609.8 453.6 609.2 454.0 608.8C454.5 608.4 455.0 608.1 455.5 608.1C456.0 608.1 456.5 608.4 456.9 608.8C457.4 609.2 457.8 609.8 458.1 610.6C458.5 611.3 458.8 612.3 458.9 613.3C459.1 614.3 459.2 615.4 459.2 616.5Z" stroke="#111" stroke-width="0.6" fill="none"/>
<path d="M458.6 616.5C458.6 617.4 458.5 618.4 458.4 619.2C458.2 620.0 458.0 620.8 457.7 621.5C457.4 622.1 457.0 622.7 456.7 623.0C456.3 623.4 455.9 623.6 455.4 623.6C455.0 623.6 454.6 623.4 454.2 623.0C453.9 622.7 453.5 622.1 453.2 621.5C452.9 620.8 452.7 620.0 452.5 619.2C452.4 618.4 452.3 617.4 452.3 616.5C452.3 615.6 452.4 614.6 452.5 613.8C452.7 613.0 452.9 612.2 453.2 611.5C453.5 610.9 453.9 610.3 454.2 610.0C454.6 609.6 455.0 609.4 455.4 609.4C455.9 609.4 456.3 609.6 456.7 610.0C457.0 610.3 457.4 610.9 457.7 611.5C458.0 612.2 458.2 613.0 458.4 613.8C458.5 614.6 458.6 615.6 458.6 616.5Z" stroke="#111" stroke-width="0.6" fill="none"/>
<path d="M458.0 616.5C458.0 617.2 458.0 618.0 457.8 618.7C457.7 619.4 457.5 620.1 457.3 620.6C457.0 621.1 456.7 621.6 456.4 621.9C456.1 622.2 455.8 622.3 455.4 622.3C455.1 622.3 454.7 622.2 454.4 621.9C454.1 621.6 453.8 621.1 453.6 620.6C453.3 620.1 453.1 619.4 453.0 618.7C452.9 618.0 452.8 617.2 452.8 616.5C452.8 615.8 452.9 615.0 453.0 614.3C453.1 613.6 453.3 612.9 453.6 612.4C453.8 611.9 454.1 611.4 454.4 611.1C454.7 610.8 455.1 610.7 455.4 610.7C455.8 610.7 456.1 610.8 456.4 611.1C456.7 611.4 457.0 611.9 457.3 612.4C457.5 612.9 457.7 613.6 457.8 614.3C458.0 615.0 458.0 615.8 458.0 616.5Z" stroke="#111" stroke-width="0.6" fill="none"/>
<path d="M457.5 616.5C457.5 617.1 457.4 617.7 457.3 618.3C457.2 618.8 457.1 619.4 456.9 619.8C456.7 620.2 456.4 620.6 456.2 620.8C456.0 621.0 455.7 621.2 455.4 621.2C455.1 621.2 454.8 621.0 454.6 620.8C454.4 620.6 454.1 620.2 453.9 619.8C453.7 619.4 453.6 618.8 453.5 618.3C453.4 617.7 453.3 617.1 453.3 616.5C453.3 615.9 453.4 615.3 453.5 614.7C453.6 614.2 453.7 613.6 453.9 613.2C454.1 612.8 454.4 612.4 454.6 612.2C454.8 612.0 455.1 611.8 455.4 611.8C455.7 611.8 456.0 612.0 456.2 612.2C456.4 612.4 456.7 612.8 456.9 613.2C457.1 613.6 457.2 614.2 457.3 614.7C457.4 615.3 457.5 615.9 457.5 616.5Z" stroke="#111" stroke-width="0.6" fill="none"/>
<path d="M457.0 616.5C457.0 617.0 456.9 617.4 456.9 617.9C456.8 618.3 456.7 618.7 456.5 619.0C456.4 619.4 456.2 619.6 456.0 619.8C455.8 620.0 455.6 620.1 455.4 620.1C455.2 620.1 455.0 620.0 454.8 619.8C454.6 619.6 454.4 619.4 454.2 619.0C454.1 618.7 454.0 618.3 453.9 617.9C453.8 617.4 453.8 617.0 453.8 616.5C453.8 616.0 453.8 615.6 453.9 615.1C454.0 614.7 454.1 614.3 454.2 614.0C454.4 613.6 454.6 613.4 454.8 613.2C455.0 613.0 455.2 612.9 455.4 612.9C455.6 612.9 455.8 613.0 456.0 613.2C456.2 613.4 456.4 613.6 456.5 614.0C456.7 614.3 456.8 614.7 456.9 615.1C456.9 615.6 457.0 616.0 457.0 616.5Z" stroke="#111" stroke-width="0.6" fill="none"/>
<path d="M462.0 616.5C462.0 618.3 461.8 620.3 461.5 622.0C461.2 623.7 460.7 625.3 460.1 626.6C459.5 627.9 458.8 629.0 458.0 629.7C457.3 630.4 456.4 630.8 455.6 630.8C454.8 630.8 453.9 630.4 453.2 629.7C452.4 629.0 451.7 627.9 451.1 626.6C450.5 625.3 450.0 623.7 449.7 622.0C449.4 620.3 449.2 618.3 449.2 616.5C449.2 614.7 449.4 612.7 449.7 611.0C450.0 609.3 450.5 607.7 451.1 606.4C451.7 605.1 452.4 604.0 453.2 603.3C453.9 602.6 454.8 602.2 455.6 602.2C456.4 602.2 457.3 602.6 458.0 603.3C458.8 604.0 459.5 605.1 460.1 606.4C460.7 607.7 461.2 609.3 461.5 611.0C461.8 612.7 462.0 614.7 462.0 616.5Z" stroke="#111" stroke-width="1.0" fill="none"/>
<path d="M461.9 616.5C461.9 618.3 461.7 620.2 461.4 621.9C461.1 623.6 460.6 625.2 460.0 626.5C459.5 627.8 458.7 628.9 458.0 629.6C457.3 630.3 456.4 630.7 455.6 630.7C454.9 630.7 454.0 630.3 453.3 629.6C452.5 628.9 451.8 627.8 451.3 626.5C450.7 625.2 450.2 623.6 449.9 621.9C449.6 620.2 449.4 618.3 449.4 616.5C449.4 614.7 449.6 612.8 449.9 611.1C450.2 609.4 450.7 607.8 451.3 606.5C451.8 605.2 452.5 604.1 453.3 603.4C454.0 602.7 454.9 602.3 455.6 602.3C456.4 602.3 457.3 602.7 458.0 603.4C458.7 604.1 459.5 605.2 460.0 606.5C460.6 607.8 461.1 609.4 461.4 611.1C461.7 612.8 461.9 614.7 461.9 616.5Z" stroke="#111" stroke-width="1.0" fill="none"/>
<path d="M461.7 616.5C461.7 618.3 461.5 620.2 461.2 621.9C460.9 623.5 460.5 625.1 459.9 626.4C459.4 627.7 458.7 628.8 458.0 629.4C457.3 630.1 456.5 630.5 455.7 630.5C454.9 630.5 454.1 630.1 453.4 629.4C452.7 628.8 452.0 627.7 451.4 626.4C450.9 625.1 450.4 623.5 450.1 621.9C449.8 620.2 449.7 618.3 449.7 616.5C449.7 614.7 449.8 612.8 450.1 611.1C450.4 609.5 450.9 607.9 451.4 606.6C452.0 605.3 452.7 604.2 453.4 603.6C454.1 602.9 454.9 602.5 455.7 602.5C456.5 602.5 457.3 602.9 458.0 603.6C458.7 604.2 459.4 605.3 459.9 606.6C460.5 607.9 460.9 609.5 461.2 611.1C461.5 612.8 461.7 614.7 461.7 616.5Z" stroke="#111" stroke-width="1.0" fill="none"/>
<ellipse cx="454.7" cy="645.4" rx="1.7" ry="1.0" fill="#222"/>
<path d="M581.9 629.7h.1M579.6 611.3h.1M593.8 607.5h.1M605.0 611.1h.1M598.2 630.4h.1M610.9 610.9h.1M590.1 613.5h.1M589.8 611.3h.1M598.1 607.2h.1M585.5 628.9h.1M590.2 614.0h.1M586.9 628.9h.1M603.0 626.7h.1M574.2 626.1h.1M615.8 611.4h.1M592.0 612.4h.1M598.9 610.4h.1M577.8 613.5h.1M596.2 610.7h.1M592.1 611.2h.1M591.2 607.4h.1M614.1 625.7h.1M577.7 612.4h.1M601.3 627.2h.1M580.0 607.7h.1M611.2 629.7h.1M583.7 614.6h.1M599.8 627.4h.1M619.8 615.5h.1M611.2 614.3h.1M603.5 627.6h.1M602.3 632.6h.1M574.6 616.0h.1M610.3 613.4h.1M581.8 615.2h.1M608.3 608.6h.1M571.3 605.8h.1M601.6 614.3h.1M610.8 605.6h.1M597.8 601.6h.1M589.7 614.0h.1M593.5 602.3h.1M587.3 609.0h.1M601.0 609.6h.1M590.7 612.7h.1M579.5 627.4h.1M582.7 606.5h.1M611.7 609.5h.1M583.9 630.4h.1M608.8 614.5h.1M595.0 614.0h.1M581.0 608.4h.1M592.7 612.5h.1M592.2 630.5h.1M597.6 613.3h.1M598.9 608.7h.1M583.2 610.6h.1M612.3 630.7h.1M605.1 609.7h.1M573.2 611.4h.1M578.6 611.7h.1M590.6 606.1h.1M611.4 624.9h.1M598.0 611.9h.1M600.3 610.4h.1M608.5 613.8h.1M601.6 608.8h.1M587.7 609.7h.1M611.0 628.6h.1M599.1 604.7h.1M578.8 607.6h.1M595.7 610.2h.1M572.7 605.3h.1M587.2 611.6h.1M606.5 627.4h.1M606.9 615.0h.1M609.1 607.1h.1M603.8 626.3h.1M607.0 614.8h.1M615.6 614.0h.1M573.9 624.7h.1M580.2 631.6h.1M586.5 629.0h.1M597.9 627.3h.1M611.9 607.8h.1M589.8 606.6h.1M595.0 613.0h.1M593.3 605.4h.1M608.9 610.1h.1M589.7 607.2h.1M595.9 606.4h.1M587.8 613.4h.1M593.2 608.1h.1M587.4 628.4h.1M588.8 627.0h.1M592.4 609.7h.1M601.3 608.9h.1M595.4 610.5h.1M611.0 613.8h.1M598.5 629.4h.1M597.8 629.7h.1M580.2 631.1h.1M581.3 626.5h.1M603.5 629.5h.1M596.3 609.4h.1M602.1 611.9h.1M614.1 611.1h.1M592.4 611.0h.1M587.9 610.7h.1M617.0 618.1h.1M613.1 617.0h.1M596.3 613.9h.1M599.0 613.8h.1M603.6 629.5h.1M601.9 603.6h.1M579.1 613.2h.1M607.2 611.1h.1M590.7 629.8h.1M600.2 606.1h.1M591.7 611.8h.1M596.4 628.1h.1M593.8 612.0h.1M608.2 625.0h.1M589.9 611.6h.1M603.0 610.0h.1M604.4 629.6h.1M593.9 633.7h.1M609.2 628.3h.1M607.4 607.3h.1M603.0 607.0h.1M575.9 629.0h.1M597.1 632.9h.1M614.2 606.8h.1M574.3 631.1h.1M600.6 627.1h.1M602.9 608.7h.1M611.3 614.1h.1M609.2 627.1h.1M609.8 631.1h.1M580.3 604.3h.1M590.1 606.3h.1M581.6 626.0h.1M602.8 629.7h.1M599.3 628.8h.1M590.8 628.9h.1M601.0 631.6h.1M595.1 627.7h.1M577.3 609.5h.1M582.7 626.7h.1M603.4 610.1h.1M581.8 605.1h.1M597.8 629.2h.1M578.1 611.0h.1M588.9 634.1h.1M577.1 607.8h.1M593.7 613.6h.1M593.2 629.5h.1M571.8 607.2h.1M607.4 607.1h.1M616.6 620.3h.1M583.1 626.2h.1M581.4 609.2h.1M574.0 604.4h.1M595.6 609.0h.1M573.3 623.0h.1M599.4 604.9h.1M593.3 611.2h.1M587.2 607.0h.1M589.5 608.3h.1M612.5 612.4h.1M608.5 615.2h.1M609.4 627.6h.1M594.5 631.7h.1M597.6 609.4h.1M588.1 611.8h.1M577.6 611.7h.1M614.1 617.0h.1M603.1 610.4h.1M600.9 634.7h.1M611.6 617.4h.1M612.7 609.5h.1M596.6 627.5h.1M585.6 610.6h.1M619.0 617.2h.1M594.0 608.9h.1M593.6 627.2h.1M616.0 622.0h.1M581.3 607.7h.1M614.0 613.5h.1M612.0 612.2h.1M597.4 609.5h.1M605.5 629.2h.1M580.9 607.3h.1M609.7 613.9h.1M572.3 607.2h.1M608.0 615.2h.1M611.8 610.0h.1M583.3 612.3h.1M615.7 606.7h.1M589.7 607.9h.1M607.9 610.6h.1M583.2 628.3h.1M603.0 629.6h.1M619.1 606.8h.1M603.7 628.6h.1M605.2 610.2h.1M598.3 613.3h.1M577.9 626.0h.1M583.9 631.6h.1M596.9 603.2h.1M592.5 609.2h.1M576.0 623.1h.1M585.3 612.6h.1M613.4 619.2h.1M580.5 607.2h.1M593.3 627.9h.1M599.2 607.7h.1M606.3 613.0h.1M609.5 608.1h.1M602.4 629.1h.1M585.9 614.4h.1M605.1 611.7h.1M586.0 635.2h.1M608.4 609.3h.1M609.9 624.4h.1M583.8 613.7h.1M598.6 611.1h.1M585.8 603.0h.1M584.3 608.3h.1M592.8 610.1h.1M598.4 607.4h.1M597.3 628.2h.1M591.8 610.5h.1M597.0 632.7h.1M589.1 608.8h.1M577.0 612.8h.1M607.7 607.8h.1M584.5 627.4h.1M588.1 608.0h.1M573.4 626.3h.1M601.9 634.2h.1M587.2 609.7h.1M604.4 609.2h.1M589.6 612.7h.1M592.5 606.0h.1M593.6 610.3h.1M591.2 613.7h.1M603.4 604.4h.1M583.6 628.5h.1M588.3 611.4h.1M584.1 628.2h.1M584.8 611.0h.1M583.5 611.7h.1M587.5 613.2h.1M595.3 610.2h.1M605.1 610.4h.1M583.4 632.2h.1M612.9 625.7h.1M573.7 615.4h.1M594.7 614.0h.1M591.4 629.1h.1M593.3 627.1h.1M575.7 627.2h.1M613.0 621.0h.1M591.8 613.5h.1M613.8 623.3h.1M586.7 608.3h.1M617.8 625.5h.1M599.0 611.1h.1M600.7 626.6h.1M609.5 624.5h.1M593.2 628.5h.1M611.2 612.7h.1M575.6 615.8h.1M589.3 628.1h.1M597.8 612.8h.1M592.9 613.3h.1M592.9 613.4h.1M603.4 610.1h.1M579.8 608.0h.1M585.1 606.6h.1M593.8 633.8h.1M616.2 621.7h.1M596.2 627.8h.1M596.8 612.9h.1M600.0 612.7h.1M605.1 613.1h.1M602.5 609.4h.1M587.1 627.2h.1M583.0 613.1h.1M578.8 615.6h.1M574.0 609.3h.1M614.2 626.8h.1M585.6 611.6h.1M583.0 602.6h.1M578.2 615.7h.1M609.1 609.0h.1M614.2 620.3h.1M605.5 610.5h.1M615.1 630.6h.1M583.1 610.6h.1M592.2 612.6h.1M577.6 613.3h.1M593.6 609.2h.1M602.8 633.2h.1M618.8 621.4h.1M582.1 627.0h.1M591.4 610.0h.1M578.0 624.0h.1M575.5 608.0h.1M588.8 627.6h.1M592.3 610.4h.1M590.2 606.7h.1M585.8 610.4h.1M607.0 626.4h.1M597.8 628.4h.1M616.9 608.5h.1M587.2 613.1h.1M590.8 613.7h.1M587.2 613.8h.1M598.8 611.1h.1M576.0 618.0h.1M587.9 606.4h.1M571.4 604.0h.1M596.4 630.7h.1M581.5 631.9h.1M594.0 611.9h.1M581.2 627.6h.1M574.5 625.6h.1M579.5 629.1h.1M578.9 613.6h.1M609.9 603.5h.1M585.4 613.0h.1M602.8 628.6h.1M574.4 619.4h.1M616.1 620.7h.1M594.3 612.1h.1M602.3 609.1h.1M593.8 605.1h.1M603.7 614.4h.1M583.5 611.3h.1M582.8 609.2h.1M607.2 605.9h.1M591.3 630.8h.1M599.4 627.8h.1M600.7 612.4h.1M590.1 605.9h.1M599.3 610.1h.1M601.7 612.9h.1M585.8 610.6h.1M587.5 605.4h.1M618.2 623.0h.1M615.6 620.0h.1M586.8 607.5h.1M614.3 611.8h.1" stroke="#222" stroke-width="0.70" stroke-linecap="round" opacity="0.6"/>
<path d="M579.2 604.8h.1M574.7 607.0h.1M581.8 607.5h.1M605.7 608.1h.1M596.3 611.0h.1M579.7 607.1h.1M595.8 608.2h.1M586.5 608.8h.1M594.0 605.6h.1M595.1 606.3h.1M599.9 608.4h.1M583.3 612.6h.1M586.5 608.1h.1M587.4 610.3h.1M582.5 604.9h.1M595.1 602.7h.1M588.7 609.0h.1M607.0 602.9h.1M574.8 605.1h.1M595.2 609.4h.1M584.9 610.5h.1M583.5 608.4h.1M587.3 612.0h.1M604.0 610.3h.1M584.6 602.6h.1M585.7 605.6h.1M582.8 605.0h.1M585.8 608.4h.1M602.4 610.0h.1M601.0 609.4h.1M599.5 606.8h.1M587.4 605.6h.1M585.2 606.4h.1M583.3 611.4h.1M596.6 609.8h.1M607.5 607.9h.1M600.3 605.2h.1M594.1 609.1h.1M578.1 609.2h.1M590.8 605.7h.1M604.4 607.5h.1M589.7 609.6h.1M584.4 603.1h.1M599.0 610.2h.1M584.7 607.9h.1M590.7 607.9h.1M601.1 607.6h.1M597.8 609.6h.1M587.3 608.2h.1M586.6 606.8h.1M603.6 604.9h.1M598.1 606.7h.1M585.6 607.6h.1M584.6 602.7h.1M601.3 609.3h.1M585.8 603.6h.1M580.5 612.1h.1M580.9 605.2h.1M578.8 604.4h.1M592.0 603.4h.1M576.5 608.1h.1M580.7 608.3h.1M582.3 611.8h.1M578.4 607.9h.1M578.9 611.1h.1M591.8 606.0h.1M588.6 605.7h.1M585.0 608.0h.1M609.7 608.5h.1M595.0 605.4h.1M581.5 607.4h.1M583.4 611.9h.1M590.3 611.7h.1M588.1 610.5h.1M575.3 612.2h.1M577.8 607.8h.1M588.8 606.8h.1M598.6 604.6h.1M595.5 602.8h.1M575.5 609.4h.1M604.1 604.3h.1M596.2 606.2h.1M606.9 608.2h.1M609.0 606.1h.1M609.8 605.5h.1M608.2 609.2h.1M575.5 610.3h.1M592.7 609.7h.1M581.6 606.1h.1M577.5 611.8h.1M598.6 607.7h.1M595.7 606.1h.1M585.2 609.3h.1M589.3 609.8h.1M600.7 610.0h.1M585.2 603.7h.1M594.6 604.1h.1M604.3 606.6h.1M598.4 608.2h.1M599.5 608.4h.1M595.1 607.8h.1M582.4 602.5h.1M573.4 610.6h.1M583.3 608.4h.1M613.4 612.9h.1M597.6 607.9h.1M578.3 607.3h.1M591.8 610.2h.1M584.7 604.1h.1M604.8 605.5h.1M588.0 605.8h.1M588.0 607.8h.1M599.7 608.4h.1M612.9 603.9h.1M593.5 606.7h.1M614.9 602.5h.1M589.9 610.0h.1M582.5 607.3h.1M592.1 608.5h.1M592.7 603.9h.1M580.6 604.7h.1M588.8 607.7h.1M590.0 608.1h.1M605.3 608.9h.1M588.9 601.5h.1M602.2 606.9h.1M578.3 608.6h.1M579.3 610.8h.1M586.7 606.0h.1M589.9 611.5h.1M575.6 610.9h.1M607.4 609.7h.1M590.4 610.1h.1M585.2 604.9h.1M603.0 602.9h.1M594.6 605.7h.1M586.9 607.2h.1M585.1 611.0h.1M582.7 604.0h.1M576.4 607.3h.1M592.2 607.1h.1M592.0 603.9h.1M594.1 609.7h.1M575.1 606.4h.1M590.3 606.2h.1M581.9 605.3h.1M579.4 611.9h.1M577.2 604.2h.1M574.5 607.7h.1M579.9 608.9h.1M591.3 608.2h.1M598.1 607.1h.1M586.0 607.4h.1M600.4 604.6h.1M587.6 612.0h.1M594.1 610.9h.1M597.4 602.2h.1M586.3 603.4h.1M592.9 606.8h.1M597.9 607.9h.1M586.4 610.5h.1M576.5 602.3h.1M599.9 608.4h.1M597.2 604.5h.1M597.3 609.1h.1M590.7 607.3h.1M588.4 608.5h.1M575.8 611.1h.1M580.6 604.2h.1M603.1 607.0h.1M573.7 607.7h.1M584.5 608.3h.1M577.7 606.9h.1M585.9 611.9h.1M579.8 610.2h.1M599.9 608.3h.1M587.3 608.7h.1M581.8 610.2h.1M572.3 611.2h.1M586.1 605.5h.1M593.1 612.1h.1M589.1 608.3h.1M576.3 607.1h.1M589.2 605.4h.1M575.9 605.6h.1M593.8 609.2h.1M608.8 609.8h.1M589.8 610.9h.1M593.5 602.5h.1M597.5 603.1h.1M597.8 603.4h.1M572.7 609.9h.1M585.1 605.2h.1M608.9 607.2h.1M606.6 606.4h.1M603.3 605.8h.1M600.5 605.2h.1M577.8 610.7h.1M606.8 606.0h.1M592.9 608.8h.1M594.5 603.8h.1M601.4 612.1h.1M591.7 607.5h.1M583.8 608.7h.1M597.1 605.5h.1M572.7 602.9h.1M595.7 607.6h.1M574.7 611.9h.1M579.9 604.2h.1M600.5 610.8h.1M584.7 607.6h.1M594.8 608.5h.1M585.2 607.1h.1M596.1 611.5h.1M594.5 601.9h.1M579.9 604.3h.1M598.0 611.4h.1M595.2 603.5h.1M586.5 606.8h.1M599.0 607.6h.1M598.0 605.7h.1M609.9 603.4h.1M588.9 610.1h.1M598.4 603.7h.1M583.2 606.0h.1M598.9 609.6h.1M574.3 606.3h.1M592.1 610.1h.1M596.4 610.8h.1M585.6 605.1h.1M591.8 607.8h.1M614.9 607.1h.1M588.4 604.0h.1M592.4 605.7h.1M596.6 606.7h.1M581.4 604.3h.1M583.3 606.9h.1M588.8 603.1h.1M596.4 606.0h.1M596.7 607.7h.1M585.9 610.7h.1M598.8 603.4h.1M587.6 603.1h.1M583.6 606.6h.1M584.4 606.3h.1M595.0 610.2h.1M595.7 609.7h.1M583.6 605.9h.1M600.0 605.4h.1M594.9 607.3h.1M596.0 610.4h.1M591.4 605.4h.1M581.9 612.1h.1M599.3 603.3h.1M590.2 605.1h.1M590.2 612.5h.1M590.9 602.9h.1M590.7 607.2h.1M578.4 603.1h.1M583.3 606.8h.1M600.5 604.8h.1M593.6 611.8h.1M580.0 603.8h.1M583.4 608.5h.1M579.7 610.0h.1M583.3 605.1h.1M593.9 609.4h.1M585.5 606.6h.1M598.8 612.1h.1M584.4 609.4h.1M600.4 608.8h.1M591.7 607.7h.1M578.7 606.5h.1M581.7 605.4h.1M592.1 612.7h.1M593.0 605.9h.1M602.3 604.2h.1M599.1 604.7h.1M593.4 612.6h.1M588.8 605.0h.1M588.3 608.7h.1M579.0 608.3h.1M596.2 604.7h.1M587.0 610.1h.1M585.6 608.9h.1M589.3 606.8h.1M591.4 607.9h.1M587.1 610.1h.1M590.5 607.3h.1M597.8 609.0h.1M593.0 610.4h.1M597.1 609.4h.1M600.9 609.2h.1M588.7 611.0h.1M583.0 605.9h.1M607.3 606.1h.1M604.1 604.7h.1M589.8 609.8h.1M573.2 606.7h.1M588.6 606.9h.1M599.9 604.1h.1M606.8 606.0h.1M579.1 607.9h.1M596.9 609.4h.1M595.5 604.6h.1M591.7 608.1h.1M601.4 609.6h.1M578.3 602.3h.1M596.0 607.2h.1M590.0 604.4h.1M590.8 605.8h.1M589.2 608.7h.1M590.2 608.8h.1M587.9 610.8h.1M608.1 606.3h.1M591.2 606.6h.1M585.4 610.2h.1M602.4 608.9h.1M575.0 607.4h.1M586.6 607.7h.1M601.1 606.2h.1M603.1 611.8h.1M585.5 608.5h.1M597.0 608.9h.1M598.7 601.8h.1M600.8 610.1h.1M587.4 611.8h.1M591.8 612.9h.1M593.5 608.7h.1M597.2 608.5h.1M603.9 605.3h.1M582.9 605.0h.1M599.8 605.9h.1M594.2 605.8h.1M581.3 605.7h.1M589.4 605.5h.1M603.9 608.9h.1M597.5 607.6h.1M589.9 602.0h.1M590.0 604.9h.1M598.0 606.8h.1" stroke="#222" stroke-width="0.70" stroke-linecap="round" opacity="0.65"/>
<path d="M599.5 631.9h.1M584.4 631.9h.1M609.1 633.5h.1M587.9 628.1h.1M584.0 631.8h.1M590.7 632.8h.1M595.5 631.1h.1M591.7 632.3h.1M586.1 631.0h.1M584.5 632.0h.1M598.6 633.3h.1M591.3 629.0h.1M586.8 632.7h.1M586.1 631.7h.1M595.5 633.2h.1M583.3 634.6h.1M577.5 633.9h.1M596.1 634.3h.1M588.7 632.1h.1M584.3 630.0h.1M576.1 631.7h.1M587.8 634.2h.1M610.6 628.5h.1M606.2 632.2h.1M592.7 630.1h.1M603.4 629.7h.1M608.8 627.4h.1M593.1 632.0h.1M609.3 633.3h.1M587.8 632.6h.1M596.7 632.2h.1M587.2 629.7h.1M580.7 628.2h.1M595.4 632.8h.1M586.1 633.3h.1M580.3 629.7h.1M587.0 628.4h.1M581.1 631.8h.1M588.5 631.0h.1M591.4 628.8h.1M604.9 630.4h.1M604.4 629.8h.1M599.7 629.1h.1M597.2 631.2h.1M606.4 633.1h.1M589.9 632.8h.1M602.7 630.4h.1M597.0 634.4h.1M577.7 631.9h.1M596.4 633.6h.1M595.1 632.3h.1M599.4 635.4h.1M591.9 632.1h.1M588.8 633.4h.1M586.5 627.2h.1M580.5 629.9h.1M581.6 630.1h.1M592.6 631.6h.1M585.4 634.3h.1M600.7 631.7h.1M602.4 630.9h.1M594.5 634.1h.1M597.7 631.4h.1M577.6 630.3h.1M585.1 632.9h.1M593.9 631.9h.1M576.3 632.3h.1M597.6 634.8h.1M603.8 632.0h.1M589.1 628.4h.1M591.5 634.5h.1M597.9 631.7h.1M594.7 628.8h.1M573.1 632.1h.1M580.6 631.1h.1M603.3 629.8h.1M581.7 631.3h.1M586.9 630.6h.1M595.6 631.0h.1M600.3 635.4h.1M580.6 634.3h.1M590.7 631.0h.1M588.9 633.6h.1M608.1 627.1h.1M603.5 630.9h.1M576.0 628.2h.1M593.4 631.9h.1M582.7 633.4h.1M589.9 632.2h.1M579.7 630.8h.1M610.8 627.2h.1M595.2 630.8h.1M599.7 632.7h.1M602.3 631.8h.1M574.3 634.3h.1M613.8 628.9h.1M587.9 632.4h.1M577.9 631.5h.1M595.6 631.2h.1M590.9 633.5h.1M590.4 634.5h.1M588.8 629.3h.1M601.7 633.1h.1M577.8 628.2h.1M591.1 633.2h.1M589.8 630.2h.1M590.5 634.4h.1M573.0 629.9h.1M583.6 632.3h.1M608.2 634.3h.1M594.8 630.5h.1M604.5 630.4h.1M585.4 632.8h.1M600.1 633.5h.1M577.0 630.2h.1M589.1 631.7h.1M593.9 628.1h.1M578.5 628.4h.1M577.1 635.5h.1M582.5 631.4h.1M601.5 635.0h.1M600.9 628.5h.1M597.5 628.5h.1M596.1 630.8h.1M607.4 629.3h.1M605.3 633.2h.1M580.0 627.6h.1M595.0 632.2h.1M579.4 632.1h.1M574.0 634.8h.1M583.4 632.1h.1M587.8 633.0h.1M600.2 627.1h.1M597.1 631.5h.1M585.4 633.0h.1M597.7 633.6h.1M573.0 632.0h.1M588.9 631.1h.1M610.7 632.5h.1M605.2 629.4h.1M589.2 629.1h.1M589.9 630.7h.1M604.2 629.4h.1M605.9 629.7h.1M612.4 630.0h.1M586.6 631.8h.1M591.8 629.6h.1M601.7 632.8h.1M604.1 627.9h.1M596.0 630.2h.1M585.5 632.3h.1M582.9 629.7h.1M583.7 633.8h.1M604.1 631.3h.1M594.1 629.8h.1M604.3 633.3h.1M587.1 628.7h.1M606.4 628.4h.1M599.5 634.1h.1M577.5 632.1h.1M599.4 633.9h.1M608.4 629.4h.1M598.4 632.4h.1M606.9 632.2h.1M598.9 628.3h.1M597.4 631.4h.1M597.6 628.1h.1M586.2 631.7h.1M585.9 634.0h.1M601.5 630.6h.1M607.4 632.4h.1M598.7 632.2h.1M612.4 629.3h.1M604.2 632.8h.1M585.1 633.1h.1M591.9 629.5h.1M590.3 631.7h.1M587.8 629.2h.1M593.9 631.2h.1M585.2 629.1h.1M582.5 629.8h.1M603.3 632.4h.1M584.1 631.3h.1M590.9 632.1h.1M580.6 631.9h.1M590.0 633.3h.1M588.7 634.9h.1M587.7 629.1h.1M581.1 627.7h.1M608.7 628.2h.1M594.1 631.5h.1M595.7 632.1h.1M603.5 632.1h.1M588.0 631.6h.1M596.4 632.6h.1M606.0 630.7h.1M599.0 630.7h.1M602.0 628.6h.1M591.4 629.4h.1M583.6 628.2h.1M591.0 629.5h.1M601.6 632.4h.1M600.0 630.2h.1M599.1 630.8h.1M579.2 628.9h.1M591.8 632.8h.1M579.8 636.0h.1M592.6 629.4h.1M594.7 630.1h.1M594.8 627.2h.1M598.7 632.2h.1M597.3 635.0h.1M585.8 633.5h.1M596.1 629.8h.1M593.9 633.1h.1M592.5 630.4h.1M608.0 633.5h.1M580.9 631.2h.1M590.6 634.1h.1M603.6 628.6h.1M597.3 630.8h.1M592.1 631.1h.1M591.5 634.3h.1M590.6 629.3h.1M593.4 628.8h.1M614.7 630.2h.1M596.0 628.5h.1M581.5 635.1h.1M581.3 631.1h.1M597.5 631.0h.1M601.8 634.1h.1M591.4 633.3h.1M605.7 632.0h.1M610.1 629.1h.1M609.4 629.4h.1M596.5 632.8h.1M592.2 634.2h.1M573.8 632.2h.1M582.2 633.8h.1M592.9 630.7h.1M589.9 628.5h.1M583.3 631.5h.1M590.3 630.7h.1M586.5 634.1h.1M588.9 633.8h.1M580.4 631.9h.1M599.4 632.0h.1M590.4 628.1h.1M607.7 627.4h.1M583.8 632.9h.1M606.3 627.9h.1M585.2 635.4h.1M603.9 634.4h.1M588.5 630.4h.1M592.3 636.0h.1M596.6 634.1h.1M590.1 628.3h.1M593.4 635.2h.1M588.4 631.5h.1M592.2 630.9h.1M589.2 632.0h.1M573.7 631.9h.1M578.2 631.9h.1M593.6 632.3h.1M585.1 630.5h.1M592.5 629.5h.1" stroke="#222" stroke-width="0.70" stroke-linecap="round" opacity="0.65"/>
<path d="M611.4 627.2h.1M612.9 623.5h.1M612.9 618.3h.1M619.3 618.9h.1M614.6 623.3h.1M615.9 625.2h.1M616.4 611.7h.1M616.5 625.5h.1M610.1 629.4h.1M617.4 619.3h.1M610.8 626.0h.1M612.1 611.7h.1M612.1 624.0h.1M617.9 618.8h.1M613.6 621.8h.1M613.7 621.3h.1M616.8 624.1h.1M617.8 613.5h.1M617.5 617.9h.1M615.7 627.6h.1M611.0 623.8h.1M617.5 615.8h.1M619.6 621.4h.1M616.6 621.2h.1M616.5 624.9h.1M613.4 614.4h.1M615.2 615.9h.1M615.9 624.7h.1M614.0 624.6h.1M615.3 619.1h.1M609.0 611.9h.1M613.9 631.8h.1M613.8 622.4h.1M614.4 611.0h.1M615.1 618.2h.1M614.5 625.8h.1M613.1 619.9h.1M612.6 609.9h.1M614.8 624.1h.1M615.7 619.8h.1M610.0 624.5h.1M616.8 610.4h.1M616.3 618.5h.1M613.3 620.0h.1M613.9 620.9h.1M614.1 616.6h.1M617.1 623.1h.1M617.1 620.7h.1M615.0 629.2h.1M615.5 621.1h.1M613.2 626.0h.1M614.5 618.8h.1M612.4 625.7h.1M615.3 612.2h.1M617.3 620.6h.1M612.1 626.5h.1M613.9 622.5h.1M616.4 626.1h.1M614.8 624.9h.1M616.9 621.2h.1M611.9 628.4h.1M618.0 624.5h.1M614.0 629.4h.1M613.1 617.3h.1M614.5 620.2h.1M615.3 618.4h.1M619.1 621.8h.1M616.2 626.4h.1M613.2 624.7h.1M616.2 624.1h.1M615.5 628.7h.1M618.0 627.1h.1M612.7 632.3h.1M615.4 616.1h.1M615.0 626.6h.1M618.8 622.0h.1M613.4 617.4h.1M613.9 621.0h.1M620.1 627.6h.1M609.6 629.5h.1M617.0 614.4h.1M613.8 623.8h.1M612.7 627.2h.1M612.4 623.5h.1M615.6 615.9h.1M609.8 625.3h.1M616.1 626.6h.1M613.8 618.1h.1M608.4 632.0h.1M614.5 613.2h.1M613.6 624.6h.1M615.5 618.3h.1M614.7 621.9h.1M615.4 617.1h.1M615.3 625.5h.1M617.6 625.1h.1M614.2 627.6h.1M616.2 612.3h.1M620.7 623.4h.1M613.7 619.5h.1M612.8 616.3h.1M615.7 619.3h.1M615.2 614.4h.1M617.0 625.6h.1M617.2 624.9h.1M616.4 622.6h.1M615.6 627.2h.1M614.7 615.5h.1M614.7 623.2h.1M620.4 623.9h.1M613.8 632.7h.1M616.5 620.5h.1M611.8 627.4h.1M614.5 624.2h.1M612.5 622.4h.1M619.2 629.4h.1M614.9 619.3h.1M613.3 614.8h.1M615.7 616.4h.1M615.0 620.4h.1M616.0 627.6h.1M615.3 624.9h.1M614.0 613.8h.1M614.7 627.9h.1" stroke="#222" stroke-width="0.70" stroke-linecap="round" opacity="0.65"/>
<path d="M579.0 618.4C579.0 616.7 581.0 614.8 582.8 614.3C584.5 613.8 587.0 615.3 589.5 615.6C592.0 615.8 595.4 615.5 597.8 615.6C600.1 615.6 602.0 615.3 603.8 615.7C605.5 616.1 607.2 617.0 608.2 618.0C609.3 619.0 610.1 620.5 609.9 621.9C609.7 623.2 608.9 625.3 606.8 626.1C604.8 626.9 600.6 626.6 597.8 626.6C594.9 626.7 592.0 626.9 589.5 626.5C587.0 626.1 584.5 625.8 582.8 624.4C581.0 623.0 579.0 620.1 579.0 618.4Z" stroke="#111" stroke-width="0.6" fill="none"/>
<path d="M587.0 619.8C587.0 618.7 588.3 617.4 589.5 617.0C590.7 616.7 592.3 617.8 594.0 617.9C595.7 618.0 597.9 617.9 599.5 617.9C601.1 617.9 602.3 617.7 603.5 618.0C604.7 618.3 605.8 618.9 606.5 619.5C607.2 620.2 607.8 621.2 607.6 622.1C607.4 623.0 606.9 624.4 605.5 625.0C604.2 625.5 601.4 625.3 599.5 625.3C597.6 625.3 595.7 625.5 594.0 625.2C592.3 625.0 590.7 624.7 589.5 623.8C588.3 622.9 587.0 620.9 587.0 619.8Z" stroke="#111" stroke-width="0.6" fill="none"/>
<path d="M593.4 620.9C593.4 620.2 594.2 619.5 594.9 619.3C595.6 619.1 596.6 619.7 597.6 619.8C598.6 619.9 600.0 619.8 600.9 619.8C601.8 619.8 602.6 619.7 603.3 619.8C604.0 620.0 604.7 620.4 605.1 620.8C605.5 621.2 605.9 621.8 605.8 622.3C605.7 622.8 605.3 623.7 604.5 624.0C603.7 624.3 602.1 624.2 600.9 624.2C599.7 624.2 598.6 624.3 597.6 624.2C596.6 624.0 595.6 623.9 594.9 623.3C594.2 622.8 593.4 621.6 593.4 620.9Z" stroke="#111" stroke-width="0.6" fill="none"/>
<ellipse cx="602" cy="622.3" rx="1.3" ry="0.9" fill="#111"/>
<path d="M573.0 606.0C575.3 607.0 577.2 609.0 580.0 610.0C582.8 611.0 586.7 611.7 590.0 612.0C593.3 612.3 597.0 611.7 600.0 612.0C603.0 612.3 605.8 612.4 608.0 614.0C610.2 615.6 613.3 619.2 613.5 621.6C613.7 624.0 611.9 627.2 609.0 628.5C606.1 629.8 600.5 629.3 596.0 629.5C591.5 629.7 585.8 629.4 582.0 629.5C578.2 629.6 575.7 629.7 573.0 630.0C570.3 630.3 568.1 633.5 566.0 631.5C563.9 629.5 560.5 622.6 560.5 618.0C560.5 613.4 563.9 606.0 566.0 604.0C568.1 602.0 570.7 605.0 573.0 606.0Z" stroke="#111" stroke-width="0.6" fill="none"/>
<path d="M573.0 610.0C573.8 607.9 577.7 612.2 578.0 613.5C578.3 614.8 575.0 616.1 575.0 617.5C575.0 618.9 578.3 620.6 578.0 622.0C577.7 623.4 573.8 628.0 573.0 626.0C572.2 624.0 572.2 612.1 573.0 610.0Z" stroke="#111" stroke-width="0.6" fill="none"/>
<path d="M573.4 617.5C573.4 619.3 573.2 621.2 572.9 622.8C572.6 624.4 572.1 626.0 571.5 627.3C570.9 628.5 570.1 629.6 569.3 630.2C568.5 630.9 567.6 631.3 566.8 631.3C566.0 631.3 565.1 630.9 564.3 630.2C563.5 629.6 562.7 628.5 562.1 627.3C561.5 626.0 561.0 624.4 560.7 622.8C560.4 621.2 560.2 619.3 560.2 617.5C560.2 615.7 560.4 613.8 560.7 612.2C561.0 610.6 561.5 609.0 562.1 607.7C562.7 606.5 563.5 605.4 564.3 604.8C565.1 604.1 566.0 603.7 566.8 603.7C567.6 603.7 568.5 604.1 569.3 604.8C570.1 605.4 570.9 606.5 571.5 607.7C572.1 609.0 572.6 610.6 572.9 612.2C573.2 613.8 573.4 615.7 573.4 617.5Z" stroke="#111" stroke-width="0.6" fill="none"/>
<path d="M572.3 617.7C572.3 619.1 572.2 620.7 571.9 622.0C571.7 623.3 571.2 624.7 570.8 625.7C570.3 626.7 569.6 627.6 569.0 628.1C568.4 628.7 567.6 629.0 566.9 629.0C566.2 629.0 565.5 628.7 564.9 628.1C564.2 627.6 563.6 626.7 563.1 625.7C562.6 624.7 562.2 623.3 561.9 622.0C561.7 620.7 561.5 619.1 561.5 617.7C561.5 616.2 561.7 614.7 561.9 613.3C562.2 612.0 562.6 610.7 563.1 609.7C563.6 608.7 564.2 607.8 564.9 607.2C565.5 606.7 566.2 606.4 566.9 606.4C567.6 606.4 568.4 606.7 569.0 607.2C569.6 607.8 570.3 608.7 570.8 609.7C571.2 610.7 571.7 612.0 571.9 613.3C572.2 614.7 572.3 616.2 572.3 617.7Z" stroke="#111" stroke-width="0.6" fill="none"/>
<path d="M571.6 617.8C571.6 619.0 571.4 620.3 571.2 621.4C571.0 622.6 570.6 623.7 570.2 624.5C569.8 625.4 569.3 626.1 568.8 626.6C568.2 627.0 567.6 627.3 567.0 627.3C566.4 627.3 565.8 627.0 565.3 626.6C564.7 626.1 564.2 625.4 563.8 624.5C563.4 623.7 563.0 622.6 562.8 621.4C562.6 620.3 562.5 619.0 562.5 617.8C562.5 616.6 562.6 615.3 562.8 614.2C563.0 613.1 563.4 612.0 563.8 611.1C564.2 610.2 564.7 609.5 565.3 609.0C565.8 608.6 566.4 608.3 567.0 608.3C567.6 608.3 568.2 608.6 568.8 609.0C569.3 609.5 569.8 610.2 570.2 611.1C570.6 612.0 571.0 613.1 571.2 614.2C571.4 615.3 571.6 616.6 571.6 617.8Z" stroke="#111" stroke-width="0.6" fill="none"/>
<path d="M570.9 617.9C570.9 618.9 570.7 620.0 570.6 620.9C570.4 621.9 570.1 622.8 569.8 623.5C569.4 624.2 569.0 624.8 568.5 625.2C568.1 625.6 567.6 625.8 567.1 625.8C566.6 625.8 566.1 625.6 565.7 625.2C565.2 624.8 564.8 624.2 564.5 623.5C564.1 622.8 563.8 621.9 563.6 620.9C563.5 620.0 563.4 618.9 563.4 617.9C563.4 616.9 563.5 615.9 563.6 614.9C563.8 614.0 564.1 613.1 564.5 612.4C564.8 611.7 565.2 611.1 565.7 610.7C566.1 610.3 566.6 610.1 567.1 610.1C567.6 610.1 568.1 610.3 568.5 610.7C569.0 611.1 569.4 611.7 569.8 612.4C570.1 613.1 570.4 614.0 570.6 614.9C570.7 615.9 570.9 616.9 570.9 617.9Z" stroke="#111" stroke-width="0.6" fill="none"/>
<path d="M570.2 618.0C570.2 618.8 570.1 619.7 570.0 620.5C569.8 621.2 569.6 621.9 569.3 622.5C569.0 623.1 568.7 623.6 568.3 623.9C568.0 624.2 567.6 624.3 567.2 624.3C566.8 624.3 566.4 624.2 566.0 623.9C565.7 623.6 565.3 623.1 565.1 622.5C564.8 621.9 564.5 621.2 564.4 620.5C564.3 619.7 564.2 618.8 564.2 618.0C564.2 617.2 564.3 616.4 564.4 615.6C564.5 614.9 564.8 614.2 565.1 613.6C565.3 613.0 565.7 612.5 566.0 612.2C566.4 611.9 566.8 611.7 567.2 611.7C567.6 611.7 568.0 611.9 568.3 612.2C568.7 612.5 569.0 613.0 569.3 613.6C569.6 614.2 569.8 614.9 570.0 615.6C570.1 616.4 570.2 617.2 570.2 618.0Z" stroke="#111" stroke-width="0.6" fill="none"/>
<path d="M569.6 618.1C569.6 618.8 569.5 619.4 569.4 620.0C569.3 620.6 569.1 621.1 568.9 621.6C568.7 622.0 568.4 622.4 568.1 622.6C567.9 622.8 567.5 623.0 567.3 623.0C567.0 623.0 566.6 622.8 566.4 622.6C566.1 622.4 565.8 622.0 565.6 621.6C565.4 621.1 565.2 620.6 565.1 620.0C565.0 619.4 564.9 618.8 564.9 618.1C564.9 617.5 565.0 616.9 565.1 616.3C565.2 615.7 565.4 615.2 565.6 614.7C565.8 614.3 566.1 613.9 566.4 613.7C566.6 613.5 567.0 613.3 567.3 613.3C567.5 613.3 567.9 613.5 568.1 613.7C568.4 613.9 568.7 614.3 568.9 614.7C569.1 615.2 569.3 615.7 569.4 616.3C569.5 616.9 569.6 617.5 569.6 618.1Z" stroke="#111" stroke-width="0.6" fill="none"/>
<path d="M573.4 617.5C573.4 619.3 573.2 621.2 572.9 622.8C572.6 624.4 572.1 626.0 571.5 627.3C570.9 628.5 570.1 629.6 569.3 630.2C568.5 630.9 567.6 631.3 566.8 631.3C566.0 631.3 565.1 630.9 564.3 630.2C563.5 629.6 562.7 628.5 562.1 627.3C561.5 626.0 561.0 624.4 560.7 622.8C560.4 621.2 560.2 619.3 560.2 617.5C560.2 615.7 560.4 613.8 560.7 612.2C561.0 610.6 561.5 609.0 562.1 607.7C562.7 606.5 563.5 605.4 564.3 604.8C565.1 604.1 566.0 603.7 566.8 603.7C567.6 603.7 568.5 604.1 569.3 604.8C570.1 605.4 570.9 606.5 571.5 607.7C572.1 609.0 572.6 610.6 572.9 612.2C573.2 613.8 573.4 615.7 573.4 617.5Z" stroke="#111" stroke-width="0.9" fill="none"/>
<path d="M573.2 617.5C573.2 619.3 573.1 621.1 572.7 622.7C572.4 624.3 571.9 625.9 571.4 627.2C570.8 628.4 570.1 629.5 569.3 630.1C568.6 630.8 567.7 631.2 566.9 631.2C566.1 631.2 565.2 630.8 564.5 630.1C563.7 629.5 563.0 628.4 562.4 627.2C561.8 625.9 561.3 624.3 561.0 622.7C560.7 621.1 560.6 619.3 560.6 617.5C560.6 615.8 560.7 613.9 561.0 612.3C561.3 610.7 561.8 609.1 562.4 607.8C563.0 606.6 563.7 605.6 564.5 604.9C565.2 604.2 566.1 603.8 566.9 603.8C567.7 603.8 568.6 604.2 569.3 604.9C570.1 605.6 570.8 606.6 571.4 607.8C571.9 609.1 572.4 610.7 572.7 612.3C573.1 613.9 573.2 615.8 573.2 617.5Z" stroke="#111" stroke-width="0.9" fill="none"/>
<path d="M573.0 617.5C573.0 619.2 572.9 621.1 572.6 622.7C572.3 624.3 571.8 625.9 571.3 627.1C570.7 628.3 570.0 629.4 569.3 630.0C568.6 630.7 567.8 631.0 567.0 631.0C566.2 631.0 565.4 630.7 564.7 630.0C563.9 629.4 563.2 628.3 562.7 627.1C562.1 625.9 561.7 624.3 561.4 622.7C561.1 621.1 560.9 619.2 560.9 617.5C560.9 615.8 561.1 613.9 561.4 612.3C561.7 610.8 562.1 609.2 562.7 608.0C563.2 606.7 563.9 605.7 564.7 605.0C565.4 604.4 566.2 604.0 567.0 604.0C567.8 604.0 568.6 604.4 569.3 605.0C570.0 605.7 570.7 606.7 571.3 608.0C571.8 609.2 572.3 610.8 572.6 612.3C572.9 613.9 573.0 615.8 573.0 617.5Z" stroke="#111" stroke-width="0.9" fill="none"/>
<path d="M572.9 617.5C572.9 619.2 572.7 621.1 572.4 622.7C572.1 624.2 571.7 625.8 571.2 627.0C570.6 628.2 570.0 629.2 569.3 629.9C568.6 630.6 567.8 630.9 567.1 630.9C566.3 630.9 565.5 630.6 564.8 629.9C564.2 629.2 563.5 628.2 563.0 627.0C562.4 625.8 562.0 624.2 561.7 622.7C561.4 621.1 561.3 619.2 561.3 617.5C561.3 615.8 561.4 614.0 561.7 612.4C562.0 610.8 562.4 609.3 563.0 608.1C563.5 606.9 564.2 605.8 564.8 605.2C565.5 604.5 566.3 604.1 567.1 604.1C567.8 604.1 568.6 604.5 569.3 605.2C570.0 605.8 570.6 606.9 571.2 608.1C571.7 609.3 572.1 610.8 572.4 612.4C572.7 614.0 572.9 615.8 572.9 617.5Z" stroke="#111" stroke-width="0.9" fill="none"/>
<ellipse cx="565.2" cy="645.4" rx="1.7" ry="1.0" fill="#222"/>
<path d="M362.6 826.3C362.6 827.0 362.5 827.7 362.2 828.4C362.0 829.0 361.6 829.6 361.1 830.1C360.7 830.6 360.1 831.0 359.5 831.3C358.9 831.6 358.2 831.7 357.6 831.7C357.0 831.7 356.3 831.6 355.7 831.3C355.1 831.0 354.5 830.6 354.1 830.1C353.6 829.6 353.2 829.0 353.0 828.4C352.7 827.7 352.6 827.0 352.6 826.3C352.6 825.6 352.7 824.9 353.0 824.2C353.2 823.6 353.6 823.0 354.1 822.5C354.5 822.0 355.1 821.6 355.7 821.3C356.3 821.0 357.0 820.9 357.6 820.9C358.2 820.9 358.9 821.0 359.5 821.3C360.1 821.6 360.7 822.0 361.1 822.5C361.6 823.0 362.0 823.6 362.2 824.2C362.5 824.9 362.6 825.6 362.6 826.3Z" stroke="#111" stroke-width="0.75" fill="none"/>
<path d="M362.1 826.3C362.1 826.9 361.9 827.6 361.7 828.1C361.5 828.7 361.2 829.3 360.8 829.7C360.4 830.1 359.8 830.5 359.3 830.8C358.8 831.0 358.2 831.1 357.6 831.1C357.0 831.1 356.4 831.0 355.9 830.8C355.4 830.5 354.8 830.1 354.4 829.7C354.0 829.3 353.7 828.7 353.5 828.1C353.3 827.6 353.1 826.9 353.1 826.3C353.1 825.7 353.3 825.0 353.5 824.5C353.7 823.9 354.0 823.3 354.4 822.9C354.8 822.5 355.4 822.1 355.9 821.8C356.4 821.6 357.0 821.5 357.6 821.5C358.2 821.5 358.8 821.6 359.3 821.8C359.8 822.1 360.4 822.5 360.8 822.9C361.2 823.3 361.5 823.9 361.7 824.5C361.9 825.0 362.1 825.7 362.1 826.3Z" stroke="#111" stroke-width="0.75" fill="none"/>
<path d="M361.5 826.3C361.5 826.8 361.4 827.4 361.2 827.9C361.0 828.4 360.7 828.9 360.4 829.3C360.0 829.7 359.6 830.0 359.1 830.2C358.6 830.4 358.1 830.6 357.6 830.6C357.1 830.6 356.6 830.4 356.1 830.2C355.6 830.0 355.2 829.7 354.8 829.3C354.5 828.9 354.2 828.4 354.0 827.9C353.8 827.4 353.7 826.8 353.7 826.3C353.7 825.8 353.8 825.2 354.0 824.7C354.2 824.2 354.5 823.7 354.8 823.3C355.2 822.9 355.6 822.6 356.1 822.4C356.6 822.2 357.1 822.0 357.6 822.0C358.1 822.0 358.6 822.2 359.1 822.4C359.6 822.6 360.0 822.9 360.4 823.3C360.7 823.7 361.0 824.2 361.2 824.7C361.4 825.2 361.5 825.8 361.5 826.3Z" stroke="#111" stroke-width="0.75" fill="none"/>
<path d="M361.0 826.3C361.0 826.8 360.9 827.3 360.7 827.7C360.6 828.1 360.3 828.6 360.0 828.9C359.7 829.2 359.3 829.5 358.9 829.7C358.5 829.9 358.0 830.0 357.6 830.0C357.2 830.0 356.7 829.9 356.3 829.7C355.9 829.5 355.5 829.2 355.2 828.9C354.9 828.6 354.6 828.1 354.5 827.7C354.3 827.3 354.2 826.8 354.2 826.3C354.2 825.8 354.3 825.3 354.5 824.9C354.6 824.5 354.9 824.0 355.2 823.7C355.5 823.4 355.9 823.1 356.3 822.9C356.7 822.7 357.2 822.6 357.6 822.6C358.0 822.6 358.5 822.7 358.9 822.9C359.3 823.1 359.7 823.4 360.0 823.7C360.3 824.0 360.6 824.5 360.7 824.9C360.9 825.3 361.0 825.8 361.0 826.3Z" stroke="#111" stroke-width="0.75" fill="none"/>
<path d="M360.5 826.3C360.5 826.7 360.4 827.1 360.3 827.5C360.1 827.9 359.9 828.2 359.6 828.5C359.4 828.8 359.0 829.0 358.7 829.2C358.4 829.3 358.0 829.4 357.6 829.4C357.2 829.4 356.8 829.3 356.5 829.2C356.2 829.0 355.8 828.8 355.6 828.5C355.3 828.2 355.1 827.9 354.9 827.5C354.8 827.1 354.7 826.7 354.7 826.3C354.7 825.9 354.8 825.5 354.9 825.1C355.1 824.7 355.3 824.4 355.6 824.1C355.8 823.8 356.2 823.6 356.5 823.4C356.8 823.3 357.2 823.2 357.6 823.2C358.0 823.2 358.4 823.3 358.7 823.4C359.0 823.6 359.4 823.8 359.6 824.1C359.9 824.4 360.1 824.7 360.3 825.1C360.4 825.5 360.5 825.9 360.5 826.3Z" stroke="#111" stroke-width="0.75" fill="none"/>
<path d="M359.9 826.3C359.9 826.6 359.9 827.0 359.8 827.3C359.7 827.6 359.5 827.9 359.3 828.1C359.0 828.3 358.8 828.5 358.5 828.6C358.2 828.8 357.9 828.8 357.6 828.8C357.3 828.8 357.0 828.8 356.7 828.6C356.4 828.5 356.2 828.3 355.9 828.1C355.7 827.9 355.5 827.6 355.4 827.3C355.3 827.0 355.3 826.6 355.3 826.3C355.3 826.0 355.3 825.6 355.4 825.3C355.5 825.0 355.7 824.7 355.9 824.5C356.2 824.3 356.4 824.1 356.7 824.0C357.0 823.8 357.3 823.8 357.6 823.8C357.9 823.8 358.2 823.8 358.5 824.0C358.8 824.1 359.0 824.3 359.3 824.5C359.5 824.7 359.7 825.0 359.8 825.3C359.9 825.6 359.9 826.0 359.9 826.3Z" stroke="#111" stroke-width="0.75" fill="none"/>
<path d="M359.4 826.3C359.4 826.5 359.4 826.8 359.3 827.0C359.2 827.3 359.0 827.5 358.9 827.7C358.7 827.9 358.5 828.0 358.3 828.1C358.1 828.2 357.8 828.3 357.6 828.3C357.4 828.3 357.1 828.2 356.9 828.1C356.7 828.0 356.5 827.9 356.3 827.7C356.2 827.5 356.0 827.3 355.9 827.0C355.8 826.8 355.8 826.5 355.8 826.3C355.8 826.1 355.8 825.8 355.9 825.6C356.0 825.3 356.2 825.1 356.3 824.9C356.5 824.7 356.7 824.6 356.9 824.5C357.1 824.4 357.4 824.3 357.6 824.3C357.8 824.3 358.1 824.4 358.3 824.5C358.5 824.6 358.7 824.7 358.9 824.9C359.0 825.1 359.2 825.3 359.3 825.6C359.4 825.8 359.4 826.1 359.4 826.3Z" stroke="#111" stroke-width="0.75" fill="none"/>
<path d="M358.9 826.3C358.9 826.5 358.8 826.7 358.8 826.8C358.7 827.0 358.6 827.2 358.5 827.3C358.4 827.4 358.2 827.5 358.1 827.6C357.9 827.6 357.8 827.7 357.6 827.7C357.4 827.7 357.3 827.6 357.1 827.6C357.0 827.5 356.8 827.4 356.7 827.3C356.6 827.2 356.5 827.0 356.4 826.8C356.4 826.7 356.3 826.5 356.3 826.3C356.3 826.1 356.4 825.9 356.4 825.8C356.5 825.6 356.6 825.4 356.7 825.3C356.8 825.2 357.0 825.1 357.1 825.0C357.3 825.0 357.4 824.9 357.6 824.9C357.8 824.9 357.9 825.0 358.1 825.0C358.2 825.1 358.4 825.2 358.5 825.3C358.6 825.4 358.7 825.6 358.8 825.8C358.8 825.9 358.9 826.1 358.9 826.3Z" stroke="#111" stroke-width="0.75" fill="none"/>
<path d="M358.4 826.3C358.4 826.4 358.3 826.5 358.3 826.6C358.3 826.7 358.2 826.8 358.1 826.9C358.1 826.9 358.0 827.0 357.9 827.0C357.8 827.1 357.7 827.1 357.6 827.1C357.5 827.1 357.4 827.1 357.3 827.0C357.2 827.0 357.1 826.9 357.1 826.9C357.0 826.8 356.9 826.7 356.9 826.6C356.9 826.5 356.9 826.4 356.9 826.3C356.9 826.2 356.9 826.1 356.9 826.0C356.9 825.9 357.0 825.8 357.1 825.7C357.1 825.7 357.2 825.6 357.3 825.6C357.4 825.5 357.5 825.5 357.6 825.5C357.7 825.5 357.8 825.5 357.9 825.6C358.0 825.6 358.1 825.7 358.1 825.7C358.2 825.8 358.3 825.9 358.3 826.0C358.3 826.1 358.4 826.2 358.4 826.3Z" stroke="#111" stroke-width="0.75" fill="none"/>
<circle cx="357.6" cy="826.5" r="0.8" fill="#fff"/>
<path d="M359.2 820.1h.1M360.1 816.5h.1M359.5 821.0h.1M358.0 821.4h.1M360.4 817.3h.1M359.5 821.3h.1M357.5 819.9h.1M356.2 819.7h.1M358.9 822.0h.1M357.3 823.9h.1M357.0 820.3h.1M359.6 817.9h.1" stroke="#222" stroke-width="0.80" stroke-linecap="round" opacity="0.8"/>
<ellipse cx="358.6" cy="832.0" rx="1.7" ry="1.0" fill="#222"/>
<path d="M495.2 824.4h.1M508.0 824.4h.1M476.9 827.5h.1M486.4 825.0h.1M490.0 821.9h.1M501.1 823.8h.1M475.4 816.9h.1M503.5 821.3h.1M494.6 828.7h.1M496.2 818.1h.1M491.0 815.8h.1M496.3 822.3h.1M490.6 819.3h.1M492.6 821.3h.1M502.5 819.8h.1M487.1 816.4h.1M490.2 817.8h.1M497.1 816.9h.1M489.7 827.8h.1M487.0 813.3h.1M486.3 819.2h.1M492.8 823.1h.1M499.3 822.2h.1M480.1 827.2h.1M486.6 818.4h.1M493.0 822.5h.1M493.6 813.5h.1M505.3 814.9h.1M481.7 819.7h.1M493.5 820.4h.1M485.0 817.0h.1M485.0 818.2h.1M498.1 823.7h.1M504.3 824.5h.1M481.8 821.7h.1M480.7 821.6h.1M508.2 817.1h.1M492.6 825.1h.1M484.0 817.8h.1M503.2 818.4h.1M503.5 814.2h.1M498.6 822.0h.1M477.5 817.3h.1M486.9 822.8h.1M486.9 820.4h.1M479.7 828.9h.1M503.6 822.0h.1M489.1 820.9h.1M476.1 820.2h.1M493.8 828.9h.1M503.9 824.9h.1M514.0 820.6h.1M502.0 818.4h.1M499.7 820.6h.1M511.8 815.0h.1M499.8 827.5h.1M491.1 821.6h.1M487.5 815.6h.1M504.1 819.6h.1M487.8 824.4h.1M501.3 824.0h.1M518.0 818.7h.1M495.2 817.2h.1M489.1 824.3h.1M500.1 821.1h.1M503.6 817.0h.1M487.7 821.6h.1M497.0 824.6h.1M487.6 811.4h.1M508.0 821.3h.1M495.7 821.4h.1M495.1 816.5h.1M489.5 822.5h.1M486.2 818.2h.1M499.7 819.5h.1M493.0 817.0h.1M506.1 817.1h.1M476.2 813.0h.1M494.2 819.2h.1M495.0 821.5h.1M501.5 827.8h.1M490.9 817.6h.1M482.5 826.1h.1M511.9 812.5h.1M484.9 820.7h.1M501.7 824.7h.1M488.2 821.9h.1M497.6 819.1h.1M496.3 817.8h.1M492.7 820.9h.1M502.2 817.5h.1M493.3 821.0h.1M487.9 821.3h.1M489.7 822.8h.1M492.1 822.1h.1M488.2 818.9h.1M477.9 811.7h.1M510.7 827.7h.1M489.1 823.7h.1M490.4 814.5h.1M501.8 825.3h.1M489.3 821.2h.1" stroke="#222" stroke-width="0.80" stroke-linecap="round" opacity="0.6"/>
<path d="M469.1 798.6h.1M467.5 795.4h.1M467.8 802.7h.1M467.9 800.5h.1M469.2 805.7h.1M468.9 804.0h.1M468.5 801.2h.1M471.6 804.4h.1M469.5 809.8h.1M467.0 803.5h.1" stroke="#222" stroke-width="0.80" stroke-linecap="round" opacity="0.6"/>
<path d="M469.6 812.5C471.6 812.6 473.9 813.2 476.0 814.0C478.1 814.8 480.0 815.8 482.0 817.0C484.0 818.2 487.8 820.2 488.0 821.5C488.2 822.8 485.0 823.9 483.0 825.0C481.0 826.1 478.2 827.2 476.0 828.0C473.8 828.8 471.6 829.6 469.6 829.8C467.6 830.0 465.4 829.8 464.0 829.0C462.6 828.2 461.9 827.0 461.5 825.0C461.1 823.0 461.1 818.9 461.5 817.0C461.9 815.1 462.6 814.2 464.0 813.5C465.4 812.8 467.6 812.4 469.6 812.5Z" stroke="#111" stroke-width="0.65" fill="none"/>
<path d="M468.4 813.1C470.1 813.2 472.0 813.8 473.8 814.5C475.5 815.2 477.1 816.2 478.8 817.3C480.5 818.5 483.7 820.3 483.8 821.5C484.0 822.7 481.3 823.7 479.6 824.8C478.0 825.8 475.6 826.8 473.8 827.5C471.9 828.3 470.1 829.1 468.4 829.2C466.7 829.4 464.8 829.2 463.7 828.5C462.5 827.7 461.9 826.6 461.6 824.8C461.2 822.9 461.2 819.1 461.6 817.3C461.9 815.5 462.5 814.8 463.7 814.1C464.8 813.4 466.7 813.1 468.4 813.1Z" stroke="#111" stroke-width="0.65" fill="none"/>
<path d="M467.3 813.8C468.7 813.8 470.4 814.4 471.8 815.0C473.2 815.7 474.6 816.6 476.0 817.6C477.4 818.7 480.1 820.4 480.2 821.5C480.3 822.6 478.1 823.6 476.7 824.5C475.3 825.4 473.4 826.4 471.8 827.1C470.2 827.8 468.7 828.5 467.3 828.6C465.9 828.8 464.3 828.6 463.4 828.0C462.5 827.3 461.9 826.2 461.6 824.5C461.4 822.8 461.4 819.3 461.6 817.6C461.9 816.0 462.5 815.3 463.4 814.6C464.3 814.0 465.9 813.7 467.3 813.8Z" stroke="#111" stroke-width="0.65" fill="none"/>
<path d="M466.4 814.3C467.6 814.4 468.9 814.9 470.1 815.5C471.3 816.1 472.4 816.9 473.6 817.9C474.8 818.9 477.0 820.4 477.1 821.5C477.2 822.6 475.3 823.4 474.2 824.3C473.0 825.2 471.4 826.1 470.1 826.7C468.8 827.3 467.6 828.0 466.4 828.1C465.2 828.3 463.9 828.1 463.2 827.5C462.4 826.9 462.0 825.9 461.7 824.3C461.5 822.7 461.5 819.4 461.7 817.9C462.0 816.4 462.4 815.7 463.2 815.1C463.9 814.5 465.2 814.2 466.4 814.3Z" stroke="#111" stroke-width="0.65" fill="none"/>
<path d="M473.7 822.0C473.7 823.0 473.5 824.2 473.3 825.1C473.0 826.1 472.6 827.1 472.1 827.8C471.6 828.5 471.0 829.2 470.3 829.6C469.7 830.0 468.9 830.2 468.2 830.2C467.5 830.2 466.7 830.0 466.1 829.6C465.4 829.2 464.8 828.5 464.3 827.8C463.8 827.1 463.4 826.1 463.1 825.1C462.9 824.2 462.7 823.0 462.7 822.0C462.7 821.0 462.9 819.8 463.1 818.9C463.4 817.9 463.8 816.9 464.3 816.2C464.8 815.5 465.4 814.8 466.1 814.4C466.7 814.0 467.5 813.8 468.2 813.8C468.9 813.8 469.7 814.0 470.3 814.4C471.0 814.8 471.6 815.5 472.1 816.2C472.6 816.9 473.0 817.9 473.3 818.9C473.5 819.8 473.7 821.0 473.7 822.0Z" stroke="#111" stroke-width="0.7" fill="none"/>
<path d="M472.9 822.0C472.9 822.9 472.8 823.9 472.5 824.7C472.3 825.6 471.9 826.4 471.5 827.0C471.1 827.7 470.5 828.2 470.0 828.6C469.4 828.9 468.8 829.1 468.1 829.1C467.5 829.1 466.9 828.9 466.3 828.6C465.8 828.2 465.2 827.7 464.8 827.0C464.4 826.4 464.0 825.6 463.8 824.7C463.5 823.9 463.4 822.9 463.4 822.0C463.4 821.1 463.5 820.1 463.8 819.3C464.0 818.5 464.4 817.7 464.8 817.0C465.2 816.4 465.8 815.8 466.3 815.5C466.9 815.1 467.5 814.9 468.1 814.9C468.8 814.9 469.4 815.1 470.0 815.5C470.5 815.8 471.1 816.4 471.5 817.0C471.9 817.7 472.3 818.5 472.5 819.3C472.8 820.1 472.9 821.1 472.9 822.0Z" stroke="#111" stroke-width="0.7" fill="none"/>
<path d="M472.2 822.1C472.2 822.8 472.1 823.7 471.9 824.4C471.7 825.1 471.4 825.8 471.0 826.4C470.6 826.9 470.2 827.4 469.7 827.7C469.2 828.0 468.6 828.2 468.1 828.2C467.6 828.2 467.0 828.0 466.5 827.7C466.0 827.4 465.6 826.9 465.2 826.4C464.8 825.8 464.5 825.1 464.3 824.4C464.1 823.7 464.0 822.8 464.0 822.1C464.0 821.3 464.1 820.4 464.3 819.7C464.5 819.0 464.8 818.3 465.2 817.7C465.6 817.2 466.0 816.7 466.5 816.4C467.0 816.1 467.6 815.9 468.1 815.9C468.6 815.9 469.2 816.1 469.7 816.4C470.2 816.7 470.6 817.2 471.0 817.7C471.4 818.3 471.7 819.0 471.9 819.7C472.1 820.4 472.2 821.3 472.2 822.1Z" stroke="#111" stroke-width="0.7" fill="none"/>
<path d="M471.6 822.1C471.6 822.7 471.5 823.5 471.3 824.1C471.1 824.7 470.8 825.3 470.5 825.8C470.2 826.2 469.8 826.6 469.4 826.9C469.0 827.1 468.5 827.3 468.1 827.3C467.6 827.3 467.1 827.1 466.7 826.9C466.3 826.6 465.9 826.2 465.6 825.8C465.3 825.3 465.0 824.7 464.8 824.1C464.7 823.5 464.6 822.7 464.6 822.1C464.6 821.4 464.7 820.7 464.8 820.1C465.0 819.5 465.3 818.9 465.6 818.4C465.9 817.9 466.3 817.5 466.7 817.3C467.1 817.0 467.6 816.9 468.1 816.9C468.5 816.9 469.0 817.0 469.4 817.3C469.8 817.5 470.2 817.9 470.5 818.4C470.8 818.9 471.1 819.5 471.3 820.1C471.5 820.7 471.6 821.4 471.6 822.1Z" stroke="#111" stroke-width="0.7" fill="none"/>
<path d="M470.9 822.1C470.9 822.6 470.8 823.2 470.7 823.8C470.6 824.3 470.3 824.8 470.1 825.2C469.8 825.5 469.5 825.9 469.1 826.1C468.8 826.3 468.4 826.4 468.0 826.4C467.6 826.4 467.2 826.3 466.9 826.1C466.6 825.9 466.2 825.5 466.0 825.2C465.7 824.8 465.5 824.3 465.3 823.8C465.2 823.2 465.1 822.6 465.1 822.1C465.1 821.5 465.2 820.9 465.3 820.4C465.5 819.9 465.7 819.4 466.0 819.0C466.2 818.6 466.6 818.3 466.9 818.1C467.2 817.9 467.6 817.8 468.0 817.8C468.4 817.8 468.8 817.9 469.1 818.1C469.5 818.3 469.8 818.6 470.1 819.0C470.3 819.4 470.6 819.9 470.7 820.4C470.8 820.9 470.9 821.5 470.9 822.1Z" stroke="#111" stroke-width="0.7" fill="none"/>
<path d="M470.3 822.1C470.3 822.6 470.2 823.0 470.1 823.4C470.0 823.9 469.8 824.3 469.6 824.6C469.4 824.9 469.1 825.2 468.9 825.3C468.6 825.5 468.3 825.6 468.0 825.6C467.7 825.6 467.4 825.5 467.1 825.3C466.8 825.2 466.5 824.9 466.3 824.6C466.1 824.3 465.9 823.9 465.8 823.4C465.7 823.0 465.6 822.6 465.6 822.1C465.6 821.7 465.7 821.2 465.8 820.8C465.9 820.4 466.1 820.0 466.3 819.7C466.5 819.3 466.8 819.1 467.1 818.9C467.4 818.7 467.7 818.6 468.0 818.6C468.3 818.6 468.6 818.7 468.9 818.9C469.1 819.1 469.4 819.3 469.6 819.7C469.8 820.0 470.0 820.4 470.1 820.8C470.2 821.2 470.3 821.7 470.3 822.1Z" stroke="#111" stroke-width="0.7" fill="none"/>
<path d="M469.7 822.1C469.7 822.5 469.6 822.8 469.6 823.1C469.5 823.5 469.3 823.8 469.2 824.0C469.0 824.2 468.8 824.4 468.6 824.6C468.4 824.7 468.2 824.8 467.9 824.8C467.7 824.8 467.5 824.7 467.3 824.6C467.0 824.4 466.8 824.2 466.7 824.0C466.5 823.8 466.4 823.5 466.3 823.1C466.2 822.8 466.2 822.5 466.2 822.1C466.2 821.8 466.2 821.4 466.3 821.1C466.4 820.8 466.5 820.5 466.7 820.3C466.8 820.0 467.0 819.8 467.3 819.7C467.5 819.6 467.7 819.5 467.9 819.5C468.2 819.5 468.4 819.6 468.6 819.7C468.8 819.8 469.0 820.0 469.2 820.3C469.3 820.5 469.5 820.8 469.6 821.1C469.6 821.4 469.7 821.8 469.7 822.1Z" stroke="#111" stroke-width="0.7" fill="none"/>
<path d="M469.1 822.2C469.1 822.4 469.1 822.6 469.0 822.8C468.9 823.1 468.9 823.3 468.7 823.4C468.6 823.6 468.5 823.7 468.4 823.8C468.2 823.9 468.0 824.0 467.9 824.0C467.7 824.0 467.6 823.9 467.4 823.8C467.3 823.7 467.1 823.6 467.0 823.4C466.9 823.3 466.8 823.1 466.8 822.8C466.7 822.6 466.7 822.4 466.7 822.2C466.7 821.9 466.7 821.7 466.8 821.5C466.8 821.3 466.9 821.0 467.0 820.9C467.1 820.7 467.3 820.6 467.4 820.5C467.6 820.4 467.7 820.4 467.9 820.4C468.0 820.4 468.2 820.4 468.4 820.5C468.5 820.6 468.6 820.7 468.7 820.9C468.9 821.0 468.9 821.3 469.0 821.5C469.1 821.7 469.1 821.9 469.1 822.2Z" stroke="#111" stroke-width="0.7" fill="none"/>
<path d="M468.5 822.2C468.5 822.3 468.5 822.4 468.5 822.6C468.4 822.7 468.4 822.8 468.3 822.9C468.3 823.0 468.2 823.0 468.1 823.1C468.0 823.1 467.9 823.2 467.8 823.2C467.8 823.2 467.7 823.1 467.6 823.1C467.5 823.0 467.4 823.0 467.4 822.9C467.3 822.8 467.3 822.7 467.2 822.6C467.2 822.4 467.2 822.3 467.2 822.2C467.2 822.1 467.2 821.9 467.2 821.8C467.3 821.7 467.3 821.6 467.4 821.5C467.4 821.4 467.5 821.3 467.6 821.3C467.7 821.2 467.8 821.2 467.8 821.2C467.9 821.2 468.0 821.2 468.1 821.3C468.2 821.3 468.3 821.4 468.3 821.5C468.4 821.6 468.4 821.7 468.5 821.8C468.5 821.9 468.5 822.1 468.5 822.2Z" stroke="#111" stroke-width="0.7" fill="none"/>
<circle cx="468" cy="822.3" r="0.7" fill="#fff"/>
<ellipse cx="468.9" cy="832.0" rx="1.7" ry="1.0" fill="#222"/>
</svg></body></html>
